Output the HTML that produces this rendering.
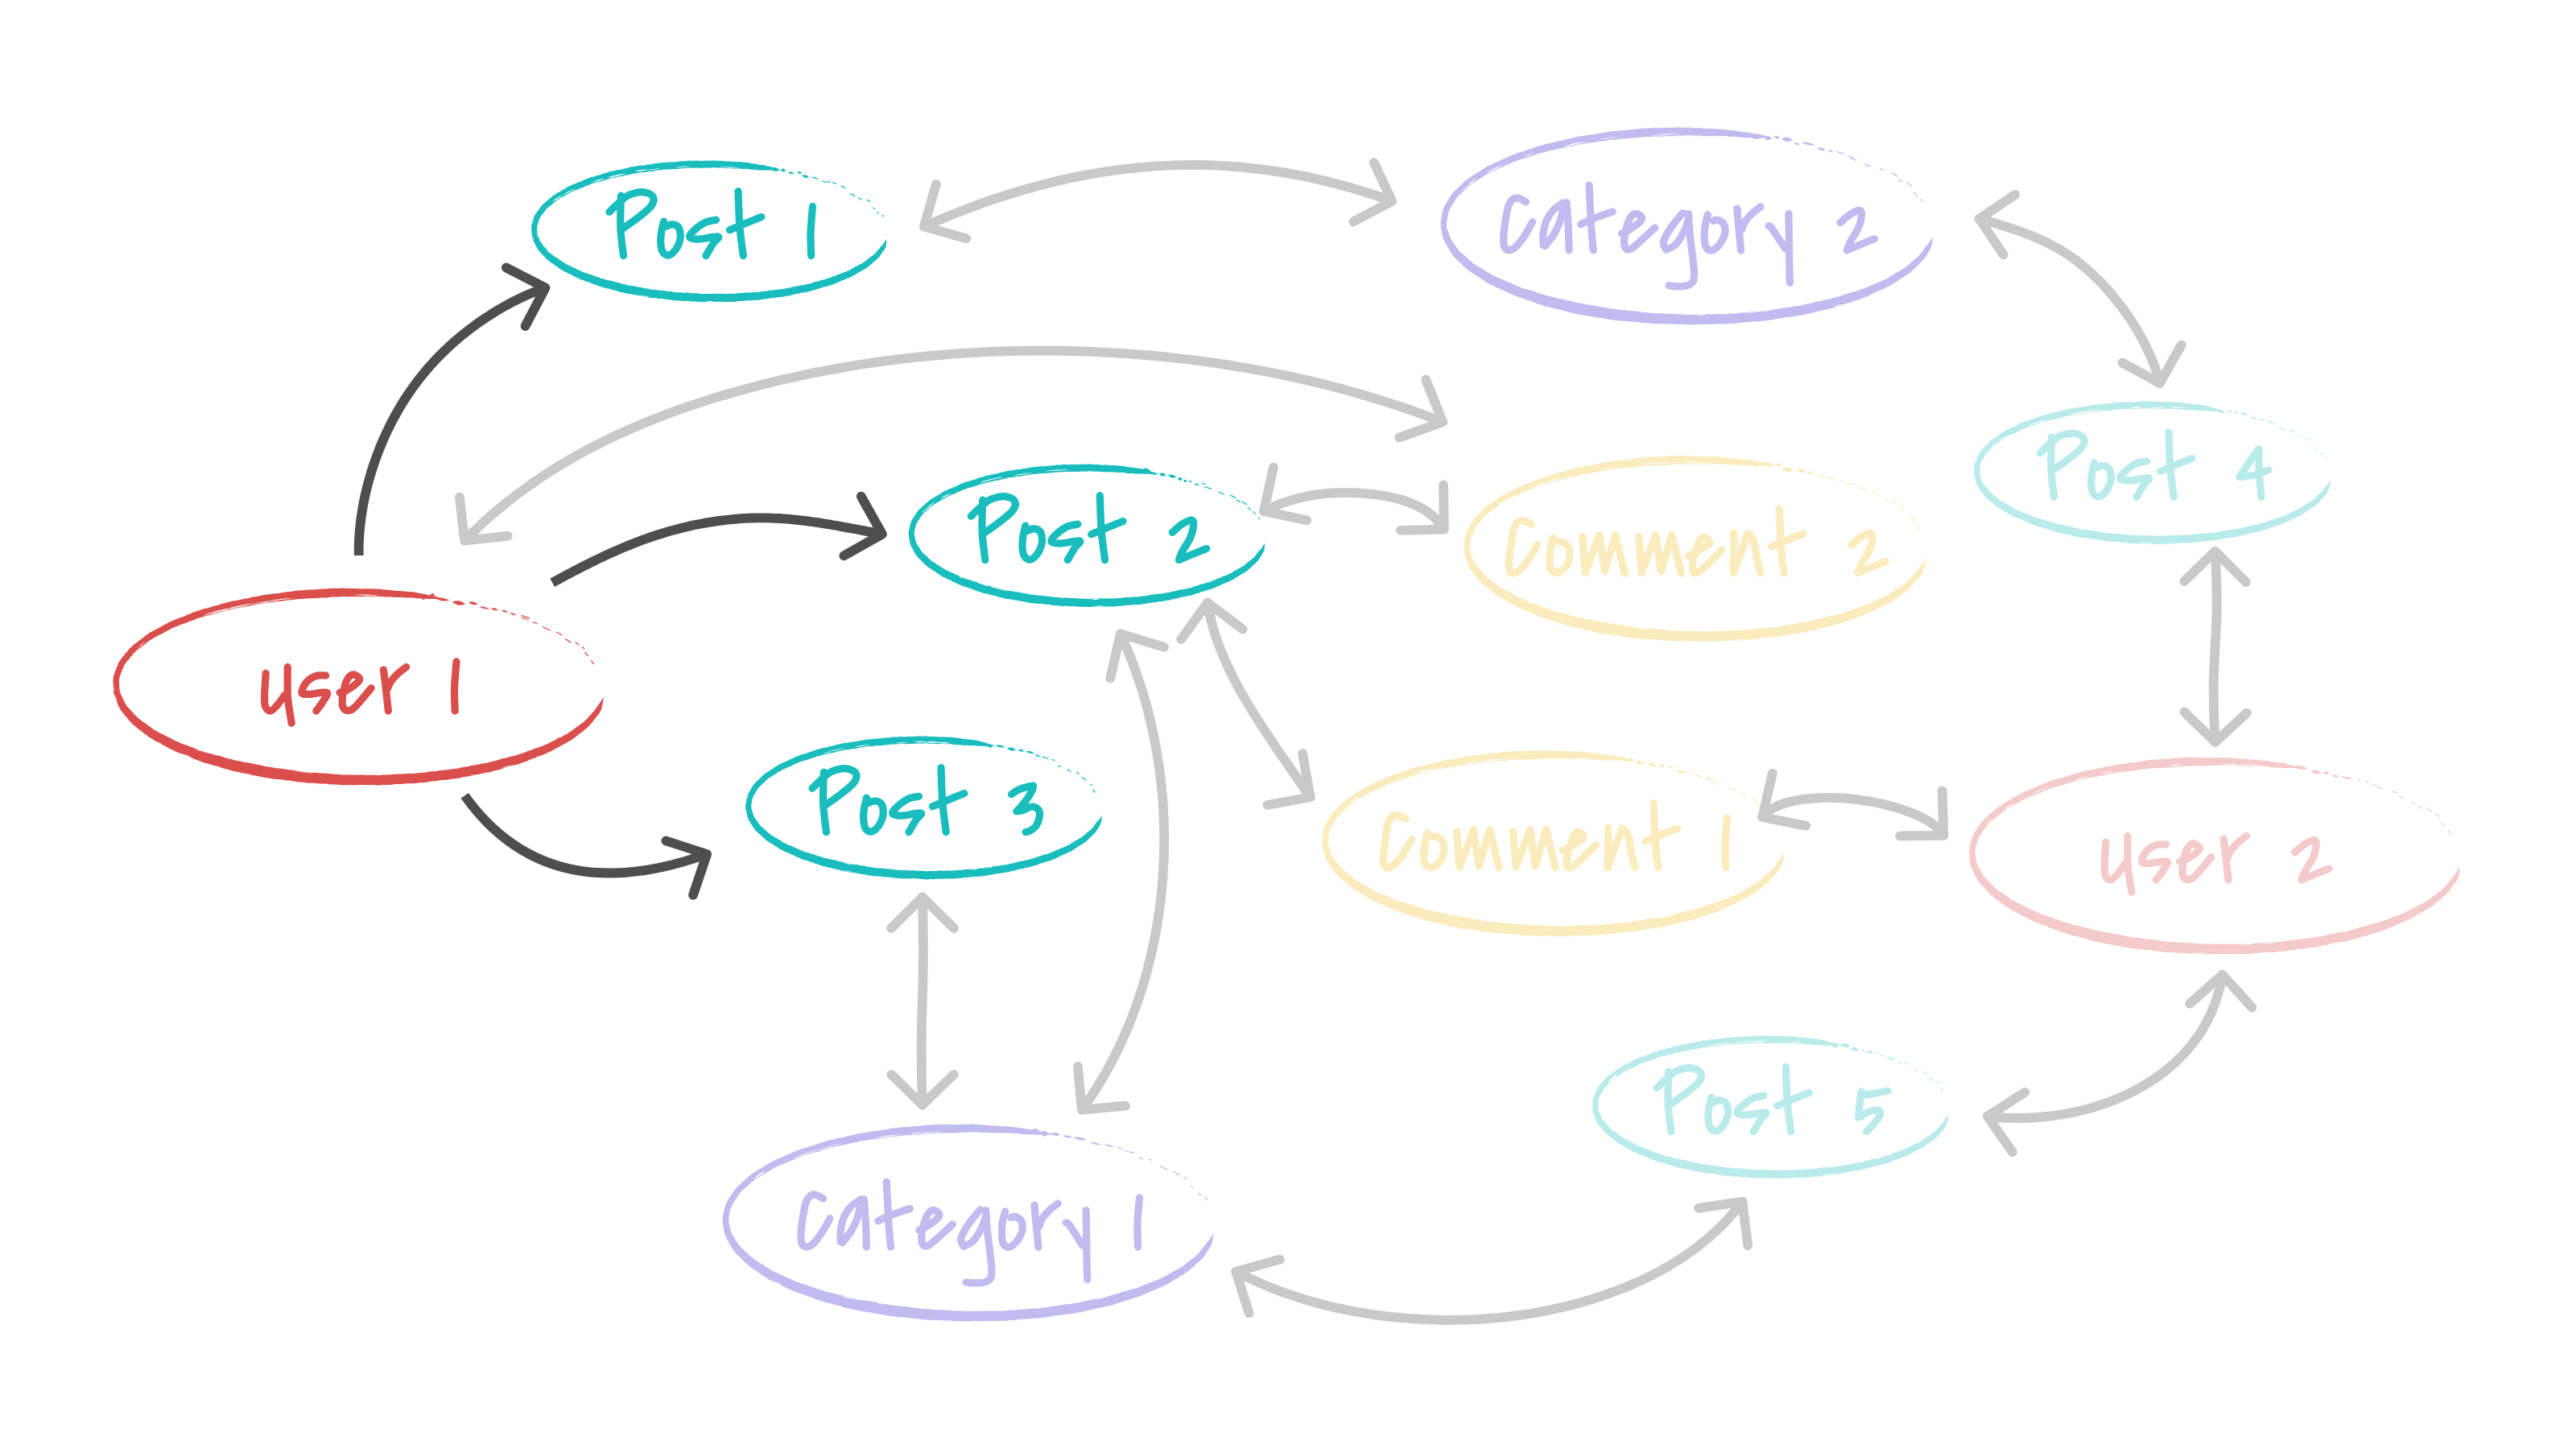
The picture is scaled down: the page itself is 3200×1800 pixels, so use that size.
<!DOCTYPE html>
<html><head><meta charset="utf-8"><title>Diagram</title>
<style>html,body{margin:0;padding:0;background:#fff;width:3200px;height:1800px;overflow:hidden;font-family:"Liberation Sans",sans-serif}svg{display:block}</style>
</head><body><svg xmlns="http://www.w3.org/2000/svg" width="3200" height="1800" viewBox="0 0 3200 1800"><path d="M1101.4 296.5L1101.5 297.3L1101.4 298L1101.2 298.7L1101.1 299.4L1101.1 300.2L1101.2 301L1101.2 301.9L1101.1 302.6L1100.9 303.4L1100.7 304.2L1100.7 305L1100.6 305.9L1100.5 306.8L1100.1 307.5L1099.7 308.2L1099.2 308.9L1098.8 309.7L1098.5 310.5L1098 311.2L1097.4 311.8L1096.7 312.4L1096.3 313.1L1095.9 313.9L1095.5 314.7L1094.9 315.5L1094.3 316.1L1093.7 316.8L1093.2 317.6L1092.8 318.5L1092.2 319.3L1091.6 319.9L1090.8 320.5L1090.1 321.2L1089.5 322L1088.9 322.7L1088.1 323.4L1087.3 323.9L1086.4 324.5L1085.6 325.1L1084.9 325.9L1084.2 326.6L1083.4 327.3L1082.5 327.9L1081.7 328.5L1080.9 329.2L1080.2 330.1L1079.4 330.8L1078.5 331.4L1077.5 332L1076.6 332.6L1075.7 333.3L1074.8 334L1073.9 334.6L1072.8 335.1L1071.7 335.6L1070.7 336.1L1069.7 336.8L1068.7 337.5L1067.7 338L1066.6 338.5L1065.5 339L1064.5 339.7L1063.5 340.5L1062.4 341.2L1061.3 341.8L1060.2 342.3L1059 342.8L1058 343.5L1056.9 344.2L1055.7 344.8L1054.5 345.2L1053.2 345.6L1052 346.1L1050.8 346.7L1049.6 347.3L1048.3 347.8L1047 348.1L1045.7 348.5L1044.4 349.1L1043.2 349.8L1041.9 350.4L1040.6 350.9L1039.3 351.4L1038 351.9L1036.7 352.5L1035.4 353.2L1034 353.7L1032.6 354.1L1031.2 354.4L1029.8 354.8L1028.4 355.3L1027 355.8L1025.6 356.2L1024.1 356.5L1022.6 356.8L1021.1 357.2L1019.7 357.8L1018.3 358.3L1016.8 358.7L1015.3 359L1013.8 359.4L1012.3 360L1010.8 360.6L1009.3 361.1L1007.8 361.4L1006.2 361.7L1004.6 362L1003.1 362.5L1001.6 363L1000 363.3L998.3 363.4L996.7 363.6L995.1 363.9L993.5 364.4L991.9 364.8L990.3 365.1L988.6 365.3L987 365.6L985.4 366L983.7 366.5L982.1 367L980.4 367.2L978.7 367.4L977.1 367.8L975.4 368.2L973.7 368.6L972 368.8L970.3 368.9L968.5 369L966.8 369.2L965.1 369.5L963.4 369.8L961.6 370L959.9 370L958.1 370.2L956.4 370.5L954.7 371L952.9 371.3L951.1 371.5L949.4 371.6L947.6 371.8L945.8 372.2L944.1 372.5L942.3 372.7L940.5 372.7L938.7 372.8L936.9 372.9L935.1 373.1L933.2 373.3L931.4 373.3L929.6 373.3L927.8 373.3L926 373.5L924.1 373.8L922.3 374L920.5 374.1L918.7 374.1L916.8 374.2L915 374.5L913.2 374.8L911.3 374.9L909.5 374.9L907.6 374.8L905.8 374.9L903.9 375L902.1 375.1L900.2 375L898.4 374.9L896.5 374.7L894.7 374.8L892.8 374.9L891 375L889.1 374.9L887.3 374.8L885.4 374.9L883.5 375L881.7 375.2L879.8 375.3L878 375.2L876.1 375.1L874.3 375L872.4 375.1L870.5 375.1L868.7 375L866.8 374.7L865 374.5L863.1 374.4L861.3 374.4L859.4 374.4L857.6 374.2L855.8 373.9L853.9 373.8L852.1 373.9L850.2 373.9L848.4 373.9L846.6 373.7L844.7 373.5L842.9 373.4L841.1 373.5L839.2 373.4L837.4 373.2L835.6 372.9L833.8 372.6L832 372.4L830.2 372.3L828.4 372.1L826.6 371.8L824.8 371.4L823 371.1L821.2 371L819.4 371L817.6 370.9L815.9 370.6L814.1 370.3L812.3 370.1L810.5 370.1L808.8 370L807 369.7L805.3 369.4L803.6 369L801.8 368.7L800.1 368.5L798.4 368.2L796.7 367.8L795 367.3L793.3 366.9L791.6 366.7L789.9 366.5L788.2 366.3L786.5 365.9L784.9 365.5L783.2 365.2L781.5 365.1L779.8 364.9L778.1 364.6L776.5 364.2L774.9 363.7L773.3 363.4L771.6 363.1L770 362.8L768.4 362.3L766.9 361.7L765.4 361.1L763.8 360.7L762.2 360.4L760.6 360.1L759.1 359.5L757.6 359L756 358.6L754.5 358.4L752.9 358.1L751.4 357.7L749.9 357.2L748.4 356.7L746.9 356.3L745.4 356L743.9 355.6L742.5 355L741.1 354.3L739.8 353.7L738.3 353.3L736.9 352.8L735.5 352.4L734.2 351.7L732.8 351.1L731.5 350.6L730.1 350.2L728.6 349.9L727.3 349.4L726 348.8L724.7 348.2L723.3 347.8L722 347.4L720.7 347L719.4 346.4L718.2 345.7L717 345L715.8 344.5L714.5 344L713.3 343.4L712.2 342.7L711 342L709.9 341.3L708.7 340.8L707.5 340.4L706.3 339.9L705.2 339.2L704.1 338.6L703 338L701.8 337.6L700.6 337.1L699.5 336.5L698.5 335.8L697.5 335.1L696.5 334.5L695.4 333.9L694.4 333.3L693.5 332.6L692.6 331.7L691.7 331L690.7 330.4L689.7 329.9L688.8 329.3L687.9 328.5L687.1 327.8L686.1 327.2L685.1 326.7L684.2 326.2L683.3 325.6L682.5 324.8L681.8 324.1L680.9 323.4L680 322.9L679.2 322.2L678.6 321.4L677.9 320.6L677.3 319.8L676.5 319.1L675.8 318.5L675.1 317.8L674.5 317L673.9 316.2L673.3 315.5L672.5 314.9L671.7 314.3L671.1 313.6L670.6 312.8L670 312.1L669.4 311.4L668.7 310.8L668.1 310.1L667.7 309.3L667.4 308.4L667 307.6L666.5 306.9L666 306.2L665.6 305.4L665.3 304.6L665 303.8L664.7 303L664.2 302.3L663.7 301.6L663.3 300.9L663 300.1L662.8 299.3L662.4 298.6L661.9 297.9L661.6 297.2L661.4 296.4L661.3 295.5L661.2 294.7L661 294L660.7 293.2L660.6 292.4L660.6 291.6L660.7 290.8L660.7 290L660.5 289.3L660.3 288.5L660.2 287.7L660.3 287L660.3 286.2L660.2 285.4L660 284.6L659.9 283.9L659.9 283.1L660.1 282.3L660.2 281.5L660.2 280.8L660.2 280L660.3 279.2L660.6 278.5L661 277.7L661.2 277L661.4 276.2L661.5 275.4L661.7 274.7L662.1 273.9L662.4 273.2L662.6 272.4L662.7 271.6L662.8 270.8L663.1 270L663.5 269.3L663.9 268.6L664.2 267.8L664.4 267L664.8 266.2L665.3 265.6L666 264.9L666.5 264.3L666.9 263.5L667.3 262.7L667.8 262L668.5 261.4L669.1 260.8L669.6 260.1L670 259.2L670.4 258.4L671 257.7L671.6 257.1L672.3 256.4L672.8 255.6L673.3 254.8L673.9 254L674.6 253.4L675.4 252.9L676.2 252.2L676.9 251.5L677.6 250.8L678.3 250.2L679.2 249.7L680.1 249.1L680.9 248.5L681.6 247.7L682.3 247L683.1 246.3L684 245.7L684.8 245.1L685.6 244.3L686.4 243.5L687.2 242.8L688.1 242.2L689.1 241.7L690.1 241.2L691 240.5L691.9 239.8L692.9 239.2L694 238.8L695.1 238.3L696.1 237.8L697.1 237.1L698 236.4L699.1 235.8L700.2 235.3L701.3 234.8L702.3 234.1L703.3 233.3L704.3 232.6L705.5 232.1L706.6 231.6L707.8 231.1L708.9 230.4L710 229.8L711.2 229.2L712.5 228.9L713.8 228.5L715 228L716.2 227.4L717.4 226.8L718.7 226.4L720 226L721.3 225.5L722.5 224.9L723.7 224.2L725 223.6L726.3 223.1L727.7 222.7L729 222.2L730.3 221.6L731.6 221L733 220.5L734.4 220.1L735.8 219.9L737.3 219.5L738.7 218.9L740.1 218.4L741.5 218.1L743 217.8L744.5 217.5L745.9 217L747.3 216.4L748.8 215.8L750.3 215.4L751.8 215.1L753.3 214.7L754.7 214.1L756.2 213.5L757.7 213.1L759.3 212.8L760.9 212.6L762.5 212.2L764 211.8L765.6 211.4L767.2 211.1L768.8 210.9L770.4 210.7L772 210.4L773.6 209.9L775.2 209.5L776.8 209.2L778.5 208.9L780.1 208.6L781.7 208.1L783.4 207.6L785 207.2L786.7 207L788.4 206.8L790.1 206.5L791.7 206.2L793.4 205.8L795.1 205.6L796.9 205.5L798.6 205.5L800.3 205.2L802.1 204.9L803.8 204.6L805.5 204.4L807.3 204.3L809 204.1L810.8 203.7L812.5 203.3L814.2 203L816 202.8L817.8 202.7L819.6 202.5L821.3 202.2L823.1 201.9L824.9 201.7L826.7 201.7L828.5 201.8L830.3 201.7L832.1 201.4L833.9 201.2L835.7 201.2L837.6 201.2L839.4 201.2L841.2 200.9L843 200.6L844.8 200.4L846.7 200.3L848.5 200.3L850.3 200.2L852.2 199.9L854 199.7L855.8 199.6L857.7 199.7L859.5 199.8L861.4 199.7L863.2 199.6L865.1 199.5L866.9 199.6L868.8 199.8L870.6 199.9L872.5 199.8L874.3 199.7L876.2 199.5L878 199.6L879.9 199.7L881.8 199.7L883.6 199.5L885.5 199.4L887.3 199.3L889.2 199.5L891 199.7L892.9 199.7L894.7 199.7L896.6 199.7L898.4 199.9L900.3 200.2L902.1 200.4L904 200.5L905.8 200.5L907.7 200.5L909.5 200.7L911.3 200.9L913.2 201L915 200.9L916.9 200.9L918.7 200.9L920.5 201.1L922.4 201.4L924.2 201.6L926 201.7L927.8 201.8L929.6 202.1L931.4 202.5L933.2 203L935 203.2L936.8 203.4L938.6 203.6L940.4 204L942.1 204.4L943.9 204.7L945.7 204.8L947.5 204.9L949.2 205.2L951 205.6L952.7 206.2L954.4 206.6L956.2 206.9L957.9 207.2L959.6 207.7L961.3 208.3L962.9 209L964.6 209.7L966.2 210.2L967.9 210.8L969.5 211.6L969.5 211.6L967.8 211.5L966 211.6L964.2 211.8L962.5 211.9L960.8 211.7L959 211.4L957.3 211.3L955.5 211.4L953.7 211.5L952 211.6L950.2 211.5L948.4 211.4L946.7 211.4L944.9 211.5L943.1 211.5L941.3 211.3L939.6 211L937.8 210.8L936 210.7L934.2 210.7L932.5 210.6L930.7 210.3L928.9 210L927.1 209.8L925.3 209.8L923.5 209.9L921.7 209.8L919.9 209.6L918.1 209.4L916.3 209.4L914.5 209.5L912.7 209.6L910.8 209.5L909 209.3L907.2 209.1L905.4 209.1L903.6 209.1L901.8 209.1L899.9 208.9L898.1 208.6L896.3 208.4L894.5 208.4L892.7 208.5L890.8 208.4L889 208.3L887.2 208.1L885.4 208.2L883.5 208.4L881.7 208.5L879.9 208.5L878 208.5L876.2 208.4L874.4 208.6L872.6 208.7L870.7 208.8L868.9 208.7L867.1 208.6L865.3 208.5L863.5 208.6L861.6 208.7L859.8 208.7L858 208.6L856.2 208.5L854.4 208.6L852.6 208.8L850.8 209.1L849 209.2L847.2 209.2L845.3 209.3L843.6 209.5L841.8 209.8L840 210L838.2 210L836.4 210L834.6 210.1L832.8 210.2L831.1 210.4L829.3 210.5L827.5 210.5L825.7 210.5L824 210.6L822.2 210.9L820.5 211.2L818.7 211.4L817 211.5L815.2 211.7L813.5 212L811.8 212.4L810.1 212.7L808.4 212.9L806.7 213L804.9 213.2L803.3 213.5L801.6 213.8L799.9 214L798.2 214.1L796.5 214.1L794.8 214.3L793.1 214.7L791.5 215L789.8 215.3L788.2 215.4L786.5 215.7L784.9 216L783.3 216.5L781.7 217L780.1 217.3L778.5 217.5L776.9 217.8L775.3 218.2L773.8 218.7L772.2 219L770.6 219.2L769 219.3L767.4 219.6L765.9 220L764.4 220.4L762.9 220.7L761.3 220.9L759.8 221.2L758.3 221.6L756.8 222.2L755.4 222.7L753.9 223.1L752.5 223.4L751 223.8L749.6 224.3L748.2 224.9L746.8 225.3L745.4 225.6L743.9 225.9L742.5 226.2L741.1 226.7L739.8 227.2L738.4 227.6L737 227.8L735.6 228.1L734.2 228.6L733 229.2L731.7 229.8L730.4 230.2L729.1 230.6L727.8 231.1L726.6 231.7L725.4 232.3L724.2 232.9L722.9 233.3L721.7 233.7L720.4 234.1L719.3 234.7L718.1 235.2L716.9 235.7L715.7 236L714.5 236.3L713.3 236.8L712.2 237.5L711.2 238.1L710 238.6L708.9 239L707.8 239.5L706.8 240.2L705.9 240.9L704.9 241.5L703.8 242L702.8 242.5L701.8 243L700.8 243.7L699.9 244.3L698.9 244.8L697.9 245.2L696.9 245.6L695.9 246.1L695.1 246.8L694.2 247.4L693.3 247.9L692.4 248.4L691.5 248.9L690.7 249.6L690 250.4L689.3 251.1L688.5 251.6L687.6 252.2L686.9 252.8L686.2 253.5L685.6 254.2L684.9 254.8L684 255.2L683.2 255.7L682.5 256.3L681.9 256.9L681.3 257.6L680.6 258.1L679.8 258.6L679.2 259.1L678.6 259.8L678.2 260.5L677.7 261.2L677.1 261.8L676.6 262.4L676.1 263L675.7 263.7L675.3 264.5L674.9 265.1L674.3 265.7L673.8 266.2L673.3 266.8L673 267.4L672.6 268.1L672.1 268.6L671.6 269.2L671.1 269.7L670.8 270.4L670.6 271L670.4 271.7L670 272.3L669.7 272.9L669.4 273.5L669.3 274.2L669.3 274.9L669.1 275.5L668.8 276.1L668.5 276.7L668.3 277.3L668.2 278L668.1 278.6L667.9 279.2L667.6 279.8L667.3 280.4L667.2 281L667.2 281.6L667.2 282.2L667.1 282.9L666.9 283.5L666.9 284.1L667 284.7L667.2 285.3L667.4 286L667.4 286.6L667.3 287.2L667.4 287.8L667.6 288.4L667.8 289L667.9 289.6L667.8 290.3L667.8 290.9L667.9 291.5L668.2 292.1L668.4 292.7L668.5 293.4L668.6 294.1L668.7 294.7L669.1 295.3L669.5 295.8L669.9 296.4L670.1 297L670.4 297.7L670.7 298.3L671.2 298.8L671.6 299.4L672 300L672.2 300.7L672.4 301.4L672.8 302L673.3 302.6L673.7 303.2L674.1 303.8L674.4 304.6L674.7 305.2L675.3 305.8L675.9 306.3L676.5 306.9L677 307.5L677.5 308.2L678.1 308.8L678.8 309.3L679.5 309.7L680.1 310.3L680.6 311L681.1 311.7L681.8 312.3L682.5 312.9L683.2 313.5L683.8 314.2L684.3 314.9L684.9 315.6L685.7 316.2L686.5 316.7L687.3 317.3L688 317.9L688.7 318.6L689.5 319.2L690.5 319.6L691.4 320L692.3 320.6L693.1 321.2L693.9 321.9L694.8 322.4L695.7 322.9L696.7 323.4L697.5 324.1L698.3 324.9L699.2 325.6L700.1 326.1L701.2 326.6L702.2 327.2L703.1 327.8L704.1 328.5L705.1 329L706.2 329.5L707.3 329.8L708.4 330.3L709.5 330.9L710.5 331.5L711.6 332L712.8 332.4L714 332.8L715.1 333.4L716.2 334.1L717.3 334.7L718.4 335.3L719.6 335.7L720.8 336.2L722 336.8L723.1 337.5L724.4 338.1L725.6 338.4L727 338.8L728.3 339.2L729.5 339.7L730.8 340.3L732.1 340.7L733.5 341L734.8 341.3L736.2 341.8L737.4 342.4L738.8 343L740.1 343.4L741.5 343.8L742.9 344.2L744.2 344.8L745.6 345.4L747 346L748.4 346.3L749.9 346.6L751.3 347L752.8 347.5L754.2 347.9L755.7 348.3L757.2 348.5L758.8 348.7L760.3 349.1L761.7 349.6L763.2 350.1L764.7 350.4L766.3 350.7L767.8 351L769.4 351.5L770.9 352.1L772.4 352.6L774 352.9L775.6 353.1L777.2 353.5L778.7 353.9L780.3 354.4L781.9 354.7L783.6 354.8L785.2 354.9L786.9 355.2L788.5 355.6L790.1 356L791.8 356.2L793.4 356.4L795.1 356.7L796.8 357.1L798.4 357.5L800.1 358L801.7 358.2L803.5 358.4L805.2 358.7L806.8 359.1L808.5 359.5L810.2 359.7L812 359.8L813.7 359.9L815.5 360.1L817.2 360.4L818.9 360.6L820.7 360.8L822.4 360.8L824.2 360.9L826 361.2L827.7 361.5L829.5 361.9L831.2 362L833 362.1L834.8 362.3L836.5 362.7L838.3 363L840.1 363.2L841.9 363.2L843.7 363.2L845.5 363.3L847.3 363.5L849.1 363.7L850.9 363.7L852.7 363.7L854.5 363.6L856.3 363.7L858.1 364L859.9 364.2L861.8 364.2L863.6 364.2L865.4 364.3L867.2 364.6L869 364.8L870.8 365L872.7 365L874.5 364.9L876.3 364.9L878.1 365L880 365.1L881.8 365.1L883.6 364.9L885.4 364.7L887.3 364.7L889.1 364.8L890.9 364.9L892.7 364.8L894.6 364.7L896.4 364.7L898.2 364.8L900 365L901.9 365L903.7 364.9L905.5 364.8L907.3 364.8L909.1 364.8L910.9 364.9L912.7 364.8L914.5 364.5L916.3 364.2L918.1 364.1L919.9 364.1L921.7 364L923.5 363.8L925.3 363.6L927.1 363.4L928.9 363.4L930.7 363.4L932.5 363.4L934.2 363.3L936 363L937.8 362.9L939.6 362.9L941.3 362.9L943.1 362.8L944.8 362.4L946.6 362.1L948.3 361.9L950 361.8L951.8 361.6L953.5 361.3L955.2 360.9L956.9 360.6L958.6 360.4L960.3 360.4L962.1 360.2L963.7 360L965.4 359.7L967.1 359.5L968.8 359.4L970.5 359.3L972.2 359.1L973.8 358.7L975.5 358.3L977.1 358L978.8 357.8L980.4 357.6L982 357.2L983.6 356.7L985.2 356.3L986.8 356L988.4 355.8L990 355.5L991.6 355.2L993.1 354.7L994.7 354.4L996.3 354.3L997.9 354.1L999.4 353.9L1001 353.4L1002.5 353L1004 352.6L1005.5 352.4L1007 352.1L1008.5 351.6L1009.9 351L1011.4 350.5L1012.8 350.1L1014.3 349.8L1015.8 349.4L1017.2 348.9L1018.5 348.4L1020 348L1021.4 347.7L1022.9 347.5L1024.3 347.1L1025.6 346.7L1027 346.2L1028.3 345.8L1029.7 345.5L1031.1 345.1L1032.4 344.6L1033.7 344L1034.9 343.4L1036.2 342.9L1037.5 342.5L1038.8 342.1L1040 341.5L1041.2 340.9L1042.4 340.4L1043.7 340L1044.9 339.7L1046.2 339.3L1047.3 338.7L1048.5 338.2L1049.7 337.8L1050.9 337.4L1052.1 337.1L1053.3 336.5L1054.3 335.9L1055.4 335.3L1056.5 334.7L1057.6 334.3L1058.7 333.8L1059.6 333.1L1060.6 332.4L1061.6 331.8L1062.6 331.3L1063.7 330.9L1064.7 330.4L1065.7 329.8L1066.6 329.2L1067.6 328.7L1068.6 328.3L1069.7 327.9L1070.6 327.4L1071.4 326.8L1072.3 326.1L1073.2 325.6L1074.1 325.1L1074.9 324.5L1075.7 323.9L1076.4 323.1L1077.1 322.4L1077.9 321.9L1078.8 321.4L1079.5 320.8L1080.2 320.2L1080.9 319.5L1081.7 319L1082.5 318.5L1083.4 318.1L1084.1 317.6L1084.7 316.9L1085.3 316.3L1086 315.7L1086.8 315.2L1087.4 314.7L1088 314L1088.4 313.3L1088.9 312.6L1089.5 312L1090.1 311.5L1090.6 310.9L1091 310.2L1091.4 309.5L1091.9 308.9L1092.5 308.4L1093.1 307.9L1093.7 307.3L1094 306.6L1094.4 306L1094.9 305.4L1095.5 304.9L1096.1 304.4L1096.6 303.9L1096.9 303.2L1097.3 302.6L1097.8 302L1098.3 301.5L1098.7 300.9L1099 300.2L1099.3 299.6L1099.6 298.9L1100.2 298.4L1100.7 297.8L1101.1 297.2L1101.4 296.5ZM948 208.4L948.6 207.5L949.3 206.7L950 206.1L950.6 205.8L951.1 205.9L951.6 206.3L952.1 207.1L952.5 208L953 209.1L952.9 209.3L952.2 210.2L951.6 211.1L950.9 211.6L950.3 211.9L949.8 211.8L949.3 211.4L948.8 210.7L948.4 209.7L947.9 208.6ZM956.3 209.3L957.8 208.7L959.3 208.2L960.8 207.9L962.2 207.9L963.6 208.1L964.9 208.6L966.2 209.3L967.4 210.2L968.7 211.2L968.6 211.4L967.1 212L965.7 212.5L964.2 212.8L962.8 212.8L961.5 212.6L960.1 212.1L958.9 211.4L957.6 210.5L956.3 209.5ZM969.7 210.7L970.6 210.2L971.4 209.7L972.2 209.4L972.9 209.3L973.6 209.5L974.3 209.8L974.9 210.4L975.5 211.1L976.1 211.8L976.1 212L975.2 212.6L974.4 213L973.6 213.3L972.9 213.4L972.2 213.3L971.5 212.9L970.9 212.4L970.3 211.7L969.7 210.9ZM979.3 214L980.1 213.8L981 213.6L981.8 213.5L982.6 213.6L983.4 213.7L984.2 214L984.9 214.4L985.6 214.9L986.3 215.5L986.3 215.7L985.4 215.9L984.6 216.1L983.8 216.2L982.9 216.1L982.2 216L981.4 215.7L980.7 215.3L979.9 214.8L979.2 214.2ZM990.6 213.8L991.3 213.4L992.1 213.2L992.8 213L993.4 213L994 213.2L994.6 213.5L995.2 213.9L995.7 214.4L996.2 215L996.2 215.2L995.5 215.5L994.7 215.8L994.1 216L993.4 216L992.8 215.8L992.2 215.5L991.6 215.1L991.1 214.6L990.6 214ZM996.3 218L997.4 217.6L998.4 217.4L999.5 217.2L1000.4 217.3L1001.4 217.5L1002.2 217.9L1003.1 218.5L1003.9 219.2L1004.6 220L1004.6 220.2L1003.5 220.5L1002.5 220.8L1001.5 220.9L1000.5 220.9L999.6 220.6L998.7 220.2L997.9 219.6L997.1 218.9L996.3 218.1ZM1007.3 219.5L1008.5 219.6L1009.7 219.7L1010.9 219.9L1012.1 220.1L1013.2 220.5L1014.3 220.9L1015.4 221.3L1016.5 221.9L1017.5 222.4L1017.4 222.6L1016.3 222.5L1015.1 222.4L1013.9 222.2L1012.8 222L1011.6 221.6L1010.5 221.2L1009.4 220.8L1008.4 220.3L1007.3 219.7ZM1020 224.5L1020.9 224.6L1021.9 224.7L1022.8 224.9L1023.7 225.1L1024.6 225.4L1025.5 225.8L1026.3 226.2L1027.2 226.7L1028 227.1L1027.9 227.3L1027 227.2L1026 227.1L1025.1 226.9L1024.2 226.7L1023.3 226.4L1022.5 226L1021.6 225.6L1020.8 225.2L1019.9 224.7Z" fill="#19bdbd"/><path d="M734.9 226.9L736.3 226.2L737.8 225.5L739.2 224.9L740.7 224.3L742.3 223.7L743.8 223.3L745.4 222.8L747 222.5L748.7 222.2L750.3 221.9L752 221.6L752 221.6L750.4 222.3L748.9 222.9L747.3 223.5L745.8 224.1L744.3 224.6L742.7 225.1L741.1 225.5L739.6 225.9L738 226.3L736.4 226.6L734.9 226.9ZM838.2 207.8L839.9 207.5L841.5 207.3L843.2 207.1L844.9 206.9L846.5 206.8L848.2 206.7L849.9 206.6L851.6 206.6L853.2 206.7L854.9 206.7L856.6 206.8L856.6 206.8L854.9 207L853.3 207.2L851.6 207.4L849.9 207.5L848.2 207.6L846.6 207.7L844.9 207.8L843.2 207.8L841.6 207.8L839.9 207.8L838.2 207.8ZM753.2 221L754.6 220.5L756 220L757.4 219.5L758.8 219.1L760.3 218.6L761.8 218.3L763.2 218L764.8 217.7L766.3 217.5L767.8 217.2L769.3 217L769.3 217L767.9 217.5L766.4 218L764.9 218.5L763.5 218.9L762 219.3L760.5 219.6L759.1 220L757.6 220.3L756.1 220.5L754.6 220.8L753.2 221ZM754.8 221L756.8 220.2L758.8 219.5L760.8 218.8L762.9 218.2L765 217.6L767.2 217.1L769.4 216.7L771.6 216.3L773.8 216L776 215.8L778.3 215.5L778.3 215.5L776.1 216.2L773.9 216.8L771.8 217.5L769.7 218L767.5 218.6L765.4 219.1L763.3 219.5L761.1 219.9L759 220.3L756.9 220.6L754.8 221ZM698.6 242.7L699.9 241.8L701.2 240.8L702.6 240L704 239.1L705.5 238.3L707 237.5L708.5 236.8L710.1 236.1L711.8 235.4L713.4 234.8L715.1 234.2L715.1 234.2L713.6 235.1L712 236L710.5 236.8L709 237.7L707.5 238.5L706 239.2L704.5 240L703 240.7L701.5 241.4L700 242L698.6 242.7ZM800.1 212L802.1 211.6L804.1 211.2L806 210.9L808 210.6L810 210.3L812 210L814.1 209.8L816.1 209.6L818.1 209.5L820.2 209.4L822.2 209.3L822.2 209.3L820.2 209.6L818.2 209.9L816.1 210.2L814.1 210.5L812.1 210.7L810.1 211L808.1 211.2L806.1 211.4L804.1 211.6L802.1 211.8L800.1 212ZM686 251L686.9 250L687.9 249L689 248.1L690.1 247.2L691.2 246.3L692.4 245.5L693.7 244.7L695 244L696.4 243.3L697.8 242.7L699.2 242.1L699.2 242.1L698 243L696.8 243.9L695.6 244.9L694.4 245.7L693.2 246.6L692 247.4L690.8 248.2L689.6 248.9L688.3 249.6L687.1 250.3L686 251ZM893.5 207.3L895.9 207.2L898.4 207.2L900.8 207.2L903.3 207.2L905.7 207.3L908.2 207.4L910.6 207.6L913 207.8L915.5 208L917.9 208.3L920.3 208.6L920.3 208.6L917.9 208.6L915.4 208.6L913 208.5L910.6 208.5L908.1 208.4L905.7 208.2L903.2 208.1L900.8 207.9L898.4 207.7L895.9 207.5L893.5 207.3ZM788.7 213L790 212.5L791.4 212.1L792.7 211.7L794.1 211.4L795.5 211.1L796.9 210.9L798.3 210.7L799.8 210.6L801.2 210.6L802.7 210.6L804.1 210.6L804.1 210.6L802.7 211L801.3 211.4L799.9 211.8L798.5 212.1L797.1 212.4L795.7 212.6L794.3 212.8L792.9 212.9L791.5 212.9L790.1 213L788.7 213ZM671.9 301.2L671.5 300.8L671.1 300.4L670.8 299.9L670.5 299.4L670.2 298.9L670 298.4L669.9 297.9L669.8 297.3L669.7 296.8L669.7 296.8L670 297.2L670.4 297.7L670.7 298.1L670.9 298.6L671.2 299.1L671.4 299.6L671.6 300.1L671.8 300.7L671.9 301.2ZM808.4 369.2L806.7 369.1L805 369L803.3 368.8L801.6 368.6L799.9 368.3L798.2 368L796.6 367.6L794.9 367.2L793.3 366.8L793.3 366.8L795 367L796.6 367.1L798.3 367.3L800 367.6L801.7 367.8L803.4 368.1L805.1 368.5L806.8 368.9L808.4 369.2ZM887.2 374.5L886 374.7L884.7 374.8L883.5 374.9L882.3 374.9L881 374.9L879.8 374.8L878.5 374.7L877.3 374.6L876 374.4L876 374.4L877.3 374.3L878.5 374.2L879.8 374.1L881 374.1L882.3 374.1L883.5 374.1L884.8 374.2L886 374.4L887.2 374.5ZM684.3 315.5L683.5 315L682.7 314.5L682 314L681.3 313.4L680.6 312.7L680 312.1L679.5 311.3L679 310.6L678.5 309.8L678.5 309.8L679.3 310.3L680 310.9L680.7 311.4L681.3 312L682 312.6L682.6 313.3L683.2 314L683.8 314.7L684.3 315.5ZM667.9 293.8L667.6 293.3L667.3 292.7L667.1 292.1L666.9 291.5L666.8 290.9L666.7 290.3L666.7 289.7L666.7 289.1L666.7 288.5L666.7 288.5L666.9 289.1L667.1 289.7L667.3 290.2L667.4 290.8L667.5 291.4L667.6 292L667.7 292.6L667.8 293.2L667.9 293.8ZM663.1 298.3L662.8 297.9L662.5 297.5L662.2 297L661.9 296.5L661.8 296L661.7 295.5L661.7 295L661.7 294.4L661.7 293.9L661.7 293.9L662 294.3L662.3 294.8L662.5 295.2L662.8 295.7L662.9 296.2L663 296.7L663.1 297.2L663.1 297.8L663.1 298.3Z" fill="#fff"/><path d="M1027.8 225.1L1031 226.2M1034.6 226.7L1038.8 228.3M1044.7 231.1L1049.9 233.4M1056.6 240.6L1061.8 243.3M1066.6 245.8L1070 247.9M1077.2 248.1L1080.8 250.7M1084.9 258.1L1086.3 259.5M1090.1 263.6L1091.4 265M1096.5 267.2L1097.5 268.8" fill="none" stroke="#19bdbd" stroke-width="1.3" stroke-linecap="round"/><path d="M771.4 243.2C771.3 249.8 770.3 270.2 770.8 282.6C771.3 295 773.9 311.8 774.5 317.6M757 263.2C759.4 260.9 767.2 253 771.4 249.5C775.6 246 777.6 243.8 782 242C786.5 240.2 793.5 238.3 798.3 238.6C803.1 238.9 808.9 241.1 810.8 243.9C812.7 246.6 812.3 250.9 809.5 255.1C806.8 259.3 800.8 263.9 794.5 268.9C788.3 273.9 775.8 282.4 772 285.1M824.5 275.1C824 277.6 821.9 285.4 821.3 290.1C820.7 294.8 820.5 299.3 820.8 303.1C821.1 306.9 821.8 310.8 823.3 313.1C824.8 315.4 827.5 316.9 829.5 317.1C831.6 317.3 833.8 315.9 835.8 314.1C837.8 312.3 840.2 309.3 841.8 306.1C843.4 302.9 844.9 298.8 845.2 295.1C845.5 291.4 844.9 286.7 843.8 284.1C842.7 281.5 840.6 280.3 838.8 279.5C837 278.7 834.6 278.8 832.8 279.1C831 279.4 828.6 280.8 827.8 281.1M889.5 273.2C887.3 273.7 880.6 274 875.8 276.4C871 278.8 863.9 284.5 860.8 287.6C857.7 290.7 855.6 293.5 857 295.1C858.5 296.7 863.7 297.2 869.5 297C875.4 296.8 889.3 292.9 892 293.9C894.8 294.8 888.3 298.6 885.8 302.6C883.3 306.6 878.5 315.1 877 317.6M917 237.6C917.3 244.7 917.8 266.8 918.8 280.1C919.8 293.4 922.5 311.4 923.3 317.6M906.4 285.7C909.6 284.4 919.2 280.3 925.8 277.6C932.4 274.9 942.5 270.9 945.8 269.5M1009.5 256.4C1009.1 261.8 1007.4 278.6 1007 288.9C1006.7 299.1 1007.6 312.8 1007.7 317.6" fill="none" stroke="#19bdbd" stroke-width="9.2" stroke-linecap="round" stroke-linejoin="round"/><path d="M1571.1 674.6L1571.2 675.3L1571 676L1570.9 676.8L1571 677.6L1571.1 678.4L1571.2 679.2L1571.1 680L1570.9 680.8L1570.7 681.6L1570.6 682.4L1570.6 683.3L1570.4 684.1L1570.1 684.8L1569.6 685.5L1569.2 686.3L1568.9 687L1568.5 687.8L1568.1 688.5L1567.5 689.2L1567 689.9L1566.5 690.6L1566.2 691.5L1565.8 692.3L1565.3 693L1564.7 693.7L1564.1 694.4L1563.6 695.2L1563.2 696.1L1562.6 696.8L1561.9 697.5L1561.2 698.1L1560.4 698.7L1559.8 699.4L1559.2 700.2L1558.4 700.9L1557.6 701.4L1556.8 702L1556.1 702.7L1555.4 703.5L1554.7 704.3L1554 705L1553.1 705.6L1552.3 706.3L1551.5 707L1550.8 707.8L1550 708.6L1549.1 709.2L1548.1 709.7L1547.2 710.3L1546.3 711L1545.4 711.7L1544.4 712.3L1543.4 712.8L1542.3 713.2L1541.3 713.8L1540.4 714.5L1539.4 715.2L1538.4 715.8L1537.3 716.4L1536.3 716.9L1535.2 717.6L1534.3 718.4L1533.3 719.1L1532.2 719.7L1531 720.2L1529.8 720.7L1528.7 721.4L1527.6 722.1L1526.5 722.6L1525.2 723L1524 723.4L1522.7 723.9L1521.6 724.5L1520.4 725.1L1519.1 725.7L1517.8 726.1L1516.6 726.5L1515.3 727.2L1514.1 727.9L1512.9 728.5L1511.6 729.1L1510.3 729.5L1508.9 730L1507.6 730.6L1506.4 731.2L1505 731.8L1503.6 732.1L1502.1 732.4L1500.7 732.8L1499.4 733.3L1498 733.8L1496.5 734.2L1495.1 734.5L1493.6 734.9L1492.1 735.3L1490.7 736L1489.3 736.5L1487.8 737L1486.3 737.3L1484.8 737.7L1483.4 738.3L1481.9 738.9L1480.4 739.4L1478.9 739.7L1477.3 739.9L1475.7 740.2L1474.2 740.6L1472.6 741.1L1471 741.4L1469.4 741.6L1467.8 741.8L1466.2 742.1L1464.6 742.6L1463 743.1L1461.4 743.4L1459.8 743.7L1458.1 744L1456.5 744.5L1454.9 745L1453.3 745.4L1451.6 745.7L1449.9 745.9L1448.2 746.1L1446.5 746.5L1444.9 746.9L1443.1 747.1L1441.4 747.2L1439.7 747.3L1438 747.5L1436.2 747.9L1434.5 748.2L1432.8 748.4L1431 748.6L1429.3 748.8L1427.6 749.1L1425.8 749.6L1424.1 749.9L1422.3 750.1L1420.5 750.2L1418.8 750.4L1417 750.7L1415.2 751L1413.4 751.2L1411.6 751.2L1409.8 751.2L1408 751.3L1406.2 751.5L1404.4 751.8L1402.6 751.8L1400.8 751.8L1398.9 751.9L1397.1 752.1L1395.3 752.5L1393.5 752.7L1391.7 752.8L1389.8 752.9L1388 753L1386.2 753.2L1384.3 753.5L1382.5 753.6L1380.6 753.5L1378.8 753.4L1376.9 753.4L1375.1 753.5L1373.2 753.6L1371.4 753.6L1369.5 753.5L1367.7 753.4L1365.8 753.5L1363.9 753.7L1362.1 753.8L1360.2 753.8L1358.4 753.7L1356.5 753.7L1354.6 753.9L1352.8 754.1L1350.9 754.1L1349.1 754L1347.2 753.8L1345.3 753.8L1343.5 753.8L1341.6 753.8L1339.8 753.7L1337.9 753.4L1336.1 753.2L1334.2 753.1L1332.3 753.2L1330.5 753.2L1328.6 753.1L1326.8 752.9L1324.9 752.8L1323.1 752.8L1321.2 752.9L1319.4 752.9L1317.5 752.7L1315.7 752.5L1313.9 752.3L1312 752.3L1310.2 752.3L1308.4 752L1306.6 751.7L1304.8 751.3L1302.9 751.1L1301.1 751.1L1299.3 750.9L1297.5 750.7L1295.7 750.3L1293.9 750.1L1292.1 750L1290.3 750L1288.5 750L1286.7 749.7L1284.9 749.4L1283.2 749.2L1281.4 749.1L1279.6 749L1277.8 748.7L1276.1 748.3L1274.4 747.8L1272.7 747.5L1270.9 747.3L1269.2 747.1L1267.5 746.7L1265.8 746.2L1264.1 745.9L1262.3 745.7L1260.6 745.5L1258.9 745.3L1257.2 745L1255.5 744.6L1253.8 744.3L1252.1 744.2L1250.4 744L1248.8 743.7L1247.2 743.2L1245.5 742.7L1243.9 742.3L1242.3 742L1240.6 741.7L1239.1 741.2L1237.5 740.6L1235.9 740.1L1234.3 739.7L1232.7 739.5L1231.1 739.1L1229.6 738.7L1228.1 738.2L1226.5 737.8L1224.9 737.5L1223.3 737.3L1221.8 736.9L1220.3 736.3L1218.9 735.8L1217.4 735.3L1215.9 734.9L1214.4 734.5L1212.9 734L1211.5 733.3L1210.2 732.7L1208.7 732.2L1207.3 731.8L1205.8 731.4L1204.4 730.8L1203.1 730.2L1201.7 729.7L1200.3 729.3L1198.8 729L1197.5 728.6L1196.1 728L1194.8 727.4L1193.5 726.9L1192.2 726.5L1190.8 726L1189.6 725.4L1188.4 724.7L1187.2 723.9L1185.9 723.4L1184.7 722.9L1183.4 722.4L1182.2 721.7L1181.1 721L1179.9 720.4L1178.7 719.9L1177.4 719.5L1176.2 719L1175.1 718.4L1174 717.7L1172.8 717.2L1171.7 716.7L1170.5 716.2L1169.4 715.6L1168.4 714.8L1167.4 714L1166.4 713.4L1165.3 712.8L1164.3 712.2L1163.4 711.5L1162.5 710.7L1161.5 710L1160.5 709.4L1159.5 708.9L1158.5 708.3L1157.6 707.6L1156.7 706.9L1155.8 706.3L1154.7 705.8L1153.8 705.3L1152.9 704.6L1152.1 703.8L1151.4 703.1L1150.5 702.4L1149.7 701.8L1148.9 701.1L1148.2 700.3L1147.6 699.4L1146.9 698.7L1146.1 698L1145.3 697.4L1144.6 696.7L1143.9 696L1143.3 695.2L1142.6 694.5L1141.8 693.9L1141 693.4L1140.4 692.7L1139.8 691.9L1139.3 691.1L1138.7 690.4L1138.1 689.7L1137.5 689L1137.1 688.2L1136.7 687.3L1136.3 686.5L1135.8 685.7L1135.3 685L1134.8 684.3L1134.5 683.5L1134.2 682.7L1133.8 681.9L1133.2 681.3L1132.7 680.6L1132.3 679.8L1132 679L1131.7 678.2L1131.4 677.5L1130.9 676.8L1130.6 676L1130.4 675.2L1130.3 674.4L1130.3 673.6L1130.1 672.8L1129.8 672L1129.6 671.2L1129.6 670.4L1129.6 669.6L1129.5 668.8L1129.3 668.1L1129 667.3L1128.9 666.6L1128.9 665.8L1128.9 665L1128.8 664.2L1128.6 663.4L1128.5 662.6L1128.6 661.9L1128.8 661.1L1128.9 660.3L1129 659.5L1129 658.7L1129.1 658L1129.4 657.2L1129.7 656.5L1129.9 655.7L1130 654.9L1130 654.1L1130.2 653.3L1130.5 652.6L1130.8 651.8L1130.9 651.1L1131 650.2L1131.1 649.4L1131.4 648.6L1131.9 647.9L1132.3 647.2L1132.6 646.4L1132.9 645.6L1133.3 644.9L1133.8 644.2L1134.4 643.6L1134.9 642.9L1135.3 642.1L1135.7 641.3L1136.1 640.6L1136.7 639.9L1137.3 639.3L1137.7 638.5L1138.1 637.7L1138.5 636.8L1139.1 636.1L1139.7 635.5L1140.3 634.8L1140.9 634L1141.4 633.2L1142 632.5L1142.8 631.9L1143.6 631.4L1144.4 630.8L1145.1 630.1L1145.7 629.3L1146.4 628.6L1147.3 628.1L1148.1 627.5L1148.9 626.8L1149.5 626L1150.2 625.2L1151 624.5L1151.8 623.9L1152.7 623.3L1153.5 622.6L1154.3 621.8L1155.1 621.1L1156 620.5L1157 620L1158 619.5L1158.9 618.9L1159.8 618.2L1160.8 617.6L1161.9 617.1L1162.9 616.6L1163.9 616L1164.9 615.3L1165.8 614.6L1166.8 613.9L1167.9 613.4L1169 612.8L1170 612.1L1171 611.4L1172 610.7L1173.2 610.1L1174.3 609.7L1175.5 609.2L1176.6 608.6L1177.8 608L1178.9 607.4L1180.2 607L1181.5 606.7L1182.7 606.2L1183.9 605.6L1185.1 604.9L1186.3 604.4L1187.6 603.9L1188.9 603.5L1190.1 602.8L1191.3 602.1L1192.5 601.5L1193.8 601L1195.2 600.6L1196.6 600.1L1197.9 599.6L1199.2 599L1200.5 598.5L1202 598.2L1203.4 597.9L1204.8 597.5L1206.2 597L1207.6 596.4L1209 596L1210.5 595.7L1212 595.3L1213.4 594.8L1214.8 594.2L1216.2 593.6L1217.7 593.1L1219.2 592.8L1220.7 592.4L1222.2 591.9L1223.7 591.3L1225.2 590.9L1226.7 590.6L1228.3 590.4L1229.9 590.1L1231.4 589.7L1233 589.2L1234.6 588.9L1236.2 588.7L1237.8 588.5L1239.4 588.1L1241 587.6L1242.6 587.1L1244.2 586.7L1245.8 586.4L1247.5 586.1L1249.1 585.7L1250.7 585.2L1252.4 584.8L1254 584.6L1255.7 584.4L1257.4 584.2L1259.1 583.9L1260.8 583.5L1262.5 583.3L1264.2 583.2L1266 583.1L1267.7 582.9L1269.4 582.5L1271.1 582.1L1272.8 581.9L1274.6 581.7L1276.3 581.5L1278.1 581.1L1279.8 580.7L1281.6 580.4L1283.3 580.2L1285.1 580.1L1286.9 580L1288.7 579.7L1290.4 579.4L1292.2 579.3L1294.1 579.3L1295.9 579.3L1297.7 579.2L1299.5 579L1301.3 578.7L1303.1 578.6L1304.9 578.6L1306.7 578.5L1308.5 578.2L1310.3 577.9L1312.2 577.6L1314 577.5L1315.8 577.5L1317.7 577.4L1319.5 577.2L1321.3 577L1323.2 577L1325 577.1L1326.9 577.2L1328.7 577.2L1330.6 577.1L1332.4 576.9L1334.3 577L1336.2 577.1L1338 577.1L1339.9 577L1341.7 576.8L1343.6 576.7L1345.4 576.7L1347.3 576.8L1349.2 576.8L1351 576.7L1352.9 576.5L1354.7 576.5L1356.6 576.7L1358.4 576.9L1360.3 577L1362.2 577L1364 577L1365.9 577.2L1367.7 577.4L1369.6 577.7L1371.4 577.7L1373.3 577.6L1375.1 577.6L1377 577.7L1378.8 577.9L1380.7 578L1382.5 578L1384.4 577.9L1386.2 577.9L1388 578.2L1389.9 578.5L1391.7 578.7L1393.5 578.8L1395.4 579L1397.2 579.3L1399 579.7L1400.7 580.1L1402.6 580.4L1404.4 580.5L1406.2 580.6L1408 580.9L1409.7 581.3L1411.5 581.6L1413.3 581.7L1415.1 581.8L1416.9 581.9L1418.7 582.4L1420.4 582.9L1422.1 583.4L1423.9 583.7L1425.6 584.1L1427.3 584.6L1429 585.3L1430.7 585.9L1432.3 586.5L1434 587L1435.7 587.6L1437.3 588.3L1438.9 589.1L1438.9 589.1L1437.2 589L1435.4 589L1433.7 589.1L1431.9 589.3L1430.1 589.2L1428.4 589L1426.7 588.8L1424.9 588.7L1423.2 588.7L1421.4 588.8L1419.6 588.7L1417.8 588.6L1416.1 588.5L1414.3 588.4L1412.5 588.5L1410.7 588.5L1408.9 588.4L1407.2 588.1L1405.4 588L1403.6 588L1401.8 588L1400 587.9L1398.2 587.6L1396.5 587.3L1394.7 587.1L1392.9 587.1L1391 587.1L1389.2 587L1387.4 586.7L1385.6 586.5L1383.8 586.4L1382 586.5L1380.2 586.6L1378.4 586.5L1376.5 586.3L1374.7 586.2L1372.9 586.3L1371.1 586.4L1369.2 586.3L1367.4 586.1L1365.6 585.9L1363.8 585.8L1361.9 585.8L1360.1 585.8L1358.3 585.7L1356.4 585.5L1354.6 585.3L1352.8 585.4L1351 585.5L1349.1 585.7L1347.3 585.7L1345.5 585.6L1343.6 585.6L1341.8 585.8L1340 586L1338.1 586.1L1336.3 586.1L1334.5 586L1332.7 585.9L1330.8 586L1329 586.2L1327.2 586.1L1325.4 586L1323.6 585.9L1321.7 586L1319.9 586.2L1318.1 586.4L1316.3 586.4L1314.5 586.4L1312.7 586.5L1310.9 586.8L1309.1 587.1L1307.4 587.3L1305.6 587.4L1303.8 587.4L1302 587.5L1300.2 587.8L1298.4 588L1296.7 588.1L1294.9 588.1L1293.1 588L1291.3 588.2L1289.6 588.4L1287.8 588.7L1286.1 588.8L1284.3 588.9L1282.6 589L1280.9 589.3L1279.2 589.8L1277.5 590.1L1275.7 590.3L1274 590.5L1272.3 590.7L1270.6 591.1L1269 591.4L1267.3 591.7L1265.6 591.7L1263.9 591.8L1262.2 592L1260.5 592.4L1258.9 592.7L1257.2 592.9L1255.6 593L1253.9 593.2L1252.3 593.6L1250.7 594.1L1249.1 594.5L1247.5 594.8L1245.9 595L1244.3 595.4L1242.7 595.9L1241.2 596.4L1239.6 596.7L1238.1 596.9L1236.5 597.1L1234.9 597.4L1233.4 597.8L1231.9 598.2L1230.3 598.5L1228.8 598.7L1227.2 598.9L1225.8 599.4L1224.3 599.9L1222.9 600.4L1221.4 600.7L1219.9 601.1L1218.5 601.5L1217.1 602L1215.7 602.6L1214.3 603.1L1212.9 603.5L1211.5 603.8L1210.1 604.2L1208.7 604.7L1207.4 605.2L1206 605.5L1204.6 605.8L1203.2 606.1L1201.9 606.5L1200.6 607.1L1199.3 607.6L1198 608.1L1196.7 608.4L1195.4 608.9L1194.2 609.5L1193 610.2L1191.8 610.8L1190.6 611.2L1189.3 611.6L1188.1 612.1L1187 612.8L1185.9 613.4L1184.7 613.8L1183.5 614.1L1182.2 614.5L1181.1 615L1180 615.6L1178.9 616.2L1177.8 616.6L1176.7 617L1175.6 617.5L1174.6 618.2L1173.6 618.9L1172.7 619.5L1171.6 620.1L1170.6 620.5L1169.6 621.1L1168.7 621.8L1167.8 622.5L1166.9 623.1L1165.9 623.5L1164.9 623.9L1163.9 624.5L1163.1 625.1L1162.2 625.7L1161.3 626.2L1160.3 626.6L1159.4 627.1L1158.7 627.8L1158 628.5L1157.2 629.2L1156.4 629.8L1155.6 630.3L1154.9 631L1154.3 631.7L1153.7 632.4L1153 633.1L1152.2 633.6L1151.4 634.1L1150.7 634.7L1150.2 635.4L1149.5 636L1148.8 636.5L1148.1 637L1147.4 637.5L1146.8 638.2L1146.4 638.9L1145.9 639.5L1145.3 640.1L1144.7 640.7L1144.2 641.3L1143.9 642.1L1143.6 642.8L1143.2 643.5L1142.7 644.1L1142.1 644.6L1141.7 645.3L1141.4 645.9L1141.1 646.6L1140.6 647.2L1140.1 647.7L1139.6 648.2L1139.3 648.9L1139.1 649.5L1138.8 650.2L1138.4 650.8L1138 651.4L1137.8 652L1137.7 652.7L1137.7 653.4L1137.5 654L1137.3 654.6L1137 655.2L1136.9 655.9L1136.9 656.5L1136.8 657.2L1136.6 657.8L1136.3 658.4L1136.1 659L1136 659.6L1136 660.2L1135.9 660.8L1135.8 661.5L1135.6 662.1L1135.5 662.7L1135.7 663.3L1135.9 664L1136 664.6L1136 665.2L1136 665.8L1136.2 666.5L1136.5 667.1L1136.7 667.7L1136.8 668.3L1136.8 668.9L1136.8 669.6L1137 670.2L1137.3 670.8L1137.5 671.4L1137.5 672.1L1137.6 672.8L1137.7 673.4L1138.1 674L1138.5 674.6L1138.8 675.2L1139 675.8L1139.3 676.5L1139.7 677.1L1140.2 677.6L1140.7 678.1L1141.1 678.8L1141.4 679.4L1141.7 680.1L1142.1 680.7L1142.6 681.3L1143 681.9L1143.4 682.6L1143.7 683.3L1144.1 684L1144.6 684.6L1145.2 685.2L1145.8 685.8L1146.2 686.5L1146.7 687.1L1147.3 687.7L1148 688.2L1148.8 688.7L1149.4 689.3L1150 689.9L1150.6 690.6L1151.3 691.2L1152 691.7L1152.7 692.3L1153.3 693L1153.9 693.7L1154.5 694.5L1155.3 695L1156.1 695.6L1156.9 696.2L1157.6 696.9L1158.3 697.6L1159.1 698.2L1160 698.6L1161 699.1L1161.9 699.6L1162.7 700.3L1163.5 700.9L1164.5 701.4L1165.5 701.9L1166.4 702.4L1167.3 703L1168.2 703.7L1169 704.4L1170 705L1171.1 705.5L1172 706.1L1173 706.8L1173.9 707.5L1174.9 708.1L1176.1 708.5L1177.2 708.9L1178.3 709.4L1179.3 710L1180.4 710.6L1181.6 711.1L1182.8 711.4L1184 711.8L1185.1 712.4L1186.2 713L1187.3 713.7L1188.5 714.2L1189.8 714.6L1191 715.1L1192.1 715.8L1193.3 716.5L1194.5 717L1195.8 717.5L1197.1 717.8L1198.4 718.3L1199.7 718.9L1200.9 719.4L1202.3 719.8L1203.7 720.1L1205.1 720.4L1206.4 720.9L1207.7 721.4L1209 721.9L1210.4 722.3L1211.9 722.7L1213.3 723.1L1214.6 723.7L1216 724.4L1217.4 724.9L1218.8 725.3L1220.3 725.6L1221.7 726L1223.2 726.6L1224.6 727.1L1226.1 727.4L1227.6 727.6L1229.2 727.8L1230.7 728.2L1232.2 728.7L1233.7 729.1L1235.3 729.4L1236.8 729.6L1238.4 729.9L1239.9 730.4L1241.4 731L1243 731.4L1244.6 731.8L1246.2 732.1L1247.8 732.4L1249.3 732.9L1250.9 733.4L1252.5 733.7L1254.2 733.9L1255.9 734.1L1257.5 734.4L1259.1 734.7L1260.8 735.1L1262.5 735.3L1264.2 735.4L1265.8 735.6L1267.5 736L1269.2 736.4L1270.8 736.8L1272.5 737.1L1274.2 737.2L1275.9 737.6L1277.6 738L1279.3 738.4L1281 738.7L1282.8 738.8L1284.5 738.9L1286.3 739.1L1288 739.4L1289.8 739.7L1291.5 739.8L1293.3 739.8L1295.1 739.9L1296.8 740.1L1298.6 740.4L1300.4 740.7L1302.1 740.8L1303.9 740.9L1305.7 741.1L1307.5 741.4L1309.3 741.8L1311 742L1312.8 742.1L1314.6 742.1L1316.5 742.3L1318.2 742.5L1320.1 742.7L1321.9 742.7L1323.7 742.6L1325.5 742.6L1327.3 742.7L1329.1 742.9L1331 743L1332.8 743L1334.6 742.9L1336.4 743L1338.3 743.3L1340.1 743.5L1341.9 743.7L1343.7 743.7L1345.6 743.6L1347.4 743.7L1349.2 743.9L1351 744L1352.9 744L1354.7 743.8L1356.5 743.6L1358.4 743.6L1360.2 743.7L1362 743.7L1363.8 743.6L1365.7 743.4L1367.5 743.3L1369.3 743.4L1371.1 743.6L1373 743.6L1374.8 743.5L1376.6 743.4L1378.4 743.4L1380.2 743.5L1382.1 743.6L1383.9 743.5L1385.7 743.2L1387.5 743L1389.3 742.9L1391.1 742.9L1392.9 742.8L1394.7 742.5L1396.4 742.2L1398.2 742L1400 742L1401.8 742L1403.6 741.9L1405.4 741.7L1407.1 741.5L1408.9 741.4L1410.7 741.4L1412.5 741.4L1414.2 741.3L1416 741L1417.7 740.7L1419.4 740.5L1421.2 740.4L1422.9 740.3L1424.6 739.9L1426.3 739.5L1428 739.1L1429.7 739L1431.5 738.8L1433.2 738.6L1434.8 738.3L1436.5 738L1438.2 737.8L1439.9 737.7L1441.6 737.6L1443.3 737.4L1444.9 737.1L1446.6 736.7L1448.2 736.5L1449.9 736.3L1451.5 736.1L1453.1 735.7L1454.7 735.2L1456.3 734.7L1457.9 734.4L1459.5 734.2L1461.1 733.9L1462.6 733.4L1464.2 733L1465.7 732.6L1467.3 732.5L1468.9 732.3L1470.5 732L1472 731.6L1473.5 731.2L1475 730.9L1476.6 730.7L1478.1 730.4L1479.5 729.9L1481 729.4L1482.4 728.8L1483.9 728.5L1485.3 728.1L1486.8 727.7L1488.1 727.2L1489.5 726.6L1490.9 726.1L1492.3 725.8L1493.8 725.5L1495.2 725.2L1496.5 724.7L1497.9 724.2L1499.2 723.8L1500.6 723.5L1502 723.2L1503.3 722.7L1504.6 722.1L1505.8 721.6L1507.1 721.1L1508.4 720.7L1509.7 720.3L1510.9 719.6L1512 719L1513.2 718.4L1514.5 718L1515.7 717.7L1516.9 717.2L1518.1 716.6L1519.2 716.1L1520.4 715.6L1521.7 715.3L1522.9 715L1524 714.4L1525.1 713.8L1526.1 713.2L1527.2 712.8L1528.4 712.3L1529.4 711.8L1530.4 711.2L1531.3 710.4L1532.3 709.8L1533.3 709.3L1534.4 708.8L1535.3 708.3L1536.3 707.6L1537.2 707L1538.1 706.5L1539.2 706.1L1540.2 705.7L1541.1 705.1L1541.9 704.5L1542.8 703.9L1543.7 703.4L1544.6 702.9L1545.5 702.4L1546.3 701.7L1546.9 701L1547.7 700.3L1548.5 699.7L1549.3 699.2L1550 698.6L1550.7 697.9L1551.3 697.2L1552 696.6L1552.9 696.2L1553.7 695.7L1554.4 695.2L1555 694.5L1555.6 693.9L1556.3 693.4L1557.1 692.9L1557.8 692.4L1558.3 691.7L1558.8 691L1559.3 690.3L1559.8 689.7L1560.4 689.2L1560.9 688.5L1561.3 687.8L1561.7 687.1L1562.1 686.5L1562.7 685.9L1563.3 685.4L1563.7 684.8L1564.1 684.1L1564.4 683.5L1565 683L1565.7 682.5L1566.4 682L1566.8 681.4L1567.2 680.8L1567.6 680.2L1568.1 679.6L1568.6 679.1L1569 678.4L1569.3 677.8L1569.5 677.1L1569.8 676.4L1570.3 675.8L1570.8 675.2L1571.1 674.6ZM1417.6 584L1419 583.1L1420.5 582.2L1421.9 581.7L1423.2 581.5L1424.6 581.7L1425.8 582.2L1427 583.2L1428.1 584.3L1429.3 585.6L1429.2 585.8L1427.8 586.8L1426.4 587.6L1425 588.1L1423.6 588.3L1422.3 588.2L1421.1 587.6L1419.9 586.7L1418.7 585.5L1417.6 584.2ZM1431.6 587.8L1432.4 587.4L1433.1 587.1L1433.9 587L1434.6 586.9L1435.3 587L1435.9 587.3L1436.6 587.7L1437.2 588.2L1437.8 588.8L1437.8 589L1437 589.3L1436.3 589.6L1435.5 589.8L1434.8 589.9L1434.1 589.7L1433.5 589.5L1432.8 589.1L1432.2 588.5L1431.6 588ZM1440 588.7L1441.1 588.2L1442.1 587.8L1443.1 587.6L1444.1 587.5L1445 587.7L1445.9 588.1L1446.8 588.7L1447.6 589.4L1448.4 590.2L1448.3 590.4L1447.3 590.9L1446.3 591.2L1445.3 591.5L1444.3 591.5L1443.4 591.4L1442.5 591L1441.6 590.4L1440.8 589.7L1440 588.9ZM1451 590.5L1452.3 590.1L1453.5 589.7L1454.7 589.5L1455.9 589.6L1457 589.8L1458 590.3L1459.1 590.9L1460 591.7L1461 592.6L1461 592.8L1459.7 593.2L1458.5 593.5L1457.3 593.7L1456.2 593.6L1455 593.4L1454 592.9L1453 592.3L1452 591.5L1451 590.7ZM1462.8 594.2L1463.6 593.7L1464.5 593.4L1465.2 593.1L1466 593.1L1466.6 593.3L1467.3 593.6L1467.9 594.2L1468.4 594.9L1468.9 595.6L1468.9 595.8L1468.1 596.3L1467.3 596.6L1466.5 596.8L1465.8 596.9L1465.1 596.7L1464.5 596.4L1463.9 595.8L1463.3 595.1L1462.8 594.4ZM1470.1 596.8L1470.7 596.4L1471.3 596.1L1471.9 595.9L1472.4 595.8L1472.9 595.9L1473.3 596.2L1473.7 596.7L1474.1 597.3L1474.4 597.9L1474.4 598.1L1473.8 598.5L1473.2 598.8L1472.6 599L1472.1 599L1471.6 598.9L1471.2 598.6L1470.8 598.2L1470.4 597.6L1470 597ZM1476.3 597.3L1476.9 597.2L1477.4 597.1L1478 597.1L1478.5 597.1L1478.9 597.2L1479.4 597.5L1479.8 597.8L1480.2 598.1L1480.6 598.5L1480.6 598.7L1480 598.8L1479.5 598.9L1479 598.9L1478.5 598.9L1478 598.7L1477.6 598.5L1477.1 598.2L1476.7 597.9L1476.3 597.5ZM1483.6 600.9L1484.4 600.7L1485.1 600.6L1485.9 600.6L1486.6 600.7L1487.3 600.9L1487.9 601.2L1488.5 601.7L1489.1 602.2L1489.6 602.7L1489.6 602.9L1488.8 603L1488 603.1L1487.3 603.1L1486.6 603L1485.9 602.8L1485.3 602.5L1484.7 602.1L1484.1 601.6L1483.5 601.1ZM1492.4 599.8L1493.1 599.8L1493.9 599.8L1494.6 599.9L1495.3 600.1L1496 600.3L1496.6 600.6L1497.3 601L1497.9 601.4L1498.5 601.8L1498.4 602L1497.7 601.9L1496.9 601.9L1496.2 601.8L1495.5 601.6L1494.8 601.4L1494.2 601.1L1493.5 600.8L1492.9 600.4L1492.3 599.9Z" fill="#19bdbd"/><path d="M1217.3 599.5L1218.5 599L1219.7 598.5L1220.9 598L1222.2 597.6L1223.5 597.2L1224.8 596.8L1226.1 596.5L1227.5 596.3L1228.8 596.1L1230.2 595.9L1231.6 595.7L1231.6 595.7L1230.3 596.2L1229 596.7L1227.7 597.2L1226.4 597.6L1225.1 598L1223.8 598.4L1222.5 598.7L1221.2 598.9L1219.9 599.2L1218.6 599.4L1217.3 599.5ZM1151.6 630.7L1152.5 629.9L1153.4 629L1154.3 628.2L1155.2 627.4L1156.2 626.6L1157.3 625.8L1158.3 625.1L1159.5 624.3L1160.6 623.6L1161.8 623L1163 622.3L1163 622.3L1161.9 623.1L1160.8 624L1159.8 624.8L1158.7 625.6L1157.7 626.4L1156.7 627.1L1155.7 627.9L1154.6 628.6L1153.6 629.3L1152.6 630L1151.6 630.7ZM1222.6 597.8L1224.8 597L1226.9 596.3L1229.1 595.6L1231.3 595L1233.6 594.4L1235.9 593.9L1238.2 593.4L1240.5 593L1242.8 592.6L1245.2 592.3L1247.6 592L1247.6 592L1245.3 592.6L1243 593.3L1240.7 593.9L1238.4 594.5L1236.1 595.1L1233.9 595.6L1231.6 596.1L1229.3 596.5L1227.1 597L1224.9 597.4L1222.6 597.8ZM1148.9 634.4L1149.5 633.6L1150.1 632.8L1150.7 632L1151.4 631.3L1152.2 630.5L1153 629.9L1153.8 629.3L1154.7 628.7L1155.6 628.1L1156.6 627.6L1157.5 627.1L1157.5 627.1L1156.8 627.9L1156 628.7L1155.3 629.4L1154.5 630.1L1153.8 630.8L1153 631.5L1152.2 632.1L1151.4 632.7L1150.5 633.3L1149.7 633.8L1148.9 634.4ZM1173.1 617L1173.8 616.5L1174.5 616L1175.3 615.5L1176 615L1176.8 614.6L1177.7 614.2L1178.5 613.8L1179.3 613.5L1180.2 613.1L1181.1 612.8L1182 612.5L1182 612.5L1181.2 613L1180.4 613.5L1179.6 614L1178.8 614.5L1178 614.9L1177.2 615.3L1176.4 615.7L1175.6 616L1174.7 616.3L1173.9 616.7L1173.1 617ZM1296.5 585.4L1299.4 585L1302.3 584.6L1305.2 584.3L1308.1 584L1311.1 583.7L1314 583.5L1317 583.4L1320 583.4L1323 583.3L1325.9 583.3L1328.9 583.4L1328.9 583.4L1326 583.6L1323 583.9L1320 584.1L1317.1 584.4L1314.1 584.6L1311.1 584.8L1308.2 584.9L1305.3 585L1302.3 585.2L1299.4 585.3L1296.5 585.4ZM1258.7 590.8L1260.8 590.3L1263 589.8L1265.2 589.3L1267.4 588.9L1269.7 588.5L1271.9 588.2L1274.2 587.9L1276.5 587.7L1278.8 587.5L1281.1 587.4L1283.4 587.2L1283.4 587.2L1281.1 587.7L1278.8 588.1L1276.6 588.5L1274.3 588.9L1272.1 589.3L1269.8 589.6L1267.6 589.9L1265.3 590.1L1263.1 590.4L1260.9 590.6L1258.7 590.8ZM1145.6 637.2L1145.9 636.7L1146.2 636.2L1146.5 635.7L1146.8 635.2L1147.2 634.8L1147.6 634.4L1148 634L1148.5 633.6L1149 633.3L1149.6 633L1150.1 632.7L1150.1 632.7L1149.8 633.2L1149.4 633.7L1149.1 634.2L1148.7 634.7L1148.3 635.1L1147.9 635.5L1147.5 635.9L1147.1 636.3L1146.6 636.6L1146.1 636.9L1145.6 637.2ZM1168.2 619.6L1169.2 618.7L1170.3 617.9L1171.4 617.1L1172.6 616.4L1173.8 615.7L1175.1 615L1176.4 614.4L1177.7 613.9L1179.1 613.4L1180.5 612.9L1181.9 612.5L1181.9 612.5L1180.6 613.3L1179.4 614L1178.1 614.8L1176.9 615.5L1175.7 616.2L1174.4 616.9L1173.2 617.5L1171.9 618L1170.7 618.6L1169.4 619.1L1168.2 619.6ZM1366.8 744.3L1365.4 744.5L1364.1 744.7L1362.7 744.8L1361.4 744.9L1360 744.9L1358.6 744.8L1357.3 744.7L1355.9 744.6L1354.6 744.4L1354.6 744.4L1355.9 744.2L1357.3 744.1L1358.6 743.9L1360 743.9L1361.4 743.9L1362.7 743.9L1364.1 744L1365.4 744.2L1366.8 744.3ZM1253.9 734.5L1252.2 734.3L1250.5 734.1L1248.8 733.8L1247.1 733.5L1245.5 733.1L1243.8 732.7L1242.2 732.2L1240.6 731.8L1239 731.3L1239 731.3L1240.7 731.5L1242.3 731.8L1244 732.1L1245.6 732.4L1247.3 732.8L1248.9 733.2L1250.6 733.6L1252.3 734.1L1253.9 734.5ZM1371.5 753L1370 753.2L1368.6 753.4L1367.1 753.5L1365.6 753.6L1364.1 753.6L1362.7 753.6L1361.2 753.5L1359.7 753.3L1358.3 753.1L1358.3 753.1L1359.7 753L1361.2 752.8L1362.7 752.6L1364.1 752.6L1365.6 752.5L1367.1 752.6L1368.5 752.7L1370 752.8L1371.5 753ZM1245.4 732.3L1243.6 732.1L1241.8 731.8L1240 731.5L1238.3 731.1L1236.6 730.7L1234.9 730.2L1233.2 729.7L1231.5 729.1L1229.9 728.5L1229.9 728.5L1231.6 728.8L1233.3 729.1L1235.1 729.4L1236.8 729.8L1238.5 730.2L1240.2 730.7L1242 731.2L1243.7 731.7L1245.4 732.3ZM1228.7 728.3L1227.2 728.1L1225.7 727.7L1224.2 727.4L1222.7 727L1221.3 726.6L1219.9 726.1L1218.4 725.6L1217.1 725.1L1215.7 724.5L1215.7 724.5L1217.1 724.9L1218.6 725.2L1220 725.6L1221.5 726L1222.9 726.4L1224.4 726.8L1225.8 727.3L1227.2 727.8L1228.7 728.3ZM1196.9 718.3L1196.2 718.2L1195.6 718.2L1194.9 718.1L1194.3 717.9L1193.7 717.6L1193.2 717.3L1192.6 717L1192.1 716.6L1191.6 716.1L1191.6 716.1L1192.3 716.2L1192.9 716.3L1193.6 716.4L1194.2 716.6L1194.8 716.8L1195.3 717.1L1195.8 717.5L1196.4 717.9L1196.9 718.3Z" fill="#fff"/><path d="M1496.7 604.6L1504.5 607.4M1514 611.1L1520.1 613.8M1528.3 615.1L1534.5 618.4M1536.5 621.2L1540.2 623.4M1543.3 623L1548.5 626.6M1550.2 630.5L1553.4 633.1M1556.8 635.6L1559.3 638.2M1563.7 643L1564.7 644.3" fill="none" stroke="#19bdbd" stroke-width="1.3" stroke-linecap="round"/><path d="M1220.7 621.2C1220.6 627.8 1219.6 648.2 1220.1 660.6C1220.6 673 1223.2 689.8 1223.8 695.6M1206.3 641.2C1208.7 638.9 1216.5 631 1220.7 627.5C1224.9 624 1226.9 621.8 1231.3 620C1235.8 618.2 1242.8 616.3 1247.6 616.6C1252.4 616.9 1258.2 619.1 1260.1 621.9C1262 624.6 1261.6 628.9 1258.8 633.1C1256.1 637.3 1250.1 641.9 1243.8 646.9C1237.6 651.9 1225.1 660.4 1221.3 663.1M1273.8 653.1C1273.3 655.6 1271.2 663.4 1270.6 668.1C1270 672.8 1269.8 677.3 1270.1 681.1C1270.4 684.9 1271.1 688.8 1272.6 691.1C1274.1 693.4 1276.8 694.9 1278.8 695.1C1280.9 695.3 1283.1 693.9 1285.1 692.1C1287.1 690.3 1289.5 687.3 1291.1 684.1C1292.7 680.9 1294.2 676.8 1294.5 673.1C1294.8 669.4 1294.2 664.7 1293.1 662.1C1292 659.5 1289.9 658.3 1288.1 657.5C1286.3 656.7 1283.9 656.8 1282.1 657.1C1280.3 657.4 1277.9 658.8 1277.1 659.1M1338.8 651.2C1336.6 651.7 1329.9 652 1325.1 654.4C1320.3 656.8 1313.2 662.5 1310.1 665.6C1307 668.7 1304.9 671.5 1306.3 673.1C1307.8 674.7 1313 675.2 1318.8 675C1324.7 674.8 1338.6 670.9 1341.3 671.9C1344.1 672.8 1337.6 676.6 1335.1 680.6C1332.6 684.6 1327.8 693.1 1326.3 695.6M1366.3 615.6C1366.6 622.7 1367.1 644.8 1368.1 658.1C1369.1 671.4 1371.8 689.4 1372.6 695.6M1355.7 663.7C1358.9 662.4 1368.5 658.3 1375.1 655.6C1381.7 652.9 1391.8 648.9 1395.1 647.5M1456.3 661.3C1458.4 659.6 1464.4 653.7 1468.4 651.2C1472.5 648.7 1478.3 645.9 1480.6 646.2C1483 646.5 1483 649.5 1482.6 653.2C1482.3 656.9 1480.9 663 1478.5 668.4C1476.2 673.8 1470.8 681 1468.4 685.5C1466.1 690 1465.1 693.9 1464.4 695.6M1464.4 695.6C1466.8 694.6 1472.8 692 1478.5 689.6C1484.3 687.2 1495.4 682.9 1498.8 681.5" fill="none" stroke="#19bdbd" stroke-width="9.2" stroke-linecap="round" stroke-linejoin="round"/><path d="M1368.7 1012.7L1368.7 1013.4L1368.6 1014.2L1368.6 1014.9L1368.8 1015.8L1368.9 1016.6L1368.8 1017.4L1368.6 1018.1L1368.3 1018.9L1368.2 1019.7L1368.1 1020.5L1368 1021.3L1367.7 1022.1L1367.3 1022.8L1366.9 1023.6L1366.7 1024.4L1366.4 1025.2L1366 1025.9L1365.5 1026.6L1365 1027.3L1364.6 1028.1L1364.2 1028.9L1363.9 1029.8L1363.4 1030.5L1362.8 1031.2L1362.2 1031.9L1361.7 1032.6L1361.2 1033.5L1360.7 1034.2L1360 1034.8L1359.2 1035.4L1358.5 1036L1357.9 1036.8L1357.3 1037.5L1356.6 1038.2L1355.8 1038.9L1355 1039.5L1354.3 1040.2L1353.7 1041L1353.1 1041.8L1352.3 1042.6L1351.5 1043.2L1350.7 1043.9L1349.9 1044.6L1349.2 1045.4L1348.4 1046.1L1347.5 1046.7L1346.5 1047.2L1345.5 1047.7L1344.6 1048.4L1343.8 1049.1L1342.8 1049.7L1341.8 1050.2L1340.8 1050.7L1339.8 1051.3L1338.9 1052.1L1338 1052.8L1337 1053.5L1335.9 1054.1L1334.9 1054.6L1333.9 1055.3L1332.9 1056.1L1331.9 1056.8L1330.8 1057.4L1329.6 1057.8L1328.5 1058.3L1327.3 1058.9L1326.2 1059.6L1325.1 1060.1L1323.9 1060.6L1322.6 1060.9L1321.4 1061.4L1320.2 1062.1L1319.1 1062.8L1317.9 1063.3L1316.6 1063.8L1315.4 1064.3L1314.1 1064.9L1313 1065.7L1311.7 1066.3L1310.5 1066.9L1309.1 1067.3L1307.8 1067.7L1306.5 1068.3L1305.2 1068.9L1303.8 1069.4L1302.4 1069.7L1301 1070L1299.6 1070.4L1298.2 1070.9L1296.8 1071.5L1295.4 1071.9L1294 1072.3L1292.5 1072.7L1291.1 1073.2L1289.7 1073.8L1288.3 1074.4L1286.9 1074.9L1285.4 1075.3L1283.9 1075.6L1282.4 1076.1L1280.9 1076.7L1279.4 1077.1L1277.9 1077.4L1276.3 1077.6L1274.7 1077.9L1273.2 1078.3L1271.6 1078.8L1270.1 1079.2L1268.5 1079.4L1266.9 1079.6L1265.3 1080L1263.7 1080.6L1262.2 1081.1L1260.5 1081.5L1258.9 1081.7L1257.3 1082L1255.7 1082.5L1254.1 1083L1252.4 1083.4L1250.8 1083.6L1249.1 1083.8L1247.4 1084L1245.7 1084.3L1244 1084.7L1242.3 1084.9L1240.6 1085L1238.9 1085.2L1237.2 1085.4L1235.5 1085.8L1233.8 1086.2L1232 1086.5L1230.3 1086.7L1228.6 1086.9L1226.8 1087.2L1225.1 1087.7L1223.4 1088L1221.6 1088.2L1219.8 1088.3L1218 1088.4L1216.3 1088.7L1214.5 1089L1212.7 1089.1L1210.9 1089.2L1209.1 1089.1L1207.3 1089.3L1205.5 1089.5L1203.7 1089.8L1201.9 1090L1200.1 1090L1198.3 1090.1L1196.5 1090.3L1194.7 1090.7L1192.8 1091L1191 1091.1L1189.2 1091.1L1187.3 1091.2L1185.5 1091.4L1183.7 1091.6L1181.8 1091.7L1180 1091.6L1178.1 1091.5L1176.3 1091.5L1174.4 1091.6L1172.6 1091.7L1170.7 1091.7L1168.9 1091.7L1167 1091.6L1165.2 1091.7L1163.3 1092L1161.4 1092.1L1159.6 1092.2L1157.7 1092.1L1155.9 1092.1L1154 1092.2L1152.1 1092.4L1150.3 1092.4L1148.4 1092.3L1146.6 1092L1144.7 1091.9L1142.8 1091.9L1141 1092L1139.1 1091.9L1137.3 1091.6L1135.4 1091.4L1133.6 1091.4L1131.7 1091.5L1129.8 1091.6L1128 1091.5L1126.1 1091.4L1124.3 1091.2L1122.4 1091.3L1120.6 1091.4L1118.7 1091.4L1116.9 1091.1L1115 1090.9L1113.2 1090.7L1111.4 1090.6L1109.5 1090.5L1107.7 1090.3L1105.9 1090L1104.1 1089.6L1102.3 1089.5L1100.4 1089.4L1098.6 1089.4L1096.8 1089.2L1095 1088.9L1093.2 1088.7L1091.4 1088.6L1089.6 1088.6L1087.8 1088.5L1086 1088.3L1084.2 1087.9L1082.4 1087.7L1080.7 1087.5L1078.9 1087.4L1077.1 1087.1L1075.4 1086.6L1073.7 1086.2L1071.9 1085.9L1070.2 1085.7L1068.4 1085.5L1066.7 1085.2L1065 1084.8L1063.3 1084.5L1061.5 1084.3L1059.8 1084.2L1058 1084L1056.4 1083.7L1054.7 1083.3L1053 1083L1051.3 1082.8L1049.6 1082.5L1047.9 1082.2L1046.3 1081.7L1044.7 1081.2L1043.1 1080.7L1041.4 1080.4L1039.8 1080.1L1038.2 1079.7L1036.6 1079.2L1035 1078.7L1033.4 1078.4L1031.8 1078.1L1030.2 1077.9L1028.6 1077.5L1027.1 1077L1025.5 1076.5L1023.9 1076.3L1022.3 1076L1020.8 1075.6L1019.3 1075L1017.9 1074.4L1016.4 1073.9L1014.9 1073.5L1013.4 1073.1L1011.9 1072.5L1010.5 1071.9L1009.1 1071.3L1007.7 1070.8L1006.2 1070.5L1004.7 1070.1L1003.3 1069.6L1001.9 1069L1000.5 1068.5L999.1 1068.2L997.7 1067.9L996.3 1067.4L995 1066.8L993.7 1066.1L992.3 1065.6L991 1065.1L989.7 1064.6L988.4 1064L987.2 1063.3L986 1062.6L984.7 1062L983.4 1061.6L982.1 1061.1L980.9 1060.5L979.8 1059.8L978.6 1059.2L977.3 1058.8L976 1058.4L974.8 1057.9L973.7 1057.3L972.6 1056.6L971.4 1056L970.3 1055.5L969.1 1055L968 1054.3L967.1 1053.5L966.1 1052.7L965 1052.1L963.9 1051.5L962.9 1051L961.9 1050.3L961 1049.5L960 1048.8L958.9 1048.3L957.9 1047.8L956.8 1047.3L955.9 1046.6L955 1045.9L954.1 1045.2L953.1 1044.7L952.1 1044.1L951.3 1043.4L950.5 1042.6L949.8 1041.8L948.9 1041.1L948.1 1040.5L947.3 1039.8L946.5 1039.1L945.9 1038.2L945.2 1037.5L944.4 1036.8L943.5 1036.3L942.7 1035.7L942 1034.9L941.4 1034.2L940.7 1033.5L939.9 1032.9L939.1 1032.3L938.4 1031.6L937.9 1030.8L937.4 1029.9L936.9 1029.2L936.2 1028.5L935.6 1027.8L935.2 1027L934.8 1026.1L934.4 1025.3L933.9 1024.6L933.3 1023.9L932.8 1023.2L932.4 1022.4L932 1021.6L931.6 1020.9L931 1020.2L930.4 1019.5L930 1018.8L929.7 1018L929.5 1017.2L929.2 1016.4L928.8 1015.7L928.4 1014.9L928.3 1014.1L928.2 1013.2L928.1 1012.4L927.9 1011.6L927.6 1010.9L927.3 1010.1L927.3 1009.3L927.2 1008.5L927.1 1007.7L926.8 1007L926.5 1006.2L926.3 1005.5L926.3 1004.7L926.3 1003.9L926.3 1003.1L926.1 1002.3L926 1001.5L926.1 1000.7L926.3 1000L926.5 999.2L926.6 998.4L926.6 997.6L926.6 996.8L926.8 996.1L927.1 995.3L927.3 994.6L927.3 993.8L927.3 993L927.4 992.2L927.6 991.4L927.9 990.7L928.1 989.9L928.2 989L928.3 988.2L928.6 987.5L929.1 986.8L929.5 986.1L929.9 985.3L930.1 984.5L930.5 983.8L931 983.1L931.6 982.4L932 981.7L932.4 981L932.7 980.1L933.1 979.4L933.6 978.7L934.2 978L934.6 977.2L935 976.4L935.4 975.6L935.9 974.8L936.6 974.2L937.2 973.5L937.8 972.8L938.4 972.1L939 971.3L939.7 970.7L940.5 970.2L941.3 969.6L941.9 968.9L942.5 968.1L943.2 967.4L944 966.8L944.8 966.2L945.5 965.5L946.2 964.6L946.8 963.8L947.6 963.1L948.4 962.5L949.3 961.9L950.1 961.2L950.9 960.5L951.7 959.8L952.7 959.3L953.7 958.8L954.7 958.3L955.6 957.6L956.5 956.9L957.4 956.3L958.4 955.8L959.5 955.3L960.4 954.6L961.3 953.9L962.2 953.1L963.2 952.4L964.3 951.9L965.4 951.3L966.4 950.7L967.4 949.9L968.4 949.3L969.6 948.8L970.8 948.3L971.9 947.9L973.1 947.3L974.2 946.7L975.3 946.1L976.6 945.7L977.8 945.3L979 944.8L980.2 944.1L981.3 943.4L982.5 942.8L983.8 942.3L985 941.9L986.3 941.2L987.5 940.5L988.7 939.9L990 939.4L991.4 939.1L992.7 938.7L994.1 938.1L995.4 937.6L996.7 937.1L998.1 936.7L999.6 936.5L1001 936.1L1002.3 935.5L1003.7 934.9L1005.1 934.4L1006.5 934L1008 933.6L1009.4 933.1L1010.8 932.5L1012.2 931.9L1013.7 931.4L1015.2 931.1L1016.7 930.7L1018.2 930.3L1019.7 929.8L1021.2 929.3L1022.7 929.1L1024.3 928.9L1025.9 928.6L1027.4 928.2L1029 927.7L1030.5 927.3L1032.1 927L1033.7 926.8L1035.3 926.3L1036.9 925.8L1038.4 925.3L1040 924.9L1041.7 924.6L1043.3 924.3L1044.9 923.9L1046.6 923.5L1048.2 923.1L1049.9 922.9L1051.6 922.8L1053.3 922.6L1055 922.3L1056.6 921.9L1058.3 921.7L1060 921.5L1061.8 921.4L1063.5 921.1L1065.2 920.7L1066.9 920.2L1068.6 919.9L1070.3 919.8L1072.1 919.6L1073.8 919.2L1075.5 918.8L1077.3 918.5L1079.1 918.4L1080.8 918.3L1082.6 918.2L1084.4 918L1086.2 917.7L1088 917.6L1089.8 917.6L1091.6 917.6L1093.4 917.4L1095.2 917.1L1097 916.8L1098.8 916.6L1100.6 916.5L1102.4 916.4L1104.2 916.2L1106 915.9L1107.8 915.6L1109.7 915.5L1111.5 915.5L1113.3 915.5L1115.2 915.4L1117 915.2L1118.9 915.1L1120.7 915.2L1122.6 915.3L1124.4 915.3L1126.2 915.2L1128.1 915L1129.9 914.9L1131.8 915L1133.7 915L1135.5 914.9L1137.4 914.7L1139.2 914.5L1141.1 914.5L1142.9 914.6L1144.8 914.7L1146.7 914.6L1148.5 914.5L1150.4 914.5L1152.2 914.7L1154.1 915L1155.9 915.1L1157.8 915.1L1159.7 915L1161.5 915.1L1163.4 915.3L1165.2 915.5L1167.1 915.5L1168.9 915.4L1170.8 915.3L1172.6 915.4L1174.5 915.6L1176.3 915.7L1178.2 915.7L1180 915.7L1181.9 915.8L1183.7 916L1185.5 916.3L1187.4 916.6L1189.2 916.7L1191 916.8L1192.8 917.1L1194.6 917.5L1196.4 917.9L1198.2 918.1L1200.1 918.2L1201.9 918.3L1203.7 918.5L1205.5 918.8L1207.3 919.1L1209.1 919.3L1210.9 919.3L1212.6 919.5L1214.4 919.9L1216.1 920.4L1217.9 921L1219.6 921.3L1221.3 921.7L1223.1 922.2L1224.8 922.9L1226.4 923.5L1228.1 924L1229.8 924.4L1231.5 924.9L1233.2 925.6L1234.8 926.3L1236.4 927L1236.4 927L1234.7 927L1232.9 927L1231.2 927.1L1229.4 927.3L1227.6 927.3L1225.9 927.3L1224.1 927L1222.4 926.8L1220.7 926.7L1218.9 926.8L1217.1 926.8L1215.3 926.7L1213.6 926.4L1211.8 926.2L1210 926.1L1208.3 926.2L1206.5 926.2L1204.7 926.1L1202.9 925.9L1201.1 925.8L1199.3 925.8L1197.5 925.9L1195.7 925.8L1193.9 925.6L1192.1 925.3L1190.3 925.2L1188.5 925.2L1186.7 925.1L1184.9 924.9L1183.1 924.5L1181.3 924.3L1179.5 924.2L1177.7 924.3L1175.9 924.3L1174 924.2L1172.2 924L1170.4 924L1168.6 924.1L1166.7 924.2L1164.9 924.2L1163.1 924.1L1161.3 923.9L1159.4 923.8L1157.6 923.8L1155.8 923.9L1153.9 923.8L1152.1 923.5L1150.3 923.3L1148.5 923.3L1146.6 923.5L1144.8 923.5L1143 923.5L1141.1 923.4L1139.3 923.4L1137.5 923.6L1135.6 923.9L1133.8 924L1132 924L1130.2 923.9L1128.4 924L1126.5 924.1L1124.7 924.3L1122.9 924.3L1121.1 924.1L1119.3 924L1117.4 924.1L1115.6 924.3L1113.8 924.4L1112 924.4L1110.2 924.4L1108.4 924.5L1106.6 924.7L1104.8 925L1103.1 925.3L1101.3 925.4L1099.5 925.4L1097.7 925.6L1095.9 925.9L1094.2 926.2L1092.4 926.3L1090.6 926.3L1088.9 926.3L1087.1 926.4L1085.4 926.7L1083.6 926.9L1081.9 927L1080.1 927L1078.4 927.1L1076.6 927.4L1074.9 927.8L1073.2 928.2L1071.5 928.4L1069.8 928.5L1068.1 928.8L1066.4 929.2L1064.8 929.6L1063.1 929.9L1061.4 930L1059.7 930.2L1058.1 930.4L1056.4 930.8L1054.8 931.1L1053.1 931.2L1051.4 931.3L1049.8 931.5L1048.2 931.8L1046.6 932.3L1045 932.7L1043.4 933L1041.8 933.2L1040.2 933.6L1038.7 934.1L1037.1 934.6L1035.6 935L1034 935.2L1032.4 935.5L1030.9 935.8L1029.4 936.3L1027.9 936.7L1026.4 937L1024.8 937.2L1023.3 937.4L1021.8 937.8L1020.4 938.3L1018.9 938.7L1017.4 939L1015.9 939.3L1014.5 939.7L1013.1 940.3L1011.8 940.9L1010.4 941.4L1009 941.8L1007.6 942.1L1006.2 942.6L1004.9 943.2L1003.6 943.7L1002.2 944.1L1000.8 944.4L999.4 944.7L998.1 945.1L996.8 945.7L995.5 946.1L994.2 946.5L992.9 946.8L991.6 947.3L990.4 947.9L989.3 948.6L988.1 949.1L986.8 949.6L985.6 950L984.4 950.6L983.3 951.3L982.2 951.9L981.1 952.4L979.9 952.7L978.7 953.1L977.6 953.7L976.5 954.3L975.4 954.8L974.3 955.2L973.1 955.6L972 956.1L971 956.7L970.1 957.4L969.1 958L968.1 958.5L967 959L966.1 959.6L965.2 960.3L964.4 961.1L963.4 961.6L962.5 962.1L961.5 962.6L960.6 963.2L959.8 963.8L958.9 964.4L958 964.9L957 965.3L956.1 965.8L955.4 966.5L954.7 967.1L953.9 967.8L953.1 968.3L952.3 968.8L951.6 969.5L951 970.3L950.4 971L949.7 971.6L949 972.2L948.3 972.7L947.6 973.4L947.1 974.1L946.5 974.7L945.8 975.3L945.1 975.7L944.4 976.3L943.8 976.9L943.4 977.6L942.8 978.2L942.2 978.8L941.6 979.3L941.2 980L940.8 980.7L940.5 981.4L940.1 982.1L939.6 982.7L939.2 983.3L938.8 983.9L938.6 984.7L938.3 985.3L937.9 985.9L937.4 986.4L936.9 987L936.6 987.6L936.4 988.3L936.1 988.9L935.7 989.5L935.3 990.1L935 990.7L934.9 991.4L934.8 992L934.7 992.7L934.5 993.3L934.2 993.9L934.2 994.6L934.2 995.2L934.2 995.9L934.1 996.5L933.8 997.1L933.6 997.7L933.6 998.3L933.6 998.9L933.5 999.6L933.3 1000.2L933.1 1000.8L933.1 1001.4L933.2 1002.1L933.4 1002.7L933.5 1003.3L933.5 1004L933.5 1004.6L933.7 1005.2L934 1005.8L934.3 1006.4L934.4 1007L934.5 1007.7L934.6 1008.3L934.8 1008.9L935.1 1009.5L935.3 1010.1L935.4 1010.8L935.4 1011.5L935.6 1012.1L935.9 1012.7L936.3 1013.3L936.6 1014L936.8 1014.6L937 1015.3L937.4 1015.9L937.9 1016.4L938.5 1017L938.9 1017.6L939.2 1018.2L939.6 1018.9L940 1019.5L940.6 1020L941.1 1020.6L941.4 1021.3L941.8 1022L942.2 1022.7L942.7 1023.3L943.3 1023.9L943.8 1024.5L944.3 1025.2L944.7 1026L945.3 1026.6L946.1 1027.1L946.8 1027.6L947.4 1028.1L948 1028.8L948.7 1029.4L949.4 1030L950.2 1030.5L950.9 1031L951.6 1031.7L952.2 1032.4L952.9 1033.1L953.6 1033.7L954.4 1034.2L955.2 1034.9L955.9 1035.6L956.6 1036.4L957.4 1037L958.3 1037.5L959.3 1037.9L960.1 1038.5L961 1039.2L961.8 1039.8L962.8 1040.3L963.8 1040.7L964.8 1041.1L965.8 1041.8L966.6 1042.5L967.6 1043.1L968.6 1043.6L969.6 1044.1L970.6 1044.7L971.6 1045.4L972.5 1046.2L973.5 1046.8L974.6 1047.2L975.8 1047.7L976.8 1048.2L977.9 1048.9L979 1049.5L980.2 1049.9L981.4 1050.2L982.6 1050.6L983.8 1051.2L984.9 1051.8L986 1052.4L987.3 1052.8L988.5 1053.2L989.7 1053.7L990.9 1054.4L992.1 1055.1L993.3 1055.6L994.6 1056.1L995.9 1056.5L997.2 1057L998.4 1057.6L999.7 1058.2L1001.1 1058.6L1002.5 1058.9L1003.9 1059.2L1005.2 1059.6L1006.5 1060.2L1007.9 1060.7L1009.3 1061L1010.8 1061.3L1012.2 1061.7L1013.6 1062.3L1014.9 1062.9L1016.3 1063.4L1017.8 1063.8L1019.3 1064.1L1020.7 1064.6L1022.1 1065.2L1023.6 1065.7L1025.1 1066.1L1026.6 1066.3L1028.2 1066.6L1029.7 1067L1031.2 1067.4L1032.7 1067.8L1034.3 1068L1035.9 1068.2L1037.5 1068.5L1039 1069L1040.5 1069.5L1042.1 1069.9L1043.7 1070.2L1045.3 1070.5L1046.9 1070.9L1048.5 1071.4L1050 1072L1051.7 1072.3L1053.3 1072.5L1055 1072.7L1056.6 1073L1058.3 1073.4L1059.9 1073.8L1061.6 1073.9L1063.3 1074L1065 1074.2L1066.7 1074.5L1068.3 1074.9L1070 1075.3L1071.8 1075.4L1073.5 1075.6L1075.2 1075.9L1076.9 1076.4L1078.6 1076.8L1080.3 1077.1L1082 1077.3L1083.8 1077.4L1085.5 1077.7L1087.2 1078L1089 1078.3L1090.8 1078.4L1092.5 1078.4L1094.3 1078.4L1096.1 1078.6L1097.9 1078.9L1099.6 1079.1L1101.4 1079.2L1103.2 1079.2L1105 1079.4L1106.8 1079.7L1108.6 1080.1L1110.3 1080.3L1112.1 1080.4L1114 1080.4L1115.8 1080.7L1117.6 1080.9L1119.4 1081.1L1121.2 1081.2L1123 1081.1L1124.8 1081.1L1126.6 1081.2L1128.5 1081.3L1130.3 1081.4L1132.1 1081.3L1133.9 1081.2L1135.8 1081.3L1137.6 1081.5L1139.4 1081.7L1141.2 1081.8L1143.1 1081.8L1144.9 1081.8L1146.7 1081.9L1148.5 1082.1L1150.4 1082.3L1152.2 1082.3L1154 1082.1L1155.9 1082L1157.7 1082L1159.5 1082.1L1161.3 1082.1L1163.2 1081.9L1165 1081.7L1166.8 1081.5L1168.6 1081.6L1170.5 1081.7L1172.3 1081.7L1174.1 1081.5L1175.9 1081.4L1177.7 1081.4L1179.5 1081.6L1181.4 1081.7L1183.2 1081.6L1185 1081.4L1186.8 1081.2L1188.6 1081.1L1190.4 1081.1L1192.2 1081L1194 1080.8L1195.7 1080.4L1197.5 1080.2L1199.3 1080.1L1201.1 1080.1L1202.9 1080L1204.6 1079.7L1206.4 1079.4L1208.1 1079.3L1209.9 1079.4L1211.7 1079.4L1213.5 1079.2L1215.2 1079L1216.9 1078.7L1218.7 1078.6L1220.4 1078.6L1222.2 1078.4L1223.9 1078.1L1225.6 1077.6L1227.3 1077.3L1229 1077.1L1230.7 1076.9L1232.4 1076.7L1234 1076.3L1235.7 1075.9L1237.4 1075.7L1239.1 1075.6L1240.8 1075.5L1242.4 1075.3L1244.1 1074.9L1245.7 1074.6L1247.3 1074.4L1249 1074.3L1250.7 1074.1L1252.3 1073.7L1253.8 1073.2L1255.4 1072.8L1257 1072.5L1258.6 1072.2L1260.2 1071.9L1261.7 1071.4L1263.2 1070.9L1264.8 1070.5L1266.3 1070.3L1267.9 1070.1L1269.5 1069.7L1271 1069.3L1272.5 1068.9L1274 1068.6L1275.5 1068.5L1277 1068.2L1278.5 1067.8L1279.9 1067.2L1281.4 1066.8L1282.8 1066.4L1284.3 1066.1L1285.7 1065.6L1287.1 1065.1L1288.4 1064.4L1289.8 1064L1291.2 1063.6L1292.6 1063.3L1294 1062.8L1295.3 1062.3L1296.7 1061.8L1298 1061.5L1299.4 1061.2L1300.8 1060.9L1302.1 1060.4L1303.3 1059.9L1304.6 1059.3L1305.9 1059L1307.2 1058.6L1308.5 1058.1L1309.7 1057.5L1310.8 1056.8L1312 1056.2L1313.2 1055.8L1314.4 1055.4L1315.6 1054.9L1316.7 1054.2L1317.8 1053.7L1319 1053.2L1320.2 1052.9L1321.4 1052.5L1322.5 1052L1323.6 1051.4L1324.7 1050.9L1325.8 1050.4L1326.9 1050L1328 1049.5L1329 1048.9L1329.9 1048.2L1330.9 1047.6L1331.9 1047L1332.9 1046.6L1333.8 1046L1334.7 1045.3L1335.6 1044.6L1336.5 1044L1337.5 1043.6L1338.5 1043.2L1339.4 1042.6L1340.2 1042L1341.1 1041.4L1342 1040.9L1343 1040.5L1343.8 1040L1344.6 1039.3L1345.3 1038.6L1346 1038L1346.8 1037.4L1347.6 1036.9L1348.3 1036.3L1349 1035.5L1349.6 1034.8L1350.3 1034.2L1351 1033.7L1351.8 1033.2L1352.5 1032.6L1353 1032L1353.7 1031.4L1354.4 1030.9L1355.1 1030.4L1355.8 1029.9L1356.4 1029.2L1356.9 1028.6L1357.4 1027.9L1358 1027.4L1358.6 1026.8L1359.1 1026.2L1359.4 1025.4L1359.7 1024.7L1360.1 1024.1L1360.7 1023.5L1361.2 1022.9L1361.6 1022.3L1361.9 1021.6L1362.3 1021L1362.9 1020.5L1363.6 1020L1364.2 1019.5L1364.7 1018.9L1365.1 1018.3L1365.6 1017.7L1366.1 1017.2L1366.7 1016.6L1367.1 1016L1367.3 1015.3L1367.5 1014.6L1367.9 1014L1368.3 1013.3L1368.7 1012.7ZM1214.9 923.5L1215.5 922.7L1216.1 922L1216.7 921.5L1217.2 921.3L1217.7 921.4L1218.2 921.7L1218.6 922.3L1219 923.1L1219.4 924.1L1219.3 924.2L1218.7 925L1218.1 925.7L1217.6 926.2L1217 926.4L1216.5 926.3L1216.1 926L1215.7 925.4L1215.3 924.6L1214.9 923.7ZM1220.5 924.5L1221.2 924L1221.9 923.5L1222.6 923.2L1223.3 923.1L1223.9 923.2L1224.5 923.5L1225 924L1225.5 924.6L1226.1 925.3L1226 925.5L1225.3 926.1L1224.6 926.5L1224 926.8L1223.3 927L1222.7 926.9L1222.1 926.6L1221.6 926.1L1221 925.4L1220.5 924.7ZM1227.5 926.6L1228.2 926L1228.8 925.5L1229.4 925.2L1230 925L1230.6 925.1L1231.1 925.4L1231.6 926L1232 926.6L1232.5 927.3L1232.4 927.5L1231.8 928.1L1231.1 928.6L1230.5 928.9L1229.9 929L1229.4 929L1228.9 928.7L1228.4 928.1L1227.9 927.5L1227.5 926.8ZM1236.6 925.9L1238 925.7L1239.4 925.5L1240.8 925.5L1242.2 925.6L1243.5 925.8L1244.8 926.2L1246 926.8L1247.2 927.4L1248.5 928.1L1248.4 928.3L1247 928.5L1245.7 928.6L1244.3 928.6L1243 928.5L1241.7 928.3L1240.4 927.9L1239.1 927.4L1237.9 926.8L1236.6 926.1ZM1251 929.2L1252.3 928.9L1253.7 928.6L1255 928.5L1256.3 928.6L1257.5 928.8L1258.7 929.3L1259.8 930L1260.9 930.8L1261.9 931.6L1261.9 931.8L1260.6 932.1L1259.2 932.4L1257.9 932.5L1256.7 932.4L1255.5 932.2L1254.3 931.7L1253.2 931L1252 930.3L1250.9 929.4ZM1265.2 931.3L1266 931L1266.9 930.8L1267.7 930.7L1268.5 930.7L1269.3 930.9L1270 931.3L1270.7 931.7L1271.3 932.3L1272 933L1271.9 933.2L1271 933.4L1270.2 933.7L1269.4 933.8L1268.6 933.7L1267.8 933.5L1267.1 933.2L1266.4 932.7L1265.8 932.1L1265.1 931.5ZM1274.2 932.9L1275.5 932.9L1276.8 932.9L1278.1 932.9L1279.3 933.1L1280.5 933.5L1281.6 933.9L1282.7 934.5L1283.7 935.2L1284.7 936L1284.7 936.1L1283.4 936.2L1282.2 936.2L1281 936.1L1279.8 935.9L1278.6 935.6L1277.5 935.1L1276.4 934.5L1275.3 933.9L1274.2 933.1ZM1285.5 937.6L1286.4 937.5L1287.3 937.6L1288.1 937.6L1288.9 937.8L1289.7 938L1290.5 938.4L1291.2 938.8L1291.9 939.3L1292.6 939.9L1292.6 940.1L1291.7 940.1L1290.8 940.1L1290 940L1289.2 939.8L1288.4 939.6L1287.6 939.2L1286.9 938.8L1286.1 938.3L1285.4 937.8Z" fill="#19bdbd"/><path d="M1164.8 922.3L1166.2 922.2L1167.7 922.1L1169.1 921.9L1170.5 921.9L1172 921.9L1173.4 922L1174.8 922.1L1176.2 922.3L1177.6 922.5L1179 922.8L1180.4 923.1L1180.4 923.1L1179 923.2L1177.6 923.3L1176.2 923.4L1174.7 923.5L1173.3 923.4L1171.9 923.4L1170.5 923.2L1169.1 923.1L1167.6 922.9L1166.2 922.6L1164.8 922.3ZM1145.6 921.9L1148.2 921.8L1150.8 921.7L1153.5 921.6L1156.1 921.5L1158.7 921.5L1161.3 921.6L1164 921.7L1166.6 921.9L1169.2 922.2L1171.8 922.4L1174.4 922.7L1174.4 922.7L1171.8 922.7L1169.1 922.8L1166.5 922.8L1163.9 922.8L1161.3 922.7L1158.7 922.7L1156.1 922.5L1153.5 922.4L1150.8 922.3L1148.2 922.1L1145.6 921.9ZM1060.2 928.1L1062.1 927.7L1063.9 927.2L1065.8 926.8L1067.7 926.5L1069.7 926.2L1071.6 925.9L1073.6 925.7L1075.5 925.5L1077.5 925.4L1079.5 925.3L1081.5 925.2L1081.5 925.2L1079.5 925.6L1077.6 926L1075.6 926.3L1073.7 926.7L1071.8 927L1069.8 927.2L1067.9 927.5L1066 927.7L1064 927.8L1062.1 928L1060.2 928.1ZM1134.9 921.6L1136.3 921.4L1137.8 921.2L1139.2 921L1140.6 920.9L1142.1 920.8L1143.5 920.8L1144.9 920.9L1146.4 921L1147.8 921.1L1149.2 921.3L1150.7 921.5L1150.7 921.5L1149.2 921.7L1147.8 921.9L1146.4 922L1144.9 922.1L1143.5 922.2L1142.1 922.2L1140.6 922.1L1139.2 922L1137.8 921.9L1136.3 921.7L1134.9 921.6ZM1151.2 921.5L1152.4 921.4L1153.5 921.2L1154.6 921.1L1155.7 921L1156.9 921L1158 921L1159.1 921.1L1160.2 921.2L1161.4 921.4L1162.5 921.6L1163.6 921.8L1163.6 921.8L1162.5 921.9L1161.3 922.1L1160.2 922.2L1159.1 922.2L1158 922.3L1156.8 922.2L1155.7 922.2L1154.6 922L1153.5 921.9L1152.4 921.7L1151.2 921.5ZM1022 936.7L1022.9 936.3L1023.8 935.9L1024.7 935.6L1025.7 935.3L1026.6 935L1027.5 934.8L1028.5 934.6L1029.5 934.4L1030.5 934.3L1031.5 934.2L1032.5 934.1L1032.5 934.1L1031.5 934.4L1030.6 934.7L1029.6 935.1L1028.7 935.4L1027.8 935.6L1026.8 935.9L1025.8 936.1L1024.9 936.2L1023.9 936.4L1023 936.5L1022 936.7ZM1112.5 923.1L1113.9 922.9L1115.2 922.7L1116.6 922.5L1117.9 922.4L1119.3 922.3L1120.7 922.2L1122 922.2L1123.4 922.2L1124.8 922.3L1126.2 922.4L1127.5 922.5L1127.5 922.5L1126.2 922.7L1124.8 922.8L1123.4 923L1122.1 923.1L1120.7 923.2L1119.3 923.3L1118 923.3L1116.6 923.3L1115.2 923.3L1113.9 923.2L1112.5 923.1ZM1027.3 934.2L1029.3 933.6L1031.4 933L1033.5 932.4L1035.6 931.8L1037.7 931.3L1039.9 930.9L1042.1 930.4L1044.3 930.1L1046.5 929.7L1048.7 929.4L1051 929.1L1051 929.1L1048.8 929.7L1046.6 930.2L1044.4 930.8L1042.2 931.3L1040.1 931.8L1037.9 932.2L1035.8 932.7L1033.7 933.1L1031.5 933.5L1029.4 933.8L1027.3 934.2ZM1146.5 921.9L1147.6 921.8L1148.7 921.7L1149.8 921.6L1150.9 921.5L1152 921.5L1153.1 921.5L1154.2 921.6L1155.3 921.6L1156.4 921.8L1157.4 921.9L1158.5 922.1L1158.5 922.1L1157.4 922.1L1156.3 922.2L1155.3 922.3L1154.2 922.4L1153.1 922.4L1152 922.4L1150.9 922.3L1149.8 922.2L1148.7 922.1L1147.6 922L1146.5 921.9ZM1143.3 1091.4L1141.9 1091.5L1140.5 1091.6L1139 1091.6L1137.6 1091.7L1136.2 1091.6L1134.7 1091.5L1133.3 1091.4L1131.9 1091.2L1130.5 1091L1130.5 1091L1131.9 1091L1133.3 1090.9L1134.8 1090.9L1136.2 1090.9L1137.6 1090.9L1139 1091L1140.5 1091.1L1141.9 1091.3L1143.3 1091.4ZM1214.6 1079.5L1213.5 1079.8L1212.4 1080L1211.3 1080.2L1210.3 1080.4L1209.2 1080.5L1208.1 1080.6L1206.9 1080.6L1205.8 1080.5L1204.7 1080.5L1204.7 1080.5L1205.8 1080.2L1206.9 1080L1208 1079.8L1209.1 1079.6L1210.2 1079.5L1211.3 1079.4L1212.4 1079.4L1213.5 1079.4L1214.6 1079.5ZM1059.8 1074.2L1058.5 1074.1L1057.2 1074L1056 1073.8L1054.7 1073.6L1053.5 1073.4L1052.2 1073.1L1051 1072.8L1049.8 1072.4L1048.6 1072L1048.6 1072L1049.8 1072.1L1051.1 1072.3L1052.3 1072.4L1053.6 1072.6L1054.8 1072.9L1056.1 1073.2L1057.3 1073.5L1058.6 1073.8L1059.8 1074.2ZM928.2 991.8L928.2 991.3L928.2 990.8L928.3 990.3L928.4 989.8L928.5 989.4L928.7 988.9L929 988.5L929.3 988.1L929.6 987.7L929.6 987.7L929.6 988.2L929.5 988.7L929.5 989.2L929.4 989.7L929.2 990.1L929 990.6L928.8 991L928.5 991.4L928.2 991.8ZM1232.5 1077.2L1231.7 1077.4L1230.8 1077.7L1229.8 1077.9L1228.9 1078L1228 1078.1L1227.1 1078.2L1226.2 1078.3L1225.2 1078.3L1224.3 1078.3L1224.3 1078.3L1225.2 1078.1L1226.1 1077.9L1227 1077.7L1227.9 1077.5L1228.8 1077.4L1229.8 1077.3L1230.7 1077.2L1231.6 1077.2L1232.5 1077.2ZM1060.1 1083.6L1058.6 1083.4L1057 1083.3L1055.5 1083L1054 1082.8L1052.5 1082.5L1051 1082.2L1049.5 1081.8L1048 1081.4L1046.5 1081L1046.5 1081L1048.1 1081.2L1049.6 1081.4L1051.1 1081.6L1052.6 1081.9L1054.1 1082.2L1055.6 1082.5L1057.1 1082.8L1058.6 1083.2L1060.1 1083.6Z" fill="#fff"/><path d="M1295.1 940.1L1301.9 942.5M1307.1 943.6L1309.8 944.7M1314.8 951.3L1317.4 952.5M1326.1 955.9L1330.2 958.2M1337.3 959.3L1340.2 961.1M1344.1 965.5L1348.8 969.1M1354.4 974.1L1356.2 975.9M1357.6 980.9L1360.2 984.2" fill="none" stroke="#19bdbd" stroke-width="1.3" stroke-linecap="round"/><path d="M1023.3 959.3C1023.2 965.9 1022.2 986.3 1022.7 998.7C1023.3 1011.1 1025.9 1027.9 1026.5 1033.7M1009 979.3C1011.4 977 1019.2 969.1 1023.3 965.6C1027.5 962.1 1029.5 959.9 1034 958.1C1038.5 956.3 1045.5 954.4 1050.2 954.7C1055 955 1060.9 957.2 1062.8 960C1064.6 962.7 1064.2 967 1061.5 971.2C1058.8 975.4 1052.8 980 1046.5 985C1040.2 990 1027.8 998.5 1024 1001.2M1076.5 991.2C1076 993.7 1073.9 1001.5 1073.2 1006.2C1072.6 1010.9 1072.4 1015.4 1072.8 1019.2C1073.1 1023 1073.8 1026.9 1075.2 1029.2C1076.7 1031.5 1079.4 1033 1081.5 1033.2C1083.6 1033.4 1085.7 1032 1087.8 1030.2C1089.8 1028.4 1092.2 1025.4 1093.8 1022.2C1095.3 1019 1096.8 1014.9 1097.1 1011.2C1097.5 1007.5 1096.8 1002.8 1095.8 1000.2C1094.7 997.6 1092.6 996.4 1090.8 995.6C1088.9 994.8 1086.6 994.9 1084.8 995.2C1082.9 995.5 1080.6 996.9 1079.8 997.2M1141.5 989.3C1139.2 989.8 1132.5 990.1 1127.8 992.5C1123 994.9 1115.9 1000.6 1112.8 1003.7C1109.6 1006.8 1107.5 1009.6 1109 1011.2C1110.5 1012.8 1115.7 1013.3 1121.5 1013.1C1127.3 1012.9 1141.3 1009 1144 1010C1146.7 1010.9 1140.2 1014.7 1137.8 1018.7C1135.2 1022.7 1130.5 1031.2 1129 1033.7M1169 953.7C1169.3 960.8 1169.7 982.9 1170.8 996.2C1171.8 1009.5 1174.5 1027.5 1175.2 1033.7M1158.3 1001.8C1161.6 1000.5 1171.2 996.4 1177.8 993.7C1184.3 991 1194.4 987 1197.8 985.6M1256.5 986.7C1257.9 985.8 1261.4 983 1264.7 981.4C1268 979.8 1273.3 978.2 1276.4 977.3C1279.5 976.4 1282.3 976.3 1283.5 976.1M1283.5 976.1C1283.3 977.1 1283.9 978.9 1282.3 982C1280.7 985.1 1277.3 990.6 1274.1 994.9C1270.9 999.2 1264.8 1005.7 1262.9 1007.8M1262.9 1007.8C1264.2 1007.6 1267.3 1007.6 1270.5 1006.6C1273.7 1005.6 1279 1002 1282.3 1002C1285.6 1002 1289 1004.4 1290.5 1006.6C1292 1008.8 1291.7 1012.2 1291.1 1015.4C1290.5 1018.6 1288.9 1023.2 1287 1026C1285.1 1028.8 1282.1 1030.6 1279.9 1031.9C1277.8 1033.2 1275.1 1033.4 1274.1 1033.7" fill="none" stroke="#19bdbd" stroke-width="9.2" stroke-linecap="round" stroke-linejoin="round"/><path d="M2894.8 596.4L2894.7 597.1L2894.8 597.9L2894.9 598.7L2895 599.5L2894.9 600.3L2894.6 601L2894.4 601.7L2894.2 602.5L2894.2 603.3L2894 604.1L2893.7 604.9L2893.4 605.6L2893.1 606.4L2892.9 607.2L2892.8 608.1L2892.5 608.9L2892 609.6L2891.5 610.3L2891.1 611.1L2890.8 611.9L2890.5 612.8L2890 613.5L2889.4 614.2L2888.8 614.8L2888.2 615.5L2887.7 616.3L2887.2 617L2886.5 617.7L2885.7 618.3L2885 618.9L2884.4 619.6L2883.9 620.4L2883.3 621.2L2882.5 621.8L2881.8 622.5L2881.1 623.2L2880.5 624L2879.9 624.9L2879.2 625.6L2878.4 626.2L2877.5 626.8L2876.7 627.5L2876 628.3L2875.2 629L2874.3 629.6L2873.3 630.1L2872.3 630.6L2871.4 631.2L2870.6 632L2869.7 632.6L2868.7 633.2L2867.7 633.7L2866.7 634.3L2865.9 635.1L2865 635.9L2864 636.6L2863 637.2L2861.9 637.7L2860.9 638.4L2860 639.1L2858.9 639.8L2857.8 640.3L2856.7 640.8L2855.5 641.2L2854.4 641.8L2853.3 642.4L2852.2 643L2851 643.5L2849.7 643.9L2848.5 644.4L2847.4 645.1L2846.3 645.8L2845.1 646.5L2843.9 647L2842.6 647.5L2841.4 648.1L2840.2 648.8L2839 649.4L2837.7 649.9L2836.4 650.3L2835 650.7L2833.7 651.2L2832.4 651.8L2831.1 652.3L2829.7 652.7L2828.3 653L2826.9 653.4L2825.5 653.9L2824.2 654.6L2822.8 655.1L2821.4 655.5L2820 655.9L2818.6 656.4L2817.2 657L2815.8 657.7L2814.3 658.1L2812.8 658.4L2811.3 658.8L2809.8 659.2L2808.4 659.7L2806.9 660.2L2805.3 660.4L2803.7 660.6L2802.2 660.9L2800.7 661.4L2799.1 661.9L2797.6 662.3L2796 662.6L2794.4 662.9L2792.8 663.3L2791.3 663.8L2789.7 664.4L2788.1 664.8L2786.5 665L2784.9 665.3L2783.3 665.7L2781.6 666.2L2780 666.6L2778.3 666.8L2776.6 666.9L2775 667.1L2773.3 667.4L2771.6 667.8L2769.9 668.1L2768.2 668.2L2766.5 668.4L2764.8 668.7L2763.1 669.1L2761.4 669.6L2759.7 669.9L2758 670.1L2756.2 670.3L2754.5 670.6L2752.8 671L2751.1 671.4L2749.3 671.5L2747.5 671.5L2745.7 671.6L2744 671.9L2742.2 672.1L2740.4 672.3L2738.6 672.4L2736.8 672.4L2735 672.5L2733.2 672.8L2731.4 673.2L2729.6 673.4L2727.8 673.5L2726 673.6L2724.2 673.8L2722.4 674.2L2720.6 674.5L2718.8 674.6L2716.9 674.5L2715.1 674.5L2713.3 674.7L2711.4 674.9L2709.6 675L2707.7 674.9L2705.9 674.8L2704 674.8L2702.2 674.9L2700.3 675.1L2698.5 675.2L2696.6 675.2L2694.8 675.2L2692.9 675.3L2691.1 675.5L2689.2 675.8L2687.4 675.8L2685.5 675.7L2683.6 675.6L2681.8 675.7L2679.9 675.8L2678 675.8L2676.2 675.7L2674.3 675.4L2672.5 675.3L2670.6 675.3L2668.7 675.4L2666.9 675.4L2665 675.2L2663.2 675L2661.3 675L2659.4 675.2L2657.6 675.3L2655.7 675.2L2653.9 675.1L2652 675L2650.2 674.9L2648.3 675L2646.5 675L2644.6 674.7L2642.8 674.4L2640.9 674.2L2639.1 674.1L2637.3 674L2635.4 673.8L2633.6 673.5L2631.8 673.3L2630 673.1L2628.1 673.1L2626.3 673.1L2624.5 673L2622.7 672.7L2620.9 672.5L2619.1 672.4L2617.2 672.4L2615.4 672.3L2613.6 672L2611.9 671.6L2610.1 671.3L2608.3 671.1L2606.5 671L2604.8 670.7L2603 670.3L2601.3 669.9L2599.5 669.6L2597.8 669.4L2596 669.3L2594.3 669.1L2592.5 668.7L2590.8 668.4L2589.1 668.2L2587.3 668.1L2585.6 668L2583.9 667.6L2582.2 667.2L2580.5 666.8L2578.8 666.5L2577.2 666.3L2575.5 665.9L2573.9 665.4L2572.2 664.9L2570.6 664.5L2568.9 664.2L2567.3 664L2565.7 663.6L2564.1 663.1L2562.5 662.7L2560.8 662.4L2559.2 662.2L2557.6 661.9L2556 661.5L2554.4 661L2552.9 660.6L2551.3 660.2L2549.7 659.9L2548.2 659.5L2546.7 658.9L2545.2 658.3L2543.8 657.7L2542.2 657.3L2540.7 657L2539.3 656.5L2537.8 655.9L2536.4 655.3L2534.9 654.9L2533.4 654.6L2532 654.3L2530.5 653.8L2529.1 653.2L2527.7 652.7L2526.3 652.3L2524.9 652L2523.5 651.5L2522.1 650.9L2520.9 650.2L2519.6 649.6L2518.2 649.1L2516.9 648.6L2515.6 648L2514.3 647.3L2513.1 646.6L2511.8 646.1L2510.5 645.7L2509.2 645.3L2508 644.7L2506.8 644.1L2505.5 643.5L2504.3 643.1L2503 642.7L2501.8 642.2L2500.6 641.5L2499.5 640.8L2498.4 640.1L2497.3 639.6L2496.1 639L2495 638.4L2494 637.6L2493 636.8L2492 636.2L2490.8 635.7L2489.7 635.2L2488.7 634.5L2487.7 633.8L2486.8 633.1L2485.7 632.6L2484.6 632.2L2483.5 631.6L2482.6 630.9L2481.7 630.2L2480.8 629.5L2479.8 628.9L2478.9 628.4L2478 627.7L2477.2 626.8L2476.5 626L2475.7 625.3L2474.8 624.7L2473.9 624.1L2473.2 623.3L2472.5 622.6L2471.7 621.8L2470.9 621.2L2470 620.7L2469.1 620.1L2468.4 619.4L2467.8 618.6L2467.1 617.9L2466.3 617.3L2465.5 616.7L2464.9 615.9L2464.4 615.1L2463.9 614.2L2463.4 613.5L2462.7 612.8L2462.1 612.1L2461.6 611.3L2461.2 610.5L2460.8 609.7L2460.2 609L2459.5 608.3L2459 607.7L2458.5 606.9L2458.1 606.1L2457.7 605.4L2457.1 604.7L2456.6 604L2456.1 603.2L2455.9 602.4L2455.7 601.6L2455.4 600.8L2455 600L2454.6 599.3L2454.4 598.5L2454.4 597.6L2454.2 596.8L2454 596.1L2453.6 595.3L2453.3 594.6L2453.1 593.8L2453.1 593L2452.9 592.2L2452.6 591.5L2452.3 590.7L2452.1 590L2452.1 589.2L2452.2 588.4L2452.1 587.6L2452 586.8L2451.9 586L2452 585.2L2452.2 584.4L2452.4 583.7L2452.5 582.9L2452.4 582.1L2452.4 581.3L2452.5 580.6L2452.7 579.8L2452.9 579L2452.9 578.2L2452.8 577.4L2452.8 576.6L2453.1 575.9L2453.4 575.1L2453.6 574.3L2453.7 573.5L2453.9 572.7L2454.2 572L2454.7 571.3L2455.1 570.6L2455.5 569.9L2455.7 569.1L2456 568.3L2456.5 567.6L2457 566.9L2457.4 566.2L2457.7 565.4L2458 564.6L2458.3 563.8L2458.8 563.1L2459.4 562.4L2459.8 561.6L2460.2 560.8L2460.6 560L2461.2 559.3L2461.8 558.7L2462.5 558.1L2463.1 557.4L2463.7 556.6L2464.3 555.9L2465 555.3L2465.8 554.7L2466.5 554.1L2467.1 553.3L2467.6 552.5L2468.3 551.8L2469 551.1L2469.8 550.5L2470.5 549.8L2471.1 549L2471.8 548.2L2472.5 547.5L2473.4 546.9L2474.3 546.4L2475.1 545.7L2475.9 545L2476.8 544.3L2477.7 543.8L2478.7 543.3L2479.7 542.8L2480.5 542.1L2481.4 541.4L2482.3 540.7L2483.3 540.1L2484.3 539.6L2485.2 539L2486.1 538.2L2487 537.4L2488 536.7L2489 536.2L2490.1 535.7L2491.1 535.1L2492.2 534.4L2493.2 533.7L2494.3 533.2L2495.5 532.8L2496.7 532.4L2497.8 531.8L2498.9 531.2L2500 530.6L2501.2 530.1L2502.4 529.7L2503.6 529.1L2504.8 528.4L2505.9 527.7L2507.1 527L2508.3 526.6L2509.6 526.1L2510.8 525.5L2512 524.9L2513.3 524.3L2514.6 523.8L2515.9 523.5L2517.3 523.1L2518.6 522.6L2519.9 522L2521.2 521.5L2522.6 521.2L2524 520.8L2525.4 520.4L2526.8 519.8L2528.1 519.2L2529.5 518.6L2530.9 518.2L2532.3 517.8L2533.8 517.3L2535.1 516.7L2536.6 516.1L2538 515.7L2539.5 515.4L2541.1 515.1L2542.5 514.7L2544 514.2L2545.5 513.7L2547.1 513.5L2548.7 513.3L2550.2 513L2551.7 512.5L2553.2 511.9L2554.8 511.5L2556.4 511.2L2558 510.9L2559.5 510.4L2561.1 509.9L2562.6 509.4L2564.2 509L2565.9 508.7L2567.5 508.5L2569.2 508.2L2570.8 507.7L2572.4 507.4L2574.1 507.2L2575.8 507.1L2577.5 506.9L2579.2 506.6L2580.8 506.2L2582.5 505.9L2584.2 505.7L2585.9 505.5L2587.6 505.2L2589.3 504.7L2591 504.2L2592.7 503.9L2594.4 503.8L2596.2 503.6L2597.9 503.3L2599.7 502.9L2601.4 502.6L2603.2 502.5L2605 502.5L2606.7 502.5L2608.5 502.2L2610.3 501.9L2612.1 501.7L2613.9 501.7L2615.7 501.6L2617.5 501.5L2619.2 501.1L2621 500.8L2622.8 500.5L2624.6 500.4L2626.5 500.3L2628.3 500.1L2630.1 499.8L2631.9 499.6L2633.7 499.5L2635.6 499.6L2637.4 499.6L2639.2 499.5L2641.1 499.3L2642.9 499.2L2644.7 499.3L2646.6 499.4L2648.4 499.4L2650.3 499.2L2652.1 498.9L2654 498.8L2655.8 498.8L2657.7 498.8L2659.5 498.7L2661.4 498.5L2663.2 498.3L2665.1 498.3L2667 498.5L2668.8 498.6L2670.7 498.6L2672.5 498.5L2674.4 498.5L2676.3 498.7L2678.1 498.9L2680 499.1L2681.8 499L2683.7 498.9L2685.6 499L2687.4 499.1L2689.3 499.2L2691.1 499.2L2693 499.1L2694.9 499L2696.7 499.1L2698.6 499.3L2700.4 499.5L2702.2 499.5L2704.1 499.5L2705.9 499.6L2707.8 499.9L2709.6 500.2L2711.4 500.5L2713.3 500.6L2715.1 500.6L2716.9 500.8L2718.7 501.2L2720.5 501.5L2722.4 501.7L2724.2 501.7L2726 501.8L2727.8 502L2729.6 502.3L2731.4 502.6L2733.2 502.8L2735 502.9L2736.8 503.2L2738.6 503.6L2740.3 504L2742 504.5L2743.8 504.9L2745.5 505.3L2747.3 505.8L2749 506.4L2750.7 507L2752.4 507.5L2754.1 507.8L2755.8 508.1L2757.5 508.7L2759.1 509.4L2760.8 510.1L2762.4 510.6L2762.4 510.6L2760.6 510.8L2758.9 510.8L2757.1 510.8L2755.4 510.9L2753.6 511.1L2751.8 511.2L2750 511.1L2748.3 511L2746.6 510.8L2744.8 510.7L2743 510.8L2741.2 510.8L2739.5 510.6L2737.7 510.2L2736 510L2734.2 509.9L2732.4 509.9L2730.6 509.9L2728.8 509.7L2727.1 509.5L2725.3 509.4L2723.5 509.5L2721.6 509.6L2719.8 509.6L2718 509.4L2716.3 509.2L2714.4 509.1L2712.6 509.1L2710.8 509L2709 508.8L2707.2 508.4L2705.4 508.2L2703.6 508.1L2701.8 508.1L2700 508.1L2698.1 507.9L2696.3 507.7L2694.5 507.7L2692.7 507.8L2690.8 507.9L2689 508L2687.2 507.8L2685.3 507.7L2683.5 507.7L2681.7 507.8L2679.8 507.9L2678 507.8L2676.2 507.5L2674.4 507.4L2672.5 507.4L2670.7 507.5L2668.9 507.5L2667 507.4L2665.2 507.3L2663.4 507.3L2661.5 507.4L2659.7 507.7L2657.9 507.8L2656.1 507.8L2654.2 507.8L2652.4 507.9L2650.6 508.1L2648.8 508.3L2647 508.3L2645.1 508.2L2643.3 508.2L2641.5 508.2L2639.7 508.4L2637.9 508.5L2636.1 508.5L2634.3 508.4L2632.5 508.4L2630.7 508.7L2628.9 509L2627.1 509.2L2625.3 509.2L2623.6 509.3L2621.8 509.5L2620 509.9L2618.3 510.2L2616.5 510.4L2614.7 510.4L2613 510.5L2611.2 510.6L2609.5 510.9L2607.7 511.1L2606 511.2L2604.2 511.2L2602.5 511.3L2600.8 511.6L2599.1 511.9L2597.4 512.2L2595.7 512.3L2593.9 512.5L2592.3 512.8L2590.6 513.2L2588.9 513.7L2587.3 514L2585.6 514.2L2583.9 514.3L2582.3 514.6L2580.6 515L2579 515.4L2577.3 515.5L2575.7 515.6L2574 515.8L2572.4 516.1L2570.8 516.5L2569.2 516.9L2567.6 517.1L2566 517.3L2564.4 517.6L2562.9 518.2L2561.4 518.7L2559.8 519.1L2558.3 519.4L2556.7 519.7L2555.2 520.1L2553.7 520.6L2552.3 521L2550.7 521.3L2549.2 521.5L2547.7 521.8L2546.2 522.2L2544.7 522.6L2543.3 523L2541.8 523.3L2540.3 523.5L2538.9 523.9L2537.5 524.5L2536.2 525.1L2534.8 525.6L2533.4 525.9L2532 526.3L2530.6 526.9L2529.3 527.5L2528 528L2526.7 528.4L2525.3 528.7L2524 529.1L2522.7 529.6L2521.4 530.1L2520.1 530.6L2518.8 530.9L2517.5 531.2L2516.2 531.6L2515 532.2L2513.8 532.8L2512.6 533.4L2511.4 533.8L2510.2 534.2L2509 534.8L2508 535.5L2506.9 536.2L2505.7 536.7L2504.6 537.1L2503.4 537.6L2502.3 538.1L2501.3 538.7L2500.2 539.3L2499.1 539.7L2497.9 540L2496.8 540.5L2495.8 541.1L2494.9 541.7L2493.9 542.3L2492.8 542.8L2491.8 543.3L2490.9 543.9L2490 544.6L2489.2 545.3L2488.3 545.9L2487.3 546.4L2486.4 547L2485.6 547.6L2484.8 548.3L2484 548.9L2483 549.4L2482.1 549.8L2481.2 550.3L2480.4 550.9L2479.7 551.6L2478.9 552.2L2478.1 552.7L2477.3 553.2L2476.6 553.8L2476 554.6L2475.4 555.3L2474.8 555.9L2474 556.5L2473.4 557.1L2472.8 557.8L2472.3 558.5L2471.8 559.2L2471.1 559.7L2470.4 560.2L2469.7 560.7L2469.2 561.4L2468.7 562.1L2468.2 562.7L2467.5 563.2L2466.9 563.7L2466.4 564.3L2466.1 565L2465.8 565.7L2465.4 566.4L2464.9 567L2464.5 567.6L2464.2 568.3L2464 569L2463.7 569.7L2463.3 570.3L2462.9 570.8L2462.5 571.4L2462.2 572.1L2462 572.7L2461.7 573.3L2461.3 573.9L2460.9 574.4L2460.6 575.1L2460.5 575.7L2460.4 576.4L2460.2 577L2459.9 577.6L2459.7 578.2L2459.7 578.9L2459.8 579.5L2459.8 580.2L2459.7 580.8L2459.5 581.4L2459.4 582L2459.4 582.7L2459.5 583.3L2459.4 583.9L2459.2 584.5L2459 585.1L2459 585.8L2459.1 586.4L2459.2 587L2459.3 587.6L2459.3 588.3L2459.3 588.9L2459.5 589.5L2459.8 590.1L2460.1 590.7L2460.3 591.3L2460.3 592L2460.5 592.6L2460.8 593.2L2461.2 593.8L2461.4 594.4L2461.5 595L2461.6 595.7L2461.8 596.4L2462.1 597L2462.4 597.6L2462.7 598.2L2462.9 598.9L2463.1 599.6L2463.5 600.2L2464 600.8L2464.5 601.3L2464.9 601.9L2465.3 602.6L2465.7 603.2L2466.2 603.7L2466.9 604.3L2467.4 604.8L2467.8 605.5L2468.1 606.2L2468.6 606.9L2469.2 607.5L2469.7 608.1L2470.2 608.7L2470.7 609.5L2471.1 610.2L2471.7 610.8L2472.4 611.3L2473.2 611.9L2473.8 612.5L2474.4 613.2L2475 613.8L2475.8 614.3L2476.6 614.7L2477.4 615.3L2478.1 615.9L2478.8 616.6L2479.5 617.3L2480.3 617.8L2481.1 618.3L2481.9 619L2482.6 619.7L2483.3 620.5L2484.1 621.1L2485 621.6L2485.9 622.1L2486.8 622.8L2487.6 623.4L2488.5 624.1L2489.5 624.5L2490.5 624.9L2491.5 625.4L2492.5 626L2493.4 626.6L2494.4 627.2L2495.4 627.7L2496.5 628.2L2497.5 628.7L2498.5 629.5L2499.4 630.2L2500.5 630.8L2501.6 631.3L2502.7 631.8L2503.7 632.4L2504.8 633L2505.9 633.7L2507.1 634.1L2508.3 634.5L2509.5 634.9L2510.7 635.4L2511.8 636L2513 636.5L2514.3 636.9L2515.6 637.2L2516.8 637.7L2518 638.3L2519.2 639L2520.4 639.6L2521.7 640L2523.1 640.4L2524.3 641L2525.6 641.6L2526.8 642.2L2528.2 642.7L2529.6 643L2531 643.3L2532.4 643.8L2533.7 644.3L2535.1 644.8L2536.5 645.1L2538 645.3L2539.4 645.7L2540.8 646.2L2542.2 646.8L2543.6 647.2L2545.1 647.6L2546.6 648L2548 648.4L2549.5 649.1L2550.9 649.6L2552.4 650L2554 650.3L2555.5 650.6L2557 651L2558.5 651.5L2560.1 651.8L2561.7 652.1L2563.3 652.2L2564.9 652.5L2566.4 652.9L2568 653.4L2569.6 653.7L2571.2 654L2572.8 654.2L2574.4 654.6L2576 655.2L2577.5 655.7L2579.2 656.1L2580.8 656.3L2582.5 656.5L2584.1 656.9L2585.8 657.4L2587.4 657.7L2589.1 657.9L2590.8 657.9L2592.5 658.1L2594.2 658.4L2595.9 658.8L2597.6 659L2599.3 659.2L2601.1 659.3L2602.8 659.6L2604.5 660L2606.2 660.4L2607.9 660.7L2609.7 660.9L2611.4 661.1L2613.1 661.4L2614.9 661.8L2616.6 662.1L2618.4 662.2L2620.2 662.2L2622 662.3L2623.7 662.5L2625.5 662.7L2627.3 662.9L2629.1 662.9L2630.9 662.9L2632.7 663L2634.5 663.3L2636.2 663.6L2638 663.8L2639.8 663.9L2641.7 664L2643.5 664.2L2645.3 664.5L2647.1 664.8L2648.9 664.8L2650.7 664.8L2652.5 664.8L2654.3 664.9L2656.2 665.1L2658 665.1L2659.8 665L2661.6 664.9L2663.5 664.9L2665.3 665L2667.1 665.2L2669 665.3L2670.8 665.2L2672.6 665.2L2674.4 665.3L2676.3 665.5L2678.1 665.7L2679.9 665.7L2681.8 665.6L2683.6 665.5L2685.4 665.6L2687.2 665.7L2689.1 665.7L2690.9 665.5L2692.7 665.2L2694.5 665.1L2696.4 665.1L2698.2 665.2L2700 665.1L2701.8 664.9L2703.6 664.7L2705.4 664.8L2707.3 664.9L2709.1 665L2710.9 664.9L2712.7 664.7L2714.5 664.6L2716.3 664.6L2718.1 664.6L2719.9 664.5L2721.7 664.3L2723.5 663.9L2725.2 663.7L2727 663.6L2728.8 663.5L2730.6 663.3L2732.3 663L2734.1 662.7L2735.8 662.6L2737.6 662.6L2739.4 662.6L2741.1 662.4L2742.9 662.2L2744.6 661.9L2746.3 661.9L2748.1 661.9L2749.8 661.7L2751.5 661.4L2753.2 661L2754.9 660.7L2756.6 660.5L2758.3 660.3L2760 660L2761.7 659.6L2763.3 659.2L2765 658.9L2766.7 658.8L2768.3 658.6L2770 658.4L2771.6 658L2773.3 657.7L2774.9 657.5L2776.6 657.4L2778.2 657.3L2779.8 656.9L2781.4 656.4L2783 656.1L2784.6 655.8L2786.2 655.6L2787.7 655.2L2789.2 654.7L2790.8 654.1L2792.3 653.7L2793.9 653.5L2795.4 653.2L2796.9 652.8L2798.4 652.3L2799.9 651.9L2801.4 651.7L2802.9 651.5L2804.5 651.2L2805.9 650.8L2807.4 650.3L2808.8 649.9L2810.3 649.6L2811.7 649.3L2813.1 648.9L2814.5 648.3L2815.8 647.7L2817.2 647.2L2818.6 646.8L2820 646.4L2821.3 645.9L2822.6 645.4L2823.9 644.8L2825.3 644.5L2826.7 644.2L2828 643.9L2829.3 643.4L2830.6 642.8L2831.8 642.4L2833.2 642L2834.5 641.7L2835.7 641.3L2836.9 640.7L2838 640L2839.2 639.5L2840.4 639L2841.6 638.6L2842.8 638L2843.9 637.3L2845 636.7L2846.1 636.2L2847.3 635.9L2848.5 635.5L2849.6 634.9L2850.6 634.3L2851.7 633.8L2852.8 633.4L2854 633.1L2855 632.6L2856 632L2856.9 631.3L2857.9 630.7L2858.9 630.2L2859.9 629.7L2860.8 629.1L2861.7 628.4L2862.5 627.7L2863.4 627.1L2864.4 626.6L2865.3 626.1L2866.2 625.5L2867 624.9L2867.9 624.3L2868.8 623.9L2869.7 623.5L2870.6 623L2871.4 622.3L2872.1 621.6L2872.8 621L2873.7 620.5L2874.5 620L2875.2 619.4L2875.8 618.7L2876.3 617.9L2877 617.3L2877.7 616.8L2878.5 616.3L2879.1 615.6L2879.6 614.9L2880.2 614.3L2880.9 613.8L2881.7 613.4L2882.3 612.8L2882.9 612.2L2883.4 611.5L2883.9 610.9L2884.5 610.4L2885.2 609.9L2885.6 609.2L2886 608.5L2886.3 607.8L2886.7 607.2L2887.2 606.6L2887.7 606L2888 605.3L2888.3 604.7L2888.8 604.1L2889.4 603.6L2890 603.1L2890.6 602.5L2891.1 602L2891.4 601.3L2891.9 600.8L2892.5 600.2L2893.1 599.7L2893.5 599L2893.8 598.4L2894 597.7L2894.4 597L2894.8 596.4ZM2740.9 506.8L2742.2 506.4L2743.4 506.1L2744.7 505.9L2745.9 505.9L2747.1 506.1L2748.3 506.4L2749.5 506.9L2750.6 507.6L2751.7 508.3L2751.7 508.5L2750.4 508.9L2749.1 509.2L2747.9 509.3L2746.7 509.4L2745.5 509.2L2744.3 508.8L2743.1 508.3L2742 507.7L2740.9 507ZM2754.9 510.5L2755.9 510.1L2756.9 509.8L2757.9 509.5L2758.8 509.5L2759.8 509.6L2760.7 510L2761.5 510.5L2762.4 511.2L2763.2 511.9L2763.1 512.1L2762.1 512.5L2761.1 512.9L2760.1 513.1L2759.2 513.1L2758.3 513L2757.4 512.6L2756.5 512.1L2755.7 511.5L2754.8 510.7ZM2766.9 510.6L2767.6 510.3L2768.3 510L2768.9 509.8L2769.6 509.8L2770.2 509.9L2770.8 510.2L2771.3 510.6L2771.9 511.1L2772.4 511.6L2772.4 511.8L2771.7 512.1L2771 512.4L2770.3 512.6L2769.7 512.6L2769.1 512.5L2768.5 512.2L2767.9 511.8L2767.4 511.3L2766.8 510.8ZM2776.5 511.9L2777 511.5L2777.6 511.1L2778.1 510.9L2778.6 510.8L2779.1 510.9L2779.5 511.1L2779.9 511.6L2780.3 512.2L2780.6 512.8L2780.6 513L2780 513.4L2779.4 513.8L2778.9 514.1L2778.4 514.1L2778 514.1L2777.5 513.8L2777.1 513.3L2776.8 512.8L2776.4 512.1ZM2783.4 513L2784.6 512.8L2785.7 512.7L2786.9 512.7L2788 512.8L2789 513L2790 513.4L2791 513.9L2792 514.6L2792.9 515.2L2792.9 515.4L2791.7 515.5L2790.6 515.6L2789.5 515.6L2788.4 515.5L2787.4 515.3L2786.3 514.9L2785.3 514.4L2784.4 513.8L2783.4 513.2ZM2795.4 518.1L2796.3 518L2797.2 518L2798.1 518.1L2799 518.2L2799.9 518.4L2800.7 518.8L2801.5 519.2L2802.3 519.6L2803.1 520.1L2803.1 520.3L2802.1 520.4L2801.2 520.4L2800.3 520.3L2799.4 520.2L2798.6 519.9L2797.7 519.6L2796.9 519.2L2796.1 518.7L2795.3 518.3ZM2806.1 520L2806.9 519.9L2807.8 520L2808.6 520L2809.3 520.2L2810.1 520.4L2810.8 520.7L2811.5 521.1L2812.2 521.5L2812.9 522L2812.8 522.2L2812 522.2L2811.2 522.2L2810.4 522.1L2809.6 522L2808.9 521.8L2808.1 521.5L2807.4 521.1L2806.7 520.6L2806 520.2ZM2815.2 522L2816.2 522.1L2817.1 522.2L2818.1 522.4L2819 522.6L2819.8 522.9L2820.7 523.2L2821.5 523.7L2822.3 524.1L2823.1 524.6L2823.1 524.8L2822.1 524.7L2821.2 524.5L2820.3 524.4L2819.4 524.1L2818.5 523.8L2817.7 523.5L2816.8 523.1L2816 522.6L2815.2 522.2Z" fill="#baebeb"/><path d="M2672.2 506.2L2673.9 506.1L2675.6 505.9L2677.3 505.9L2679 505.8L2680.7 505.8L2682.4 505.8L2684.2 505.9L2685.9 506L2687.6 506.2L2689.3 506.4L2691 506.5L2691 506.5L2689.2 506.6L2687.5 506.7L2685.8 506.8L2684.1 506.8L2682.4 506.8L2680.7 506.8L2679 506.7L2677.3 506.6L2675.6 506.5L2673.9 506.3L2672.2 506.2ZM2481.3 548.9L2482.5 547.8L2483.6 546.8L2484.9 545.8L2486.2 544.8L2487.6 543.9L2489 543L2490.4 542.2L2492 541.4L2493.5 540.6L2495.2 539.9L2496.8 539.2L2496.8 539.2L2495.3 540.2L2493.9 541.2L2492.4 542.2L2491 543.1L2489.6 544.1L2488.2 544.9L2486.8 545.8L2485.4 546.6L2484 547.3L2482.7 548.1L2481.3 548.9ZM2569.3 515.4L2571.7 514.7L2574.1 514.1L2576.5 513.4L2579 512.9L2581.4 512.4L2583.9 512L2586.4 511.6L2589 511.3L2591.5 511.1L2594.1 510.9L2596.7 510.8L2596.7 510.8L2594.1 511.3L2591.6 511.9L2589.1 512.4L2586.6 512.9L2584.2 513.4L2581.7 513.8L2579.2 514.2L2576.7 514.5L2574.3 514.8L2571.8 515.1L2569.3 515.4ZM2522.7 527.8L2524.5 526.9L2526.3 526.1L2528.2 525.3L2530.1 524.5L2532.1 523.8L2534 523.2L2536.1 522.6L2538.1 522.1L2540.2 521.7L2542.3 521.3L2544.5 520.9L2544.5 520.9L2542.4 521.7L2540.4 522.5L2538.4 523.2L2536.5 523.9L2534.5 524.6L2532.5 525.2L2530.5 525.8L2528.6 526.4L2526.6 526.9L2524.6 527.3L2522.7 527.8ZM2517.2 529.7L2518.1 529.2L2519 528.8L2520 528.3L2520.9 527.9L2521.9 527.5L2522.9 527.1L2523.9 526.8L2524.9 526.5L2525.9 526.3L2527 526L2528 525.8L2528 525.8L2527.1 526.2L2526.1 526.7L2525.1 527.1L2524.1 527.5L2523.2 527.9L2522.2 528.2L2521.2 528.6L2520.2 528.9L2519.2 529.2L2518.2 529.4L2517.2 529.7ZM2646.2 506.3L2647.5 506L2648.9 505.8L2650.2 505.6L2651.6 505.4L2652.9 505.3L2654.3 505.3L2655.6 505.3L2657 505.4L2658.3 505.5L2659.7 505.7L2661 505.9L2661 505.9L2659.7 506.1L2658.3 506.4L2657 506.5L2655.7 506.7L2654.3 506.8L2653 506.8L2651.6 506.8L2650.3 506.7L2648.9 506.6L2647.5 506.5L2646.2 506.3ZM2695.7 505.6L2697.7 505.6L2699.7 505.5L2701.7 505.5L2703.7 505.6L2705.7 505.7L2707.7 505.8L2709.6 506L2711.6 506.2L2713.6 506.4L2715.5 506.7L2717.5 507L2717.5 507L2715.5 507L2713.5 506.9L2711.5 506.9L2709.6 506.8L2707.6 506.7L2705.6 506.6L2703.7 506.4L2701.7 506.2L2699.7 506L2697.7 505.8L2695.7 505.6ZM2582.5 512.5L2585.1 511.9L2587.7 511.3L2590.4 510.8L2593.1 510.3L2595.8 509.8L2598.5 509.5L2601.3 509.2L2604.1 508.9L2606.8 508.7L2609.6 508.5L2612.5 508.4L2612.5 508.4L2609.7 508.9L2606.9 509.4L2604.2 509.8L2601.4 510.3L2598.7 510.7L2596 511.1L2593.2 511.4L2590.5 511.7L2587.8 512L2585.1 512.3L2582.5 512.5ZM2472.3 556.3L2472.9 555.6L2473.4 554.9L2474 554.2L2474.7 553.5L2475.3 552.9L2476 552.3L2476.8 551.7L2477.6 551.2L2478.4 550.6L2479.2 550.1L2480.1 549.7L2480.1 549.7L2479.4 550.4L2478.7 551L2478 551.7L2477.4 552.4L2476.7 553L2476 553.6L2475.2 554.2L2474.5 554.7L2473.8 555.2L2473.1 555.8L2472.3 556.3ZM2676.2 675L2674.4 675.1L2672.5 675.2L2670.7 675.3L2668.8 675.3L2666.9 675.3L2665.1 675.2L2663.2 675L2661.4 674.8L2659.5 674.6L2659.5 674.6L2661.4 674.6L2663.3 674.5L2665.1 674.5L2667 674.5L2668.8 674.5L2670.7 674.6L2672.5 674.7L2674.4 674.9L2676.2 675ZM2516.7 647.6L2515.7 647.4L2514.7 647.2L2513.8 646.9L2512.9 646.6L2512 646.2L2511.1 645.8L2510.3 645.3L2509.4 644.8L2508.6 644.2L2508.6 644.2L2509.6 644.4L2510.5 644.7L2511.5 644.9L2512.4 645.3L2513.3 645.6L2514.1 646.1L2515 646.5L2515.9 647.1L2516.7 647.6ZM2460.8 595.5L2460.5 595L2460.2 594.6L2459.9 594.2L2459.7 593.7L2459.6 593.2L2459.5 592.7L2459.5 592.2L2459.5 591.7L2459.6 591.2L2459.6 591.2L2459.8 591.6L2460.1 592L2460.3 592.5L2460.5 592.9L2460.6 593.4L2460.7 593.9L2460.8 594.4L2460.8 594.9L2460.8 595.5ZM2715.8 674L2714.6 674.2L2713.3 674.4L2712.1 674.5L2710.9 674.6L2709.7 674.7L2708.4 674.7L2707.2 674.7L2705.9 674.6L2704.7 674.5L2704.7 674.5L2705.9 674.4L2707.2 674.2L2708.4 674.1L2709.6 674L2710.8 673.9L2712.1 673.9L2713.3 673.9L2714.6 673.9L2715.8 674ZM2551.9 659.7L2550.5 659.5L2549.2 659.2L2547.8 658.9L2546.5 658.6L2545.2 658.2L2543.9 657.8L2542.7 657.4L2541.4 656.9L2540.2 656.4L2540.2 656.4L2541.5 656.7L2542.8 657L2544.1 657.3L2545.4 657.6L2546.7 658L2548 658.4L2549.3 658.8L2550.6 659.3L2551.9 659.7ZM2454.8 573.7L2454.8 573.2L2454.9 572.6L2455 572.1L2455.1 571.5L2455.3 571L2455.6 570.5L2455.9 570L2456.3 569.5L2456.6 569.1L2456.6 569.1L2456.5 569.7L2456.4 570.2L2456.3 570.8L2456.1 571.3L2455.9 571.8L2455.7 572.3L2455.4 572.8L2455.1 573.3L2454.8 573.7Z" fill="#fff"/><path d="M2820.7 525.1L2824.8 526.5M2831.5 531.4L2838 534.1M2845.4 533.9L2851.1 536.6M2856.4 541.6L2858.3 542.6M2864.2 545.3L2866.9 547.1M2871 552.9L2872.8 554.3M2876.4 556.5L2877.9 557.8M2882.9 562.6L2884.6 564.7M2890.1 567.8L2891.1 569.3" fill="none" stroke="#baebeb" stroke-width="1.3" stroke-linecap="round"/><path d="M2548.5 543C2548.4 549.6 2547.3 570 2547.9 582.4C2548.4 594.8 2551 611.6 2551.6 617.4M2534.1 563C2536.5 560.7 2544.3 552.8 2548.5 549.3C2552.6 545.8 2554.6 543.6 2559.1 541.8C2563.6 540 2570.6 538.1 2575.4 538.4C2580.1 538.7 2586 540.9 2587.9 543.6C2589.7 546.4 2589.3 550.7 2586.6 554.9C2583.9 559.1 2577.9 563.6 2571.6 568.6C2565.4 573.6 2552.9 582.2 2549.1 584.9M2601.6 574.9C2601.1 577.4 2599 585.2 2598.4 589.9C2597.7 594.6 2597.5 599.1 2597.9 602.9C2598.2 606.7 2598.9 610.6 2600.4 612.9C2601.8 615.2 2604.5 616.7 2606.6 616.9C2608.7 617.1 2610.8 615.7 2612.9 613.9C2614.9 612.1 2617.3 609.1 2618.9 605.9C2620.4 602.7 2621.9 598.6 2622.3 594.9C2622.6 591.2 2621.9 586.5 2620.9 583.9C2619.8 581.3 2617.7 580.1 2615.9 579.3C2614 578.5 2611.7 578.6 2609.9 578.9C2608 579.2 2605.7 580.6 2604.9 580.9M2666.6 573C2664.3 573.5 2657.6 573.8 2652.9 576.1C2648.1 578.5 2641 584.3 2637.9 587.4C2634.7 590.5 2632.6 593.3 2634.1 594.9C2635.6 596.5 2640.8 597 2646.6 596.8C2652.4 596.6 2666.4 592.7 2669.1 593.6C2671.8 594.6 2665.4 598.4 2662.9 602.4C2660.4 606.4 2655.6 614.9 2654.1 617.4M2694.1 537.4C2694.4 544.5 2694.8 566.6 2695.9 579.9C2696.9 593.2 2699.6 611.1 2700.4 617.4M2683.5 585.5C2686.7 584.1 2696.3 580.1 2702.9 577.4C2709.4 574.7 2719.5 570.6 2722.9 569.3M2805.7 557.8C2803.7 560.6 2797.9 568.9 2793.9 574.7C2789.9 580.5 2783.9 589.6 2781.9 592.6M2781.9 592.6C2785.2 592.1 2795.8 591.4 2801.8 589.9C2807.8 588.4 2815.1 584.8 2817.8 583.8M2806.2 557.8C2806.2 562.2 2805.7 574.4 2806.2 584.3C2806.7 594.2 2808.5 611.9 2809 617.4" fill="none" stroke="#baebeb" stroke-width="9.2" stroke-linecap="round" stroke-linejoin="round"/><path d="M2420.5 1384.6L2420.5 1385.3L2420.5 1386.1L2420.6 1386.9L2420.5 1387.7L2420.3 1388.4L2420 1389.1L2419.9 1389.9L2419.8 1390.7L2419.7 1391.5L2419.5 1392.3L2419.2 1393L2419 1393.8L2418.9 1394.6L2418.8 1395.6L2418.6 1396.4L2418.2 1397.1L2417.7 1397.8L2417.3 1398.6L2417 1399.4L2416.6 1400.2L2416.2 1400.9L2415.5 1401.6L2414.9 1402.2L2414.3 1402.9L2413.8 1403.7L2413.3 1404.4L2412.7 1405.1L2411.9 1405.7L2411.3 1406.3L2410.7 1407.1L2410.2 1407.9L2409.6 1408.7L2409 1409.4L2408.2 1410.1L2407.6 1410.8L2407 1411.6L2406.4 1412.4L2405.7 1413.1L2404.8 1413.7L2404 1414.3L2403.1 1415L2402.4 1415.7L2401.6 1416.4L2400.7 1417L2399.7 1417.5L2398.8 1418L2397.9 1418.7L2397.1 1419.5L2396.3 1420.2L2395.4 1420.8L2394.4 1421.3L2393.4 1422L2392.6 1422.8L2391.7 1423.6L2390.8 1424.3L2389.7 1424.8L2388.7 1425.3L2387.6 1425.9L2386.7 1426.6L2385.6 1427.3L2384.5 1427.8L2383.4 1428.2L2382.2 1428.7L2381.1 1429.2L2380 1429.9L2379 1430.6L2377.8 1431.1L2376.6 1431.5L2375.4 1432.1L2374.3 1432.8L2373.2 1433.6L2372.1 1434.2L2370.9 1434.7L2369.6 1435.2L2368.4 1435.8L2367.2 1436.4L2366 1437.1L2364.7 1437.5L2363.3 1437.9L2362 1438.3L2360.7 1438.7L2359.4 1439.3L2358.1 1439.9L2356.7 1440.3L2355.3 1440.6L2354 1441.1L2352.6 1441.6L2351.3 1442.3L2350 1442.9L2348.6 1443.3L2347.1 1443.7L2345.7 1444.2L2344.4 1444.8L2343 1445.4L2341.5 1445.9L2340 1446.1L2338.5 1446.4L2337 1446.8L2335.6 1447.3L2334.1 1447.8L2332.5 1448.1L2331 1448.3L2329.4 1448.6L2327.9 1449.1L2326.4 1449.6L2324.9 1450.1L2323.3 1450.5L2321.8 1450.8L2320.2 1451.2L2318.7 1451.7L2317.1 1452.3L2315.5 1452.7L2313.9 1452.9L2312.2 1453.1L2310.6 1453.5L2309 1453.9L2307.4 1454.3L2305.7 1454.5L2304 1454.6L2302.4 1454.8L2300.7 1455.1L2299.1 1455.5L2297.4 1455.9L2295.7 1456.1L2294 1456.3L2292.3 1456.6L2290.6 1457.1L2288.9 1457.6L2287.2 1457.9L2285.5 1458.1L2283.8 1458.3L2282 1458.5L2280.3 1458.9L2278.6 1459.2L2276.8 1459.3L2275 1459.4L2273.3 1459.4L2271.5 1459.7L2269.7 1460L2268 1460.2L2266.2 1460.3L2264.4 1460.4L2262.6 1460.5L2260.8 1460.9L2259.1 1461.3L2257.3 1461.5L2255.5 1461.6L2253.6 1461.7L2251.8 1461.9L2250 1462.2L2248.2 1462.5L2246.4 1462.6L2244.6 1462.5L2242.7 1462.5L2240.9 1462.6L2239.1 1462.8L2237.2 1462.9L2235.4 1462.9L2233.5 1462.8L2231.7 1462.8L2229.9 1463L2228 1463.3L2226.2 1463.4L2224.3 1463.4L2222.5 1463.4L2220.6 1463.5L2218.8 1463.8L2216.9 1464L2215.1 1464L2213.2 1463.8L2211.3 1463.7L2209.5 1463.8L2207.6 1463.8L2205.8 1463.9L2203.9 1463.7L2202 1463.5L2200.2 1463.4L2198.3 1463.4L2196.5 1463.6L2194.6 1463.6L2192.7 1463.5L2190.9 1463.3L2189 1463.4L2187.2 1463.5L2185.3 1463.6L2183.4 1463.6L2181.6 1463.4L2179.7 1463.2L2177.9 1463.2L2176 1463.2L2174.2 1463.1L2172.3 1462.9L2170.5 1462.5L2168.7 1462.3L2166.8 1462.2L2165 1462.2L2163.2 1462.1L2161.3 1461.8L2159.5 1461.6L2157.7 1461.5L2155.8 1461.5L2154 1461.6L2152.2 1461.4L2150.4 1461.2L2148.6 1460.9L2146.8 1460.8L2144.9 1460.8L2143.1 1460.6L2141.3 1460.3L2139.6 1459.9L2137.8 1459.6L2136 1459.4L2134.2 1459.2L2132.5 1459L2130.7 1458.6L2129 1458.2L2127.2 1458L2125.4 1457.9L2123.7 1457.8L2121.9 1457.6L2120.2 1457.3L2118.5 1457L2116.7 1456.8L2115 1456.6L2113.2 1456.5L2111.5 1456.1L2109.9 1455.6L2108.2 1455.2L2106.5 1454.9L2104.8 1454.6L2103.1 1454.3L2101.5 1453.8L2099.9 1453.3L2098.2 1452.9L2096.5 1452.7L2094.9 1452.5L2093.2 1452.2L2091.6 1451.8L2090 1451.3L2088.4 1451L2086.7 1450.9L2085.1 1450.6L2083.5 1450.2L2082 1449.6L2080.4 1449.1L2078.8 1448.8L2077.3 1448.4L2075.7 1448L2074.2 1447.4L2072.8 1446.8L2071.3 1446.2L2069.7 1445.9L2068.2 1445.5L2066.7 1445.1L2065.3 1444.5L2063.8 1444L2062.3 1443.6L2060.8 1443.3L2059.3 1443L2057.9 1442.6L2056.5 1442L2055.1 1441.4L2053.7 1441L2052.2 1440.6L2050.9 1440.1L2049.5 1439.5L2048.2 1438.7L2046.9 1438.1L2045.6 1437.6L2044.2 1437.2L2042.9 1436.7L2041.6 1436L2040.4 1435.4L2039.1 1434.9L2037.7 1434.5L2036.4 1434.1L2035.1 1433.6L2033.9 1432.9L2032.7 1432.3L2031.5 1431.9L2030.2 1431.4L2029 1430.9L2027.8 1430.2L2026.7 1429.5L2025.6 1428.8L2024.5 1428.2L2023.3 1427.7L2022.2 1427.1L2021.2 1426.3L2020.1 1425.6L2019.1 1425L2017.9 1424.5L2016.8 1424L2015.7 1423.4L2014.7 1422.7L2013.7 1422.1L2012.6 1421.5L2011.5 1421.1L2010.5 1420.5L2009.6 1419.8L2008.7 1419L2007.8 1418.3L2006.8 1417.7L2005.9 1417.1L2005 1416.4L2004.2 1415.6L2003.5 1414.8L2002.6 1414.1L2001.7 1413.5L2000.8 1412.9L2000 1412.2L1999.2 1411.5L1998.4 1410.8L1997.6 1410.2L1996.7 1409.7L1995.8 1409.1L1995.1 1408.3L1994.5 1407.5L1993.8 1406.8L1993.1 1406.1L1992.3 1405.5L1991.7 1404.8L1991.1 1403.9L1990.7 1403.1L1990.1 1402.3L1989.4 1401.6L1988.8 1400.9L1988.2 1400.2L1987.8 1399.4L1987.3 1398.6L1986.7 1397.9L1986 1397.3L1985.4 1396.7L1984.9 1395.9L1984.5 1395.1L1984.1 1394.3L1983.6 1393.6L1983 1392.9L1982.6 1392.2L1982.4 1391.3L1982.2 1390.5L1981.9 1389.7L1981.5 1388.9L1981.1 1388.2L1980.9 1387.4L1980.7 1386.6L1980.6 1385.8L1980.2 1385L1979.8 1384.3L1979.5 1383.6L1979.2 1382.8L1979.1 1382L1979 1381.2L1978.7 1380.5L1978.4 1379.7L1978.2 1378.9L1978.2 1378.1L1978.3 1377.3L1978.3 1376.5L1978.2 1375.8L1978.1 1375L1978.2 1374.2L1978.4 1373.4L1978.5 1372.6L1978.5 1371.9L1978.4 1371.1L1978.3 1370.3L1978.4 1369.5L1978.6 1368.8L1978.7 1368L1978.6 1367.2L1978.6 1366.4L1978.6 1365.6L1978.9 1364.8L1979.2 1364.1L1979.5 1363.3L1979.6 1362.5L1979.8 1361.7L1980.1 1361L1980.5 1360.3L1981 1359.6L1981.3 1358.9L1981.5 1358.1L1981.8 1357.3L1982.1 1356.5L1982.6 1355.8L1983 1355.1L1983.3 1354.3L1983.5 1353.5L1983.8 1352.7L1984.3 1351.9L1984.8 1351.3L1985.3 1350.5L1985.7 1349.8L1986.2 1349L1986.7 1348.3L1987.4 1347.7L1988.1 1347.1L1988.7 1346.4L1989.2 1345.6L1989.8 1344.9L1990.4 1344.2L1991.2 1343.6L1991.8 1343L1992.4 1342.2L1992.9 1341.4L1993.5 1340.6L1994.2 1339.9L1995 1339.3L1995.7 1338.6L1996.4 1337.8L1997 1337.1L1997.8 1336.4L1998.7 1335.8L1999.6 1335.3L2000.4 1334.7L2001.2 1334L2002 1333.3L2002.9 1332.7L2003.9 1332.2L2004.8 1331.7L2005.7 1331L2006.5 1330.2L2007.3 1329.5L2008.3 1328.9L2009.2 1328.3L2010.2 1327.7L2011.1 1326.9L2012 1326.2L2012.9 1325.5L2014 1325L2015.1 1324.5L2016.2 1324L2017.2 1323.3L2018.2 1322.7L2019.3 1322.2L2020.5 1321.8L2021.7 1321.3L2022.8 1320.7L2023.8 1320L2024.9 1319.4L2026 1318.8L2027.2 1318.3L2028.4 1317.8L2029.5 1317.1L2030.6 1316.3L2031.8 1315.7L2033 1315.2L2034.3 1314.8L2035.6 1314.3L2036.8 1313.7L2038 1313.1L2039.3 1312.6L2040.7 1312.3L2042 1312L2043.3 1311.5L2044.6 1310.9L2045.9 1310.3L2047.3 1309.9L2048.7 1309.5L2050 1309.1L2051.4 1308.4L2052.7 1307.8L2054 1307.2L2055.4 1306.8L2056.9 1306.4L2058.3 1305.9L2059.7 1305.3L2061.1 1304.8L2062.6 1304.4L2064.1 1304.1L2065.6 1303.9L2067.1 1303.5L2068.5 1303L2070 1302.5L2071.6 1302.2L2073.1 1301.9L2074.6 1301.6L2076.1 1301.1L2077.6 1300.5L2079.2 1300L2080.7 1299.7L2082.3 1299.3L2083.9 1298.9L2085.4 1298.4L2087 1297.9L2088.6 1297.6L2090.2 1297.4L2091.9 1297.2L2093.5 1296.9L2095.1 1296.5L2096.7 1296.1L2098.4 1295.9L2100.1 1295.8L2101.8 1295.6L2103.4 1295.2L2105.1 1294.7L2106.7 1294.3L2108.4 1294.1L2110.1 1293.9L2111.8 1293.6L2113.5 1293.1L2115.2 1292.6L2116.9 1292.3L2118.6 1292.2L2120.4 1292.1L2122.1 1291.8L2123.8 1291.5L2125.6 1291.2L2127.4 1291.1L2129.1 1291.1L2130.9 1291L2132.7 1290.8L2134.4 1290.5L2136.2 1290.2L2138 1290.1L2139.8 1290L2141.6 1289.8L2143.3 1289.4L2145.1 1289L2146.9 1288.8L2148.7 1288.7L2150.5 1288.7L2152.3 1288.5L2154.1 1288.2L2156 1288L2157.8 1288L2159.6 1288.1L2161.5 1288.1L2163.3 1288L2165.1 1287.8L2166.9 1287.7L2168.8 1287.7L2170.6 1287.7L2172.5 1287.6L2174.3 1287.4L2176.2 1287.1L2178 1287L2179.8 1287L2181.7 1287L2183.6 1286.9L2185.4 1286.7L2187.3 1286.6L2189.1 1286.6L2191 1286.8L2192.8 1286.9L2194.7 1287L2196.5 1286.9L2198.4 1286.9L2200.3 1287L2202.1 1287.2L2204 1287.3L2205.8 1287.2L2207.7 1287.1L2209.6 1287.1L2211.4 1287.2L2213.3 1287.3L2215.1 1287.3L2217 1287.2L2218.8 1287.1L2220.7 1287.2L2222.5 1287.4L2224.4 1287.6L2226.2 1287.7L2228.1 1287.8L2229.9 1287.9L2231.8 1288.1L2233.6 1288.5L2235.4 1288.7L2237.2 1288.8L2239.1 1288.8L2240.9 1288.8L2242.7 1289.1L2244.6 1289.4L2246.4 1289.6L2248.2 1289.6L2250 1289.7L2251.8 1289.9L2253.6 1290.2L2255.4 1290.6L2257.2 1290.8L2259 1291L2260.8 1291.2L2262.6 1291.6L2264.3 1292.1L2266.1 1292.5L2267.8 1292.9L2269.6 1293.2L2271.3 1293.6L2273 1294.2L2274.7 1294.7L2276.4 1295.2L2278.2 1295.4L2279.9 1295.7L2281.6 1296.2L2283.3 1296.9L2284.9 1297.6L2286.6 1298.2L2288.2 1298.7L2288.2 1298.7L2286.4 1298.9L2284.7 1299L2282.9 1299L2281.2 1299L2279.4 1299L2277.6 1299.2L2275.8 1299.3L2274.1 1299.3L2272.3 1299.2L2270.6 1299L2268.8 1299L2267 1299.1L2265.2 1299.1L2263.5 1298.8L2261.8 1298.4L2260 1298.2L2258.2 1298.1L2256.4 1298L2254.6 1297.9L2252.9 1297.7L2251.1 1297.5L2249.3 1297.4L2247.5 1297.5L2245.7 1297.6L2243.9 1297.6L2242.1 1297.5L2240.3 1297.3L2238.5 1297.2L2236.6 1297.3L2234.8 1297.2L2233 1297L2231.2 1296.7L2229.4 1296.5L2227.6 1296.4L2225.8 1296.4L2224 1296.3L2222.1 1296.1L2220.3 1295.8L2218.5 1295.8L2216.7 1295.9L2214.8 1296L2213 1296L2211.2 1295.9L2209.4 1295.8L2207.5 1295.9L2205.7 1296L2203.9 1296.1L2202 1296.1L2200.2 1295.9L2198.4 1295.7L2196.5 1295.8L2194.7 1295.9L2192.9 1295.9L2191.1 1295.7L2189.2 1295.6L2187.4 1295.5L2185.6 1295.7L2183.7 1295.9L2181.9 1296L2180.1 1296L2178.3 1296L2176.5 1296.1L2174.7 1296.4L2172.8 1296.6L2171 1296.6L2169.2 1296.6L2167.4 1296.6L2165.6 1296.7L2163.8 1296.9L2162 1297L2160.2 1296.9L2158.4 1296.8L2156.6 1296.9L2154.8 1297.1L2153 1297.3L2151.2 1297.5L2149.5 1297.5L2147.7 1297.6L2145.9 1297.8L2144.2 1298.2L2142.4 1298.5L2140.7 1298.7L2138.9 1298.8L2137.1 1298.9L2135.4 1299.2L2133.7 1299.5L2131.9 1299.7L2130.2 1299.8L2128.4 1299.8L2126.7 1299.9L2125 1300.1L2123.3 1300.4L2121.6 1300.7L2119.9 1300.8L2118.2 1300.9L2116.5 1301.2L2114.8 1301.6L2113.2 1302.1L2111.5 1302.4L2109.8 1302.6L2108.2 1302.8L2106.6 1303.2L2104.9 1303.6L2103.3 1304L2101.7 1304.2L2100 1304.3L2098.4 1304.5L2096.8 1304.8L2095.2 1305.2L2093.6 1305.5L2092 1305.7L2090.4 1305.8L2088.8 1306.2L2087.3 1306.7L2085.8 1307.2L2084.2 1307.5L2082.7 1307.8L2081.1 1308.1L2079.6 1308.6L2078.2 1309.2L2076.7 1309.7L2075.2 1310L2073.7 1310.2L2072.2 1310.5L2070.7 1310.9L2069.3 1311.4L2067.9 1311.8L2066.4 1312L2064.9 1312.2L2063.5 1312.6L2062.1 1313.1L2060.7 1313.7L2059.3 1314.1L2057.9 1314.5L2056.6 1314.9L2055.2 1315.4L2054 1316.1L2052.7 1316.7L2051.3 1317.1L2050 1317.4L2048.7 1317.8L2047.4 1318.4L2046.2 1318.9L2044.9 1319.4L2043.6 1319.7L2042.2 1320L2041 1320.4L2039.8 1321L2038.6 1321.6L2037.4 1322L2036.2 1322.4L2035 1322.9L2033.8 1323.5L2032.8 1324.2L2031.7 1324.8L2030.6 1325.4L2029.4 1325.8L2028.3 1326.3L2027.3 1326.9L2026.2 1327.6L2025.2 1328.1L2024.1 1328.5L2022.9 1328.9L2021.9 1329.4L2020.9 1330L2019.9 1330.6L2018.9 1331.1L2017.8 1331.5L2016.8 1332L2015.9 1332.6L2015.1 1333.3L2014.2 1334L2013.3 1334.6L2012.4 1335.1L2011.5 1335.7L2010.7 1336.4L2010 1337.1L2009.2 1337.8L2008.3 1338.3L2007.4 1338.7L2006.5 1339.2L2005.8 1339.9L2005.1 1340.5L2004.3 1341.1L2003.4 1341.5L2002.6 1342L2001.9 1342.6L2001.3 1343.3L2000.7 1344L2000 1344.7L1999.3 1345.2L1998.7 1345.8L1998.2 1346.5L1997.7 1347.3L1997.2 1348L1996.6 1348.5L1995.9 1349.1L1995.3 1349.7L1994.8 1350.3L1994.4 1351L1993.8 1351.6L1993.2 1352.1L1992.6 1352.6L1992.1 1353.2L1991.7 1353.9L1991.4 1354.6L1990.9 1355.2L1990.4 1355.7L1990 1356.4L1989.7 1357L1989.6 1357.8L1989.4 1358.5L1989 1359.1L1988.6 1359.7L1988.3 1360.3L1988.1 1360.9L1987.9 1361.6L1987.6 1362.2L1987.2 1362.8L1986.8 1363.3L1986.5 1363.9L1986.4 1364.6L1986.3 1365.2L1986.1 1365.8L1985.8 1366.4L1985.6 1367L1985.5 1367.7L1985.6 1368.3L1985.6 1369L1985.6 1369.6L1985.4 1370.2L1985.3 1370.8L1985.4 1371.5L1985.5 1372.1L1985.5 1372.7L1985.4 1373.3L1985.2 1374L1985.2 1374.6L1985.3 1375.2L1985.5 1375.8L1985.5 1376.5L1985.4 1377.1L1985.4 1377.8L1985.6 1378.4L1985.9 1379L1986.2 1379.6L1986.3 1380.2L1986.4 1380.8L1986.7 1381.4L1987 1382L1987.4 1382.6L1987.7 1383.2L1987.9 1383.8L1988 1384.5L1988.2 1385.1L1988.6 1385.7L1988.9 1386.3L1989.2 1387L1989.3 1387.7L1989.5 1388.4L1989.9 1389L1990.4 1389.6L1990.9 1390.2L1991.3 1390.8L1991.6 1391.5L1992.1 1392.1L1992.7 1392.6L1993.3 1393.1L1993.9 1393.7L1994.3 1394.3L1994.7 1395L1995.2 1395.6L1995.8 1396.2L1996.4 1396.8L1996.9 1397.4L1997.4 1398.2L1997.8 1398.9L1998.4 1399.6L1999.1 1400.1L1999.8 1400.7L2000.4 1401.3L2001 1402L2001.7 1402.7L2002.5 1403.2L2003.3 1403.6L2004.1 1404.1L2004.8 1404.8L2005.5 1405.4L2006.3 1406L2007.1 1406.5L2008 1407L2008.8 1407.7L2009.5 1408.4L2010.2 1409.2L2011 1409.8L2012 1410.3L2012.9 1410.9L2013.7 1411.5L2014.5 1412.2L2015.4 1412.9L2016.4 1413.4L2017.4 1413.8L2018.4 1414.3L2019.4 1414.9L2020.4 1415.5L2021.4 1416L2022.5 1416.4L2023.6 1416.9L2024.6 1417.4L2025.6 1418.1L2026.5 1418.8L2027.6 1419.4L2028.7 1419.9L2029.8 1420.4L2030.9 1421L2031.9 1421.7L2033 1422.4L2034.2 1422.8L2035.4 1423.2L2036.6 1423.6L2037.8 1424.2L2039 1424.8L2040.2 1425.3L2041.5 1425.6L2042.8 1425.9L2044.1 1426.4L2045.3 1427L2046.5 1427.6L2047.8 1428.1L2049.1 1428.5L2050.4 1428.9L2051.7 1429.5L2052.9 1430.2L2054.2 1430.8L2055.5 1431.3L2056.9 1431.6L2058.3 1432L2059.7 1432.5L2061 1433.1L2062.4 1433.5L2063.9 1433.8L2065.4 1434L2066.8 1434.4L2068.2 1434.9L2069.6 1435.4L2071.1 1435.8L2072.6 1436.1L2074.1 1436.4L2075.5 1436.9L2077 1437.5L2078.4 1438.1L2079.9 1438.5L2081.5 1438.8L2083 1439.1L2084.5 1439.6L2086 1440.1L2087.5 1440.5L2089.1 1440.7L2090.8 1440.8L2092.3 1441.1L2093.9 1441.5L2095.5 1441.9L2097.1 1442.3L2098.7 1442.4L2100.4 1442.7L2102 1443.1L2103.5 1443.6L2105.1 1444.1L2106.8 1444.4L2108.4 1444.6L2110.1 1444.9L2111.7 1445.4L2113.4 1445.8L2115 1446.2L2116.7 1446.4L2118.4 1446.5L2120.1 1446.7L2121.8 1447L2123.5 1447.3L2125.2 1447.5L2127 1447.6L2128.7 1447.7L2130.4 1448L2132.1 1448.4L2133.8 1448.7L2135.6 1449L2137.3 1449.1L2139.1 1449.3L2140.8 1449.7L2142.5 1450.1L2144.3 1450.4L2146.1 1450.5L2147.8 1450.6L2149.6 1450.7L2151.4 1451L2153.2 1451.2L2154.9 1451.3L2156.8 1451.3L2158.6 1451.3L2160.4 1451.4L2162.1 1451.6L2163.9 1451.9L2165.7 1452L2167.5 1452L2169.4 1452.1L2171.2 1452.3L2172.9 1452.7L2174.8 1452.9L2176.6 1453L2178.4 1453L2180.2 1453L2182 1453.2L2183.8 1453.4L2185.7 1453.5L2187.5 1453.3L2189.3 1453.2L2191.2 1453.2L2193 1453.3L2194.8 1453.4L2196.6 1453.4L2198.5 1453.3L2200.3 1453.3L2202.1 1453.4L2203.9 1453.6L2205.8 1453.7L2207.6 1453.7L2209.4 1453.7L2211.3 1453.6L2213.1 1453.8L2214.9 1453.9L2216.7 1453.9L2218.6 1453.7L2220.4 1453.5L2222.2 1453.4L2224 1453.4L2225.8 1453.4L2227.6 1453.2L2229.5 1453L2231.3 1452.8L2233.1 1452.8L2234.9 1452.9L2236.7 1452.9L2238.5 1452.8L2240.3 1452.6L2242.1 1452.5L2243.9 1452.6L2245.7 1452.6L2247.5 1452.6L2249.3 1452.3L2251 1452.1L2252.8 1451.9L2254.6 1451.8L2256.4 1451.7L2258.1 1451.5L2259.9 1451.1L2261.6 1450.8L2263.4 1450.6L2265.1 1450.6L2266.9 1450.5L2268.6 1450.3L2270.4 1450L2272.1 1449.8L2273.8 1449.7L2275.6 1449.7L2277.3 1449.6L2279 1449.3L2280.7 1449L2282.4 1448.7L2284.1 1448.6L2285.8 1448.4L2287.5 1448.1L2289.1 1447.6L2290.8 1447.2L2292.4 1446.9L2294.1 1446.7L2295.8 1446.5L2297.4 1446.2L2299 1445.8L2300.6 1445.4L2302.3 1445.3L2303.9 1445.2L2305.6 1445L2307.1 1444.6L2308.7 1444.2L2310.3 1443.9L2311.9 1443.7L2313.5 1443.5L2315.1 1443.1L2316.6 1442.6L2318.1 1442.1L2319.6 1441.7L2321.1 1441.4L2322.7 1441.1L2324.2 1440.6L2325.6 1440.1L2327.1 1439.6L2328.6 1439.3L2330.1 1439.2L2331.6 1438.9L2333.1 1438.5L2334.5 1438L2335.9 1437.6L2337.4 1437.3L2338.9 1437.1L2340.3 1436.7L2341.6 1436.1L2343 1435.5L2344.3 1435.1L2345.7 1434.7L2347.1 1434.3L2348.4 1433.7L2349.7 1433.1L2351 1432.5L2352.3 1432.1L2353.7 1431.8L2355 1431.4L2356.3 1430.9L2357.5 1430.4L2358.8 1430L2360.1 1429.7L2361.4 1429.4L2362.6 1428.9L2363.8 1428.4L2365 1427.7L2366.2 1427.2L2367.4 1426.8L2368.6 1426.4L2369.7 1425.8L2370.7 1425.1L2371.8 1424.4L2372.9 1423.9L2374.1 1423.5L2375.2 1423.1L2376.3 1422.5L2377.3 1421.9L2378.4 1421.3L2379.5 1421L2380.6 1420.6L2381.7 1420.1L2382.7 1419.5L2383.6 1418.9L2384.6 1418.4L2385.6 1417.9L2386.6 1417.4L2387.5 1416.8L2388.4 1416.1L2389.2 1415.4L2390.1 1414.8L2391 1414.3L2391.9 1413.8L2392.7 1413.1L2393.5 1412.4L2394.3 1411.8L2395.2 1411.4L2396.1 1410.9L2397 1410.4L2397.7 1409.8L2398.5 1409.2L2399.2 1408.6L2400.1 1408.2L2400.9 1407.7L2401.6 1407.1L2402.2 1406.3L2402.8 1405.6L2403.4 1405L2404.2 1404.5L2404.8 1403.9L2405.4 1403.2L2405.9 1402.5L2406.4 1401.9L2407.1 1401.3L2407.8 1400.9L2408.4 1400.3L2409 1399.7L2409.5 1399L2410 1398.5L2410.7 1398L2411.3 1397.4L2411.8 1396.8L2412.2 1396.1L2412.5 1395.4L2412.9 1394.8L2413.4 1394.2L2413.9 1393.6L2414.2 1393L2414.5 1392.3L2415 1391.7L2415.5 1391.2L2416.1 1390.7L2416.6 1390.1L2417 1389.5L2417.4 1388.9L2417.9 1388.3L2418.5 1387.8L2419.1 1387.2L2419.5 1386.6L2419.8 1385.9L2420.1 1385.3L2420.5 1384.6ZM2266.6 1295.7L2267.3 1295.3L2268 1294.9L2268.7 1294.6L2269.4 1294.5L2270.1 1294.6L2270.7 1294.9L2271.3 1295.3L2271.9 1295.9L2272.5 1296.5L2272.5 1296.7L2271.7 1297.2L2271 1297.5L2270.3 1297.8L2269.6 1297.9L2269 1297.8L2268.4 1297.5L2267.7 1297.1L2267.2 1296.6L2266.6 1295.9ZM2275.6 1298.8L2276.5 1298.1L2277.5 1297.6L2278.4 1297.3L2279.4 1297.1L2280.2 1297.3L2281 1297.7L2281.8 1298.3L2282.6 1299.1L2283.3 1300L2283.3 1300.2L2282.3 1300.8L2281.3 1301.3L2280.4 1301.6L2279.5 1301.8L2278.7 1301.6L2277.8 1301.3L2277.1 1300.6L2276.3 1299.8L2275.5 1299ZM2286.2 1297.5L2287.7 1296.9L2289.1 1296.4L2290.6 1296.1L2291.9 1296L2293.2 1296.3L2294.5 1296.8L2295.7 1297.6L2296.9 1298.6L2298 1299.7L2298 1299.9L2296.5 1300.5L2295.1 1301L2293.7 1301.3L2292.3 1301.3L2291 1301.1L2289.8 1300.6L2288.5 1299.8L2287.4 1298.8L2286.2 1297.7ZM2298.6 1302.1L2300 1301.6L2301.4 1301.3L2302.7 1301L2304 1301.1L2305.2 1301.3L2306.4 1301.8L2307.5 1302.5L2308.6 1303.4L2309.6 1304.4L2309.6 1304.6L2308.2 1305L2306.9 1305.4L2305.6 1305.6L2304.3 1305.6L2303.1 1305.3L2301.9 1304.8L2300.8 1304.1L2299.7 1303.2L2298.6 1302.3ZM2312.5 1304.4L2313.1 1304.2L2313.6 1304.1L2314.1 1304L2314.6 1304L2315 1304.1L2315.5 1304.3L2315.9 1304.6L2316.2 1305L2316.6 1305.4L2316.6 1305.6L2316 1305.8L2315.5 1306L2315 1306.1L2314.5 1306.1L2314.1 1306L2313.7 1305.8L2313.3 1305.4L2312.9 1305.1L2312.5 1304.6ZM2317.8 1305.6L2319 1305.4L2320.2 1305.2L2321.3 1305.2L2322.4 1305.3L2323.4 1305.6L2324.4 1306L2325.4 1306.6L2326.3 1307.3L2327.2 1308.1L2327.2 1308.2L2326 1308.4L2324.9 1308.6L2323.8 1308.6L2322.7 1308.5L2321.6 1308.2L2320.6 1307.8L2319.7 1307.2L2318.7 1306.5L2317.8 1305.8ZM2329.2 1307.1L2329.8 1307L2330.4 1307L2330.9 1307L2331.4 1307.1L2331.9 1307.2L2332.4 1307.4L2332.9 1307.7L2333.3 1308L2333.8 1308.4L2333.7 1308.6L2333.2 1308.6L2332.6 1308.7L2332.1 1308.6L2331.6 1308.6L2331 1308.4L2330.6 1308.2L2330.1 1307.9L2329.6 1307.6L2329.2 1307.3ZM2335.9 1310.3L2336.4 1310.2L2336.9 1310.2L2337.4 1310.2L2337.8 1310.2L2338.3 1310.4L2338.7 1310.6L2339.1 1310.9L2339.5 1311.2L2339.8 1311.5L2339.8 1311.7L2339.3 1311.8L2338.8 1311.9L2338.3 1311.9L2337.8 1311.8L2337.4 1311.7L2337 1311.4L2336.6 1311.2L2336.2 1310.8L2335.8 1310.5ZM2343.1 1312L2344.1 1312.1L2345.1 1312.3L2346 1312.5L2347 1312.8L2347.9 1313.1L2348.8 1313.4L2349.6 1313.9L2350.5 1314.3L2351.3 1314.8L2351.3 1315L2350.3 1314.8L2349.4 1314.7L2348.4 1314.4L2347.5 1314.2L2346.6 1313.9L2345.7 1313.5L2344.8 1313.1L2343.9 1312.6L2343.1 1312.2Z" fill="#baebeb"/><path d="M2221.3 1294.7L2223 1294.5L2224.7 1294.4L2226.5 1294.4L2228.2 1294.4L2230 1294.4L2231.7 1294.5L2233.4 1294.7L2235.1 1294.9L2236.9 1295.2L2238.6 1295.5L2240.3 1295.8L2240.3 1295.8L2238.5 1295.9L2236.8 1295.9L2235.1 1296L2233.3 1296L2231.6 1295.9L2229.9 1295.8L2228.2 1295.7L2226.4 1295.4L2224.7 1295.2L2223 1294.9L2221.3 1294.7ZM2001.1 1342L2001.7 1341.3L2002.3 1340.6L2003 1339.9L2003.7 1339.3L2004.4 1338.6L2005.2 1338L2006 1337.5L2006.8 1336.9L2007.7 1336.4L2008.6 1335.9L2009.5 1335.5L2009.5 1335.5L2008.7 1336.2L2008 1336.9L2007.3 1337.5L2006.5 1338.2L2005.8 1338.8L2005 1339.4L2004.2 1340L2003.4 1340.5L2002.6 1341L2001.8 1341.5L2001.1 1342ZM2001.2 1340.6L2001.7 1339.9L2002.3 1339.2L2002.8 1338.5L2003.5 1337.8L2004.1 1337.2L2004.9 1336.7L2005.6 1336.2L2006.4 1335.7L2007.3 1335.3L2008.2 1334.9L2009.1 1334.5L2009.1 1334.5L2008.4 1335.3L2007.8 1336L2007.1 1336.6L2006.5 1337.3L2005.8 1337.9L2005.1 1338.4L2004.3 1338.9L2003.6 1339.4L2002.8 1339.8L2002 1340.2L2001.2 1340.6ZM2163.7 1294.6L2165.8 1294.4L2168 1294.1L2170.2 1293.9L2172.4 1293.7L2174.6 1293.6L2176.8 1293.5L2179 1293.5L2181.2 1293.5L2183.4 1293.6L2185.6 1293.7L2187.8 1293.8L2187.8 1293.8L2185.6 1294L2183.4 1294.1L2181.2 1294.3L2179 1294.4L2176.8 1294.5L2174.6 1294.6L2172.4 1294.7L2170.2 1294.7L2168.1 1294.7L2165.9 1294.7L2163.7 1294.6ZM2014.7 1331.1L2015.7 1330.3L2016.6 1329.6L2017.6 1329L2018.7 1328.3L2019.7 1327.7L2020.8 1327.1L2022 1326.5L2023.1 1326L2024.3 1325.4L2025.5 1324.9L2026.7 1324.5L2026.7 1324.5L2025.6 1325.1L2024.5 1325.8L2023.4 1326.5L2022.3 1327.1L2021.2 1327.7L2020.1 1328.3L2019 1328.9L2017.9 1329.5L2016.8 1330L2015.8 1330.5L2014.7 1331.1ZM1996.2 1346.2L1997 1345.1L1997.8 1344.1L1998.7 1343.1L1999.6 1342.1L2000.6 1341.1L2001.6 1340.2L2002.7 1339.4L2003.9 1338.6L2005.1 1337.8L2006.4 1337L2007.7 1336.3L2007.7 1336.3L2006.6 1337.3L2005.6 1338.4L2004.5 1339.3L2003.5 1340.3L2002.5 1341.2L2001.4 1342.1L2000.4 1343L1999.3 1343.8L1998.3 1344.6L1997.3 1345.4L1996.2 1346.2ZM2146.8 1296.1L2149.7 1295.7L2152.6 1295.4L2155.5 1295L2158.4 1294.8L2161.4 1294.5L2164.3 1294.4L2167.2 1294.2L2170.2 1294.2L2173.2 1294.2L2176.1 1294.2L2179.1 1294.2L2179.1 1294.2L2176.1 1294.5L2173.2 1294.7L2170.2 1294.9L2167.3 1295.2L2164.4 1295.4L2161.4 1295.5L2158.5 1295.7L2155.6 1295.8L2152.6 1295.9L2149.7 1296L2146.8 1296.1ZM2167.8 1294.4L2170.4 1294.1L2173 1293.8L2175.6 1293.5L2178.2 1293.3L2180.8 1293.2L2183.4 1293.1L2186.1 1293.1L2188.7 1293.2L2191.3 1293.3L2194 1293.5L2196.6 1293.7L2196.6 1293.7L2194 1293.9L2191.4 1294.1L2188.7 1294.3L2186.1 1294.4L2183.5 1294.5L2180.9 1294.6L2178.2 1294.6L2175.6 1294.6L2173 1294.5L2170.4 1294.5L2167.8 1294.4ZM2120.7 1299.2L2123.5 1298.6L2126.3 1298L2129.1 1297.5L2132 1297.1L2134.9 1296.7L2137.8 1296.4L2140.7 1296.1L2143.6 1295.9L2146.6 1295.8L2149.5 1295.7L2152.5 1295.7L2152.5 1295.7L2149.6 1296.1L2146.7 1296.5L2143.7 1297L2140.8 1297.4L2137.9 1297.7L2135 1298L2132.1 1298.3L2129.3 1298.5L2126.4 1298.8L2123.5 1299L2120.7 1299.2ZM1984.9 1369.5L1984.8 1369L1984.8 1368.5L1984.8 1368.1L1984.8 1367.6L1984.9 1367.2L1985 1366.7L1985.2 1366.3L1985.4 1365.9L1985.7 1365.5L1985.7 1365.5L1985.7 1366L1985.8 1366.4L1985.8 1366.9L1985.7 1367.3L1985.6 1367.8L1985.5 1368.2L1985.3 1368.6L1985.1 1369L1984.9 1369.5ZM2337.3 1437.8L2336.6 1438.2L2336 1438.5L2335.3 1438.8L2334.7 1439.1L2334 1439.3L2333.3 1439.4L2332.5 1439.5L2331.8 1439.5L2331.1 1439.6L2331.1 1439.6L2331.7 1439.2L2332.4 1438.9L2333 1438.6L2333.7 1438.3L2334.4 1438.1L2335.1 1438L2335.8 1437.9L2336.5 1437.9L2337.3 1437.8ZM2006.5 1416.9L2005.7 1416.5L2004.9 1416.2L2004.2 1415.8L2003.5 1415.4L2002.8 1414.9L2002.2 1414.3L2001.7 1413.7L2001.1 1413.1L2000.6 1412.4L2000.6 1412.4L2001.3 1412.8L2002.1 1413.2L2002.8 1413.6L2003.5 1414L2004.1 1414.5L2004.8 1415L2005.4 1415.6L2005.9 1416.2L2006.5 1416.9ZM1991.8 1392.6L1991.2 1392L1990.7 1391.5L1990.2 1390.9L1989.8 1390.3L1989.4 1389.7L1989.1 1389.1L1988.8 1388.4L1988.7 1387.7L1988.5 1387L1988.5 1387L1989 1387.5L1989.4 1388.1L1989.9 1388.6L1990.3 1389.2L1990.6 1389.8L1990.9 1390.5L1991.2 1391.2L1991.5 1391.9L1991.8 1392.6ZM2280.2 1458.1L2278.5 1458.5L2276.8 1458.8L2275 1459.2L2273.3 1459.4L2271.5 1459.6L2269.8 1459.8L2268 1459.9L2266.2 1460L2264.4 1460L2264.4 1460L2266.2 1459.7L2267.9 1459.4L2269.7 1459.1L2271.4 1458.8L2273.2 1458.6L2274.9 1458.5L2276.7 1458.3L2278.4 1458.2L2280.2 1458.1ZM2075.2 1437.5L2073.8 1437.3L2072.4 1437L2071.1 1436.7L2069.7 1436.3L2068.4 1435.9L2067.1 1435.5L2065.8 1435L2064.5 1434.5L2063.3 1433.9L2063.3 1433.9L2064.6 1434.2L2065.9 1434.5L2067.3 1434.9L2068.6 1435.2L2069.9 1435.6L2071.2 1436.1L2072.6 1436.5L2073.9 1437L2075.2 1437.5Z" fill="#fff"/><path d="M2346 1314.3L2353.1 1316.8M2359.3 1319.3L2361.9 1320.3M2366 1319.8L2369.7 1321.5M2378.1 1328.1L2382.6 1330.5M2390.2 1331.9L2394.2 1334.5M2397.7 1339.6L2402 1343.1M2406.5 1343.7L2409.1 1346.3M2411.5 1352.2L2413.4 1354.7" fill="none" stroke="#baebeb" stroke-width="1.3" stroke-linecap="round"/><path d="M2072.8 1331.2C2072.7 1337.8 2071.6 1358.2 2072.2 1370.6C2072.7 1383 2075.3 1399.8 2075.9 1405.6M2058.4 1351.2C2060.8 1348.9 2068.6 1341 2072.8 1337.5C2076.9 1334 2078.9 1331.8 2083.4 1330C2087.9 1328.2 2094.9 1326.3 2099.7 1326.6C2104.4 1326.9 2110.3 1329.1 2112.2 1331.8C2114 1334.6 2113.6 1338.9 2110.9 1343.1C2108.2 1347.3 2102.2 1351.8 2095.9 1356.8C2089.7 1361.8 2077.2 1370.4 2073.4 1373.1M2125.9 1363.1C2125.4 1365.6 2123.3 1373.4 2122.7 1378.1C2122 1382.8 2121.8 1387.3 2122.2 1391.1C2122.5 1394.9 2123.2 1398.8 2124.7 1401.1C2126.1 1403.4 2128.8 1404.9 2130.9 1405.1C2133 1405.3 2135.1 1403.9 2137.2 1402.1C2139.2 1400.3 2141.6 1397.3 2143.2 1394.1C2144.7 1390.9 2146.2 1386.8 2146.6 1383.1C2146.9 1379.4 2146.2 1374.7 2145.2 1372.1C2144.1 1369.5 2142 1368.3 2140.2 1367.5C2138.3 1366.7 2136 1366.8 2134.2 1367.1C2132.3 1367.4 2130 1368.8 2129.2 1369.1M2190.9 1361.2C2188.6 1361.7 2181.9 1361.9 2177.2 1364.3C2172.4 1366.8 2165.3 1372.5 2162.2 1375.6C2159 1378.7 2156.9 1381.5 2158.4 1383.1C2159.9 1384.7 2165.1 1385.2 2170.9 1385C2176.7 1384.8 2190.7 1380.9 2193.4 1381.8C2196.1 1382.8 2189.7 1386.6 2187.2 1390.6C2184.7 1394.6 2179.9 1403.1 2178.4 1405.6M2218.4 1325.6C2218.7 1332.7 2219.1 1354.8 2220.2 1368.1C2221.2 1381.4 2223.9 1399.3 2224.7 1405.6M2207.8 1373.7C2211 1372.3 2220.6 1368.3 2227.2 1365.6C2233.7 1362.9 2243.8 1358.8 2247.2 1357.5M2312.2 1356.2C2313 1356.8 2314 1359.4 2317.2 1359.7C2320.4 1359.9 2326.5 1358.5 2331.2 1357.7C2335.9 1356.9 2342.9 1355.5 2345.2 1355.1M2312.2 1356.2C2311.9 1358.8 2310.8 1366.4 2310.2 1371.7C2309.6 1377 2308.9 1385.4 2308.6 1388.2M2308.6 1388.2C2310.6 1387.1 2316.7 1382.9 2320.4 1381.4C2324.1 1379.9 2328.4 1379 2331 1379C2333.6 1379 2335.3 1379.9 2335.8 1381.4C2336.3 1382.9 2335.5 1385.5 2333.9 1388.2C2332.3 1390.9 2328.8 1394.9 2326.2 1397.8C2323.6 1400.7 2319.7 1404.3 2318.4 1405.6" fill="none" stroke="#baebeb" stroke-width="9.2" stroke-linecap="round" stroke-linejoin="round"/><path d="M749.7 865.8L749.7 866.9L749.7 867.9L749.6 868.9L749.3 869.9L749 870.9L748.8 871.9L748.8 873L748.7 874.1L748.5 875.2L748.1 876.2L747.8 877.3L747.6 878.4L747.5 879.6L747.3 880.8L746.9 881.8L746.3 882.8L745.6 883.8L745.1 884.8L744.6 885.9L743.9 886.9L743.2 887.8L742.3 888.7L741.6 889.6L740.9 890.6L740.2 891.6L739.5 892.6L738.6 893.5L737.7 894.4L737 895.4L736.3 896.5L735.5 897.6L734.7 898.6L733.7 899.5L732.8 900.5L731.9 901.5L731 902.5L730.1 903.5L729 904.4L727.9 905.2L726.8 906L725.7 907L724.7 908L723.6 908.9L722.4 909.7L721.2 910.4L720 911.3L718.9 912.3L717.8 913.4L716.6 914.3L715.4 915.2L714.1 916L712.8 916.9L711.7 917.9L710.4 918.9L709.1 919.8L707.7 920.5L706.2 921.2L704.8 922L703.5 922.9L702.1 923.8L700.6 924.5L699 925.2L697.5 925.9L696.1 926.8L694.7 927.7L693.2 928.6L691.6 929.3L690.1 930.1L688.5 930.9L687 931.8L685.5 932.8L683.9 933.6L682.2 934.3L680.5 934.9L678.9 935.7L677.2 936.5L675.5 937.3L673.8 937.9L672 938.5L670.2 939.1L668.4 939.8L666.7 940.6L665 941.4L663.1 942L661.3 942.6L659.5 943.3L657.7 944.1L655.9 945L654 945.8L652.1 946.4L650.2 947L648.3 947.6L646.4 948.4L644.5 949.2L642.5 949.7L640.5 950.2L638.5 950.6L636.5 951.2L634.5 951.9L632.5 952.6L630.4 953.1L628.3 953.5L626.3 954L624.2 954.7L622.2 955.5L620.1 956.2L618 956.7L615.9 957.1L613.7 957.6L611.6 958.3L609.5 958.9L607.3 959.5L605.1 959.8L602.9 960.1L600.7 960.5L598.5 961.1L596.3 961.6L594 962L591.8 962.3L589.5 962.5L587.2 963L585 963.6L582.7 964.1L580.5 964.6L578.2 964.9L575.8 965.3L573.6 965.8L571.3 966.4L568.9 966.8L566.6 967.1L564.2 967.4L561.9 967.6L559.5 968L557.1 968.4L554.8 968.7L552.4 968.9L549.9 969L547.5 969.2L545.1 969.6L542.8 970L540.3 970.3L537.9 970.5L535.5 970.7L533 971.1L530.6 971.5L528.2 971.9L525.7 972.2L523.3 972.3L520.8 972.5L518.3 972.7L515.9 973L513.4 973.2L510.9 973.3L508.4 973.3L505.9 973.3L503.4 973.5L500.9 973.8L498.4 973.9L495.9 974L493.4 974L490.9 974.1L488.4 974.4L485.9 974.7L483.3 974.9L480.8 974.9L478.3 974.9L475.8 975.1L473.2 975.3L470.7 975.4L468.2 975.4L465.6 975.2L463.1 975.1L460.6 975.1L458 975.2L455.5 975.3L452.9 975.1L450.4 975L447.9 974.9L445.3 975L442.8 975.2L440.2 975.3L437.7 975.2L435.2 975.1L432.6 975.1L430.1 975.2L427.5 975.3L425 975.2L422.5 974.9L420 974.7L417.4 974.6L414.9 974.5L412.4 974.5L409.9 974.2L407.3 973.9L404.8 973.6L402.3 973.5L399.8 973.5L397.3 973.5L394.8 973.2L392.3 973L389.8 972.8L387.3 972.8L384.8 972.8L382.3 972.7L379.8 972.3L377.3 972L374.9 971.7L372.4 971.6L369.9 971.4L367.5 971L365 970.6L362.6 970.1L360.2 969.8L357.7 969.6L355.3 969.4L352.9 969.1L350.5 968.6L348 968.3L345.6 968.1L343.2 968L340.8 967.8L338.4 967.4L336 966.9L333.7 966.5L331.3 966.3L328.9 966L326.6 965.6L324.3 965L322 964.4L319.7 963.9L317.3 963.6L315 963.2L312.7 962.7L310.5 962.1L308.2 961.5L306 961.1L303.7 960.8L301.4 960.4L299.2 959.9L297 959.3L294.8 958.8L292.5 958.4L290.3 958L288.1 957.5L286 956.8L283.9 956.1L281.7 955.4L279.6 954.9L277.4 954.4L275.3 953.7L273.3 953L271.2 952.2L269.2 951.6L267.1 951.2L265 950.7L262.9 950.1L260.9 949.4L258.9 948.7L256.9 948.2L254.8 947.7L252.8 947.2L250.9 946.5L249 945.7L247 944.9L245.1 944.2L243.2 943.6L241.3 942.9L239.5 942.1L237.7 941.2L235.8 940.4L234 939.8L232.1 939.2L230.3 938.4L228.5 937.6L226.8 936.8L225 936.2L223.1 935.6L221.3 935L219.6 934.2L218 933.4L216.3 932.5L214.6 931.8L212.9 931.1L211.2 930.3L209.7 929.4L208.2 928.4L206.6 927.5L205 926.7L203.4 926L201.9 925.2L200.4 924.3L199 923.3L197.4 922.5L195.9 921.8L194.3 921.2L192.9 920.4L191.5 919.4L190.1 918.5L188.7 917.7L187.2 917L185.8 916.2L184.5 915.2L183.3 914.2L182.1 913.1L180.8 912.2L179.5 911.4L178.2 910.5L177.1 909.5L176 908.4L174.8 907.5L173.6 906.7L172.3 905.9L171.1 905L170 904L169 903.1L167.9 902.1L166.7 901.3L165.6 900.5L164.6 899.5L163.7 898.4L162.8 897.4L161.8 896.4L160.8 895.5L159.9 894.5L159.1 893.5L158.3 892.3L157.6 891.3L156.7 890.3L155.8 889.4L154.9 888.5L154.1 887.5L153.5 886.4L152.7 885.4L151.8 884.5L151 883.6L150.2 882.7L149.7 881.6L149.1 880.5L148.5 879.4L147.9 878.5L147.3 877.5L146.8 876.4L146.4 875.3L146.1 874.2L145.6 873.1L145 872.1L144.5 871.1L144.2 870.1L143.9 869L143.5 867.9L143 866.9L142.5 865.9L142.1 864.9L141.8 863.9L141.6 862.8L141.4 861.7L141.1 860.7L140.8 859.7L140.6 858.6L140.7 857.5L140.7 856.4L140.7 855.4L140.6 854.3L140.4 853.3L140.4 852.2L140.6 851.2L140.7 850.1L140.6 849.1L140.5 848L140.3 847L140.4 845.9L140.6 844.9L140.7 843.8L140.7 842.8L140.7 841.7L140.8 840.6L141.2 839.6L141.6 838.6L141.9 837.6L142.2 836.6L142.4 835.5L142.7 834.5L143.2 833.5L143.7 832.5L144.1 831.5L144.4 830.4L144.7 829.4L145.1 828.3L145.6 827.4L146.1 826.4L146.5 825.3L146.9 824.2L147.3 823.1L148 822.2L148.7 821.2L149.4 820.3L150 819.3L150.6 818.3L151.3 817.3L152.1 816.4L153 815.5L153.8 814.6L154.5 813.6L155.1 812.6L155.9 811.6L156.8 810.7L157.7 809.8L158.5 808.8L159.2 807.7L160 806.6L160.9 805.7L161.9 804.8L162.9 803.9L163.9 803L164.8 802L165.8 801L166.9 800.2L168.1 799.5L169.2 798.7L170.3 797.8L171.4 796.8L172.5 795.9L173.7 795.1L174.9 794.3L176.1 793.4L177.2 792.4L178.3 791.4L179.5 790.4L180.7 789.6L182.1 788.8L183.3 788L184.6 787L185.8 786.1L187.2 785.3L188.7 784.6L190.1 783.9L191.5 783.1L192.9 782.2L194.3 781.4L195.8 780.6L197.3 780L198.8 779.2L200.3 778.3L201.7 777.4L203.2 776.5L204.7 775.8L206.3 775L207.9 774.2L209.4 773.3L211 772.4L212.6 771.7L214.3 771L216 770.4L217.7 769.7L219.3 768.9L221 768.2L222.8 767.6L224.6 767L226.4 766.4L228.1 765.7L229.9 764.9L231.6 764.1L233.4 763.4L235.3 762.8L237.1 762.1L238.9 761.3L240.7 760.5L242.6 759.7L244.5 759.2L246.5 758.6L248.4 758L250.3 757.3L252.2 756.6L254.2 756.1L256.2 755.7L258.3 755.3L260.3 754.7L262.3 754L264.3 753.3L266.3 752.8L268.4 752.3L270.5 751.8L272.5 751.1L274.6 750.4L276.6 749.7L278.7 749.2L280.9 748.7L283 748.3L285.2 747.6L287.3 747L289.5 746.5L291.7 746.2L293.9 745.9L296.1 745.5L298.3 745L300.5 744.4L302.8 744L305 743.7L307.3 743.3L309.5 742.8L311.8 742.2L314 741.6L316.3 741.2L318.6 740.9L320.9 740.5L323.2 740L325.5 739.4L327.8 739L330.2 738.7L332.5 738.5L334.9 738.3L337.3 737.9L339.6 737.5L342 737.2L344.4 737L346.8 736.9L349.2 736.6L351.6 736.1L354 735.7L356.4 735.3L358.9 735.1L361.3 734.9L363.7 734.5L366.1 734.1L368.6 733.7L371 733.5L373.5 733.4L376 733.3L378.4 733L380.9 732.7L383.4 732.5L385.9 732.5L388.4 732.5L390.9 732.4L393.4 732.2L395.8 731.9L398.3 731.7L400.9 731.6L403.4 731.6L405.9 731.4L408.4 731.1L410.9 730.9L413.4 730.8L415.9 730.8L418.5 730.9L421 730.8L423.5 730.7L426.1 730.6L428.6 730.7L431.1 731L433.7 731.1L436.2 731.1L438.7 731L441.3 731L443.8 731.2L446.3 731.3L448.9 731.4L451.4 731.3L453.9 731.2L456.5 731.2L459 731.3L461.5 731.5L464.1 731.6L466.6 731.5L469.1 731.6L471.6 731.8L474.2 732.1L476.7 732.4L479.2 732.6L481.7 732.7L484.2 732.9L486.7 733.2L489.2 733.6L491.7 733.9L494.2 734L496.7 734L499.2 734.2L501.7 734.4L504.2 734.8L506.7 735L509.2 735.1L511.7 735.2L514.1 735.5L516.6 735.9L519 736.5L521.5 737L523.9 737.4L526.3 737.8L528.7 738.3L531.1 739L533.5 739.6L535.9 740.1L538.3 740.4L540.7 740.8L543.1 741.4L545.4 742.2L547.7 742.9L550.1 743.4L552.4 743.9L552.4 743.9L550 744.1L547.5 744.3L545.1 744.3L542.7 744.2L540.3 744.1L537.8 744.1L535.4 744.1L533 744L530.6 743.8L528.1 743.5L525.7 743.3L523.3 743.3L520.8 743.3L518.3 743.2L515.9 742.9L513.5 742.6L511 742.5L508.5 742.5L506.1 742.5L503.6 742.4L501.1 742.2L498.7 742L496.2 742L493.7 742.1L491.2 742.1L488.7 741.9L486.2 741.6L483.8 741.5L481.3 741.4L478.8 741.4L476.3 741.3L473.8 741.1L471.3 740.9L468.8 740.7L466.3 740.8L463.8 740.9L461.3 740.9L458.8 740.8L456.3 740.7L453.8 740.8L451.3 741L448.8 741.2L446.3 741.2L443.7 741.1L441.2 741L438.7 741.1L436.2 741.2L433.7 741.3L431.2 741.2L428.7 741.1L426.2 741L423.7 741.2L421.3 741.4L418.8 741.5L416.3 741.5L413.8 741.5L411.3 741.7L408.8 742L406.4 742.4L403.9 742.5L401.4 742.5L398.9 742.6L396.5 742.7L394 743L391.6 743.2L389.1 743.3L386.6 743.2L384.2 743.2L381.7 743.4L379.3 743.6L376.9 743.9L374.4 743.9L372 744L369.5 744.2L367.1 744.5L364.8 744.9L362.4 745.3L360 745.5L357.6 745.6L355.2 745.9L352.8 746.3L350.5 746.7L348.1 747L345.7 747.1L343.3 747.3L341 747.5L338.7 747.9L336.3 748.2L334 748.5L331.7 748.6L329.3 748.8L327.1 749.2L324.8 749.7L322.5 750.2L320.2 750.6L318 750.9L315.7 751.3L313.5 751.8L311.3 752.4L309.1 752.8L306.8 753.2L304.6 753.4L302.4 753.8L300.2 754.3L298.1 754.8L295.9 755.2L293.7 755.4L291.5 755.7L289.4 756.2L287.3 756.8L285.2 757.4L283.1 757.8L281 758.2L278.9 758.7L276.8 759.3L274.8 760.1L272.8 760.7L270.8 761.2L268.8 761.6L266.7 762.1L264.8 762.8L262.8 763.4L260.8 764L258.8 764.4L256.8 764.7L254.9 765.2L253 765.9L251.1 766.6L249.2 767.1L247.3 767.6L245.4 768.2L243.6 768.8L241.8 769.7L240.1 770.4L238.3 771.1L236.5 771.6L234.7 772.3L233 773L231.3 773.8L229.6 774.5L227.8 775.1L226 775.5L224.3 776.1L222.7 776.8L221.1 777.6L219.4 778.3L217.7 778.8L216.1 779.4L214.5 780.1L213 781L211.5 781.8L210 782.6L208.4 783.3L206.9 784L205.5 784.8L204.1 785.7L202.7 786.5L201.2 787.2L199.7 787.9L198.3 788.5L196.9 789.3L195.6 790.1L194.2 790.9L192.8 791.5L191.4 792.2L190.1 792.9L188.9 793.8L187.7 794.7L186.5 795.5L185.2 796.3L184 797L182.8 797.9L181.8 798.9L180.8 799.8L179.6 800.7L178.5 801.4L177.3 802.2L176.3 803L175.3 803.9L174.3 804.8L173.2 805.5L172.1 806.2L171 806.9L170.1 807.8L169.2 808.8L168.3 809.6L167.4 810.4L166.4 811.2L165.6 812.1L164.9 813.1L164.2 814.1L163.5 815L162.7 815.8L161.9 816.6L161.2 817.5L160.5 818.5L159.9 819.4L159.2 820.2L158.4 821L157.6 821.7L157 822.6L156.5 823.5L155.9 824.4L155.3 825.3L154.6 826.1L154 826.9L153.7 827.9L153.4 828.9L153 829.8L152.5 830.7L152.1 831.5L151.7 832.4L151.5 833.3L151.2 834.3L150.9 835.1L150.4 836L150 836.8L149.7 837.7L149.5 838.6L149.3 839.5L149 840.3L148.6 841.2L148.3 842L148.2 842.9L148.2 843.9L148.2 844.8L148.1 845.6L147.9 846.5L147.8 847.4L148 848.3L148.1 849.2L148.2 850.1L148.2 851L148.1 851.8L148.1 852.7L148.3 853.6L148.5 854.5L148.5 855.4L148.5 856.3L148.5 857.2L148.7 858.1L149 858.9L149.3 859.8L149.6 860.7L149.8 861.6L150 862.5L150.5 863.3L151 864.1L151.5 864.9L151.8 865.8L152.1 866.7L152.4 867.6L152.9 868.5L153.5 869.3L153.9 870.2L154.3 871.1L154.6 872.1L155 873L155.6 873.8L156.3 874.7L156.8 875.5L157.3 876.5L157.9 877.4L158.6 878.2L159.4 879L160.2 879.7L160.9 880.6L161.6 881.5L162.3 882.4L163.1 883.2L164 883.9L164.8 884.7L165.6 885.7L166.3 886.7L167 887.6L167.9 888.4L168.9 889.2L169.8 890.1L170.6 891L171.4 892L172.4 892.8L173.5 893.5L174.6 894.3L175.7 895L176.7 895.9L177.7 896.8L178.9 897.5L180.1 898.2L181.3 898.9L182.4 899.8L183.4 900.7L184.5 901.6L185.7 902.4L187 903.2L188.2 904L189.4 904.9L190.5 905.9L191.8 906.7L193.1 907.5L194.5 908.1L195.9 908.9L197.2 909.7L198.5 910.5L200 911.2L201.5 911.8L203 912.5L204.4 913.2L205.8 914.1L207.3 914.9L208.8 915.6L210.3 916.3L211.8 917L213.3 917.8L214.8 918.8L216.3 919.6L217.9 920.3L219.6 920.9L221.2 921.6L222.8 922.4L224.4 923.2L226.1 923.9L227.9 924.4L229.6 924.9L231.4 925.5L233.1 926.3L234.8 927L236.6 927.7L238.4 928.2L240.2 928.8L242 929.5L243.7 930.3L245.5 931.1L247.4 931.8L249.2 932.3L251.1 932.9L253 933.6L254.8 934.4L256.8 935L258.7 935.5L260.7 935.9L262.7 936.4L264.7 937L266.6 937.7L268.6 938.2L270.7 938.6L272.7 939L274.8 939.6L276.8 940.3L278.8 941L280.8 941.6L282.9 942L285 942.5L287.1 943.1L289.2 943.8L291.3 944.4L293.4 944.8L295.6 945.2L297.8 945.5L300 946L302.1 946.6L304.3 947L306.5 947.3L308.8 947.6L311 947.9L313.2 948.4L315.4 949L317.7 949.5L319.9 949.8L322.2 950.2L324.5 950.7L326.7 951.3L329 951.9L331.2 952.3L333.6 952.6L335.9 952.9L338.2 953.3L340.5 953.8L342.8 954.2L345.2 954.5L347.6 954.6L349.9 954.8L352.3 955.2L354.7 955.6L357 956L359.4 956.2L361.8 956.4L364.2 956.8L366.6 957.2L369 957.7L371.4 958.1L373.8 958.3L376.2 958.5L378.6 958.8L381.1 959.1L383.5 959.5L385.9 959.7L388.4 959.7L390.9 959.7L393.3 959.9L395.8 960.2L398.2 960.4L400.7 960.5L403.2 960.6L405.7 960.7L408.1 961L410.6 961.3L413.1 961.6L415.5 961.7L418 961.8L420.5 961.9L423 962.2L425.5 962.4L428 962.6L430.5 962.5L433 962.4L435.5 962.4L438 962.6L440.5 962.7L443 962.7L445.5 962.5L448 962.4L450.5 962.5L453 962.7L455.5 962.8L458 962.8L460.5 962.7L463 962.7L465.5 962.8L468 962.9L470.4 963L472.9 962.9L475.4 962.6L477.9 962.5L480.4 962.5L482.9 962.5L485.4 962.3L487.8 962.1L490.3 961.8L492.8 961.6L495.2 961.6L497.7 961.6L500.2 961.4L502.6 961.2L505.1 961L507.5 960.9L510 961L512.5 961L514.9 960.8L517.3 960.5L519.7 960.2L522.2 960.1L524.6 960L527 959.7L529.4 959.3L531.8 958.9L534.2 958.5L536.6 958.3L539 958.2L541.3 957.9L543.7 957.5L546 957.1L548.4 956.9L550.8 956.8L553.1 956.6L555.5 956.3L557.8 955.9L560.1 955.6L562.4 955.3L564.8 955.1L567.1 954.8L569.3 954.4L571.6 953.8L573.8 953.3L576.1 952.9L578.4 952.6L580.6 952.2L582.8 951.7L585 951.1L587.2 950.7L589.4 950.4L591.7 950.1L593.9 949.7L596 949.2L598.2 948.7L600.3 948.4L602.5 948.1L604.7 947.7L606.8 947.2L608.9 946.6L610.9 945.9L613 945.5L615.1 945L617.2 944.5L619.2 943.9L621.2 943.2L623.2 942.6L625.2 942.1L627.3 941.7L629.3 941.3L631.2 940.7L633.2 940.1L635.2 939.6L637.2 939.2L639.1 938.8L641.1 938.3L643 937.6L644.8 936.9L646.7 936.3L648.6 935.8L650.4 935.3L652.2 934.6L654 933.8L655.7 933L657.5 932.4L659.4 931.9L661.1 931.3L662.9 930.6L664.5 929.8L666.3 929.2L668 928.7L669.8 928.2L671.5 927.6L673.1 926.9L674.7 926.2L676.4 925.5L678 924.9L679.6 924.3L681.2 923.6L682.7 922.7L684.1 921.8L685.6 921.1L687.2 920.4L688.7 919.7L690.1 918.9L691.5 918.1L692.9 917.3L694.4 916.6L695.9 916.1L697.4 915.4L698.7 914.7L700 913.8L701.4 913.1L702.8 912.4L704.2 911.8L705.5 911L706.6 910.1L707.8 909.2L709 908.4L710.2 907.6L711.5 906.9L712.6 906L713.6 905.1L714.7 904.2L715.8 903.4L717 902.7L718.2 902L719.2 901.2L720.2 900.3L721.3 899.5L722.4 898.8L723.5 898.1L724.6 897.4L725.5 896.5L726.3 895.6L727.2 894.7L728.1 893.9L729.1 893.1L729.9 892.2L730.6 891.3L731.3 890.3L732.1 889.4L732.9 888.7L733.8 887.9L734.5 887L735.2 886.1L735.8 885.2L736.6 884.5L737.5 883.7L738.2 882.9L738.9 882.1L739.4 881.2L739.9 880.3L740.6 879.4L741.2 878.6L741.9 877.8L742.4 876.9L742.9 876L743.5 875.2L744.1 874.4L744.8 873.6L745.4 872.8L745.9 871.9L746.3 871L746.9 870.2L747.6 869.4L748.3 868.5L748.8 867.7L749.2 866.7L749.7 865.8ZM522 741.1L523 740.1L524 739.2L524.9 738.6L525.9 738.3L526.8 738.4L527.6 738.9L528.4 739.7L529.2 740.8L529.9 742L529.9 742.2L528.9 743.2L527.9 744L527 744.6L526 744.9L525.2 744.8L524.3 744.3L523.5 743.5L522.7 742.5L522 741.3ZM534 739.9L534.8 738.8L535.6 737.9L536.4 737.3L537.2 737L537.9 737.1L538.5 737.6L539.1 738.4L539.7 739.5L540.2 740.7L540.2 740.9L539.4 741.9L538.5 742.8L537.8 743.5L537 743.8L536.3 743.7L535.7 743.2L535.1 742.4L534.5 741.3L533.9 740.1ZM541.1 743.3L543.1 742.9L545 742.7L547 742.6L548.9 742.6L550.8 742.9L552.6 743.4L554.5 744.1L556.2 744.9L558 745.8L558 746L556 746.3L554.1 746.5L552.2 746.6L550.2 746.5L548.4 746.2L546.5 745.8L544.7 745.1L542.9 744.3L541.1 743.5ZM561.8 747.5L563.8 747L565.7 746.5L567.6 746.3L569.5 746.3L571.3 746.6L573.1 747.2L574.8 748.1L576.4 749.2L578.1 750.4L578 750.6L576.1 751.1L574.1 751.6L572.2 751.8L570.4 751.8L568.6 751.4L566.8 750.8L565.1 749.9L563.4 748.9L561.8 747.7ZM582.1 748.1L583.5 747.8L584.9 747.6L586.3 747.5L587.6 747.6L588.9 747.8L590.2 748.3L591.4 748.9L592.5 749.7L593.7 750.5L593.7 750.7L592.3 751L590.9 751.2L589.5 751.3L588.2 751.2L586.9 750.9L585.7 750.5L584.4 749.9L583.2 749.1L582 748.3ZM594.8 753.4L596.4 753.4L598 753.5L599.5 753.6L601.1 753.9L602.6 754.2L604 754.7L605.5 755.2L606.9 755.9L608.3 756.5L608.2 756.7L606.7 756.7L605.1 756.6L603.6 756.4L602.1 756.2L600.6 755.8L599.1 755.4L597.7 754.8L596.2 754.2L594.8 753.6ZM610 755.6L611.1 755.4L612.1 755.3L613.1 755.2L614.1 755.3L615.1 755.6L616 756L616.8 756.5L617.7 757.1L618.5 757.8L618.4 758L617.4 758.2L616.4 758.3L615.3 758.3L614.4 758.2L613.4 758L612.5 757.6L611.7 757.1L610.8 756.4L610 755.8ZM623.1 758.1L624.1 758L625.1 758L626.1 758L627 758.2L627.9 758.4L628.7 758.8L629.6 759.3L630.4 759.8L631.1 760.4L631.1 760.6L630.1 760.7L629.1 760.7L628.2 760.7L627.3 760.6L626.4 760.3L625.5 759.9L624.7 759.5L623.9 758.9L623.1 758.3ZM633.3 761.4L634.3 761.4L635.3 761.4L636.2 761.5L637.2 761.7L638.1 762L639 762.4L639.8 762.9L640.6 763.4L641.4 764L641.3 764.2L640.4 764.2L639.4 764.2L638.4 764.1L637.5 763.9L636.6 763.6L635.7 763.2L634.9 762.7L634 762.2L633.2 761.6ZM645.8 766.4L647.2 766.7L648.5 767L649.9 767.3L651.2 767.8L652.5 768.2L653.7 768.7L655 769.3L656.2 769.9L657.4 770.5L657.3 770.7L656 770.4L654.7 770.1L653.4 769.7L652.1 769.3L650.8 768.8L649.5 768.3L648.2 767.8L647 767.2L645.7 766.6Z" fill="#da4f4b"/><path d="M251.3 765.1L254.5 763.8L257.8 762.6L261.1 761.5L264.5 760.4L267.9 759.3L271.4 758.4L274.9 757.5L278.5 756.8L282.1 756L285.7 755.4L289.4 754.8L289.4 754.8L285.8 755.8L282.3 756.9L278.7 757.9L275.2 758.9L271.8 759.9L268.3 760.8L264.8 761.7L261.4 762.6L258 763.4L254.7 764.2L251.3 765.1ZM257.1 762.9L259.1 762.1L261.1 761.4L263.2 760.7L265.3 760L267.4 759.4L269.5 758.8L271.7 758.2L273.9 757.8L276.1 757.3L278.3 756.9L280.6 756.5L280.6 756.5L278.4 757.2L276.3 757.8L274.1 758.5L272 759.2L269.8 759.8L267.7 760.4L265.5 760.9L263.4 761.4L261.3 761.9L259.2 762.4L257.1 762.9ZM272.3 759.2L273.5 758.7L274.8 758.2L276 757.7L277.2 757.3L278.5 756.9L279.8 756.6L281.1 756.4L282.4 756.1L283.7 756L285 755.8L286.4 755.7L286.4 755.7L285.1 756.2L283.9 756.7L282.6 757.1L281.3 757.6L280.1 757.9L278.8 758.2L277.5 758.5L276.2 758.7L274.9 758.9L273.6 759.1L272.3 759.2ZM333.6 746.9L335 746.6L336.4 746.3L337.8 746L339.2 745.7L340.6 745.5L342 745.3L343.5 745.1L344.9 745L346.4 744.9L347.8 744.9L349.2 744.8L349.2 744.8L347.8 745.1L346.4 745.4L345 745.7L343.6 745.9L342.2 746.2L340.7 746.4L339.3 746.5L337.9 746.6L336.5 746.8L335.1 746.8L333.6 746.9ZM168.7 807L169.8 805.9L170.8 804.8L172 803.7L173.1 802.7L174.4 801.6L175.6 800.6L176.9 799.7L178.3 798.7L179.7 797.8L181.1 796.9L182.5 796L182.5 796L181.2 797.1L179.9 798.1L178.6 799.2L177.3 800.2L176.1 801.2L174.8 802.2L173.6 803.2L172.3 804.1L171.1 805.1L169.9 806L168.7 807ZM309.8 751L313.2 750.2L316.5 749.5L319.9 748.8L323.3 748.2L326.7 747.6L330.1 747.1L333.6 746.6L337.1 746.2L340.6 745.8L344.1 745.4L347.7 745.1L347.7 745.1L344.1 745.7L340.7 746.3L337.2 746.9L333.7 747.4L330.3 748L326.8 748.5L323.4 749L320 749.5L316.6 750L313.2 750.5L309.8 751ZM335.7 746.3L338.3 745.8L341 745.3L343.6 744.8L346.3 744.4L349 744L351.7 743.7L354.4 743.4L357.1 743.2L359.9 743L362.6 742.9L365.4 742.7L365.4 742.7L362.7 743.2L359.9 743.6L357.2 744L354.5 744.4L351.8 744.8L349.1 745.1L346.4 745.4L343.7 745.7L341 745.9L338.4 746.1L335.7 746.3ZM437 739L440.2 738.8L443.4 738.7L446.6 738.6L449.8 738.5L452.9 738.5L456.1 738.6L459.3 738.7L462.5 738.9L465.7 739.1L468.8 739.3L472 739.6L472 739.6L468.8 739.6L465.6 739.7L462.5 739.7L459.3 739.7L456.1 739.7L452.9 739.6L449.8 739.5L446.6 739.4L443.4 739.3L440.2 739.1L437 739ZM277.2 757.8L280.4 756.8L283.7 755.8L287.1 754.8L290.4 753.9L293.8 753.1L297.3 752.4L300.8 751.7L304.3 751.1L307.9 750.6L311.5 750.1L315.1 749.7L315.1 749.7L311.5 750.6L308 751.4L304.5 752.3L301.1 753.1L297.6 753.9L294.2 754.6L290.7 755.3L287.3 756L283.9 756.6L280.6 757.2L277.2 757.8ZM638.8 949.9L637.1 950.6L635.4 951.3L633.6 951.9L631.9 952.4L630.1 952.9L628.2 953.4L626.4 953.8L624.5 954.1L622.6 954.4L622.6 954.4L624.4 953.8L626.2 953.2L628 952.6L629.8 952L631.6 951.5L633.4 951.1L635.2 950.7L637 950.3L638.8 949.9ZM145.8 872.4L145.1 871.4L144.4 870.3L143.8 869.2L143.3 868L142.9 866.9L142.5 865.7L142.3 864.5L142.1 863.2L142 862L142 862L142.5 863.1L143 864.3L143.5 865.4L143.9 866.5L144.4 867.6L144.7 868.8L145.1 870L145.4 871.2L145.8 872.4ZM238 941.1L236.7 940.8L235.3 940.4L234 940.1L232.7 939.7L231.4 939.2L230.2 938.6L229 938L227.8 937.3L226.7 936.6L226.7 936.6L228 937L229.3 937.3L230.6 937.7L231.9 938.1L233.1 938.6L234.4 939.1L235.6 939.7L236.8 940.4L238 941.1ZM389.5 960.5L386.7 960.3L383.9 960.2L381.1 960L378.4 959.7L375.6 959.5L372.9 959.1L370.2 958.8L367.5 958.4L364.8 957.9L364.8 957.9L367.5 958.2L370.2 958.4L373 958.6L375.7 958.9L378.4 959.1L381.2 959.4L383.9 959.8L386.7 960.1L389.5 960.5ZM141.9 860.2L141.5 859L141.2 857.9L140.9 856.8L140.7 855.6L140.6 854.4L140.5 853.3L140.5 852.1L140.6 850.9L140.8 849.8L140.8 849.8L140.9 850.9L141.1 852.1L141.2 853.2L141.4 854.4L141.5 855.5L141.6 856.7L141.7 857.8L141.8 859L141.9 860.2ZM256 934.9L254.2 934.5L252.5 934L250.8 933.5L249.1 933L247.4 932.4L245.8 931.8L244.2 931.1L242.6 930.4L241 929.7L241 929.7L242.7 930.2L244.3 930.7L246 931.2L247.7 931.8L249.3 932.4L251 933L252.6 933.6L254.3 934.3L256 934.9Z" fill="#fff"/><path d="M648.1 764.7L657.6 768.1M662.6 772.9L667.1 774.7M674.6 778.9L683.3 783M691.3 785.3L697.8 788.8M702.6 793.9L709 798M715 798.1L718.9 801.1M723.5 803.8L725.8 805.8M726.6 810.7L730.5 814.5M734.6 820.8L737.8 824.8" fill="none" stroke="#da4f4b" stroke-width="1.3" stroke-linecap="round"/><path d="M330.2 836.3C330 840.8 328.7 856.6 328.6 863.5C328.4 870.4 328.4 874.3 329.6 877.6C330.9 880.9 333.6 883.5 336.1 883.1C338.7 882.8 341.9 878.8 344.8 875.5C347.8 872.2 352.1 865.5 353.6 863.5M357.3 828.7C357.3 834.5 356.9 854.1 357.3 863.5C357.8 872.9 359.3 879.5 360.1 885.3C361 891.1 361.9 896.1 362.2 898.3M404.6 839.1C402.7 839.2 396.7 838.2 392.8 839.6C388.8 841 383.8 843.8 380.8 847.2C377.8 850.7 374.2 857.8 374.8 860.3C375.3 862.8 378.9 862.4 384.1 862.4C389.2 862.4 402.9 858.9 405.8 860.3C408.6 861.8 403.6 867.3 401.4 871.1C399.3 874.9 394.2 881.1 392.8 883.1M422.1 860.3C423.3 859.9 425.8 860.3 429.6 858.1C433.4 855.9 442.1 849.9 444.8 847.2C447.6 844.5 447 843.3 445.9 841.8C444.9 840.3 440.9 837.5 438.3 838C435.8 838.5 432.7 841.3 430.8 845C428.8 848.7 427.4 855.2 426.4 860.3C425.5 865.4 424.8 871.9 425.3 875.5C425.9 879.1 427.3 881.3 429.6 882C432 882.7 434.2 884.3 439.4 879.8C444.7 875.3 457.5 859 461.1 854.8M476.4 832C477 836.4 478.7 849.6 479.6 858.1C480.6 866.6 481.9 878.9 482.3 883.1M481.4 855.6C482 854.3 482.9 850.6 484.9 847.6C486.9 844.6 490.2 840.8 493.4 837.6C496.7 834.5 502.8 830.2 504.6 828.7M567 821.9C566.6 827.3 564.9 844.1 564.5 854.4C564.2 864.6 565.1 878.3 565.2 883.1" fill="none" stroke="#da4f4b" stroke-width="9.2" stroke-linecap="round" stroke-linejoin="round"/><path d="M3055.8 1075.8L3055.8 1076.8L3055.7 1077.9L3055.5 1078.8L3055.3 1079.8L3055.1 1080.9L3055.1 1082L3055.1 1083.1L3055 1084.2L3054.7 1085.2L3054.4 1086.3L3054.2 1087.4L3054.1 1088.6L3053.9 1089.7L3053.5 1090.8L3053 1091.8L3052.3 1092.7L3051.8 1093.8L3051.3 1094.8L3050.7 1095.8L3049.9 1096.7L3049.1 1097.6L3048.4 1098.5L3047.7 1099.6L3047.1 1100.6L3046.4 1101.7L3045.6 1102.6L3044.8 1103.5L3044.1 1104.6L3043.4 1105.7L3042.7 1106.8L3041.8 1107.8L3040.9 1108.7L3039.9 1109.5L3039 1110.5L3038.1 1111.5L3037.2 1112.5L3036.2 1113.4L3035 1114.2L3033.9 1115L3032.9 1115.9L3031.9 1116.9L3030.8 1117.9L3029.7 1118.8L3028.5 1119.6L3027.4 1120.5L3026.3 1121.5L3025.2 1122.6L3024.1 1123.5L3022.9 1124.4L3021.6 1125.2L3020.3 1126.1L3019.1 1127.1L3017.9 1128L3016.6 1128.9L3015.1 1129.5L3013.7 1130.3L3012.3 1131.1L3011 1132L3009.6 1132.9L3008.1 1133.6L3006.6 1134.3L3005.2 1135.1L3003.7 1136L3002.4 1137L3000.9 1137.9L2999.4 1138.7L2997.8 1139.4L2996.3 1140.2L2994.8 1141.1L2993.3 1142.1L2991.7 1142.9L2990 1143.5L2988.3 1144.1L2986.6 1144.8L2985 1145.6L2983.3 1146.4L2981.6 1147.1L2979.8 1147.7L2978 1148.3L2976.3 1149L2974.6 1149.9L2972.9 1150.7L2971.1 1151.4L2969.3 1152.1L2967.5 1152.7L2965.7 1153.6L2963.9 1154.4L2962.1 1155.2L2960.2 1155.8L2958.2 1156.4L2956.3 1157L2954.4 1157.7L2952.5 1158.4L2950.6 1159L2948.6 1159.5L2946.5 1159.9L2944.5 1160.5L2942.6 1161.2L2940.6 1161.9L2938.6 1162.5L2936.5 1163L2934.5 1163.5L2932.4 1164.2L2930.4 1165L2928.4 1165.7L2926.3 1166.3L2924.1 1166.7L2922 1167.2L2919.9 1167.8L2917.8 1168.4L2915.6 1168.9L2913.4 1169.3L2911.2 1169.5L2909 1169.9L2906.8 1170.4L2904.6 1171L2902.3 1171.5L2900.1 1171.8L2897.8 1172.1L2895.6 1172.6L2893.4 1173.2L2891.1 1173.8L2888.9 1174.3L2886.6 1174.6L2884.3 1175L2882 1175.5L2879.7 1176L2877.4 1176.5L2875 1176.8L2872.6 1176.9L2870.3 1177.2L2867.9 1177.5L2865.6 1177.9L2863.2 1178.3L2860.8 1178.5L2858.4 1178.6L2856 1178.9L2853.6 1179.3L2851.2 1179.8L2848.8 1180.2L2846.4 1180.4L2844 1180.6L2841.5 1180.9L2839.1 1181.4L2836.7 1181.8L2834.2 1182L2831.8 1182.1L2829.3 1182.2L2826.8 1182.4L2824.4 1182.7L2821.9 1182.9L2819.4 1183L2816.9 1183L2814.4 1183L2811.9 1183.3L2809.4 1183.6L2806.9 1183.8L2804.4 1183.9L2801.9 1184L2799.4 1184.1L2796.9 1184.4L2794.4 1184.7L2791.9 1184.9L2789.4 1184.9L2786.8 1184.9L2784.3 1185L2781.8 1185.1L2779.2 1185.3L2776.7 1185.2L2774.2 1185.1L2771.6 1184.9L2769.1 1185L2766.6 1185.1L2764 1185.2L2761.5 1185.1L2758.9 1185L2756.4 1185L2753.9 1185.1L2751.3 1185.3L2748.8 1185.4L2746.2 1185.3L2743.7 1185.2L2741.2 1185.2L2738.6 1185.3L2736.1 1185.3L2733.5 1185.2L2731 1184.9L2728.5 1184.7L2726 1184.5L2723.4 1184.5L2720.9 1184.5L2718.4 1184.3L2715.8 1184L2713.3 1183.8L2710.8 1183.7L2708.3 1183.8L2705.8 1183.7L2703.2 1183.6L2700.7 1183.3L2698.2 1183.1L2695.7 1183.1L2693.2 1183.1L2690.7 1182.9L2688.2 1182.5L2685.8 1182.2L2683.3 1181.9L2680.8 1181.7L2678.3 1181.5L2675.9 1181.2L2673.4 1180.7L2671 1180.3L2668.6 1180.1L2666.1 1179.9L2663.6 1179.8L2661.2 1179.5L2658.8 1179.1L2656.4 1178.8L2653.9 1178.6L2651.5 1178.4L2649.1 1178.2L2646.7 1177.8L2644.3 1177.3L2642 1176.9L2639.6 1176.6L2637.2 1176.3L2634.9 1175.9L2632.6 1175.3L2630.2 1174.7L2627.9 1174.2L2625.6 1173.9L2623.3 1173.6L2620.9 1173.2L2618.7 1172.6L2616.4 1172.1L2614.1 1171.7L2611.8 1171.4L2609.5 1171.1L2607.3 1170.6L2605.1 1169.9L2602.9 1169.4L2600.6 1168.9L2598.4 1168.5L2596.2 1168L2594.1 1167.3L2591.9 1166.5L2589.8 1165.9L2587.6 1165.3L2585.5 1164.8L2583.4 1164.3L2581.3 1163.6L2579.2 1162.9L2577.1 1162.3L2575 1161.9L2572.9 1161.4L2570.8 1160.9L2568.8 1160.2L2566.8 1159.5L2564.7 1158.9L2562.7 1158.4L2560.7 1157.9L2558.7 1157.1L2556.8 1156.3L2554.9 1155.5L2553 1154.8L2551 1154.2L2549.1 1153.5L2547.2 1152.7L2545.4 1151.8L2543.6 1151.1L2541.7 1150.5L2539.8 1149.9L2537.9 1149.3L2536.1 1148.5L2534.4 1147.7L2532.5 1147L2530.7 1146.4L2528.9 1145.8L2527.2 1145.1L2525.5 1144.2L2523.9 1143.3L2522.2 1142.5L2520.5 1141.8L2518.8 1141L2517.2 1140.1L2515.7 1139.1L2514.1 1138.2L2512.5 1137.5L2510.9 1136.8L2509.3 1136L2507.7 1135.2L2506.2 1134.3L2504.7 1133.5L2503.1 1132.8L2501.6 1132.1L2500.1 1131.3L2498.7 1130.4L2497.3 1129.4L2495.9 1128.6L2494.5 1127.8L2493.1 1127L2491.7 1126L2490.5 1124.9L2489.3 1123.9L2488 1123L2486.6 1122.2L2485.4 1121.4L2484.1 1120.4L2483 1119.4L2481.8 1118.5L2480.5 1117.7L2479.2 1116.9L2478 1116.1L2476.9 1115.1L2475.8 1114.1L2474.7 1113.1L2473.6 1112.3L2472.4 1111.4L2471.4 1110.4L2470.5 1109.4L2469.7 1108.3L2468.7 1107.2L2467.7 1106.3L2466.7 1105.4L2465.9 1104.4L2465.1 1103.3L2464.3 1102.2L2463.3 1101.3L2462.4 1100.5L2461.4 1099.6L2460.6 1098.6L2459.9 1097.5L2459.1 1096.5L2458.3 1095.6L2457.4 1094.7L2456.7 1093.7L2456.1 1092.6L2455.6 1091.5L2455.1 1090.4L2454.4 1089.4L2453.8 1088.4L2453.2 1087.4L2452.8 1086.2L2452.5 1085.1L2451.9 1084.1L2451.3 1083.2L2450.7 1082.2L2450.3 1081.1L2449.9 1080.1L2449.6 1079L2449.1 1078L2448.5 1077L2448.1 1076L2447.8 1074.9L2447.7 1073.9L2447.5 1072.8L2447.2 1071.7L2446.9 1070.7L2446.7 1069.6L2446.7 1068.5L2446.8 1067.5L2446.7 1066.4L2446.5 1065.4L2446.3 1064.3L2446.3 1063.3L2446.3 1062.2L2446.4 1061.2L2446.3 1060.1L2446.1 1059.1L2446 1058L2446 1057L2446.2 1055.9L2446.3 1054.9L2446.4 1053.8L2446.4 1052.8L2446.5 1051.7L2446.9 1050.7L2447.3 1049.7L2447.6 1048.7L2447.8 1047.6L2448 1046.6L2448.3 1045.5L2448.7 1044.5L2449.2 1043.6L2449.5 1042.5L2449.7 1041.4L2449.9 1040.3L2450.3 1039.3L2450.8 1038.3L2451.3 1037.3L2451.8 1036.3L2452.1 1035.2L2452.6 1034.1L2453.2 1033.2L2454 1032.3L2454.7 1031.3L2455.3 1030.4L2455.9 1029.3L2456.5 1028.3L2457.3 1027.4L2458.1 1026.5L2458.9 1025.6L2459.5 1024.6L2460.1 1023.5L2460.9 1022.5L2461.7 1021.5L2462.6 1020.6L2463.3 1019.6L2464.1 1018.6L2464.8 1017.5L2465.7 1016.6L2466.8 1015.7L2467.8 1014.9L2468.8 1014L2469.7 1013L2470.7 1012.1L2471.8 1011.2L2472.9 1010.5L2474.1 1009.7L2475.1 1008.7L2476.1 1007.7L2477.1 1006.8L2478.3 1005.9L2479.5 1005.1L2480.6 1004.2L2481.7 1003.2L2482.8 1002.1L2484 1001.2L2485.3 1000.4L2486.6 999.7L2487.9 998.8L2489.1 997.9L2490.4 997L2491.7 996.2L2493.2 995.5L2494.6 994.8L2496 994L2497.4 993.1L2498.7 992.2L2500.2 991.5L2501.7 990.8L2503.2 990L2504.6 989.1L2506 988.1L2507.4 987.2L2509 986.4L2510.6 985.7L2512.1 984.9L2513.6 984.1L2515.2 983.2L2516.8 982.5L2518.5 981.9L2520.2 981.3L2521.9 980.6L2523.6 979.8L2525.2 979L2527 978.4L2528.7 977.8L2530.5 977.2L2532.2 976.4L2533.9 975.5L2535.7 974.7L2537.4 974L2539.3 973.4L2541.1 972.7L2542.9 971.9L2544.7 971.1L2546.6 970.4L2548.5 969.8L2550.4 969.3L2552.4 968.8L2554.3 968.1L2556.2 967.4L2558.2 966.8L2560.2 966.4L2562.2 965.9L2564.2 965.3L2566.1 964.6L2568.1 963.9L2570.1 963.3L2572.2 962.8L2574.3 962.2L2576.3 961.6L2578.3 960.8L2580.4 960.1L2582.5 959.6L2584.6 959.2L2586.8 958.8L2588.9 958.2L2591 957.6L2593.2 957.1L2595.4 956.8L2597.6 956.5L2599.8 956.1L2602 955.5L2604.2 954.9L2606.4 954.5L2608.7 954.1L2610.9 953.7L2613.2 953.2L2615.4 952.5L2617.6 951.9L2619.9 951.5L2622.2 951.2L2624.5 950.8L2626.8 950.4L2629.1 949.9L2631.4 949.4L2633.8 949.2L2636.1 949L2638.5 948.8L2640.9 948.4L2643.2 948L2645.6 947.6L2648 947.4L2650.4 947.2L2652.8 946.8L2655.1 946.4L2657.5 945.9L2659.9 945.5L2662.4 945.3L2664.8 945L2667.2 944.7L2669.6 944.3L2672.1 943.9L2674.5 943.8L2677 943.7L2679.5 943.6L2681.9 943.4L2684.4 943.1L2686.9 942.9L2689.4 942.8L2691.9 942.8L2694.3 942.7L2696.8 942.4L2699.3 942L2701.8 941.8L2704.3 941.6L2706.8 941.6L2709.3 941.4L2711.8 941.1L2714.3 940.8L2716.9 940.8L2719.4 940.8L2721.9 940.9L2724.5 940.9L2727 940.8L2729.5 940.8L2732 940.9L2734.6 941.1L2737.1 941.2L2739.6 941.2L2742.2 941L2744.7 941L2747.3 941.1L2749.8 941.2L2752.3 941.2L2754.9 941.1L2757.4 941L2759.9 941L2762.5 941.1L2765 941.3L2767.5 941.5L2770.1 941.5L2772.6 941.5L2775.1 941.7L2777.7 942.1L2780.2 942.4L2782.7 942.6L2785.2 942.6L2787.7 942.8L2790.2 943L2792.7 943.3L2795.3 943.6L2797.8 943.7L2800.3 943.7L2802.8 943.8L2805.3 944L2807.8 944.4L2810.3 944.7L2812.7 944.8L2815.2 945L2817.7 945.3L2820.2 945.7L2822.6 946.2L2825.1 946.7L2827.5 947.1L2829.9 947.5L2832.4 948L2834.8 948.6L2837.2 949.2L2839.6 949.6L2842 949.9L2844.4 950.2L2846.8 950.7L2849.2 951.3L2851.5 952L2853.8 952.6L2856.2 953.1L2858.5 953.8L2858.5 953.8L2856.1 953.8L2853.6 954L2851.2 954.2L2848.8 954.2L2846.4 954L2843.9 953.9L2841.5 953.9L2839 954L2836.6 954L2834.2 953.8L2831.7 953.5L2829.3 953.4L2826.8 953.4L2824.4 953.4L2821.9 953.2L2819.5 952.8L2817 952.5L2814.6 952.3L2812.1 952.3L2809.6 952.3L2807.2 952.1L2804.7 951.9L2802.2 951.7L2799.7 951.8L2797.2 951.9L2794.7 951.9L2792.3 951.8L2789.8 951.6L2787.3 951.4L2784.8 951.5L2782.3 951.5L2779.8 951.4L2777.3 951.2L2774.8 950.9L2772.3 950.8L2769.8 950.8L2767.3 950.9L2764.8 950.8L2762.3 950.7L2759.8 950.6L2757.3 950.7L2754.8 950.9L2752.2 951.1L2749.7 951.1L2747.2 951L2744.7 951L2742.2 951.2L2739.7 951.4L2737.2 951.5L2734.7 951.4L2732.2 951.3L2729.7 951.3L2727.2 951.4L2724.7 951.6L2722.3 951.7L2719.8 951.6L2717.3 951.6L2714.8 951.8L2712.3 952.1L2709.8 952.3L2707.4 952.5L2704.9 952.5L2702.4 952.6L2700 952.8L2697.5 953.1L2695.1 953.4L2692.6 953.5L2690.1 953.5L2687.7 953.5L2685.2 953.7L2682.8 954L2680.4 954.1L2677.9 954.2L2675.5 954.2L2673.1 954.4L2670.7 954.7L2668.3 955.1L2665.9 955.4L2663.5 955.5L2661.1 955.7L2658.7 956.1L2656.4 956.5L2654 957L2651.7 957.3L2649.3 957.4L2646.9 957.6L2644.6 957.9L2642.3 958.4L2640 958.7L2637.6 958.9L2635.3 959L2633 959.2L2630.7 959.6L2628.4 960.1L2626.2 960.5L2623.9 960.8L2621.6 961.1L2619.4 961.5L2617.1 962.1L2615 962.7L2612.8 963.2L2610.5 963.5L2608.3 963.8L2606.1 964.3L2604 964.8L2601.8 965.4L2599.7 965.8L2597.5 966L2595.3 966.3L2593.2 966.8L2591.1 967.3L2589 967.9L2586.9 968.3L2584.8 968.6L2582.7 969.1L2580.6 969.7L2578.7 970.5L2576.7 971.1L2574.6 971.6L2572.6 972.1L2570.6 972.7L2568.7 973.3L2566.7 974L2564.8 974.6L2562.8 975L2560.8 975.4L2558.9 976L2557 976.6L2555.1 977.3L2553.2 977.8L2551.3 978.2L2549.4 978.7L2547.6 979.4L2545.9 980.2L2544.1 981L2542.3 981.6L2540.5 982.2L2538.8 982.8L2537.1 983.6L2535.4 984.4L2533.7 985.2L2532 985.8L2530.3 986.3L2528.6 986.9L2526.9 987.7L2525.3 988.4L2523.7 989.1L2522 989.6L2520.3 990.1L2518.8 990.8L2517.3 991.7L2515.8 992.5L2514.2 993.2L2512.7 993.9L2511.2 994.6L2509.8 995.4L2508.4 996.4L2507.1 997.2L2505.6 998L2504.2 998.6L2502.8 999.3L2501.4 1000.2L2500.1 1001L2498.8 1001.8L2497.4 1002.4L2496 1003L2494.7 1003.7L2493.5 1004.6L2492.3 1005.5L2491.1 1006.3L2489.8 1007L2488.6 1007.7L2487.4 1008.6L2486.4 1009.6L2485.4 1010.6L2484.3 1011.4L2483.2 1012.2L2482.1 1013L2481.1 1013.9L2480.1 1014.8L2479.2 1015.7L2478.1 1016.4L2477 1017.1L2476 1017.9L2475 1018.8L2474.2 1019.7L2473.3 1020.5L2472.3 1021.3L2471.4 1022L2470.5 1022.9L2469.8 1023.9L2469.2 1024.9L2468.4 1025.8L2467.6 1026.6L2466.9 1027.4L2466.2 1028.4L2465.7 1029.3L2465.1 1030.3L2464.4 1031.1L2463.6 1031.9L2462.9 1032.7L2462.3 1033.6L2461.8 1034.5L2461.2 1035.4L2460.6 1036.2L2459.9 1037L2459.3 1037.8L2459 1038.7L2458.6 1039.7L2458.3 1040.6L2457.8 1041.5L2457.3 1042.3L2457 1043.2L2456.8 1044.2L2456.7 1045.1L2456.4 1046L2456 1046.9L2455.6 1047.7L2455.3 1048.6L2455.2 1049.5L2455 1050.4L2454.7 1051.2L2454.3 1052.1L2454 1052.9L2453.9 1053.8L2453.9 1054.7L2453.8 1055.6L2453.7 1056.5L2453.5 1057.4L2453.5 1058.3L2453.6 1059.2L2453.8 1060.1L2454 1061L2454 1061.8L2454 1062.7L2454.1 1063.6L2454.3 1064.5L2454.5 1065.3L2454.6 1066.2L2454.6 1067.1L2454.6 1068L2454.8 1068.9L2455.1 1069.8L2455.4 1070.7L2455.6 1071.6L2455.8 1072.5L2456 1073.4L2456.5 1074.2L2457 1075L2457.5 1075.9L2457.9 1076.7L2458.2 1077.6L2458.6 1078.5L2459.2 1079.3L2459.8 1080.1L2460.3 1081L2460.7 1081.9L2461 1082.9L2461.5 1083.8L2462.1 1084.6L2462.8 1085.5L2463.3 1086.4L2463.8 1087.3L2464.3 1088.3L2465 1089.1L2465.8 1089.9L2466.6 1090.7L2467.3 1091.5L2468 1092.4L2468.8 1093.3L2469.7 1094.1L2470.6 1094.8L2471.5 1095.6L2472.2 1096.5L2473 1097.5L2473.8 1098.4L2474.7 1099.2L2475.7 1100L2476.6 1100.8L2477.4 1101.8L2478.3 1102.8L2479.2 1103.6L2480.3 1104.4L2481.4 1105.1L2482.5 1106L2483.5 1106.9L2484.5 1107.7L2485.7 1108.5L2487 1109.1L2488.2 1109.8L2489.3 1110.6L2490.4 1111.5L2491.6 1112.4L2492.8 1113.1L2494.1 1113.9L2495.4 1114.7L2496.5 1115.6L2497.7 1116.6L2499 1117.4L2500.3 1118.2L2501.7 1118.9L2503.1 1119.7L2504.4 1120.6L2505.7 1121.4L2507.2 1122.1L2508.7 1122.7L2510.2 1123.3L2511.7 1124L2513.1 1124.9L2514.6 1125.7L2516.1 1126.3L2517.7 1127L2519.3 1127.6L2520.8 1128.5L2522.3 1129.4L2523.8 1130.2L2525.4 1130.9L2527.1 1131.6L2528.7 1132.3L2530.3 1133.1L2531.9 1133.9L2533.6 1134.6L2535.4 1135.2L2537.2 1135.7L2538.9 1136.3L2540.6 1137.1L2542.4 1137.8L2544.2 1138.4L2546 1138.9L2547.9 1139.4L2549.7 1140.1L2551.5 1140.9L2553.3 1141.6L2555.1 1142.3L2557 1142.8L2558.9 1143.4L2560.8 1144.2L2562.6 1145L2564.6 1145.6L2566.5 1146.1L2568.5 1146.6L2570.5 1147.1L2572.5 1147.7L2574.5 1148.4L2576.5 1148.9L2578.6 1149.3L2580.6 1149.6L2582.7 1150.1L2584.7 1150.8L2586.8 1151.4L2588.8 1152L2591 1152.4L2593.1 1152.9L2595.2 1153.5L2597.2 1154.2L2599.3 1154.8L2601.5 1155.3L2603.7 1155.7L2605.9 1156.1L2608 1156.6L2610.2 1157.2L2612.4 1157.6L2614.6 1157.9L2616.9 1158.1L2619.1 1158.5L2621.4 1158.9L2623.6 1159.4L2625.8 1159.9L2628.1 1160.2L2630.4 1160.5L2632.7 1161L2634.9 1161.6L2637.2 1162.2L2639.5 1162.6L2641.8 1163L2644.1 1163.3L2646.5 1163.7L2648.8 1164.3L2651.1 1164.7L2653.5 1164.9L2655.8 1165.1L2658.2 1165.3L2660.6 1165.6L2663 1166L2665.3 1166.4L2667.7 1166.5L2670.2 1166.7L2672.6 1167L2674.9 1167.4L2677.3 1167.9L2679.7 1168.2L2682.2 1168.4L2684.6 1168.6L2687 1169L2689.5 1169.4L2691.9 1169.7L2694.3 1169.9L2696.8 1170L2699.3 1170.1L2701.7 1170.3L2704.2 1170.5L2706.7 1170.7L2709.1 1170.8L2711.6 1170.8L2714.1 1170.8L2716.6 1171.1L2719 1171.4L2721.5 1171.6L2724 1171.7L2726.5 1171.8L2729 1171.9L2731.5 1172.2L2734 1172.5L2736.5 1172.6L2739 1172.6L2741.5 1172.6L2744 1172.6L2746.5 1172.8L2749 1172.9L2751.5 1172.8L2754 1172.6L2756.5 1172.5L2759 1172.5L2761.5 1172.7L2764 1172.7L2766.5 1172.7L2769 1172.5L2771.5 1172.5L2774 1172.6L2776.5 1172.8L2779 1172.8L2781.4 1172.7L2783.9 1172.6L2786.4 1172.5L2788.9 1172.5L2791.4 1172.5L2793.9 1172.4L2796.3 1172.1L2798.8 1171.8L2801.3 1171.6L2803.7 1171.6L2806.2 1171.5L2808.7 1171.3L2811.1 1171L2813.6 1170.7L2816 1170.7L2818.5 1170.7L2820.9 1170.6L2823.4 1170.4L2825.8 1170.2L2828.2 1169.9L2830.6 1169.9L2833.1 1169.8L2835.5 1169.6L2837.9 1169.2L2840.2 1168.8L2842.6 1168.4L2845 1168.2L2847.4 1168L2849.8 1167.7L2852.1 1167.2L2854.5 1166.8L2856.8 1166.5L2859.2 1166.4L2861.5 1166.2L2863.9 1165.9L2866.2 1165.5L2868.5 1165.1L2870.8 1164.9L2873.1 1164.7L2875.4 1164.5L2877.7 1164L2879.9 1163.5L2882.2 1163L2884.5 1162.7L2886.7 1162.4L2888.9 1161.9L2891.1 1161.3L2893.3 1160.7L2895.5 1160.3L2897.7 1159.9L2899.9 1159.6L2902.1 1159.2L2904.2 1158.6L2906.4 1158.1L2908.6 1157.8L2910.7 1157.5L2912.9 1157.2L2915 1156.7L2917.1 1156.1L2919.1 1155.5L2921.2 1155L2923.3 1154.6L2925.4 1154.1L2927.4 1153.5L2929.4 1152.8L2931.3 1152.1L2933.4 1151.7L2935.4 1151.2L2937.4 1150.7L2939.3 1150L2941.2 1149.4L2943.2 1148.9L2945.2 1148.5L2947.2 1148.1L2949.1 1147.6L2950.9 1146.9L2952.8 1146.3L2954.7 1145.8L2956.6 1145.3L2958.4 1144.8L2960.2 1144.1L2962 1143.3L2963.7 1142.5L2965.5 1141.9L2967.3 1141.3L2969 1140.7L2970.7 1139.9L2972.4 1139.1L2974.1 1138.5L2975.8 1137.9L2977.6 1137.4L2979.2 1136.8L2980.9 1136.1L2982.5 1135.4L2984.1 1134.8L2985.8 1134.2L2987.4 1133.6L2988.9 1132.9L2990.4 1132.1L2991.9 1131.2L2993.4 1130.5L2994.9 1129.8L2996.4 1129.1L2997.8 1128.3L2999.1 1127.4L3000.5 1126.5L3002 1125.9L3003.4 1125.2L3004.8 1124.6L3006.2 1123.8L3007.5 1122.9L3008.8 1122.2L3010.2 1121.6L3011.6 1121L3012.9 1120.3L3014.1 1119.4L3015.2 1118.5L3016.4 1117.7L3017.7 1117L3018.9 1116.2L3020 1115.3L3021 1114.4L3022 1113.4L3023.1 1112.6L3024.3 1111.9L3025.4 1111.1L3026.4 1110.3L3027.4 1109.4L3028.4 1108.6L3029.5 1107.9L3030.6 1107.2L3031.6 1106.5L3032.5 1105.6L3033.4 1104.7L3034.3 1103.9L3035.3 1103.1L3036.2 1102.4L3037 1101.5L3037.7 1100.5L3038.4 1099.5L3039.1 1098.7L3039.9 1097.9L3040.7 1097.1L3041.4 1096.2L3042 1095.2L3042.6 1094.3L3043.4 1093.5L3044.2 1092.8L3045 1092L3045.6 1091.1L3046.1 1090.2L3046.7 1089.4L3047.3 1088.6L3048.1 1087.8L3048.8 1087L3049.4 1086.2L3049.9 1085.3L3050.4 1084.4L3051.1 1083.6L3051.7 1082.8L3052.2 1081.9L3052.6 1081L3053.1 1080.1L3053.6 1079.3L3054.3 1078.5L3054.9 1077.6L3055.4 1076.7L3055.8 1075.8ZM2828.3 948.8L2830.1 948.3L2831.8 947.8L2833.6 947.5L2835.3 947.4L2837 947.6L2838.7 948.1L2840.3 948.8L2842 949.7L2843.5 950.6L2843.5 950.8L2841.7 951.4L2840 951.8L2838.2 952.1L2836.5 952.2L2834.8 952L2833.2 951.5L2831.5 950.8L2829.9 950L2828.3 949ZM2849.3 952.3L2851.3 951.8L2853.4 951.3L2855.4 951.1L2857.3 951.1L2859.2 951.4L2861.1 952L2862.9 952.8L2864.7 953.7L2866.4 954.8L2866.4 955L2864.4 955.5L2862.4 955.9L2860.4 956.1L2858.5 956.1L2856.6 955.8L2854.8 955.2L2852.9 954.5L2851.1 953.5L2849.3 952.5ZM2870.8 957.9L2872.4 957.4L2874 956.9L2875.5 956.7L2877 956.7L2878.4 956.9L2879.8 957.5L2881.2 958.2L2882.5 959.2L2883.7 960.2L2883.7 960.4L2882.1 960.9L2880.6 961.3L2879.1 961.6L2877.6 961.6L2876.2 961.3L2874.8 960.8L2873.4 960L2872.1 959.1L2870.8 958.1ZM2886.4 959.3L2887.2 958.8L2888 958.3L2888.8 957.9L2889.6 957.8L2890.3 958L2891 958.4L2891.6 959L2892.1 959.8L2892.7 960.6L2892.6 960.8L2891.8 961.4L2891 961.9L2890.2 962.2L2889.4 962.3L2888.7 962.2L2888.1 961.8L2887.5 961.2L2886.9 960.4L2886.3 959.5ZM2896.5 962.9L2897.5 962.7L2898.5 962.5L2899.5 962.4L2900.5 962.4L2901.4 962.6L2902.3 963L2903.1 963.5L2904 964.1L2904.8 964.7L2904.7 964.9L2903.7 965.2L2902.7 965.4L2901.7 965.4L2900.8 965.4L2899.9 965.2L2899 964.8L2898.1 964.3L2897.3 963.8L2896.5 963.1ZM2907.6 964.1L2909.4 964.2L2911.2 964.3L2912.9 964.5L2914.6 964.8L2916.3 965.2L2918 965.8L2919.6 966.4L2921.2 967.2L2922.7 967.9L2922.7 968.1L2920.9 968L2919.2 967.9L2917.5 967.7L2915.8 967.4L2914.1 967L2912.4 966.4L2910.8 965.8L2909.2 965.1L2907.5 964.3ZM2927.9 968.1L2928.6 968L2929.3 968L2929.9 968.1L2930.6 968.2L2931.2 968.3L2931.8 968.6L2932.3 968.9L2932.9 969.2L2933.4 969.6L2933.4 969.8L2932.7 969.8L2932.1 969.8L2931.4 969.8L2930.8 969.7L2930.2 969.5L2929.6 969.3L2929 969L2928.4 968.6L2927.9 968.3ZM2938.2 970.3L2938.9 970.2L2939.5 970.1L2940.1 970.1L2940.7 970.2L2941.3 970.4L2941.8 970.6L2942.3 971L2942.8 971.4L2943.3 971.9L2943.3 972L2942.6 972.1L2942 972.2L2941.3 972.2L2940.8 972.1L2940.2 971.9L2939.6 971.7L2939.1 971.3L2938.6 970.9L2938.1 970.5ZM2944.1 973.5L2945.4 973.7L2946.6 973.9L2947.9 974.2L2949.2 974.6L2950.4 975L2951.6 975.4L2952.7 976L2953.9 976.5L2955 977.1L2954.9 977.3L2953.7 977.1L2952.4 976.8L2951.2 976.6L2950 976.2L2948.7 975.8L2947.5 975.3L2946.4 974.8L2945.2 974.3L2944 973.7Z" fill="#f4caca"/><path d="M2466.4 1024.6L2467 1023.7L2467.6 1022.9L2468.2 1022L2468.9 1021.2L2469.6 1020.4L2470.3 1019.7L2471.1 1019L2471.9 1018.3L2472.8 1017.6L2473.7 1016.9L2474.6 1016.3L2474.6 1016.3L2473.9 1017.1L2473.2 1018L2472.5 1018.8L2471.7 1019.6L2471 1020.4L2470.3 1021.1L2469.5 1021.9L2468.8 1022.6L2468 1023.2L2467.2 1023.9L2466.4 1024.6ZM2521.1 987.4L2523.3 986.3L2525.5 985.2L2527.7 984.1L2530 983.1L2532.3 982.1L2534.7 981.2L2537.1 980.3L2539.5 979.4L2542 978.6L2544.5 977.8L2547.1 977.1L2547.1 977.1L2544.6 978.1L2542.2 979.1L2539.8 980.1L2537.4 981.1L2535 982L2532.6 983L2530.3 983.9L2528 984.8L2525.7 985.6L2523.4 986.5L2521.1 987.4ZM2575.6 969.5L2577.3 968.8L2579.1 968.2L2580.8 967.6L2582.6 967.1L2584.3 966.6L2586.1 966.1L2588 965.7L2589.8 965.4L2591.7 965.1L2593.5 964.8L2595.4 964.6L2595.4 964.6L2593.6 965.2L2591.8 965.7L2590 966.3L2588.2 966.8L2586.4 967.3L2584.6 967.8L2582.8 968.2L2581 968.5L2579.2 968.8L2577.4 969.2L2575.6 969.5ZM2693.1 951L2694.7 950.7L2696.3 950.5L2697.9 950.2L2699.5 950L2701.1 949.9L2702.7 949.8L2704.3 949.8L2705.9 949.8L2707.5 949.8L2709.2 949.9L2710.8 950L2710.8 950L2709.2 950.2L2707.6 950.5L2706 950.7L2704.4 950.9L2702.7 951L2701.1 951.1L2699.5 951.1L2697.9 951.1L2696.3 951.1L2694.7 951.1L2693.1 951ZM2489.3 1005.7L2490.1 1005L2490.9 1004.4L2491.7 1003.7L2492.5 1003.1L2493.4 1002.5L2494.2 1002L2495.1 1001.4L2496.1 1000.9L2497 1000.5L2498 1000L2498.9 999.6L2498.9 999.6L2498.1 1000.2L2497.2 1000.9L2496.4 1001.5L2495.5 1002.1L2494.7 1002.7L2493.8 1003.2L2492.9 1003.8L2492 1004.3L2491.1 1004.7L2490.2 1005.2L2489.3 1005.7ZM2755.9 949.4L2759.3 949.2L2762.7 949.1L2766.1 949.1L2769.5 949.1L2772.9 949.1L2776.3 949.3L2779.6 949.4L2783 949.7L2786.4 950L2789.8 950.3L2793.1 950.7L2793.1 950.7L2789.8 950.7L2786.4 950.6L2783 950.6L2779.6 950.5L2776.2 950.5L2772.8 950.3L2769.4 950.2L2766.1 950L2762.7 949.8L2759.3 949.6L2755.9 949.4ZM2609.8 961.1L2611.2 960.6L2612.7 960.2L2614.1 959.8L2615.5 959.5L2617 959.1L2618.5 958.9L2620 958.6L2621.5 958.5L2623 958.3L2624.5 958.2L2626 958.1L2626 958.1L2624.5 958.5L2623.1 958.9L2621.6 959.3L2620.1 959.6L2618.7 959.9L2617.2 960.2L2615.7 960.4L2614.2 960.6L2612.8 960.8L2611.3 960.9L2609.8 961.1ZM2490.5 1004.5L2491.4 1003.7L2492.3 1002.9L2493.2 1002.1L2494.2 1001.4L2495.2 1000.7L2496.2 1000L2497.3 999.5L2498.4 998.9L2499.5 998.4L2500.7 997.9L2501.9 997.5L2501.9 997.5L2500.9 998.3L2499.9 999L2498.9 999.8L2497.9 1000.5L2496.9 1001.2L2495.9 1001.8L2494.8 1002.4L2493.8 1003L2492.7 1003.5L2491.6 1004L2490.5 1004.5ZM2780.1 949.3L2784.1 949.4L2788 949.5L2792 949.6L2795.9 949.8L2799.8 950L2803.7 950.3L2807.6 950.6L2811.5 951L2815.4 951.4L2819.3 951.9L2823.1 952.3L2823.1 952.3L2819.2 952.1L2815.4 951.8L2811.5 951.6L2807.6 951.3L2803.7 951.1L2799.8 950.8L2795.9 950.5L2791.9 950.2L2788 949.9L2784.1 949.6L2780.1 949.3ZM2447.2 1065.8L2447 1065.1L2446.8 1064.4L2446.7 1063.6L2446.6 1062.9L2446.5 1062.1L2446.5 1061.4L2446.6 1060.6L2446.7 1059.9L2446.8 1059.1L2446.8 1059.1L2446.9 1059.9L2447 1060.6L2447.1 1061.4L2447.2 1062.1L2447.2 1062.8L2447.3 1063.6L2447.2 1064.3L2447.2 1065.1L2447.2 1065.8ZM2828.1 1170.8L2826 1171.1L2823.8 1171.5L2821.7 1171.7L2819.5 1172L2817.3 1172.1L2815.2 1172.2L2813 1172.3L2810.8 1172.3L2808.6 1172.3L2808.6 1172.3L2810.8 1172L2813 1171.7L2815.1 1171.5L2817.3 1171.3L2819.4 1171.1L2821.6 1171L2823.8 1170.9L2825.9 1170.8L2828.1 1170.8ZM2908.4 1169.8L2906.3 1170.4L2904.1 1171L2901.9 1171.6L2899.7 1172.1L2897.4 1172.5L2895.1 1172.9L2892.9 1173.3L2890.6 1173.5L2888.3 1173.8L2888.3 1173.8L2890.5 1173.3L2892.8 1172.7L2895 1172.2L2897.2 1171.7L2899.5 1171.3L2901.7 1170.9L2904 1170.5L2906.2 1170.2L2908.4 1169.8ZM2746.7 1184.4L2743.8 1184.5L2740.9 1184.6L2738 1184.6L2735.1 1184.6L2732.1 1184.5L2729.3 1184.3L2726.4 1184.1L2723.5 1183.8L2720.6 1183.5L2720.6 1183.5L2723.5 1183.5L2726.4 1183.5L2729.3 1183.5L2732.2 1183.5L2735.1 1183.6L2738 1183.8L2740.9 1183.9L2743.8 1184.2L2746.7 1184.4ZM2919.2 1155.9L2918.1 1156.2L2917 1156.6L2915.9 1156.9L2914.8 1157.2L2913.7 1157.5L2912.6 1157.7L2911.4 1157.9L2910.3 1158L2909.1 1158.2L2909.1 1158.2L2910.2 1157.8L2911.3 1157.5L2912.5 1157.2L2913.6 1156.9L2914.7 1156.6L2915.8 1156.4L2916.9 1156.2L2918 1156L2919.2 1155.9ZM2802.6 1172.4L2800.3 1172.8L2798 1173.1L2795.8 1173.3L2793.5 1173.5L2791.2 1173.6L2788.9 1173.6L2786.6 1173.5L2784.3 1173.4L2782 1173.3L2782 1173.3L2784.3 1173L2786.6 1172.8L2788.9 1172.6L2791.1 1172.4L2793.4 1172.3L2795.7 1172.3L2798 1172.3L2800.3 1172.4L2802.6 1172.4Z" fill="#fff"/><path d="M2953.2 977.9L2958.5 979.8M2972.7 982.8L2977.2 984.7M2981.1 989.8L2985.3 991.7M2996 996.7L2999.6 998.6M3004.4 1001.8L3008.3 1004.1M3015.1 1004.2L3020.8 1008M3025.4 1010.5L3030.1 1014.3M3032.7 1022.6L3035.7 1025.5M3041.8 1031.8L3045.2 1036.5" fill="none" stroke="#f4caca" stroke-width="1.3" stroke-linecap="round"/><path d="M2616 1046.3C2615.7 1050.8 2614.4 1066.6 2614.3 1073.5C2614.2 1080.4 2614.1 1084.3 2615.4 1087.6C2616.7 1090.9 2619.4 1093.4 2621.9 1093.1C2624.4 1092.8 2627.7 1088.8 2630.6 1085.5C2633.5 1082.2 2637.9 1075.5 2639.3 1073.5M2643.1 1038.7C2643.1 1044.5 2642.6 1064.1 2643.1 1073.5C2643.6 1082.9 2645.1 1089.5 2645.9 1095.3C2646.7 1101.1 2647.7 1106.1 2648 1108.3M2690.4 1049.1C2688.4 1049.2 2682.5 1048.2 2678.5 1049.6C2674.5 1050.9 2669.5 1053.7 2666.5 1057.2C2663.5 1060.6 2659.9 1067.8 2660.5 1070.3C2661.1 1072.8 2664.6 1072.4 2669.8 1072.4C2675 1072.4 2688.6 1068.8 2691.5 1070.3C2694.4 1071.8 2689.4 1077.3 2687.2 1081.1C2685 1084.9 2679.9 1091.1 2678.5 1093.1M2707.8 1070.3C2709.1 1069.9 2711.6 1070.3 2715.4 1068.1C2719.2 1065.9 2727.9 1059.9 2730.6 1057.2C2733.3 1054.5 2732.8 1053.3 2731.7 1051.8C2730.6 1050.3 2726.6 1047.5 2724.1 1048C2721.6 1048.5 2718.5 1051.3 2716.5 1055C2714.5 1058.7 2713.1 1065.2 2712.2 1070.3C2711.3 1075.4 2710.6 1081.9 2711.1 1085.5C2711.6 1089.1 2713.1 1091.3 2715.4 1092C2717.8 1092.7 2720 1094.3 2725.2 1089.8C2730.5 1085.3 2743.3 1069 2746.9 1064.8M2762.2 1042C2762.7 1046.3 2764.4 1059.6 2765.4 1068.1C2766.4 1076.6 2767.7 1088.9 2768.1 1093.1M2767.2 1065.6C2767.8 1064.3 2768.7 1060.6 2770.7 1057.6C2772.7 1054.6 2775.9 1050.8 2779.2 1047.6C2782.5 1044.4 2788.5 1040.2 2790.4 1038.7M2850.9 1058.8C2852.9 1057.1 2858.9 1051.2 2863 1048.7C2867.1 1046.2 2872.8 1043.4 2875.2 1043.7C2877.6 1044 2877.5 1047 2877.2 1050.7C2876.8 1054.4 2875.5 1060.5 2873.1 1065.9C2870.7 1071.3 2865.3 1078.5 2863 1083C2860.7 1087.5 2859.7 1091.4 2859 1093.1M2859 1093.1C2861.3 1092.1 2867.4 1089.4 2873.1 1087.1C2878.8 1084.8 2889.9 1080.3 2893.3 1079" fill="none" stroke="#f4caca" stroke-width="9.2" stroke-linecap="round" stroke-linejoin="round"/><path d="M1507 1531.7L1507 1532.7L1506.9 1533.7L1506.7 1534.7L1506.6 1535.8L1506.7 1536.9L1506.7 1538L1506.6 1539.1L1506.4 1540.1L1506.1 1541.2L1505.9 1542.3L1505.7 1543.4L1505.5 1544.5L1505.2 1545.6L1504.6 1546.6L1504.1 1547.6L1503.5 1548.6L1503 1549.6L1502.5 1550.7L1501.8 1551.6L1501 1552.5L1500.3 1553.5L1499.7 1554.5L1499.2 1555.6L1498.6 1556.7L1497.8 1557.6L1497 1558.6L1496.3 1559.6L1495.6 1560.7L1494.9 1561.8L1494.1 1562.7L1493.1 1563.6L1492.1 1564.5L1491.2 1565.4L1490.3 1566.4L1489.4 1567.4L1488.4 1568.3L1487.3 1569.1L1486.2 1569.9L1485.2 1570.9L1484.2 1571.9L1483.3 1573L1482.2 1573.9L1481 1574.7L1479.9 1575.6L1478.9 1576.7L1477.8 1577.7L1476.7 1578.7L1475.5 1579.5L1474.2 1580.3L1472.9 1581.1L1471.7 1582.1L1470.5 1583L1469.1 1583.8L1467.7 1584.5L1466.3 1585.2L1464.9 1586.1L1463.6 1587L1462.3 1587.9L1460.9 1588.7L1459.4 1589.5L1458 1590.3L1456.6 1591.2L1455.2 1592.2L1453.8 1593.1L1452.3 1593.9L1450.7 1594.7L1449.2 1595.4L1447.7 1596.3L1446.2 1597.2L1444.6 1598L1442.9 1598.6L1441.2 1599.2L1439.6 1599.9L1437.9 1600.7L1436.3 1601.5L1434.6 1602.2L1432.9 1602.9L1431.1 1603.5L1429.4 1604.3L1427.8 1605.2L1426.1 1606.1L1424.3 1606.8L1422.5 1607.5L1420.7 1608.1L1418.9 1608.9L1417.1 1609.8L1415.3 1610.5L1413.4 1611.1L1411.5 1611.6L1409.6 1612.2L1407.7 1612.9L1405.8 1613.6L1403.8 1614.2L1401.9 1614.7L1399.9 1615.2L1397.9 1615.8L1395.9 1616.5L1394 1617.3L1392 1618L1390 1618.5L1387.9 1619.1L1385.9 1619.8L1383.9 1620.5L1381.9 1621.2L1379.8 1621.8L1377.6 1622.2L1375.5 1622.6L1373.4 1623.1L1371.3 1623.7L1369.1 1624.3L1366.9 1624.6L1364.7 1624.9L1362.5 1625.3L1360.3 1625.9L1358.2 1626.5L1356 1627L1353.7 1627.4L1351.5 1627.8L1349.3 1628.3L1347.1 1628.9L1344.8 1629.5L1342.6 1630L1340.3 1630.3L1338 1630.6L1335.7 1631.1L1333.4 1631.6L1331.1 1632L1328.7 1632.3L1326.4 1632.4L1324 1632.7L1321.7 1633L1319.3 1633.5L1317 1633.9L1314.6 1634.1L1312.2 1634.3L1309.8 1634.6L1307.5 1635.1L1305.1 1635.6L1302.7 1636L1300.3 1636.2L1297.8 1636.4L1295.4 1636.8L1293 1637.2L1290.6 1637.5L1288.1 1637.7L1285.7 1637.8L1283.2 1637.8L1280.7 1638L1278.3 1638.3L1275.8 1638.6L1273.3 1638.7L1270.8 1638.7L1268.4 1638.8L1265.9 1639.1L1263.4 1639.5L1260.9 1639.8L1258.4 1639.9L1255.9 1640L1253.4 1640.1L1250.9 1640.4L1248.4 1640.7L1245.9 1640.8L1243.4 1640.8L1240.8 1640.8L1238.3 1640.8L1235.8 1640.9L1233.3 1641.1L1230.7 1641L1228.2 1640.9L1225.7 1640.8L1223.1 1640.9L1220.6 1641.1L1218.1 1641.2L1215.5 1641.2L1213 1641.1L1210.4 1641.1L1207.9 1641.3L1205.4 1641.5L1202.8 1641.6L1200.3 1641.5L1197.7 1641.3L1195.2 1641.2L1192.7 1641.2L1190.1 1641.3L1187.6 1641.2L1185.1 1640.9L1182.5 1640.6L1180 1640.5L1177.5 1640.5L1174.9 1640.5L1172.4 1640.4L1169.9 1640.1L1167.4 1640L1164.8 1640L1162.3 1640L1159.8 1640L1157.3 1639.9L1154.8 1639.6L1152.3 1639.4L1149.8 1639.3L1147.2 1639.2L1144.8 1639L1142.3 1638.7L1139.8 1638.3L1137.3 1637.9L1134.9 1637.8L1132.4 1637.6L1129.9 1637.3L1127.5 1636.9L1125 1636.6L1122.6 1636.4L1120.1 1636.3L1117.6 1636.2L1115.2 1635.9L1112.8 1635.5L1110.3 1635.2L1107.9 1635L1105.5 1634.8L1103.1 1634.6L1100.7 1634.1L1098.3 1633.6L1095.9 1633.1L1093.6 1632.8L1091.2 1632.5L1088.8 1632.1L1086.5 1631.6L1084.2 1631L1081.8 1630.6L1079.5 1630.3L1077.1 1630.1L1074.8 1629.7L1072.5 1629.2L1070.2 1628.7L1068 1628.3L1065.6 1628L1063.3 1627.6L1061.1 1627.1L1058.9 1626.5L1056.7 1625.8L1054.5 1625.3L1052.2 1624.9L1050 1624.4L1047.9 1623.7L1045.7 1622.9L1043.6 1622.3L1041.4 1621.8L1039.2 1621.4L1037.1 1620.8L1035 1620.2L1032.9 1619.5L1030.8 1619L1028.6 1618.6L1026.5 1618.2L1024.4 1617.6L1022.4 1616.9L1020.4 1616.2L1018.4 1615.5L1016.3 1615L1014.3 1614.4L1012.3 1613.7L1010.4 1612.8L1008.5 1612L1006.6 1611.3L1004.6 1610.7L1002.7 1610.1L1000.8 1609.3L998.9 1608.5L997 1607.8L995.1 1607.2L993.2 1606.7L991.3 1606.1L989.5 1605.3L987.7 1604.5L985.9 1603.8L984.1 1603.2L982.3 1602.5L980.6 1601.8L978.9 1600.8L977.2 1599.9L975.6 1599.1L973.8 1598.4L972.2 1597.6L970.5 1596.8L969 1595.8L967.4 1595L965.7 1594.2L964.1 1593.6L962.4 1592.9L960.9 1592.1L959.4 1591.2L957.8 1590.4L956.2 1589.7L954.7 1589L953.2 1588.2L951.8 1587.2L950.4 1586.2L949 1585.3L947.6 1584.5L946.2 1583.7L944.8 1582.7L943.6 1581.7L942.3 1580.7L941 1579.8L939.6 1579L938.3 1578.2L937 1577.3L935.8 1576.3L934.6 1575.4L933.3 1574.6L932 1573.9L930.8 1573L929.6 1572L928.6 1571L927.5 1570L926.4 1569.1L925.2 1568.2L924.2 1567.3L923.3 1566.2L922.4 1565.1L921.5 1564.1L920.4 1563.2L919.4 1562.3L918.5 1561.3L917.6 1560.2L916.8 1559.2L915.8 1558.3L914.8 1557.5L913.8 1556.6L913 1555.6L912.3 1554.5L911.5 1553.5L910.7 1552.5L909.9 1551.6L909.1 1550.6L908.6 1549.5L908.1 1548.4L907.5 1547.3L906.8 1546.3L906.1 1545.3L905.6 1544.3L905.1 1543.2L904.7 1542.1L904.1 1541.1L903.4 1540.1L902.8 1539.2L902.3 1538.2L901.9 1537.1L901.5 1536L901.1 1535L900.5 1534L900.1 1533L899.8 1531.9L899.7 1530.8L899.6 1529.7L899.3 1528.7L899 1527.6L898.8 1526.6L898.7 1525.5L898.7 1524.4L898.6 1523.3L898.3 1522.3L898.1 1521.3L897.9 1520.2L897.9 1519.2L897.9 1518.1L897.9 1517.1L897.7 1516L897.5 1515L897.6 1513.9L897.8 1512.9L898 1511.8L898 1510.8L898.1 1509.7L898.2 1508.7L898.5 1507.6L898.9 1506.6L899.2 1505.6L899.4 1504.6L899.5 1503.5L899.7 1502.5L900 1501.4L900.4 1500.4L900.7 1499.4L900.9 1498.3L901.1 1497.2L901.5 1496.2L902 1495.2L902.5 1494.2L903 1493.2L903.4 1492.1L903.8 1491.1L904.4 1490.1L905.2 1489.2L905.9 1488.3L906.5 1487.3L907 1486.3L907.6 1485.2L908.3 1484.3L909.1 1483.4L909.8 1482.4L910.4 1481.4L911 1480.3L911.7 1479.2L912.5 1478.3L913.3 1477.4L914.1 1476.4L914.9 1475.4L915.6 1474.3L916.6 1473.4L917.6 1472.6L918.6 1471.8L919.6 1470.9L920.5 1469.9L921.4 1468.9L922.5 1468.1L923.6 1467.3L924.7 1466.5L925.7 1465.5L926.6 1464.4L927.7 1463.4L928.8 1462.5L929.9 1461.7L931.1 1460.8L932.2 1459.8L933.2 1458.8L934.4 1457.9L935.7 1457.1L937 1456.4L938.3 1455.6L939.6 1454.7L940.8 1453.8L942.2 1453L943.6 1452.3L945 1451.6L946.4 1450.8L947.7 1449.8L949 1448.9L950.4 1448.1L951.9 1447.3L953.3 1446.5L954.7 1445.6L956.1 1444.6L957.5 1443.7L959.1 1443L960.6 1442.3L962.2 1441.6L963.8 1440.7L965.3 1439.9L966.9 1439.2L968.6 1438.6L970.3 1438L972 1437.3L973.6 1436.5L975.2 1435.6L976.9 1434.9L978.6 1434.3L980.4 1433.6L982.1 1432.8L983.8 1431.9L985.5 1431.1L987.2 1430.4L989.1 1429.8L990.9 1429.1L992.7 1428.4L994.5 1427.6L996.3 1426.9L998.3 1426.4L1000.2 1425.9L1002.1 1425.4L1004 1424.7L1005.9 1424L1007.9 1423.4L1009.9 1422.9L1011.8 1422.4L1013.8 1421.7L1015.8 1421L1017.7 1420.2L1019.7 1419.5L1021.7 1419L1023.8 1418.5L1025.8 1417.9L1027.9 1417.1L1029.9 1416.5L1032 1416L1034.2 1415.6L1036.3 1415.2L1038.4 1414.7L1040.5 1414.1L1042.7 1413.6L1044.9 1413.2L1047.1 1412.9L1049.3 1412.5L1051.4 1411.8L1053.6 1411.2L1055.8 1410.7L1058 1410.2L1060.3 1409.8L1062.5 1409.3L1064.7 1408.7L1066.9 1408.1L1069.2 1407.7L1071.5 1407.4L1073.8 1407.1L1076.1 1406.7L1078.4 1406.2L1080.7 1405.8L1083 1405.5L1085.4 1405.3L1087.8 1405.1L1090.1 1404.7L1092.4 1404.2L1094.8 1403.7L1097.2 1403.5L1099.5 1403.2L1101.9 1402.9L1104.3 1402.4L1106.7 1401.8L1109.1 1401.5L1111.5 1401.3L1113.9 1401.1L1116.3 1400.8L1118.8 1400.4L1121.2 1400.1L1123.6 1399.9L1126.1 1399.9L1128.6 1399.8L1131 1399.6L1133.5 1399.2L1135.9 1399L1138.4 1398.8L1140.9 1398.8L1143.4 1398.6L1145.9 1398.3L1148.3 1397.9L1150.8 1397.6L1153.3 1397.5L1155.8 1397.4L1158.3 1397.2L1160.8 1397L1163.4 1396.7L1165.9 1396.7L1168.4 1396.8L1170.9 1396.9L1173.5 1396.9L1176 1396.8L1178.5 1396.7L1181 1396.8L1183.6 1396.9L1186.1 1397L1188.6 1397L1191.2 1396.8L1193.7 1396.7L1196.2 1396.7L1198.8 1396.8L1201.3 1396.8L1203.8 1396.8L1206.4 1396.6L1208.9 1396.6L1211.4 1396.8L1214 1397.1L1216.5 1397.3L1219 1397.3L1221.6 1397.4L1224.1 1397.5L1226.6 1397.8L1229.1 1398.1L1231.6 1398.3L1234.2 1398.3L1236.7 1398.3L1239.2 1398.5L1241.7 1398.8L1244.2 1399L1246.7 1399.1L1249.3 1399.1L1251.8 1399.2L1254.3 1399.5L1256.8 1399.9L1259.2 1400.2L1261.7 1400.4L1264.2 1400.6L1266.7 1400.9L1269.1 1401.4L1271.6 1401.8L1274 1402.2L1276.5 1402.5L1279 1402.9L1281.4 1403.3L1283.8 1403.9L1286.2 1404.4L1288.6 1404.8L1291.1 1405.1L1293.5 1405.4L1295.9 1405.9L1298.2 1406.5L1300.6 1407.1L1303 1407.7L1305.3 1408.3L1307.6 1408.9L1309.9 1409.8L1309.9 1409.8L1307.5 1409.6L1305.1 1409.7L1302.7 1409.8L1300.2 1409.9L1297.8 1409.8L1295.4 1409.5L1293 1409.4L1290.5 1409.5L1288.1 1409.6L1285.6 1409.6L1283.2 1409.4L1280.7 1409.3L1278.3 1409.2L1275.8 1409.2L1273.4 1409.2L1270.9 1409L1268.5 1408.6L1266 1408.3L1263.6 1408.1L1261.1 1408L1258.6 1407.9L1256.2 1407.7L1253.7 1407.5L1251.2 1407.3L1248.7 1407.3L1246.2 1407.4L1243.7 1407.5L1241.2 1407.4L1238.8 1407.2L1236.3 1407.2L1233.8 1407.2L1231.3 1407.3L1228.8 1407.2L1226.3 1407L1223.8 1406.8L1221.3 1406.7L1218.8 1406.7L1216.3 1406.7L1213.8 1406.6L1211.3 1406.5L1208.8 1406.3L1206.3 1406.4L1203.8 1406.6L1201.2 1406.8L1198.7 1406.8L1196.2 1406.7L1193.7 1406.8L1191.2 1407L1188.7 1407.2L1186.2 1407.4L1183.8 1407.4L1181.3 1407.3L1178.8 1407.3L1176.3 1407.4L1173.8 1407.6L1171.3 1407.7L1168.8 1407.6L1166.3 1407.6L1163.8 1407.7L1161.4 1407.9L1158.9 1408.1L1156.4 1408.3L1154 1408.3L1151.5 1408.4L1149 1408.6L1146.6 1409L1144.1 1409.3L1141.7 1409.4L1139.2 1409.5L1136.8 1409.6L1134.4 1409.8L1131.9 1410.1L1129.5 1410.3L1127.1 1410.3L1124.6 1410.3L1122.2 1410.5L1119.8 1410.8L1117.4 1411.1L1115.1 1411.4L1112.7 1411.5L1110.3 1411.7L1107.9 1412L1105.6 1412.5L1103.2 1413L1100.9 1413.3L1098.5 1413.5L1096.2 1413.7L1093.9 1414.1L1091.6 1414.6L1089.2 1414.9L1086.9 1415.2L1084.6 1415.3L1082.3 1415.5L1080 1415.9L1077.7 1416.4L1075.5 1416.7L1073.2 1417L1070.9 1417.2L1068.7 1417.6L1066.5 1418.2L1064.3 1418.8L1062.1 1419.3L1059.9 1419.6L1057.7 1420L1055.5 1420.5L1053.4 1421.1L1051.3 1421.7L1049.1 1422.1L1047 1422.4L1044.8 1422.7L1042.7 1423.2L1040.6 1423.8L1038.5 1424.3L1036.4 1424.7L1034.3 1425L1032.2 1425.4L1030.2 1426L1028.2 1426.7L1026.2 1427.3L1024.2 1427.8L1022.2 1428.3L1020.2 1428.9L1018.3 1429.7L1016.4 1430.4L1014.5 1431L1012.5 1431.5L1010.6 1431.9L1008.7 1432.5L1006.8 1433.2L1004.9 1433.8L1003.1 1434.3L1001.1 1434.7L999.3 1435.2L997.5 1435.9L995.7 1436.6L993.9 1437.4L992.1 1437.9L990.3 1438.5L988.6 1439.2L986.9 1440L985.3 1440.9L983.6 1441.6L981.9 1442.2L980.2 1442.8L978.6 1443.5L977 1444.3L975.4 1445.1L973.8 1445.7L972.1 1446.2L970.5 1446.8L968.9 1447.5L967.4 1448.3L965.9 1449.1L964.4 1449.7L962.8 1450.4L961.3 1451.1L959.9 1451.9L958.6 1452.8L957.3 1453.7L955.9 1454.5L954.4 1455.2L953.1 1455.9L951.8 1456.8L950.5 1457.7L949.2 1458.5L947.8 1459.1L946.5 1459.8L945.2 1460.5L944 1461.4L942.8 1462.2L941.6 1463L940.3 1463.6L939 1464.4L937.9 1465.2L936.9 1466.2L935.9 1467.1L934.8 1468L933.7 1468.7L932.6 1469.6L931.7 1470.5L930.8 1471.5L929.9 1472.4L928.9 1473.2L927.8 1473.9L926.8 1474.7L925.9 1475.6L925.1 1476.5L924.2 1477.3L923.2 1478L922.2 1478.8L921.4 1479.6L920.7 1480.6L920 1481.5L919.3 1482.4L918.5 1483.2L917.7 1484.1L917.1 1485L916.6 1486L916.1 1487L915.4 1487.9L914.7 1488.7L914.1 1489.5L913.5 1490.4L913.1 1491.3L912.5 1492.2L911.9 1493L911.2 1493.8L910.6 1494.6L910.2 1495.5L909.9 1496.5L909.5 1497.4L909 1498.2L908.5 1499.1L908.2 1500L908.1 1500.9L907.9 1501.9L907.7 1502.8L907.3 1503.6L907 1504.5L906.8 1505.4L906.7 1506.3L906.6 1507.2L906.3 1508L906 1508.9L905.7 1509.8L905.6 1510.6L905.5 1511.5L905.5 1512.4L905.3 1513.3L905.1 1514.2L905 1515.1L905.2 1516L905.5 1516.9L905.6 1517.7L905.6 1518.6L905.7 1519.5L905.8 1520.4L906.1 1521.3L906.4 1522.1L906.6 1523L906.6 1523.9L906.7 1524.8L906.9 1525.7L907.2 1526.5L907.5 1527.4L907.7 1528.3L907.8 1529.3L908 1530.2L908.5 1531L909 1531.9L909.5 1532.7L909.8 1533.6L910.2 1534.5L910.7 1535.3L911.3 1536.1L912 1536.9L912.5 1537.8L912.9 1538.7L913.3 1539.6L913.9 1540.5L914.5 1541.3L915.2 1542.2L915.7 1543.1L916.2 1544.1L916.7 1545L917.4 1545.9L918.2 1546.7L919 1547.5L919.7 1548.4L920.4 1549.3L921.1 1550.2L922.1 1550.9L923 1551.6L923.9 1552.4L924.7 1553.3L925.5 1554.2L926.4 1555.1L927.4 1555.9L928.4 1556.6L929.3 1557.5L930.1 1558.5L931 1559.5L932 1560.4L933.1 1561.1L934.2 1561.9L935.2 1562.8L936.2 1563.7L937.3 1564.6L938.4 1565.3L939.7 1566L940.9 1566.7L942.1 1567.5L943.3 1568.4L944.5 1569.2L945.8 1569.9L947.1 1570.6L948.4 1571.3L949.6 1572.3L950.8 1573.2L952 1574.1L953.4 1574.8L954.8 1575.5L956.1 1576.4L957.4 1577.3L958.8 1578.2L960.2 1578.9L961.7 1579.5L963.3 1580.2L964.7 1580.9L966.2 1581.7L967.7 1582.5L969.3 1583.1L970.9 1583.7L972.5 1584.3L974 1585.1L975.5 1586L977.1 1586.8L978.8 1587.5L980.4 1588.1L982.1 1588.9L983.7 1589.7L985.3 1590.6L987 1591.3L988.7 1591.9L990.5 1592.4L992.3 1593.1L994 1593.8L995.7 1594.5L997.6 1595.1L999.5 1595.6L1001.3 1596.1L1003.2 1596.7L1005 1597.5L1006.8 1598.2L1008.7 1598.7L1010.6 1599.3L1012.5 1599.9L1014.4 1600.6L1016.2 1601.4L1018.2 1602.1L1020.1 1602.7L1022.1 1603.1L1024.1 1603.7L1026.1 1604.4L1028.1 1605L1030.1 1605.5L1032.2 1605.9L1034.3 1606.3L1036.3 1606.8L1038.4 1607.4L1040.5 1608L1042.6 1608.4L1044.7 1608.8L1046.8 1609.2L1048.9 1609.8L1051 1610.5L1053.1 1611.2L1055.3 1611.6L1057.5 1612L1059.6 1612.5L1061.8 1613.1L1064 1613.7L1066.2 1614.1L1068.4 1614.4L1070.7 1614.7L1072.9 1615L1075.2 1615.5L1077.4 1615.9L1079.7 1616.3L1082 1616.6L1084.3 1616.9L1086.6 1617.3L1088.8 1617.9L1091.1 1618.5L1093.4 1618.9L1095.7 1619.2L1098 1619.6L1100.4 1620L1102.7 1620.6L1105 1621.1L1107.4 1621.3L1109.8 1621.5L1112.1 1621.7L1114.5 1622.1L1116.9 1622.5L1119.3 1622.8L1121.7 1622.9L1124.1 1623L1126.5 1623.3L1128.9 1623.7L1131.3 1624.1L1133.7 1624.4L1136.2 1624.5L1138.6 1624.7L1141 1625.1L1143.4 1625.5L1145.9 1625.9L1148.3 1626.1L1150.8 1626.2L1153.3 1626.3L1155.7 1626.6L1158.2 1626.9L1160.6 1627.1L1163.1 1627.1L1165.6 1627L1168.1 1627.1L1170.6 1627.3L1173.1 1627.5L1175.5 1627.7L1178 1627.7L1180.5 1627.7L1183 1627.9L1185.5 1628.2L1188 1628.5L1190.5 1628.6L1193 1628.6L1195.5 1628.6L1198 1628.7L1200.5 1628.9L1203 1629L1205.5 1629L1208 1628.8L1210.5 1628.7L1213 1628.7L1215.5 1628.7L1218 1628.7L1220.5 1628.6L1222.9 1628.4L1225.4 1628.4L1227.9 1628.5L1230.4 1628.6L1232.9 1628.6L1235.4 1628.5L1237.9 1628.4L1240.4 1628.4L1242.9 1628.4L1245.4 1628.5L1247.8 1628.3L1250.3 1628.1L1252.8 1627.8L1255.2 1627.6L1257.7 1627.6L1260.1 1627.4L1262.6 1627.2L1265 1626.8L1267.5 1626.5L1269.9 1626.4L1272.4 1626.4L1274.8 1626.3L1277.2 1626.1L1279.6 1625.8L1282.1 1625.6L1284.5 1625.6L1286.9 1625.5L1289.3 1625.3L1291.7 1625L1294.1 1624.6L1296.5 1624.3L1298.9 1624.1L1301.2 1623.9L1303.6 1623.5L1305.9 1623L1308.2 1622.5L1310.6 1622.2L1312.9 1622L1315.3 1621.8L1317.6 1621.4L1319.9 1621L1322.2 1620.6L1324.5 1620.4L1326.8 1620.3L1329.1 1620L1331.4 1619.6L1333.6 1619.1L1335.9 1618.7L1338.1 1618.4L1340.4 1618.1L1342.6 1617.6L1344.8 1617L1346.9 1616.4L1349.1 1615.9L1351.3 1615.6L1353.5 1615.2L1355.7 1614.7L1357.8 1614.1L1359.9 1613.5L1362.1 1613.2L1364.2 1612.9L1366.4 1612.5L1368.5 1612.1L1370.5 1611.5L1372.6 1610.9L1374.7 1610.5L1376.8 1610.2L1378.8 1609.7L1380.8 1609L1382.8 1608.3L1384.8 1607.7L1386.8 1607.2L1388.8 1606.8L1390.7 1606.2L1392.6 1605.5L1394.5 1604.8L1396.5 1604.2L1398.4 1603.8L1400.4 1603.4L1402.3 1602.9L1404.1 1602.2L1406 1601.6L1407.9 1601.1L1409.8 1600.7L1411.6 1600.2L1413.4 1599.5L1415.2 1598.7L1416.9 1598L1418.7 1597.4L1420.4 1596.8L1422.2 1596.1L1423.8 1595.3L1425.4 1594.5L1427.1 1593.8L1428.8 1593.2L1430.5 1592.7L1432.2 1592L1433.8 1591.3L1435.4 1590.5L1437 1589.9L1438.6 1589.4L1440.3 1588.8L1441.8 1588.1L1443.3 1587.3L1444.8 1586.5L1446.3 1585.8L1447.8 1585.2L1449.3 1584.5L1450.6 1583.6L1451.9 1582.7L1453.3 1581.8L1454.7 1581.1L1456.1 1580.5L1457.5 1579.7L1458.8 1578.9L1460 1578L1461.4 1577.3L1462.7 1576.7L1464.1 1576.1L1465.4 1575.3L1466.6 1574.5L1467.8 1573.6L1469 1572.9L1470.2 1572.2L1471.4 1571.4L1472.5 1570.6L1473.5 1569.6L1474.5 1568.7L1475.6 1567.8L1476.7 1567.1L1477.8 1566.3L1478.7 1565.4L1479.7 1564.5L1480.6 1563.6L1481.7 1562.9L1482.8 1562.2L1483.8 1561.5L1484.7 1560.6L1485.5 1559.8L1486.5 1558.9L1487.4 1558.2L1488.4 1557.5L1489.2 1556.6L1489.9 1555.7L1490.6 1554.7L1491.3 1553.8L1492.1 1553L1492.9 1552.2L1493.5 1551.3L1494 1550.3L1494.6 1549.4L1495.3 1548.6L1496.1 1547.8L1496.8 1547L1497.4 1546.1L1497.9 1545.2L1498.4 1544.4L1499.2 1543.6L1500.1 1542.9L1500.8 1542.1L1501.4 1541.3L1501.9 1540.4L1502.4 1539.6L1503.1 1538.8L1503.7 1537.9L1504.2 1537.1L1504.6 1536.1L1504.9 1535.2L1505.4 1534.3L1506 1533.5L1506.6 1532.6L1507 1531.7ZM1279.7 1404.5L1281.2 1403.5L1282.7 1402.7L1284.1 1402.1L1285.5 1401.9L1286.9 1402L1288.2 1402.6L1289.5 1403.4L1290.7 1404.6L1291.9 1405.9L1291.9 1406.1L1290.4 1407L1289 1407.8L1287.5 1408.4L1286.1 1408.6L1284.8 1408.5L1283.5 1407.9L1282.2 1407.1L1281 1405.9L1279.7 1404.7ZM1292.8 1407.4L1294 1406.4L1295.2 1405.6L1296.4 1405L1297.5 1404.7L1298.6 1404.8L1299.6 1405.4L1300.6 1406.3L1301.5 1407.4L1302.5 1408.7L1302.4 1408.9L1301.2 1409.9L1300 1410.7L1298.8 1411.3L1297.7 1411.6L1296.7 1411.4L1295.6 1410.9L1294.7 1410L1293.7 1408.9L1292.8 1407.6ZM1305.2 1407.9L1306.7 1407.5L1308.1 1407.1L1309.5 1406.9L1310.9 1406.9L1312.3 1407.1L1313.6 1407.5L1314.8 1408.2L1316.1 1408.9L1317.3 1409.7L1317.3 1409.9L1315.9 1410.3L1314.5 1410.7L1313.1 1410.9L1311.7 1410.9L1310.3 1410.7L1309 1410.2L1307.7 1409.6L1306.5 1408.9L1305.2 1408.1ZM1319.9 1410.7L1321.3 1410.5L1322.7 1410.3L1324.1 1410.3L1325.4 1410.4L1326.8 1410.6L1328.1 1411L1329.3 1411.5L1330.6 1412.1L1331.8 1412.8L1331.8 1413L1330.4 1413.2L1329 1413.3L1327.6 1413.4L1326.3 1413.3L1325 1413.1L1323.7 1412.7L1322.4 1412.2L1321.1 1411.6L1319.9 1410.9ZM1333.8 1412.8L1335.7 1412.6L1337.6 1412.5L1339.4 1412.5L1341.2 1412.7L1343 1413L1344.7 1413.6L1346.4 1414.3L1348 1415.1L1349.7 1416.1L1349.6 1416.3L1347.8 1416.4L1345.9 1416.5L1344.1 1416.5L1342.3 1416.3L1340.6 1416L1338.8 1415.4L1337.1 1414.7L1335.5 1413.9L1333.8 1413ZM1353.7 1418.8L1355.5 1418.9L1357.2 1418.9L1358.8 1419.1L1360.5 1419.4L1362.1 1419.8L1363.7 1420.3L1365.2 1420.9L1366.7 1421.6L1368.3 1422.3L1368.2 1422.5L1366.5 1422.4L1364.9 1422.3L1363.2 1422.1L1361.6 1421.9L1360 1421.5L1358.4 1421L1356.8 1420.4L1355.3 1419.7L1353.7 1419ZM1371.7 1421.5L1373.1 1421.6L1374.5 1421.7L1375.9 1421.9L1377.3 1422.1L1378.6 1422.5L1379.9 1423L1381.2 1423.5L1382.4 1424.1L1383.6 1424.8L1383.6 1425L1382.2 1424.9L1380.8 1424.8L1379.4 1424.6L1378.1 1424.3L1376.8 1424L1375.4 1423.5L1374.2 1423L1372.9 1422.4L1371.6 1421.7ZM1387.5 1425.2L1388.3 1425.2L1389.2 1425.2L1390 1425.3L1390.7 1425.5L1391.5 1425.7L1392.2 1426L1392.9 1426.4L1393.6 1426.8L1394.3 1427.2L1394.3 1427.4L1393.4 1427.4L1392.6 1427.4L1391.8 1427.3L1391.1 1427.1L1390.3 1426.9L1389.6 1426.6L1388.9 1426.2L1388.2 1425.8L1387.5 1425.4ZM1395.3 1428.2L1396.7 1428.5L1398.1 1428.8L1399.4 1429.2L1400.8 1429.6L1402.1 1430L1403.4 1430.5L1404.6 1431L1405.9 1431.6L1407.1 1432.2L1407.1 1432.3L1405.7 1432L1404.4 1431.7L1403.1 1431.3L1401.8 1430.9L1400.4 1430.5L1399.1 1430L1397.8 1429.5L1396.5 1429L1395.2 1428.4Z" fill="#c0bcf0"/><path d="M1011 1429.8L1014.2 1428.7L1017.6 1427.6L1020.9 1426.5L1024.3 1425.5L1027.7 1424.5L1031.2 1423.6L1034.8 1422.7L1038.4 1421.9L1042 1421.1L1045.6 1420.4L1049.3 1419.7L1049.3 1419.7L1045.7 1420.6L1042.1 1421.6L1038.5 1422.5L1035 1423.5L1031.5 1424.4L1028 1425.3L1024.5 1426.2L1021.1 1427.1L1017.7 1428L1014.3 1428.9L1011 1429.8ZM993.9 1435.6L996.3 1434.6L998.8 1433.6L1001.4 1432.7L1004 1431.8L1006.6 1430.9L1009.2 1430L1011.9 1429.2L1014.6 1428.4L1017.3 1427.7L1020.1 1427L1022.9 1426.3L1022.9 1426.3L1020.2 1427.2L1017.5 1428.1L1014.8 1429L1012.1 1429.8L1009.4 1430.7L1006.8 1431.6L1004.2 1432.4L1001.6 1433.2L999 1434L996.4 1434.8L993.9 1435.6ZM983.7 1439.6L986.6 1438.3L989.5 1437L992.5 1435.7L995.5 1434.5L998.7 1433.4L1001.8 1432.3L1005 1431.2L1008.3 1430.3L1011.6 1429.3L1015 1428.5L1018.4 1427.6L1018.4 1427.6L1015.1 1428.8L1011.8 1429.9L1008.6 1431.1L1005.4 1432.2L1002.2 1433.3L999 1434.4L995.9 1435.5L992.8 1436.5L989.7 1437.5L986.7 1438.6L983.7 1439.6ZM1129.8 1408.6L1133.8 1408.1L1137.8 1407.7L1141.9 1407.3L1145.9 1406.9L1150 1406.6L1154.1 1406.4L1158.2 1406.2L1162.3 1406.1L1166.4 1406L1170.6 1405.9L1174.7 1405.9L1174.7 1405.9L1170.6 1406.2L1166.5 1406.5L1162.3 1406.7L1158.2 1407L1154.2 1407.3L1150.1 1407.5L1146 1407.7L1141.9 1408L1137.9 1408.2L1133.8 1408.4L1129.8 1408.6ZM939.3 1461.4L940.2 1460.6L941.2 1459.9L942.1 1459.1L943.1 1458.4L944.1 1457.7L945.1 1457L946.2 1456.4L947.3 1455.8L948.4 1455.2L949.6 1454.7L950.7 1454.1L950.7 1454.1L949.7 1454.9L948.7 1455.6L947.7 1456.4L946.6 1457.1L945.6 1457.8L944.6 1458.4L943.5 1459.1L942.5 1459.7L941.4 1460.3L940.4 1460.8L939.3 1461.4ZM935.5 1465.1L936.7 1464L937.9 1462.9L939.2 1461.8L940.5 1460.7L941.9 1459.8L943.3 1458.8L944.8 1457.9L946.3 1457.1L947.9 1456.3L949.5 1455.5L951.1 1454.7L951.1 1454.7L949.7 1455.8L948.3 1456.9L946.9 1457.9L945.5 1459L944 1459.9L942.6 1460.9L941.2 1461.8L939.8 1462.6L938.4 1463.5L936.9 1464.3L935.5 1465.1ZM1085.4 1413.8L1088.3 1413.2L1091.3 1412.6L1094.2 1412L1097.2 1411.5L1100.2 1411L1103.3 1410.6L1106.3 1410.3L1109.4 1410L1112.5 1409.8L1115.6 1409.6L1118.7 1409.4L1118.7 1409.4L1115.6 1409.9L1112.5 1410.4L1109.5 1410.9L1106.5 1411.4L1103.4 1411.8L1100.4 1412.2L1097.4 1412.6L1094.4 1412.9L1091.4 1413.2L1088.4 1413.5L1085.4 1413.8ZM937.4 1463.7L938.2 1462.9L939 1462.2L939.8 1461.5L940.7 1460.8L941.6 1460.1L942.5 1459.5L943.5 1458.9L944.4 1458.4L945.5 1457.9L946.5 1457.4L947.5 1456.9L947.5 1456.9L946.7 1457.7L945.8 1458.4L944.9 1459.1L944 1459.8L943.1 1460.4L942.2 1461L941.3 1461.6L940.3 1462.2L939.4 1462.7L938.4 1463.2L937.4 1463.7ZM1129.1 1408.5L1130.7 1408.3L1132.3 1408L1133.9 1407.8L1135.5 1407.6L1137.1 1407.4L1138.7 1407.3L1140.3 1407.2L1142 1407.1L1143.6 1407.1L1145.2 1407.1L1146.8 1407.1L1146.8 1407.1L1145.2 1407.4L1143.6 1407.6L1142 1407.8L1140.4 1408L1138.8 1408.1L1137.2 1408.3L1135.6 1408.3L1134 1408.4L1132.4 1408.5L1130.8 1408.5L1129.1 1408.5ZM1071.2 1615.2L1069.2 1615L1067.2 1614.7L1065.3 1614.4L1063.4 1614L1061.4 1613.6L1059.5 1613.1L1057.7 1612.6L1055.8 1612.1L1054 1611.5L1054 1611.5L1055.9 1611.8L1057.8 1612.1L1059.7 1612.4L1061.6 1612.8L1063.5 1613.2L1065.4 1613.7L1067.4 1614.1L1069.3 1614.7L1071.2 1615.2ZM1100.9 1620.5L1099.7 1620.4L1098.4 1620.3L1097.2 1620.2L1096 1620.1L1094.8 1619.9L1093.6 1619.6L1092.3 1619.4L1091.1 1619.1L1090 1618.8L1090 1618.8L1091.2 1618.9L1092.4 1619L1093.6 1619.1L1094.9 1619.3L1096.1 1619.5L1097.3 1619.7L1098.5 1619.9L1099.7 1620.2L1100.9 1620.5ZM905.8 1506.4L905.8 1505.9L905.9 1505.4L905.9 1504.9L906 1504.5L906.1 1504L906.3 1503.5L906.5 1503.1L906.7 1502.7L907 1502.2L907 1502.2L907 1502.7L906.9 1503.2L906.8 1503.7L906.7 1504.2L906.6 1504.6L906.4 1505.1L906.3 1505.5L906.1 1506L905.8 1506.4ZM1060 1613.4L1058.3 1613.2L1056.6 1613L1054.9 1612.8L1053.2 1612.5L1051.5 1612.1L1049.9 1611.6L1048.3 1611.1L1046.7 1610.5L1045.1 1609.9L1045.1 1609.9L1046.8 1610.1L1048.5 1610.3L1050.2 1610.6L1051.8 1610.9L1053.5 1611.3L1055.1 1611.8L1056.8 1612.3L1058.4 1612.8L1060 1613.4ZM971.9 1596.7L970.6 1596.3L969.4 1595.8L968.2 1595.4L967 1594.9L965.8 1594.3L964.7 1593.7L963.6 1593L962.5 1592.3L961.5 1591.6L961.5 1591.6L962.7 1592L963.9 1592.5L965.1 1592.9L966.2 1593.5L967.4 1594L968.5 1594.6L969.6 1595.3L970.7 1596L971.9 1596.7ZM1377.9 1610L1376.1 1610.7L1374.2 1611.3L1372.3 1611.8L1370.4 1612.3L1368.5 1612.8L1366.5 1613.2L1364.6 1613.6L1362.6 1613.9L1360.6 1614.2L1360.6 1614.2L1362.5 1613.6L1364.4 1613.1L1366.4 1612.5L1368.3 1612L1370.2 1611.5L1372.1 1611.1L1374.1 1610.7L1376 1610.4L1377.9 1610Z" fill="#fff"/><path d="M1405.5 1431L1409.3 1432.3M1415.4 1438.1L1419.6 1439.7M1427.5 1439.7L1430.4 1441M1441.7 1448.7L1450.1 1453M1458.3 1455.6L1464.8 1459.6M1470.4 1461.8L1474.4 1464.7M1479.7 1473.3L1481.8 1475.1M1488.9 1482L1491.7 1485.1M1497.1 1487.3L1499.4 1490.6" fill="none" stroke="#c0bcf0" stroke-width="1.3" stroke-linecap="round"/><path d="M1022.6 1488.9C1021.1 1488.1 1015.9 1484.8 1013.3 1484.2C1010.7 1483.6 1009 1483.7 1007 1485.2C1005.1 1486.7 1003 1488.9 1001.4 1493C999.9 1497.1 998.8 1503.4 997.7 1509.6C996.7 1515.8 995.5 1524.6 995.1 1530.3C994.8 1536 994.7 1540.6 995.7 1543.7C996.8 1546.8 999 1548.7 1001.4 1548.9C1003.9 1549.1 1006.9 1547.9 1010.2 1544.8C1013.6 1541.7 1018.1 1535.5 1021.5 1530.3C1025 1525.1 1029.4 1516.5 1030.9 1513.7M1069.2 1489.9C1067.2 1491.5 1060.2 1495.6 1056.8 1499.2C1053.3 1502.8 1050.6 1506.8 1048.5 1511.6C1046.5 1516.4 1045 1523 1044.3 1528.2C1043.6 1533.4 1044.3 1540.3 1044.3 1542.7M1046.4 1543.7C1048.2 1541.5 1053.8 1535 1056.8 1530.3C1059.7 1525.6 1062.1 1520.6 1064 1515.8C1065.9 1511 1067.5 1503.7 1068.2 1501.3M1073.3 1489.9C1073.7 1494.9 1074.9 1510.1 1075.4 1519.9C1076 1529.7 1076.3 1544.1 1076.4 1548.9M1101.3 1468.2C1101.5 1471.7 1101.9 1480.3 1102.3 1488.9C1102.8 1497.5 1103.2 1509.9 1103.9 1519.9C1104.6 1529.9 1106.1 1544.1 1106.5 1548.9M1090.9 1516.8C1093.5 1515.6 1100 1512.2 1106.5 1509.6C1113.1 1507 1126.4 1502.7 1130.3 1501.3M1141.8 1528.2C1143.1 1527.5 1146.2 1526.5 1149.9 1524.1C1153.7 1521.7 1161.7 1516.5 1164.4 1513.7C1167.2 1510.9 1167.4 1509.2 1166.5 1507.5C1165.7 1505.8 1161.5 1503.4 1159.2 1503.4C1157 1503.4 1154.9 1504.8 1153 1507.5C1151.2 1510.2 1149.3 1515.1 1147.9 1519.9C1146.6 1524.7 1145 1532 1144.8 1536.5C1144.7 1541 1145.3 1545.1 1146.8 1546.8C1148.4 1548.5 1150.5 1548.9 1154.2 1546.8C1157.8 1544.7 1163.8 1538.7 1168.7 1534.4C1173.5 1530.1 1180.7 1523.2 1183.2 1521M1217.7 1502.6C1215.3 1505.5 1207.5 1514 1203.6 1520C1199.6 1526 1194.8 1533.8 1193.8 1538.5C1192.7 1543.2 1196.5 1546.6 1197.1 1548.2M1197.1 1548.2C1199 1547.1 1205.1 1545.7 1208.9 1541.7C1212.7 1537.7 1217.3 1529.4 1219.8 1524.3C1222.4 1519.2 1223.5 1513.5 1224.2 1511.3M1224.8 1503.7C1225 1507.7 1225.5 1519.1 1226.3 1527.6C1227.2 1536.1 1228.7 1546.6 1229.7 1554.8C1230.6 1563 1231.7 1571.1 1231.8 1576.5C1232 1581.9 1232.2 1584.7 1230.8 1587.4C1229.3 1590.1 1226.8 1591.7 1223.2 1592.8C1219.5 1593.9 1212.8 1593.9 1208.9 1593.9C1205.1 1593.9 1201.7 1593 1200.2 1592.8M1248.7 1504.8C1248 1507.7 1245.3 1515.6 1244.8 1522.1C1244.4 1528.6 1244.5 1539.4 1245.9 1543.9C1247.4 1548.4 1250.7 1549.7 1253.6 1549.3C1256.5 1548.9 1260.6 1545.1 1263.3 1541.7C1266.1 1538.3 1268.9 1532.9 1269.8 1528.7C1270.8 1524.5 1270.2 1519.6 1268.8 1516.7C1267.3 1513.8 1263.3 1512 1261.2 1511.3C1259 1510.6 1256.7 1512.2 1255.8 1512.4M1285.1 1497.1C1285.4 1501.3 1286.4 1513.4 1287.2 1522.1C1288.1 1530.8 1289.5 1544.8 1289.9 1549.3M1290.8 1523.8C1291.4 1522.1 1292.7 1517.1 1294.8 1513.8C1296.8 1510.5 1300 1506.9 1303.2 1503.8C1306.5 1500.7 1312.4 1496.5 1314.2 1495M1324.2 1518.9C1325 1519.4 1325.1 1517.4 1328.6 1522.1C1332 1526.8 1342.1 1542.9 1344.8 1547.1M1349.2 1503.7C1349.3 1510.4 1349.6 1531.8 1349.8 1543.9C1349.9 1556 1350.1 1568.9 1350.2 1576.5C1350.4 1584.1 1350.8 1587.3 1350.8 1589.5M1415.5 1487.8C1415 1493.2 1413.3 1510 1413 1520.2C1412.6 1530.5 1413.5 1544.2 1413.6 1549" fill="none" stroke="#c0bcf0" stroke-width="9.2" stroke-linecap="round" stroke-linejoin="round"/><path d="M2400.9 293.6L2400.8 294.6L2400.7 295.6L2400.6 296.6L2400.7 297.7L2400.8 298.8L2400.7 299.9L2400.4 301L2400.1 302L2399.9 303L2399.7 304.2L2399.5 305.3L2399.2 306.3L2398.7 307.3L2398.2 308.3L2397.7 309.4L2397.3 310.5L2396.8 311.5L2396.2 312.5L2395.4 313.4L2394.8 314.4L2394.2 315.5L2393.7 316.6L2393.2 317.7L2392.4 318.6L2391.6 319.6L2390.8 320.5L2390.1 321.6L2389.4 322.7L2388.6 323.6L2387.6 324.5L2386.6 325.3L2385.7 326.2L2384.9 327.2L2384 328.2L2383 329.2L2381.9 330L2380.9 330.9L2379.9 331.9L2379 333L2378.1 334L2377.1 334.9L2375.9 335.8L2374.8 336.7L2373.8 337.7L2372.7 338.8L2371.6 339.7L2370.3 340.5L2369 341.3L2367.8 342.1L2366.5 343L2365.3 343.9L2364 344.8L2362.6 345.5L2361.2 346.2L2359.9 347.1L2358.6 348L2357.4 349L2356 349.9L2354.6 350.7L2353.1 351.5L2351.7 352.4L2350.4 353.4L2349 354.3L2347.5 355.1L2345.9 355.8L2344.3 356.5L2342.8 357.4L2341.3 358.2L2339.7 359L2338.1 359.6L2336.4 360.2L2334.7 360.9L2333.1 361.8L2331.5 362.6L2329.9 363.4L2328.2 364.1L2326.4 364.8L2324.8 365.6L2323.1 366.5L2321.4 367.4L2319.7 368.1L2317.9 368.8L2316 369.4L2314.3 370.2L2312.5 371L2310.7 371.7L2308.8 372.3L2306.8 372.8L2304.9 373.3L2303 374L2301.2 374.7L2299.2 375.4L2297.3 376L2295.3 376.5L2293.3 377.1L2291.4 377.9L2289.5 378.7L2287.5 379.4L2285.5 380L2283.4 380.5L2281.4 381.2L2279.4 381.9L2277.4 382.6L2275.3 383.1L2273.1 383.5L2271 383.9L2268.9 384.4L2266.8 385L2264.6 385.6L2262.4 386L2260.2 386.3L2258.1 386.7L2255.9 387.3L2253.7 388L2251.6 388.6L2249.3 389L2247.1 389.4L2244.9 389.9L2242.7 390.5L2240.4 391.1L2238.2 391.6L2235.9 391.9L2233.6 392.1L2231.3 392.5L2229 393L2226.7 393.4L2224.3 393.7L2222 393.9L2219.6 394.1L2217.3 394.5L2214.9 395L2212.6 395.5L2210.2 395.8L2207.8 396L2205.4 396.4L2203.1 396.9L2200.7 397.4L2198.3 397.8L2195.9 398L2193.5 398.2L2191 398.4L2188.6 398.8L2186.2 399.1L2183.7 399.3L2181.3 399.4L2178.8 399.4L2176.3 399.6L2173.9 400L2171.4 400.3L2168.9 400.4L2166.4 400.5L2163.9 400.7L2161.5 401L2159 401.4L2156.5 401.7L2154 401.8L2151.5 401.9L2149 402L2146.5 402.3L2143.9 402.5L2141.4 402.6L2138.9 402.6L2136.4 402.5L2133.8 402.5L2131.3 402.7L2128.8 402.8L2126.2 402.8L2123.7 402.8L2121.2 402.7L2118.6 402.8L2116.1 403L2113.5 403.2L2111 403.3L2108.5 403.2L2105.9 403.2L2103.4 403.3L2100.8 403.5L2098.3 403.6L2095.7 403.4L2093.2 403.2L2090.6 403.1L2088.1 403.1L2085.5 403.1L2083 403L2080.4 402.8L2077.9 402.6L2075.4 402.5L2072.8 402.5L2070.3 402.6L2067.7 402.5L2065.2 402.3L2062.7 402.2L2060.1 402.2L2057.6 402.2L2055.1 402.2L2052.6 402L2050 401.7L2047.5 401.5L2045 401.3L2042.5 401.3L2040 401.1L2037.5 400.7L2035 400.3L2032.5 400L2030 399.8L2027.5 399.7L2025.1 399.5L2022.6 399.2L2020.1 398.9L2017.7 398.7L2015.2 398.6L2012.7 398.5L2010.2 398.3L2007.8 397.9L2005.4 397.5L2003 397.2L2000.5 397L1998.1 396.8L1995.7 396.3L1993.3 395.8L1990.9 395.3L1988.5 394.9L1986.1 394.7L1983.8 394.3L1981.4 393.9L1979.1 393.4L1976.7 393L1974.3 392.7L1972 392.5L1969.6 392.2L1967.3 391.7L1965 391.2L1962.7 390.8L1960.4 390.4L1958.1 390.1L1955.8 389.5L1953.6 388.9L1951.4 388.2L1949.2 387.7L1946.9 387.2L1944.7 386.7L1942.5 386.1L1940.4 385.4L1938.2 384.7L1936 384.3L1933.8 383.9L1931.6 383.4L1929.5 382.8L1927.4 382.2L1925.2 381.6L1923.1 381.2L1921 380.8L1918.9 380.2L1916.8 379.4L1914.8 378.7L1912.8 378L1910.7 377.4L1908.7 376.8L1906.7 376.1L1904.8 375.3L1902.8 374.5L1900.9 373.8L1898.9 373.3L1896.9 372.7L1895 372L1893.1 371.2L1891.2 370.5L1889.2 370L1887.3 369.5L1885.4 368.8L1883.6 368.1L1881.8 367.2L1880 366.5L1878.2 365.8L1876.4 365.1L1874.6 364.3L1872.9 363.4L1871.3 362.5L1869.6 361.7L1867.8 361L1866.1 360.3L1864.4 359.5L1862.8 358.6L1861.2 357.7L1859.5 357L1857.8 356.4L1856.1 355.7L1854.6 354.9L1853 354L1851.5 353.2L1849.9 352.4L1848.3 351.7L1846.8 350.9L1845.4 349.9L1844.1 348.9L1842.7 347.9L1841.2 347.1L1839.8 346.3L1838.4 345.4L1837.1 344.4L1835.8 343.4L1834.4 342.6L1833 341.9L1831.6 341.1L1830.3 340.2L1829.1 339.3L1827.9 338.3L1826.6 337.5L1825.3 336.7L1824 335.9L1822.9 334.9L1821.9 333.8L1820.8 332.8L1819.6 331.9L1818.5 331L1817.4 330L1816.5 328.9L1815.6 327.8L1814.6 326.9L1813.5 326L1812.4 325.1L1811.4 324.2L1810.5 323.2L1809.6 322.2L1808.7 321.3L1807.6 320.4L1806.6 319.5L1805.8 318.5L1805.1 317.4L1804.4 316.4L1803.6 315.4L1802.7 314.4L1802 313.4L1801.4 312.3L1800.9 311.2L1800.3 310.1L1799.6 309.1L1798.8 308.2L1798.2 307.2L1797.7 306.1L1797.2 305L1796.6 304L1795.9 303.1L1795.2 302.1L1794.7 301.1L1794.3 300L1793.9 299L1793.5 297.9L1793 296.9L1792.5 295.9L1792.3 294.8L1792.1 293.7L1792 292.6L1791.7 291.5L1791.3 290.5L1791.1 289.5L1790.9 288.4L1790.9 287.3L1790.7 286.3L1790.4 285.2L1790.1 284.2L1789.9 283.2L1789.8 282.1L1789.9 281L1789.8 280L1789.6 278.9L1789.5 277.9L1789.6 276.8L1789.8 275.8L1790 274.7L1790.1 273.7L1790.1 272.6L1790.2 271.6L1790.4 270.5L1790.8 269.5L1791 268.5L1791.1 267.4L1791.2 266.4L1791.3 265.3L1791.6 264.3L1792 263.3L1792.3 262.2L1792.5 261.1L1792.7 260L1793 259L1793.5 258L1794.1 257L1794.6 256L1795 255L1795.4 254L1796 253L1796.7 252.1L1797.4 251.2L1798 250.1L1798.5 249.1L1799 248L1799.6 247.1L1800.4 246.1L1801.1 245.1L1801.6 244.1L1802.2 243L1802.8 241.9L1803.7 241L1804.5 240.1L1805.4 239.2L1806.1 238.2L1806.9 237.2L1807.8 236.2L1808.8 235.4L1809.9 234.6L1810.8 233.7L1811.7 232.7L1812.6 231.7L1813.6 230.8L1814.7 230L1815.7 229.1L1816.7 228.1L1817.6 227.1L1818.6 226L1819.7 225.1L1820.8 224.3L1822 223.4L1823.1 222.5L1824.2 221.5L1825.3 220.6L1826.6 219.8L1828 219.1L1829.3 218.4L1830.5 217.5L1831.7 216.5L1833 215.7L1834.4 215L1835.8 214.3L1837.1 213.4L1838.4 212.4L1839.7 211.4L1841.1 210.5L1842.5 209.8L1844 209L1845.4 208.1L1846.7 207.1L1848.2 206.3L1849.7 205.5L1851.3 204.9L1852.9 204.2L1854.4 203.4L1856 202.6L1857.6 201.8L1859.2 201.2L1860.9 200.6L1862.6 199.9L1864.2 199L1865.8 198.1L1867.4 197.3L1869.1 196.7L1870.9 196L1872.5 195.2L1874.2 194.3L1875.9 193.4L1877.7 192.8L1879.5 192.2L1881.4 191.6L1883.2 190.9L1885 190.1L1886.8 189.4L1888.7 188.9L1890.7 188.5L1892.6 187.9L1894.5 187.2L1896.3 186.4L1898.2 185.8L1900.2 185.2L1902.2 184.7L1904.1 184L1906.1 183.2L1908 182.4L1910 181.8L1912 181.3L1914.1 180.8L1916.1 180.2L1918.2 179.5L1920.2 178.9L1922.3 178.4L1924.5 178.1L1926.6 177.7L1928.7 177.1L1930.8 176.5L1933 176L1935.1 175.5L1937.3 175.1L1939.5 174.7L1941.7 174L1943.8 173.3L1946 172.8L1948.2 172.3L1950.5 171.9L1952.7 171.4L1954.9 170.8L1957.1 170.3L1959.4 169.9L1961.7 169.6L1964 169.3L1966.3 169L1968.6 168.5L1970.9 168L1973.3 167.7L1975.6 167.5L1978 167.2L1980.3 166.8L1982.6 166.2L1985 165.8L1987.3 165.4L1989.7 165.2L1992.1 164.8L1994.5 164.3L1996.9 163.8L1999.3 163.5L2001.7 163.3L2004.1 163.1L2006.6 162.9L2009 162.6L2011.4 162.2L2013.9 162L2016.3 162L2018.8 161.9L2021.3 161.6L2023.7 161.3L2026.2 160.9L2028.6 160.7L2031.1 160.6L2033.6 160.4L2036.1 160.1L2038.6 159.7L2041.1 159.4L2043.6 159.3L2046.1 159.2L2048.6 159.1L2051.1 158.9L2053.6 158.7L2056.1 158.6L2058.7 158.7L2061.2 158.8L2063.7 158.8L2066.3 158.7L2068.8 158.6L2071.3 158.6L2073.9 158.7L2076.4 158.7L2078.9 158.6L2081.5 158.4L2084 158.3L2086.6 158.3L2089.1 158.4L2091.6 158.5L2094.2 158.4L2096.7 158.3L2099.3 158.4L2101.8 158.6L2104.3 158.9L2106.9 159.1L2109.4 159.1L2112 159.1L2114.5 159.3L2117 159.5L2119.6 159.8L2122.1 159.9L2124.6 159.8L2127.2 159.8L2129.7 160L2132.2 160.2L2134.7 160.5L2137.3 160.6L2139.8 160.6L2142.3 160.7L2144.8 161L2147.3 161.4L2149.8 161.8L2152.3 162L2154.8 162.2L2157.3 162.5L2159.7 162.9L2162.2 163.4L2164.7 163.7L2167.2 163.9L2169.6 164.2L2172.1 164.5L2174.5 165.1L2176.9 165.6L2179.4 166L2181.8 166.2L2184.2 166.6L2186.6 167.1L2189 167.7L2191.4 168.3L2193.8 168.8L2196.1 169.4L2198.5 170.1L2200.8 170.9L2203.1 171.9L2203.1 171.9L2200.7 171.7L2198.3 171.5L2195.8 171.6L2193.4 171.7L2191 171.6L2188.6 171.3L2186.1 171.1L2183.7 171L2181.2 171L2178.8 171.1L2176.3 171.1L2173.9 171L2171.4 170.9L2168.9 170.9L2166.5 170.9L2164 170.9L2161.5 170.6L2159.1 170.3L2156.6 170L2154.2 169.8L2151.7 169.8L2149.2 169.7L2146.7 169.4L2144.3 169.1L2141.8 168.9L2139.3 168.9L2136.8 169L2134.3 169L2131.8 168.9L2129.3 168.8L2126.8 168.8L2124.2 168.9L2121.7 169L2119.2 168.9L2116.7 168.8L2114.2 168.6L2111.7 168.5L2109.2 168.6L2106.7 168.6L2104.2 168.5L2101.7 168.3L2099.2 168.1L2096.6 168.2L2094.1 168.3L2091.6 168.4L2089.1 168.4L2086.6 168.4L2084.1 168.5L2081.6 168.7L2079.1 169L2076.6 169.1L2074.1 169.2L2071.6 169.1L2069.1 169.2L2066.6 169.4L2064.1 169.6L2061.6 169.7L2059.1 169.6L2056.6 169.6L2054.1 169.6L2051.7 169.8L2049.2 170L2046.7 170.1L2044.2 170.1L2041.7 170.2L2039.3 170.4L2036.8 170.8L2034.4 171.1L2031.9 171.2L2029.5 171.3L2027 171.5L2024.6 171.8L2022.2 172.1L2019.8 172.3L2017.3 172.4L2014.9 172.4L2012.5 172.6L2010.1 172.9L2007.7 173.2L2005.3 173.4L2002.9 173.5L2000.5 173.6L1998.1 174L1995.8 174.4L1993.4 174.9L1991.1 175.2L1988.7 175.4L1986.4 175.7L1984.1 176.1L1981.8 176.7L1979.5 177.1L1977.2 177.3L1974.8 177.5L1972.5 177.8L1970.3 178.2L1968 178.6L1965.7 179L1963.5 179.2L1961.2 179.4L1958.9 179.8L1956.7 180.3L1954.6 180.9L1952.4 181.3L1950.1 181.7L1948 182.1L1945.8 182.6L1943.7 183.3L1941.6 183.9L1939.4 184.3L1937.3 184.7L1935.1 185.1L1933 185.6L1931 186.2L1928.9 186.7L1926.8 187L1924.6 187.3L1922.6 187.8L1920.6 188.4L1918.6 189L1916.6 189.6L1914.5 190L1912.5 190.5L1910.6 191.1L1908.7 191.9L1906.8 192.6L1904.9 193.3L1902.9 193.8L1901 194.3L1899.1 194.9L1897.3 195.7L1895.4 196.3L1893.5 196.8L1891.6 197.3L1889.8 197.8L1888 198.4L1886.2 199.1L1884.4 199.8L1882.6 200.3L1880.8 200.9L1879.1 201.5L1877.4 202.3L1875.8 203.2L1874.1 203.9L1872.5 204.6L1870.8 205.2L1869.2 205.9L1867.6 206.8L1866 207.6L1864.4 208.3L1862.8 208.8L1861.2 209.4L1859.6 210.1L1858.1 210.9L1856.6 211.7L1855.1 212.3L1853.5 212.9L1852 213.6L1850.6 214.4L1849.3 215.3L1847.9 216.2L1846.5 216.9L1845.1 217.6L1843.8 218.4L1842.6 219.3L1841.3 220.3L1840.1 221.1L1838.7 221.8L1837.4 222.4L1836.1 223.2L1834.9 224.1L1833.8 224.9L1832.5 225.7L1831.3 226.3L1830 227L1828.9 227.9L1827.9 228.8L1826.8 229.7L1825.7 230.5L1824.6 231.3L1823.6 232.1L1822.7 233.1L1821.8 234.1L1820.9 235L1819.9 235.8L1818.9 236.6L1818 237.4L1817.2 238.3L1816.4 239.3L1815.5 240.1L1814.5 240.8L1813.5 241.5L1812.7 242.4L1812 243.3L1811.3 244.2L1810.5 245.1L1809.7 245.9L1809 246.7L1808.4 247.6L1807.9 248.6L1807.4 249.6L1806.8 250.5L1806.1 251.3L1805.5 252.2L1805 253.1L1804.6 254.1L1804.1 255L1803.5 255.8L1802.9 256.5L1802.3 257.4L1801.9 258.3L1801.6 259.2L1801.1 260.1L1800.6 260.9L1800.1 261.7L1799.8 262.7L1799.7 263.6L1799.5 264.5L1799.3 265.4L1798.9 266.3L1798.7 267.2L1798.6 268.1L1798.6 269L1798.5 269.9L1798.2 270.8L1797.9 271.6L1797.7 272.5L1797.6 273.4L1797.6 274.3L1797.5 275.2L1797.3 276L1797.1 276.9L1797.1 277.8L1797.2 278.7L1797.4 279.6L1797.5 280.5L1797.6 281.4L1797.6 282.3L1797.9 283.1L1798.2 284L1798.6 284.8L1798.8 285.7L1798.8 286.6L1799 287.5L1799.3 288.4L1799.6 289.2L1799.9 290.1L1800.1 291L1800.2 292L1800.5 292.9L1800.9 293.8L1801.4 294.6L1801.8 295.5L1802.2 296.4L1802.5 297.3L1803 298.1L1803.7 298.9L1804.4 299.7L1805 300.5L1805.4 301.5L1805.9 302.4L1806.5 303.2L1807.2 304L1807.9 304.8L1808.5 305.8L1809 306.7L1809.5 307.7L1810.2 308.6L1811 309.4L1811.8 310.2L1812.4 311.2L1813.1 312.1L1813.9 313L1814.8 313.7L1815.8 314.5L1816.7 315.2L1817.6 316.1L1818.4 317L1819.4 317.8L1820.4 318.6L1821.5 319.3L1822.4 320.2L1823.3 321.1L1824.2 322.1L1825.2 323L1826.3 323.7L1827.4 324.5L1828.4 325.4L1829.4 326.4L1830.5 327.3L1831.6 328.1L1832.9 328.7L1834.2 329.5L1835.3 330.3L1836.5 331.2L1837.8 331.9L1839.1 332.6L1840.5 333.3L1841.8 334L1843 334.9L1844.3 335.8L1845.6 336.6L1847 337.4L1848.4 338.1L1849.7 338.9L1851 339.9L1852.4 340.8L1853.8 341.6L1855.3 342.2L1856.9 342.9L1858.4 343.7L1859.8 344.5L1861.3 345.2L1863 345.8L1864.6 346.4L1866.2 347L1867.8 347.8L1869.4 348.6L1871 349.4L1872.7 350L1874.4 350.6L1876 351.3L1877.6 352.2L1879.3 353.1L1881 353.8L1882.7 354.4L1884.5 355L1886.3 355.7L1888 356.5L1889.8 357.2L1891.6 357.8L1893.5 358.2L1895.4 358.7L1897.3 359.4L1899.1 360.1L1901 360.7L1902.9 361.2L1904.9 361.7L1906.8 362.3L1908.7 363L1910.6 363.8L1912.5 364.5L1914.5 365.1L1916.5 365.6L1918.5 366.2L1920.5 366.9L1922.4 367.6L1924.5 368.1L1926.6 368.5L1928.7 368.9L1930.8 369.4L1932.8 369.9L1934.9 370.5L1937.1 370.9L1939.2 371.2L1941.4 371.6L1943.5 372.2L1945.6 372.9L1947.8 373.5L1949.9 373.9L1952.1 374.3L1954.3 374.8L1956.5 375.4L1958.7 376L1960.9 376.5L1963.1 376.8L1965.4 377.1L1967.7 377.5L1969.9 378L1972.2 378.5L1974.5 378.8L1976.8 379L1979.1 379.3L1981.4 379.7L1983.7 380.2L1986 380.7L1988.3 381.1L1990.6 381.4L1993 381.7L1995.3 382.2L1997.6 382.8L2000 383.3L2002.4 383.6L2004.7 383.8L2007.1 384.1L2009.5 384.5L2011.9 384.9L2014.3 385.2L2016.7 385.3L2019.2 385.4L2021.6 385.6L2024 385.9L2026.4 386.3L2028.9 386.5L2031.3 386.6L2033.8 386.8L2036.2 387.1L2038.6 387.6L2041.1 388L2043.5 388.2L2046 388.3L2048.5 388.5L2050.9 388.8L2053.4 389.1L2055.9 389.3L2058.4 389.3L2060.9 389.3L2063.4 389.3L2065.9 389.5L2068.3 389.7L2070.8 389.8L2073.3 389.8L2075.8 389.7L2078.3 389.9L2080.8 390.1L2083.3 390.4L2085.8 390.5L2088.3 390.5L2090.9 390.5L2093.4 390.7L2095.9 390.9L2098.4 391.1L2100.9 391L2103.4 390.9L2105.9 390.7L2108.4 390.8L2110.9 390.8L2113.4 390.8L2115.9 390.6L2118.4 390.4L2120.9 390.3L2123.4 390.3L2125.9 390.4L2128.4 390.4L2130.9 390.3L2133.4 390.1L2135.9 390.1L2138.4 390.2L2140.9 390.3L2143.3 390.2L2145.8 389.9L2148.3 389.7L2150.7 389.6L2153.2 389.5L2155.7 389.4L2158.1 389.1L2160.6 388.7L2163 388.4L2165.5 388.2L2167.9 388.2L2170.3 388L2172.8 387.7L2175.2 387.4L2177.6 387.2L2180 387.2L2182.5 387.1L2184.9 386.9L2187.3 386.6L2189.6 386.3L2192 386L2194.4 385.9L2196.8 385.6L2199.2 385.3L2201.5 384.8L2203.8 384.3L2206.2 384L2208.5 383.7L2210.8 383.4L2213.1 383L2215.4 382.5L2217.7 382.1L2220 381.9L2222.3 381.7L2224.6 381.5L2226.9 381L2229.1 380.6L2231.4 380.2L2233.7 379.9L2235.9 379.7L2238.1 379.2L2240.3 378.6L2242.5 378L2244.7 377.6L2246.9 377.2L2249 376.8L2251.2 376.2L2253.3 375.6L2255.4 375L2257.5 374.6L2259.7 374.2L2261.8 373.9L2263.9 373.3L2266 372.8L2268 372.3L2270.1 371.9L2272.2 371.6L2274.3 371.1L2276.3 370.5L2278.3 369.8L2280.2 369.3L2282.3 368.8L2284.2 368.3L2286.2 367.7L2288.1 366.9L2290 366.2L2291.9 365.6L2293.8 365.2L2295.8 364.7L2297.6 364.1L2299.5 363.4L2301.3 362.8L2303.2 362.3L2305.1 361.9L2306.9 361.4L2308.7 360.7L2310.5 360L2312.2 359.3L2314 358.8L2315.8 358.2L2317.5 357.5L2319.1 356.7L2320.7 355.9L2322.4 355.1L2324.1 354.5L2325.8 353.9L2327.4 353.2L2328.9 352.4L2330.5 351.6L2332.1 351L2333.8 350.5L2335.4 349.9L2336.9 349.2L2338.4 348.4L2339.9 347.7L2341.4 347L2342.9 346.4L2344.4 345.7L2345.8 344.9L2347.1 344L2348.4 343.1L2349.8 342.4L2351.2 341.7L2352.5 340.9L2353.8 340L2355 339.1L2356.3 338.4L2357.6 337.7L2359 337.1L2360.2 336.3L2361.4 335.5L2362.6 334.7L2363.8 333.9L2365.1 333.3L2366.3 332.6L2367.4 331.7L2368.4 330.8L2369.4 329.8L2370.5 329L2371.6 328.3L2372.6 327.5L2373.5 326.5L2374.4 325.6L2375.3 324.7L2376.4 324L2377.4 323.3L2378.4 322.5L2379.2 321.6L2380.1 320.7L2381 319.9L2382 319.2L2382.9 318.5L2383.8 317.7L2384.5 316.7L2385.1 315.8L2385.9 315L2386.7 314.2L2387.5 313.3L2388 312.4L2388.5 311.4L2389.1 310.5L2389.7 309.6L2390.5 308.8L2391.1 308L2391.6 307.1L2392.1 306.2L2392.8 305.4L2393.6 304.6L2394.4 303.9L2395.1 303.2L2395.7 302.3L2396.2 301.4L2396.9 300.6L2397.6 299.8L2398.2 299L2398.7 298.1L2399 297.2L2399.4 296.2L2399.8 295.4L2400.4 294.5L2400.9 293.6ZM2172.5 169.5L2174.4 169L2176.3 168.5L2178.1 168.3L2179.9 168.2L2181.7 168.4L2183.5 168.9L2185.2 169.6L2186.9 170.4L2188.6 171.4L2188.6 171.6L2186.7 172L2184.9 172.4L2183 172.7L2181.2 172.7L2179.4 172.5L2177.7 172.1L2175.9 171.4L2174.2 170.6L2172.5 169.7ZM2191.6 170.7L2192.7 170L2193.8 169.4L2194.9 169L2196 168.9L2197 169L2198 169.5L2198.9 170.2L2199.9 171L2200.8 172L2200.7 172.2L2199.6 172.9L2198.5 173.5L2197.4 173.9L2196.3 174L2195.3 173.9L2194.3 173.5L2193.4 172.8L2192.4 171.9L2191.5 170.9ZM2203.6 170L2204.5 169.5L2205.4 169.1L2206.3 168.8L2207.1 168.7L2207.9 168.8L2208.7 169.2L2209.5 169.7L2210.2 170.4L2210.9 171.1L2210.9 171.3L2210 171.8L2209.1 172.2L2208.2 172.5L2207.4 172.5L2206.6 172.4L2205.8 172.1L2205.1 171.6L2204.3 170.9L2203.6 170.2ZM2213.1 171.9L2214.8 171.3L2216.5 170.8L2218.1 170.5L2219.8 170.5L2221.3 170.7L2222.8 171.3L2224.2 172.2L2225.6 173.2L2227 174.4L2227 174.6L2225.3 175.1L2223.6 175.6L2222 175.9L2220.4 175.9L2218.8 175.7L2217.4 175.1L2215.9 174.3L2214.5 173.2L2213.1 172.1ZM2228.4 177.8L2229.3 177.5L2230.2 177.4L2231.1 177.3L2232 177.3L2232.8 177.5L2233.6 177.8L2234.4 178.2L2235.2 178.7L2235.9 179.3L2235.9 179.4L2235 179.7L2234.1 179.8L2233.2 179.9L2232.3 179.9L2231.5 179.7L2230.7 179.4L2229.9 179L2229.1 178.5L2228.4 178ZM2238.4 176.8L2240.3 176.7L2242.2 176.7L2244.1 176.8L2246 177L2247.8 177.4L2249.6 178L2251.3 178.7L2253 179.5L2254.6 180.4L2254.6 180.6L2252.7 180.7L2250.8 180.7L2249 180.6L2247.1 180.3L2245.3 179.9L2243.6 179.4L2241.8 178.7L2240.1 177.9L2238.4 177ZM2257.1 183.7L2258.4 183.5L2259.7 183.3L2261 183.3L2262.2 183.4L2263.4 183.7L2264.5 184.2L2265.6 184.8L2266.6 185.6L2267.6 186.4L2267.6 186.6L2266.3 186.8L2265 187L2263.8 187L2262.5 186.9L2261.4 186.6L2260.2 186.1L2259.2 185.5L2258.1 184.7L2257 183.9ZM2270.7 186.5L2271.6 186.4L2272.4 186.3L2273.2 186.3L2274 186.4L2274.7 186.6L2275.4 186.9L2276.1 187.3L2276.7 187.8L2277.3 188.3L2277.3 188.5L2276.5 188.6L2275.7 188.7L2274.9 188.7L2274.1 188.6L2273.4 188.4L2272.7 188.1L2272 187.7L2271.3 187.2L2270.7 186.7ZM2280.9 188L2282.2 188.2L2283.5 188.4L2284.9 188.6L2286.2 188.9L2287.4 189.3L2288.7 189.8L2289.9 190.4L2291.1 190.9L2292.3 191.6L2292.2 191.8L2290.9 191.6L2289.6 191.4L2288.3 191.1L2287 190.8L2285.7 190.4L2284.5 189.9L2283.2 189.4L2282 188.8L2280.8 188.2ZM2295.4 193.6L2296.4 193.8L2297.4 194L2298.4 194.2L2299.4 194.5L2300.3 194.9L2301.3 195.2L2302.2 195.7L2303.1 196.1L2304 196.6L2303.9 196.8L2302.9 196.6L2301.9 196.3L2301 196.1L2300 195.8L2299 195.5L2298.1 195.1L2297.2 194.7L2296.2 194.2L2295.3 193.8Z" fill="#c0bcf0"/><path d="M1822.6 231.5L1823.1 230.8L1823.7 230.1L1824.3 229.5L1824.9 228.9L1825.5 228.3L1826.2 227.7L1827 227.2L1827.8 226.8L1828.6 226.4L1829.4 226L1830.2 225.6L1830.2 225.6L1829.6 226.3L1829 226.9L1828.4 227.6L1827.7 228.2L1827 228.8L1826.3 229.3L1825.6 229.8L1824.9 230.3L1824.1 230.7L1823.4 231.1L1822.6 231.5ZM1814.7 238.6L1815.6 237.5L1816.6 236.5L1817.6 235.4L1818.6 234.4L1819.7 233.3L1820.9 232.4L1822 231.4L1823.3 230.5L1824.5 229.5L1825.8 228.6L1827.1 227.8L1827.1 227.8L1825.9 228.8L1824.8 229.8L1823.6 230.9L1822.5 231.9L1821.3 232.9L1820.2 233.9L1819.1 234.9L1818 235.8L1816.9 236.7L1815.8 237.7L1814.7 238.6ZM1984.8 173.4L1987.3 172.9L1989.9 172.4L1992.4 171.9L1995 171.5L1997.5 171.2L2000.1 170.8L2002.7 170.6L2005.3 170.3L2007.9 170.2L2010.6 170L2013.2 169.9L2013.2 169.9L2010.6 170.3L2008 170.7L2005.4 171.1L2002.8 171.5L2000.2 171.8L1997.6 172.1L1995.1 172.4L1992.5 172.7L1989.9 172.9L1987.4 173.1L1984.8 173.4ZM1845.3 215.7L1847.1 214.5L1848.9 213.2L1850.8 212.1L1852.7 210.9L1854.7 209.8L1856.8 208.8L1858.9 207.8L1861 206.9L1863.2 206.1L1865.5 205.3L1867.7 204.5L1867.7 204.5L1865.6 205.6L1863.5 206.8L1861.5 207.9L1859.4 209L1857.4 210.1L1855.3 211.1L1853.3 212L1851.3 213L1849.3 213.9L1847.2 214.8L1845.3 215.7ZM2045.2 168.7L2047.9 168.4L2050.6 168.2L2053.3 168L2056 167.8L2058.7 167.7L2061.4 167.6L2064.1 167.5L2066.8 167.5L2069.5 167.5L2072.2 167.5L2074.9 167.5L2074.9 167.5L2072.2 167.7L2069.5 167.8L2066.8 168L2064.1 168.1L2061.4 168.3L2058.7 168.4L2056 168.5L2053.3 168.5L2050.6 168.6L2047.9 168.6L2045.2 168.7ZM1891.9 194.9L1893.1 194.3L1894.3 193.7L1895.5 193.2L1896.8 192.7L1898.1 192.2L1899.4 191.8L1900.7 191.4L1902 191.1L1903.4 190.8L1904.8 190.5L1906.1 190.2L1906.1 190.2L1904.9 190.8L1903.6 191.3L1902.3 191.9L1901 192.4L1899.7 192.8L1898.4 193.2L1897.1 193.6L1895.8 194L1894.5 194.3L1893.2 194.6L1891.9 194.9ZM1941 181.8L1943.9 181L1946.8 180.2L1949.8 179.5L1952.8 178.8L1955.8 178.1L1958.8 177.6L1961.8 177L1964.9 176.6L1968 176.2L1971.2 175.8L1974.3 175.5L1974.3 175.5L1971.2 176.1L1968.1 176.8L1965.1 177.5L1962.1 178.2L1959 178.8L1956 179.3L1953 179.9L1950 180.4L1947 180.9L1944 181.4L1941 181.8ZM2058.3 167.2L2061 167L2063.7 166.8L2066.4 166.6L2069.2 166.4L2071.9 166.3L2074.6 166.3L2077.4 166.3L2080.1 166.3L2082.9 166.3L2085.6 166.4L2088.4 166.6L2088.4 166.6L2085.6 166.7L2082.9 166.8L2080.1 167L2077.4 167.1L2074.7 167.2L2071.9 167.2L2069.2 167.3L2066.5 167.3L2063.7 167.3L2061 167.2L2058.3 167.2ZM1826.6 226.8L1827.2 226.2L1827.7 225.5L1828.3 224.9L1829 224.4L1829.6 223.8L1830.3 223.3L1831 222.9L1831.8 222.5L1832.6 222.1L1833.4 221.8L1834.2 221.4L1834.2 221.4L1833.6 222L1833 222.7L1832.4 223.3L1831.7 223.8L1831 224.4L1830.4 224.9L1829.6 225.3L1828.9 225.7L1828.2 226.1L1827.4 226.5L1826.6 226.8ZM2185.3 387.5L2183.3 387.8L2181.2 388.1L2179.2 388.4L2177.1 388.6L2175.1 388.8L2173 389L2170.9 389.1L2168.9 389.2L2166.8 389.2L2166.8 389.2L2168.8 388.9L2170.9 388.7L2173 388.4L2175 388.2L2177.1 388L2179.1 387.8L2181.2 387.7L2183.3 387.6L2185.3 387.5ZM2120.2 391.4L2118.5 391.5L2116.8 391.7L2115.1 391.8L2113.4 391.9L2111.8 391.9L2110.1 391.8L2108.4 391.8L2106.7 391.6L2105 391.5L2105 391.5L2106.7 391.4L2108.4 391.3L2110.1 391.2L2111.8 391.1L2113.4 391.1L2115.1 391.1L2116.8 391.2L2118.5 391.3L2120.2 391.4ZM1898.6 360.4L1897 360L1895.4 359.5L1893.9 359L1892.4 358.5L1890.9 358L1889.4 357.4L1887.9 356.8L1886.5 356.1L1885.1 355.4L1885.1 355.4L1886.6 355.9L1888.1 356.4L1889.6 356.9L1891.1 357.4L1892.6 358L1894.1 358.6L1895.6 359.2L1897.1 359.8L1898.6 360.4ZM2290.9 377.5L2289.4 378.2L2288 378.8L2286.5 379.4L2284.9 379.9L2283.4 380.3L2281.8 380.7L2280.2 381L2278.6 381.3L2277 381.5L2277 381.5L2278.5 380.9L2280 380.3L2281.6 379.7L2283.1 379.2L2284.6 378.8L2286.2 378.4L2287.8 378.1L2289.3 377.8L2290.9 377.5ZM2199.6 385.5L2197.8 385.9L2196 386.2L2194.2 386.5L2192.4 386.7L2190.6 386.9L2188.7 387.1L2186.9 387.2L2185.1 387.3L2183.2 387.4L2183.2 387.4L2185 387.1L2186.9 386.8L2188.7 386.6L2190.5 386.3L2192.3 386.1L2194.1 385.9L2195.9 385.8L2197.8 385.6L2199.6 385.5ZM1798 286.6L1797.6 285.8L1797.3 285.1L1797 284.3L1796.8 283.5L1796.7 282.6L1796.7 281.8L1796.8 281L1796.9 280.2L1797 279.3L1797 279.3L1797.3 280.1L1797.5 280.9L1797.7 281.7L1797.9 282.5L1798 283.3L1798 284.1L1798 284.9L1798 285.8L1798 286.6Z" fill="#fff"/><path d="M2297.9 196L2305.7 198.8M2316.8 203.8L2323.6 206.7M2336 209.6L2339.4 211.3M2349.8 214.5L2356.7 218.6M2359 223.4L2362.2 225.6M2369.6 227.1L2374.4 230.8M2377.6 239.5L2381.7 243.6M2386.1 247.5L2387.7 249.6" fill="none" stroke="#c0bcf0" stroke-width="1.3" stroke-linecap="round"/><path d="M1895.4 250.8C1893.9 250 1888.7 246.7 1886.1 246.1C1883.5 245.4 1881.8 245.6 1879.8 247.1C1877.8 248.5 1875.8 250.8 1874.2 254.9C1872.7 258.9 1871.6 265.2 1870.5 271.5C1869.5 277.7 1868.2 286.5 1867.9 292.2C1867.6 297.8 1867.5 302.4 1868.5 305.6C1869.6 308.7 1871.8 310.6 1874.2 310.8C1876.6 310.9 1879.7 309.8 1883 306.7C1886.4 303.6 1890.9 297.3 1894.3 292.2C1897.8 287 1902.1 278.3 1903.7 275.6M1942 251.8C1939.9 253.3 1933 257.4 1929.5 261.1C1926.1 264.7 1923.4 268.6 1921.3 273.5C1919.2 278.3 1917.8 284.9 1917.1 290.1C1916.4 295.2 1917.1 302.1 1917.1 304.6M1919.2 305.6C1920.9 303.3 1926.6 296.8 1929.5 292.2C1932.4 287.5 1934.9 282.5 1936.8 277.7C1938.7 272.8 1940.2 265.6 1940.9 263.2M1946.1 251.8C1946.5 256.8 1947.7 271.9 1948.2 281.8C1948.7 291.6 1949 305.9 1949.2 310.8M1974.1 230.1C1974.3 233.5 1974.7 242.1 1975.1 250.8C1975.5 259.4 1976 271.8 1976.7 281.8C1977.4 291.8 1978.9 305.9 1979.3 310.8M1963.7 278.7C1966.3 277.5 1972.7 274 1979.3 271.5C1985.9 268.9 1999.1 264.5 2003.1 263.2M2014.5 290.1C2015.9 289.4 2018.9 288.4 2022.7 286C2026.5 283.5 2034.4 278.3 2037.2 275.6C2040 272.8 2040.2 271.1 2039.3 269.4C2038.4 267.6 2034.3 265.3 2032 265.3C2029.8 265.3 2027.7 266.6 2025.8 269.4C2023.9 272.1 2022.1 276.9 2020.7 281.8C2019.3 286.6 2017.8 293.9 2017.6 298.4C2017.4 302.8 2018.1 306.9 2019.6 308.7C2021.2 310.4 2023.3 310.7 2026.9 308.7C2030.5 306.6 2036.6 300.6 2041.4 296.3C2046.2 292 2053.5 285.1 2055.9 282.9M2090.4 264.5C2088.1 267.4 2080.3 275.9 2076.3 281.9C2072.3 287.8 2067.6 295.7 2066.5 300.4C2065.4 305.1 2069.2 308.4 2069.8 310.1M2069.8 310.1C2071.8 309 2077.9 307.5 2081.7 303.6C2085.5 299.6 2090.1 291.2 2092.6 286.2C2095.2 281.1 2096.3 275.3 2097 273.2M2097.5 265.6C2097.8 269.5 2098.3 280.9 2099.1 289.5C2099.9 298 2101.5 308.5 2102.4 316.7C2103.3 324.8 2104.4 332.9 2104.6 338.4C2104.8 343.8 2104.9 346.5 2103.5 349.3C2102.1 352 2099.5 353.6 2095.9 354.7C2092.3 355.7 2085.5 355.8 2081.7 355.8C2077.9 355.8 2074.4 354.8 2073 354.7M2121.4 266.7C2120.8 269.5 2118.1 277.4 2117.6 284C2117.2 290.5 2117.2 301.2 2118.7 305.8C2120.1 310.3 2123.4 311.5 2126.3 311.2C2129.2 310.8 2133.4 307 2136.1 303.6C2138.8 300.1 2141.7 294.7 2142.6 290.6C2143.5 286.4 2142.9 281.4 2141.5 278.6C2140.1 275.7 2136.1 273.9 2133.9 273.2C2131.7 272.4 2129.4 274.1 2128.5 274.3M2157.8 259C2158.2 263.1 2159.2 275.3 2160 284C2160.8 292.7 2162.2 306.6 2162.7 311.2M2163.5 285.7C2164.2 284 2165.4 279 2167.5 275.7C2169.6 272.3 2172.8 268.8 2176 265.7C2179.2 262.5 2185.2 258.3 2187 256.9M2197 280.8C2197.7 281.3 2197.9 279.3 2201.3 284C2204.7 288.7 2214.9 304.8 2217.6 309M2222 265.6C2222.1 272.2 2222.3 293.6 2222.5 305.8C2222.7 317.9 2222.8 330.8 2223 338.4C2223.2 346 2223.5 349.2 2223.6 351.4M2286.1 276.6C2288.1 274.9 2294.2 269 2298.2 266.5C2302.2 263.9 2308 261.1 2310.4 261.5C2312.8 261.8 2312.8 264.8 2312.4 268.5C2312.1 272.2 2310.7 278.3 2308.3 283.7C2305.9 289 2300.6 296.2 2298.2 300.8C2295.9 305.3 2294.9 309.2 2294.2 310.9M2294.2 310.9C2296.6 309.9 2302.6 307.2 2308.3 304.9C2314 302.5 2325.1 298.1 2328.5 296.8" fill="none" stroke="#c0bcf0" stroke-width="9.2" stroke-linecap="round" stroke-linejoin="round"/><path d="M2215.9 1059.5L2215.9 1060.5L2215.8 1061.4L2215.9 1062.5L2216 1063.5L2215.9 1064.5L2215.7 1065.5L2215.4 1066.4L2215.2 1067.4L2215 1068.4L2214.9 1069.5L2214.6 1070.5L2214.1 1071.4L2213.7 1072.4L2213.4 1073.4L2213.1 1074.5L2212.7 1075.5L2212.2 1076.4L2211.6 1077.4L2211 1078.3L2210.5 1079.3L2210.1 1080.4L2209.5 1081.4L2208.8 1082.3L2208.1 1083.1L2207.3 1084L2206.7 1085L2206 1086L2205.2 1086.9L2204.3 1087.7L2203.4 1088.5L2202.5 1089.3L2201.8 1090.3L2201 1091.3L2200.1 1092.2L2199.2 1093L2198.2 1093.8L2197.4 1094.8L2196.6 1095.8L2195.7 1096.9L2194.8 1097.8L2193.7 1098.6L2192.7 1099.4L2191.7 1100.3L2190.7 1101.3L2189.6 1102.1L2188.4 1102.9L2187.2 1103.6L2186 1104.3L2184.9 1105.2L2183.8 1106.1L2182.6 1106.9L2181.3 1107.6L2180.1 1108.3L2178.8 1109.1L2177.7 1110.1L2176.5 1111.1L2175.3 1111.9L2173.9 1112.7L2172.6 1113.4L2171.3 1114.3L2170 1115.2L2168.7 1116L2167.3 1116.8L2165.8 1117.4L2164.3 1118L2162.9 1118.8L2161.5 1119.6L2160 1120.3L2158.5 1120.9L2156.9 1121.5L2155.4 1122.2L2154 1123L2152.5 1123.9L2151 1124.7L2149.4 1125.4L2147.8 1126L2146.2 1126.8L2144.7 1127.6L2143.1 1128.5L2141.5 1129.2L2139.8 1129.7L2138.1 1130.3L2136.4 1130.9L2134.7 1131.7L2133 1132.4L2131.2 1132.9L2129.4 1133.4L2127.6 1133.9L2125.9 1134.6L2124.2 1135.3L2122.4 1136L2120.6 1136.6L2118.8 1137.1L2116.9 1137.7L2115.1 1138.5L2113.4 1139.3L2111.5 1140L2109.6 1140.5L2107.7 1140.9L2105.8 1141.5L2103.9 1142.2L2102 1142.8L2100 1143.3L2098 1143.6L2096 1144L2094 1144.5L2092.1 1145.1L2090.1 1145.6L2088.1 1146L2086 1146.4L2084 1146.8L2082 1147.4L2080 1148.1L2077.9 1148.7L2075.9 1149.1L2073.8 1149.5L2071.7 1149.9L2069.6 1150.5L2067.5 1151L2065.4 1151.4L2063.2 1151.6L2061.1 1151.8L2058.9 1152.2L2056.8 1152.6L2054.6 1153.1L2052.4 1153.4L2050.2 1153.6L2048 1153.8L2045.8 1154.3L2043.7 1154.8L2041.5 1155.3L2039.3 1155.6L2037 1155.8L2034.8 1156.2L2032.6 1156.6L2030.4 1157.1L2028.1 1157.4L2025.8 1157.6L2023.6 1157.7L2021.3 1157.9L2019 1158.2L2016.7 1158.5L2014.4 1158.7L2012.1 1158.8L2009.8 1158.9L2007.5 1159.1L2005.2 1159.4L2002.9 1159.8L2000.6 1160L1998.3 1160.1L1995.9 1160.3L1993.6 1160.6L1991.3 1161L1989 1161.3L1986.6 1161.4L1984.2 1161.4L1981.9 1161.5L1979.5 1161.7L1977.2 1161.9L1974.8 1162L1972.4 1161.9L1970.1 1161.8L1967.7 1161.9L1965.3 1162L1963 1162.2L1960.6 1162.3L1958.2 1162.3L1955.8 1162.3L1953.4 1162.4L1951.1 1162.7L1948.7 1162.9L1946.3 1162.9L1943.9 1162.9L1941.5 1162.8L1939.1 1162.9L1936.7 1163L1934.3 1163.1L1931.9 1162.9L1929.5 1162.7L1927.2 1162.5L1924.8 1162.5L1922.4 1162.6L1920 1162.6L1917.6 1162.4L1915.2 1162.2L1912.8 1162.2L1910.4 1162.3L1908.1 1162.4L1905.7 1162.4L1903.3 1162.2L1900.9 1162L1898.5 1162L1896.1 1162L1893.8 1162L1891.4 1161.8L1889 1161.5L1886.7 1161.2L1884.3 1161.1L1882 1161L1879.6 1160.8L1877.3 1160.5L1874.9 1160.1L1872.6 1159.9L1870.2 1159.8L1867.9 1159.8L1865.5 1159.6L1863.2 1159.4L1860.9 1159.1L1858.6 1158.9L1856.2 1158.8L1853.9 1158.7L1851.6 1158.5L1849.3 1158.1L1847 1157.7L1844.8 1157.4L1842.5 1157.2L1840.2 1156.9L1837.9 1156.5L1835.7 1156L1833.4 1155.6L1831.2 1155.3L1828.9 1155.1L1826.7 1154.8L1824.5 1154.4L1822.2 1154L1820 1153.6L1817.8 1153.4L1815.5 1153.3L1813.3 1153L1811.2 1152.5L1809 1152L1806.8 1151.6L1804.7 1151.2L1802.5 1150.9L1800.4 1150.3L1798.3 1149.7L1796.2 1149L1794.1 1148.5L1792 1148.1L1789.9 1147.7L1787.8 1147.2L1785.8 1146.5L1783.7 1146L1781.6 1145.6L1779.5 1145.3L1777.5 1144.9L1775.5 1144.3L1773.5 1143.7L1771.5 1143.2L1769.5 1142.7L1767.4 1142.3L1765.5 1141.7L1763.6 1141L1761.7 1140.2L1759.8 1139.6L1757.8 1139L1755.9 1138.5L1754 1137.8L1752.2 1137.1L1750.3 1136.4L1748.5 1135.8L1746.6 1135.3L1744.7 1134.9L1742.8 1134.2L1741.1 1133.5L1739.3 1132.9L1737.4 1132.3L1735.6 1131.8L1733.8 1131.2L1732.1 1130.5L1730.4 1129.6L1728.8 1128.9L1727 1128.2L1725.3 1127.6L1723.7 1126.8L1722.1 1126L1720.5 1125.1L1718.9 1124.4L1717.2 1123.8L1715.5 1123.2L1713.9 1122.5L1712.4 1121.6L1710.9 1120.9L1709.3 1120.2L1707.6 1119.7L1706.1 1119L1704.6 1118.2L1703.1 1117.4L1701.7 1116.5L1700.2 1115.8L1698.8 1115.1L1697.3 1114.3L1696 1113.3L1694.7 1112.4L1693.4 1111.5L1692 1110.7L1690.6 1110L1689.3 1109.2L1688 1108.3L1686.8 1107.5L1685.4 1106.7L1684.1 1106L1682.7 1105.3L1681.5 1104.5L1680.3 1103.6L1679.2 1102.7L1678 1101.9L1676.7 1101.1L1675.6 1100.3L1674.5 1099.3L1673.6 1098.3L1672.6 1097.3L1671.5 1096.4L1670.4 1095.6L1669.3 1094.7L1668.4 1093.8L1667.5 1092.8L1666.5 1091.9L1665.4 1091.1L1664.4 1090.3L1663.4 1089.5L1662.5 1088.5L1661.7 1087.6L1660.8 1086.7L1659.8 1085.9L1658.9 1085L1658.1 1084L1657.5 1083L1656.8 1081.9L1656.1 1081L1655.3 1080.1L1654.5 1079.2L1653.9 1078.1L1653.4 1077.1L1652.8 1076.1L1652.1 1075.2L1651.3 1074.3L1650.7 1073.4L1650.1 1072.4L1649.6 1071.4L1649.1 1070.5L1648.4 1069.6L1647.7 1068.7L1647.2 1067.7L1646.9 1066.7L1646.6 1065.6L1646.2 1064.6L1645.7 1063.7L1645.3 1062.7L1645.1 1061.7L1644.9 1060.6L1644.7 1059.6L1644.4 1058.6L1644 1057.7L1643.7 1056.7L1643.5 1055.7L1643.4 1054.7L1643.2 1053.7L1642.9 1052.7L1642.5 1051.8L1642.3 1050.8L1642.3 1049.8L1642.3 1048.8L1642.3 1047.8L1642.2 1046.8L1642.1 1045.8L1642.2 1044.8L1642.4 1043.8L1642.6 1042.8L1642.7 1041.8L1642.6 1040.8L1642.6 1039.8L1642.8 1038.8L1643.1 1037.9L1643.3 1036.9L1643.3 1035.9L1643.3 1034.9L1643.4 1033.9L1643.6 1032.9L1644 1031.9L1644.3 1031L1644.4 1029.9L1644.6 1028.9L1645 1027.9L1645.5 1027L1646 1026.1L1646.5 1025.2L1646.9 1024.2L1647.3 1023.2L1647.8 1022.3L1648.4 1021.4L1649 1020.5L1649.5 1019.6L1649.9 1018.5L1650.3 1017.5L1650.9 1016.6L1651.5 1015.7L1652.2 1014.8L1652.7 1013.8L1653.2 1012.7L1653.8 1011.8L1654.6 1010.9L1655.5 1010.1L1656.3 1009.3L1657 1008.3L1657.7 1007.4L1658.5 1006.5L1659.5 1005.7L1660.4 1005L1661.3 1004.1L1662.1 1003.1L1662.8 1002.2L1663.7 1001.3L1664.7 1000.4L1665.7 999.6L1666.5 998.7L1667.4 997.7L1668.3 996.7L1669.3 995.9L1670.4 995.1L1671.5 994.3L1672.5 993.5L1673.6 992.6L1674.7 991.7L1675.9 991L1677.1 990.4L1678.3 989.7L1679.5 988.8L1680.6 987.9L1681.8 987.1L1683 986.3L1684.3 985.6L1685.5 984.8L1686.7 983.8L1687.8 982.9L1689.1 982L1690.5 981.3L1691.8 980.6L1693.2 979.8L1694.5 978.9L1695.8 978.1L1697.3 977.5L1698.8 976.9L1700.2 976.3L1701.7 975.5L1703.1 974.7L1704.6 974L1706.1 973.4L1707.6 972.8L1709.2 972.1L1710.6 971.2L1712.1 970.3L1713.6 969.5L1715.2 968.9L1716.8 968.3L1718.4 967.5L1720 966.7L1721.6 965.9L1723.2 965.3L1725 964.8L1726.7 964.3L1728.4 963.7L1730.1 963L1731.8 962.3L1733.5 961.8L1735.3 961.3L1737.1 960.8L1738.9 960.1L1740.6 959.3L1742.4 958.6L1744.2 958L1746 957.5L1747.8 956.9L1749.6 956.1L1751.5 955.4L1753.3 954.8L1755.2 954.4L1757.2 953.9L1759.1 953.4L1761 952.8L1762.9 952.2L1764.9 951.8L1766.9 951.5L1768.9 951.1L1770.9 950.6L1772.8 949.9L1774.8 949.3L1776.8 948.9L1778.8 948.5L1780.9 948L1782.9 947.4L1784.9 946.7L1786.9 946.2L1789 945.8L1791.1 945.4L1793.2 945L1795.3 944.5L1797.4 944L1799.5 943.6L1801.7 943.4L1803.8 943.2L1806 942.8L1808.1 942.3L1810.3 941.9L1812.4 941.5L1814.6 941.3L1816.8 941L1819 940.5L1821.2 940L1823.4 939.5L1825.6 939.1L1827.8 938.9L1830.1 938.6L1832.3 938.2L1834.5 937.7L1836.8 937.4L1839 937.3L1841.3 937.2L1843.6 937L1845.9 936.7L1848.1 936.3L1850.4 936.1L1852.7 936L1855.1 935.9L1857.4 935.6L1859.6 935.2L1861.9 934.8L1864.3 934.6L1866.6 934.5L1868.9 934.3L1871.2 934L1873.6 933.6L1875.9 933.4L1878.3 933.3L1880.6 933.3L1883 933.2L1885.3 933.1L1887.7 932.8L1890 932.7L1892.4 932.8L1894.8 932.9L1897.2 932.9L1899.5 932.7L1901.9 932.5L1904.3 932.5L1906.7 932.5L1909 932.5L1911.4 932.4L1913.8 932.2L1916.2 932.1L1918.6 932.1L1921 932.3L1923.3 932.4L1925.7 932.4L1928.1 932.3L1930.5 932.4L1932.9 932.6L1935.3 932.9L1937.6 933L1940 933.1L1942.4 933L1944.8 933.1L1947.2 933.3L1949.6 933.5L1951.9 933.6L1954.3 933.5L1956.7 933.4L1959.1 933.5L1961.4 933.8L1963.8 934.1L1966.2 934.2L1968.6 934.3L1970.9 934.4L1973.3 934.7L1975.6 935.2L1977.9 935.5L1980.3 935.8L1982.6 935.9L1985 936.1L1987.3 936.5L1989.6 936.9L1991.9 937.2L1994.3 937.3L1996.6 937.4L1998.9 937.7L2001.2 938.1L2003.5 938.7L2005.8 939.1L2008.1 939.3L2010.4 939.7L2012.6 940.2L2014.9 940.8L2017.1 941.5L2019.3 942L2021.6 942.4L2023.8 943.1L2025.9 943.8L2028.1 944.7L2030.3 945.5L2030.3 945.5L2028 945.4L2025.7 945.3L2023.5 945.2L2021.2 945.3L2018.9 945.3L2016.6 945.1L2014.4 944.9L2012.1 944.6L2009.8 944.5L2007.5 944.5L2005.2 944.6L2002.9 944.6L2000.6 944.5L1998.3 944.4L1995.9 944.4L1993.6 944.4L1991.3 944.4L1989 944.2L1986.7 944L1984.4 943.7L1982 943.6L1979.7 943.6L1977.4 943.5L1975.1 943.2L1972.7 942.9L1970.4 942.7L1968.1 942.7L1965.7 942.8L1963.4 942.7L1961 942.6L1958.7 942.5L1956.3 942.5L1954 942.6L1951.6 942.7L1949.3 942.7L1946.9 942.6L1944.6 942.5L1942.2 942.5L1939.8 942.6L1937.5 942.7L1935.1 942.6L1932.8 942.4L1930.4 942.2L1928.1 942.2L1925.7 942.4L1923.4 942.4L1921 942.4L1918.7 942.3L1916.3 942.4L1914 942.6L1911.6 942.9L1909.3 943L1906.9 943.1L1904.6 943.1L1902.2 943.2L1899.9 943.5L1897.6 943.7L1895.2 943.8L1892.9 943.8L1890.6 943.7L1888.2 943.8L1885.9 943.9L1883.6 944.1L1881.3 944.1L1878.9 944.1L1876.6 944.1L1874.3 944.3L1872 944.7L1869.7 944.9L1867.4 945.1L1865.1 945.2L1862.9 945.4L1860.6 945.7L1858.3 946.1L1856.1 946.3L1853.8 946.4L1851.5 946.5L1849.3 946.6L1847 946.9L1844.8 947.2L1842.5 947.4L1840.3 947.4L1838 947.5L1835.8 947.8L1833.6 948.2L1831.4 948.6L1829.2 948.9L1827 949.1L1824.8 949.4L1822.7 949.8L1820.5 950.4L1818.4 950.8L1816.2 951.1L1814.1 951.3L1811.9 951.6L1809.8 952L1807.7 952.4L1805.6 952.7L1803.4 952.9L1801.3 953.1L1799.2 953.4L1797.1 953.9L1795.1 954.4L1793 954.8L1791 955.1L1788.9 955.4L1786.9 956L1784.9 956.6L1783 957.2L1781 957.6L1779 958L1777 958.4L1775 959L1773.1 959.6L1771.2 960.1L1769.2 960.4L1767.2 960.7L1765.3 961.1L1763.4 961.7L1761.5 962.2L1759.7 962.7L1757.8 963.1L1755.9 963.5L1754 964.1L1752.3 964.8L1750.5 965.5L1748.7 966.1L1746.9 966.6L1745.1 967.1L1743.4 967.8L1741.7 968.5L1740 969.2L1738.3 969.7L1736.5 970.1L1734.8 970.6L1733.1 971.2L1731.4 971.9L1729.8 972.4L1728.1 972.9L1726.4 973.4L1724.8 974L1723.2 974.7L1721.7 975.5L1720.2 976.2L1718.6 976.8L1717 977.4L1715.5 978.1L1714.1 978.9L1712.7 979.7L1711.2 980.4L1709.7 981L1708.2 981.5L1706.8 982.2L1705.4 983L1704 983.7L1702.6 984.3L1701.1 984.8L1699.7 985.4L1698.4 986.1L1697.1 987L1695.9 987.7L1694.6 988.4L1693.2 989L1692 989.8L1690.9 990.7L1689.8 991.6L1688.6 992.4L1687.4 993.1L1686.2 993.7L1685 994.5L1684 995.4L1682.9 996.2L1681.8 996.9L1680.6 997.5L1679.4 998.1L1678.4 998.9L1677.4 999.7L1676.4 1000.5L1675.4 1001.3L1674.3 1001.9L1673.4 1002.7L1672.5 1003.6L1671.8 1004.6L1670.9 1005.4L1670 1006.2L1669.1 1007L1668.3 1007.8L1667.6 1008.7L1666.9 1009.6L1666.1 1010.4L1665.2 1011L1664.3 1011.7L1663.6 1012.5L1662.9 1013.4L1662.3 1014.2L1661.5 1015L1660.7 1015.7L1660 1016.4L1659.5 1017.3L1659 1018.2L1658.5 1019.1L1658 1019.9L1657.4 1020.7L1656.9 1021.6L1656.5 1022.5L1656.2 1023.4L1655.8 1024.2L1655.2 1025L1654.7 1025.7L1654.2 1026.5L1653.9 1027.4L1653.5 1028.2L1653.1 1029L1652.6 1029.8L1652.1 1030.6L1651.8 1031.4L1651.7 1032.3L1651.5 1033.1L1651.3 1034L1651 1034.8L1650.8 1035.6L1650.7 1036.4L1650.7 1037.3L1650.7 1038.1L1650.5 1039L1650.3 1039.8L1650.1 1040.6L1650.1 1041.4L1650.2 1042.2L1650.1 1043.1L1649.9 1043.9L1649.7 1044.7L1649.7 1045.6L1649.8 1046.4L1650 1047.2L1650.1 1048L1650.1 1048.9L1650.1 1049.7L1650.4 1050.5L1650.7 1051.3L1651.1 1052.1L1651.3 1052.9L1651.4 1053.7L1651.6 1054.6L1652 1055.4L1652.4 1056.1L1652.7 1056.9L1652.9 1057.8L1653 1058.7L1653.2 1059.6L1653.6 1060.4L1654.1 1061.1L1654.5 1062L1654.8 1062.8L1655.1 1063.7L1655.6 1064.5L1656.2 1065.3L1656.8 1066L1657.4 1066.8L1657.9 1067.6L1658.4 1068.5L1659 1069.2L1659.7 1069.9L1660.4 1070.7L1661 1071.5L1661.5 1072.4L1662 1073.3L1662.7 1074.1L1663.5 1074.9L1664.2 1075.7L1664.8 1076.6L1665.4 1077.5L1666.1 1078.3L1667 1079.1L1667.9 1079.8L1668.8 1080.5L1669.6 1081.3L1670.4 1082.2L1671.3 1082.9L1672.3 1083.6L1673.3 1084.2L1674.3 1085L1675.1 1085.9L1676 1086.7L1677 1087.5L1678.1 1088.2L1679.1 1089L1680 1089.8L1681 1090.8L1682 1091.6L1683.1 1092.4L1684.3 1093L1685.4 1093.7L1686.5 1094.5L1687.6 1095.4L1688.8 1096.1L1690.1 1096.7L1691.4 1097.3L1692.7 1097.9L1693.9 1098.8L1695.1 1099.6L1696.3 1100.3L1697.7 1100.9L1699 1101.6L1700.3 1102.4L1701.5 1103.3L1702.8 1104.1L1704.2 1104.9L1705.6 1105.5L1707 1106.1L1708.4 1106.9L1709.8 1107.7L1711.2 1108.5L1712.7 1109L1714.3 1109.5L1715.9 1110.1L1717.3 1110.8L1718.8 1111.5L1720.4 1112.2L1722 1112.7L1723.6 1113.2L1725.2 1113.9L1726.7 1114.7L1728.3 1115.5L1729.9 1116.2L1731.5 1116.8L1733.2 1117.3L1734.9 1118.1L1736.5 1118.8L1738.1 1119.5L1739.9 1120.1L1741.7 1120.5L1743.4 1121L1745.2 1121.6L1746.9 1122.2L1748.7 1122.8L1750.5 1123.2L1752.4 1123.6L1754.2 1124.1L1756 1124.8L1757.8 1125.5L1759.7 1126.1L1761.5 1126.6L1763.4 1127.1L1765.3 1127.7L1767.1 1128.4L1769 1129L1770.9 1129.6L1772.9 1129.9L1774.9 1130.3L1776.8 1130.8L1778.8 1131.4L1780.7 1131.9L1782.8 1132.2L1784.8 1132.5L1786.8 1132.8L1788.9 1133.3L1790.9 1133.9L1792.9 1134.4L1794.9 1134.8L1797 1135.1L1799.1 1135.6L1801.1 1136.2L1803.2 1136.8L1805.2 1137.2L1807.4 1137.6L1809.5 1137.9L1811.6 1138.3L1813.7 1138.8L1815.8 1139.3L1818 1139.6L1820.2 1139.8L1822.3 1140L1824.5 1140.4L1826.7 1140.8L1828.8 1141.2L1831 1141.5L1833.2 1141.7L1835.5 1142L1837.6 1142.5L1839.8 1143L1842 1143.5L1844.3 1143.7L1846.5 1144L1848.7 1144.3L1851 1144.7L1853.2 1145.1L1855.5 1145.4L1857.7 1145.5L1860 1145.6L1862.3 1145.8L1864.6 1146.1L1866.9 1146.4L1869.1 1146.6L1871.5 1146.6L1873.8 1146.7L1876.1 1147L1878.3 1147.4L1880.6 1147.7L1882.9 1147.9L1885.3 1148L1887.6 1148.2L1889.9 1148.5L1892.2 1148.9L1894.5 1149.1L1896.9 1149.2L1899.2 1149.1L1901.6 1149.2L1903.9 1149.4L1906.2 1149.6L1908.6 1149.6L1910.9 1149.5L1913.3 1149.5L1915.6 1149.5L1918 1149.7L1920.3 1149.9L1922.6 1150L1925 1150L1927.3 1150L1929.7 1150.2L1932 1150.4L1934.4 1150.6L1936.7 1150.5L1939.1 1150.4L1941.4 1150.4L1943.8 1150.4L1946.1 1150.5L1948.5 1150.4L1950.8 1150.2L1953.2 1150L1955.5 1149.9L1957.9 1149.9L1960.2 1149.9L1962.5 1149.8L1964.9 1149.6L1967.2 1149.5L1969.5 1149.5L1971.9 1149.6L1974.2 1149.6L1976.5 1149.5L1978.8 1149.3L1981.2 1149.2L1983.5 1149.1L1985.8 1149.1L1988.1 1149L1990.4 1148.7L1992.7 1148.3L1995 1148L1997.3 1147.9L1999.5 1147.8L2001.8 1147.5L2004.1 1147.2L2006.3 1146.9L2008.6 1146.7L2010.9 1146.6L2013.1 1146.5L2015.4 1146.4L2017.6 1146.1L2019.9 1145.7L2022.1 1145.6L2024.3 1145.5L2026.6 1145.3L2028.8 1145L2031 1144.5L2033.1 1144.1L2035.3 1143.8L2037.5 1143.5L2039.7 1143.2L2041.8 1142.8L2044 1142.2L2046.1 1141.8L2048.3 1141.6L2050.4 1141.4L2052.6 1141.1L2054.7 1140.7L2056.8 1140.3L2058.9 1139.9L2061 1139.7L2063.1 1139.5L2065.2 1139.1L2067.2 1138.6L2069.3 1138.1L2071.3 1137.6L2073.3 1137.3L2075.4 1136.9L2077.4 1136.3L2079.3 1135.7L2081.3 1135.1L2083.3 1134.7L2085.3 1134.3L2087.3 1133.9L2089.2 1133.4L2091.1 1132.8L2093 1132.4L2095 1132.1L2097 1131.8L2098.9 1131.4L2100.8 1130.8L2102.6 1130.2L2104.5 1129.7L2106.3 1129.3L2108.2 1128.9L2110 1128.3L2111.8 1127.6L2113.5 1126.9L2115.3 1126.3L2117.1 1125.9L2118.9 1125.4L2120.6 1124.7L2122.3 1124L2124 1123.4L2125.8 1123L2127.5 1122.6L2129.3 1122.1L2130.9 1121.5L2132.6 1120.9L2134.2 1120.3L2135.9 1119.8L2137.5 1119.3L2139.1 1118.7L2140.7 1117.9L2142.2 1117.1L2143.7 1116.4L2145.3 1115.9L2146.8 1115.3L2148.3 1114.6L2149.7 1113.7L2151.1 1113L2152.6 1112.4L2154.2 1111.9L2155.6 1111.3L2157.1 1110.7L2158.4 1109.9L2159.8 1109.2L2161.3 1108.7L2162.7 1108.2L2164.1 1107.5L2165.3 1106.7L2166.6 1105.9L2167.8 1105.1L2169.1 1104.5L2170.4 1103.8L2171.6 1103L2172.8 1102.2L2173.9 1101.3L2175 1100.5L2176.3 1099.9L2177.5 1099.3L2178.6 1098.5L2179.7 1097.7L2180.8 1097L2182 1096.3L2183.1 1095.7L2184.3 1095.1L2185.3 1094.3L2186.2 1093.4L2187.2 1092.6L2188.2 1091.9L2189.3 1091.2L2190.2 1090.5L2191 1089.6L2191.8 1088.6L2192.7 1087.8L2193.6 1087.1L2194.5 1086.4L2195.4 1085.6L2196.1 1084.8L2196.9 1083.9L2197.7 1083.2L2198.6 1082.5L2199.5 1081.9L2200.3 1081.1L2201 1080.2L2201.6 1079.4L2202.4 1078.7L2203.1 1077.9L2203.8 1077.2L2204.4 1076.3L2204.8 1075.4L2205.3 1074.5L2205.9 1073.7L2206.5 1072.9L2207.1 1072.1L2207.5 1071.2L2208 1070.4L2208.6 1069.7L2209.4 1069L2210.2 1068.3L2210.8 1067.6L2211.4 1066.8L2211.9 1066L2212.5 1065.3L2213.2 1064.5L2213.9 1063.8L2214.3 1062.9L2214.6 1062.1L2215 1061.2L2215.4 1060.4L2215.9 1059.5ZM2001.8 941.2L2002.8 940.3L2003.8 939.6L2004.8 939.1L2005.8 938.9L2006.7 939L2007.6 939.4L2008.4 940.1L2009.3 941.1L2010.1 942.1L2010 942.3L2009 943.1L2008 943.9L2007 944.4L2006.1 944.6L2005.2 944.5L2004.3 944.1L2003.4 943.4L2002.6 942.4L2001.8 941.4ZM2011.3 941.7L2012.5 941.1L2013.6 940.7L2014.8 940.3L2015.9 940.2L2016.9 940.4L2018 940.8L2019 941.4L2020 942.1L2021 942.9L2020.9 943.1L2019.8 943.7L2018.6 944.1L2017.5 944.5L2016.4 944.6L2015.3 944.4L2014.3 944L2013.3 943.5L2012.3 942.7L2011.3 941.9ZM2022.6 943.7L2023.5 942.7L2024.3 941.9L2025.1 941.3L2025.9 941L2026.6 941.1L2027.3 941.6L2027.9 942.4L2028.5 943.4L2029 944.6L2029 944.8L2028.1 945.7L2027.3 946.5L2026.5 947.1L2025.7 947.4L2025 947.3L2024.4 946.8L2023.7 946L2023.2 945L2022.6 943.9ZM2030.1 946L2031.7 945.7L2033.3 945.4L2034.8 945.3L2036.3 945.3L2037.8 945.6L2039.2 946L2040.6 946.6L2042 947.3L2043.4 948.1L2043.3 948.3L2041.8 948.7L2040.3 948.9L2038.7 949L2037.2 949L2035.8 948.7L2034.3 948.3L2032.9 947.7L2031.5 947L2030.1 946.2ZM2045.6 948.7L2047.1 948.3L2048.7 948L2050.1 947.9L2051.6 947.9L2053 948.2L2054.4 948.7L2055.7 949.3L2057 950.2L2058.2 951.1L2058.2 951.2L2056.7 951.6L2055.2 951.9L2053.7 952L2052.3 952L2050.9 951.7L2049.5 951.2L2048.2 950.6L2046.9 949.8L2045.6 948.9ZM2061.4 950.3L2062.3 949.7L2063.1 949.2L2064 948.9L2064.7 948.8L2065.5 949L2066.1 949.4L2066.8 950L2067.4 950.8L2067.9 951.6L2067.9 951.8L2067 952.4L2066.2 952.8L2065.3 953.1L2064.6 953.2L2063.8 953.1L2063.2 952.7L2062.5 952.1L2061.9 951.3L2061.4 950.4ZM2071 951.5L2072 951.4L2073 951.4L2074 951.4L2074.9 951.5L2075.9 951.7L2076.8 952L2077.6 952.4L2078.5 952.9L2079.3 953.5L2079.3 953.7L2078.3 953.8L2077.3 953.8L2076.3 953.8L2075.4 953.7L2074.5 953.5L2073.6 953.2L2072.7 952.8L2071.8 952.3L2071 951.7ZM2081.8 956.9L2083.3 956.8L2084.8 956.7L2086.3 956.7L2087.7 956.9L2089.1 957.3L2090.4 957.8L2091.7 958.5L2092.9 959.3L2094.1 960.1L2094.1 960.3L2092.6 960.4L2091.1 960.4L2089.7 960.4L2088.3 960.2L2087 959.8L2085.6 959.3L2084.3 958.7L2083.1 957.9L2081.8 957.1ZM2098 959.6L2098.7 959.5L2099.4 959.4L2100 959.4L2100.7 959.4L2101.3 959.6L2101.8 959.9L2102.3 960.3L2102.8 960.7L2103.3 961.2L2103.3 961.4L2102.6 961.5L2101.9 961.6L2101.3 961.7L2100.7 961.6L2100.1 961.4L2099.5 961.1L2099 960.8L2098.5 960.3L2098 959.8ZM2105.8 962.7L2107 962.8L2108.3 962.9L2109.5 963.1L2110.7 963.4L2111.9 963.8L2113 964.3L2114.1 964.8L2115.2 965.4L2116.3 966L2116.2 966.2L2115 966.1L2113.8 965.9L2112.6 965.7L2111.4 965.4L2110.2 965.1L2109.1 964.6L2107.9 964.1L2106.8 963.5L2105.7 962.9ZM2116.9 966.8L2118.2 967L2119.5 967.3L2120.8 967.6L2122 968L2123.2 968.4L2124.4 968.9L2125.6 969.5L2126.7 970.1L2127.9 970.7L2127.8 970.9L2126.6 970.6L2125.3 970.3L2124.1 969.9L2122.8 969.6L2121.6 969.1L2120.4 968.7L2119.2 968.1L2118 967.6L2116.9 967Z" fill="#faecbc"/><path d="M1730.1 970.7L1731.4 970.1L1732.8 969.4L1734.1 968.8L1735.5 968.3L1737 967.7L1738.4 967.2L1739.9 966.7L1741.4 966.3L1742.9 965.9L1744.4 965.5L1745.9 965.2L1745.9 965.2L1744.5 965.8L1743 966.4L1741.6 967L1740.2 967.6L1738.7 968.1L1737.3 968.6L1735.8 969.1L1734.4 969.5L1732.9 969.9L1731.5 970.3L1730.1 970.7ZM1953.5 940.9L1955.4 940.9L1957.4 940.8L1959.3 940.9L1961.2 940.9L1963.2 941L1965.1 941.1L1967 941.2L1968.9 941.4L1970.9 941.6L1972.8 941.8L1974.7 942L1974.7 942L1972.8 942L1970.8 941.9L1968.9 941.9L1967 941.8L1965.1 941.8L1963.1 941.7L1961.2 941.5L1959.3 941.4L1957.4 941.2L1955.4 941.1L1953.5 940.9ZM1817.5 948.4L1819.2 947.9L1821 947.5L1822.8 947.1L1824.7 946.7L1826.5 946.4L1828.3 946.1L1830.2 945.9L1832 945.8L1833.9 945.6L1835.8 945.6L1837.7 945.5L1837.7 945.5L1835.8 945.9L1834 946.3L1832.2 946.7L1830.3 947L1828.5 947.3L1826.7 947.6L1824.8 947.8L1823 948L1821.1 948.1L1819.3 948.2L1817.5 948.4ZM1752.5 962.2L1755 961.2L1757.5 960.3L1760.1 959.4L1762.7 958.6L1765.3 957.8L1768 957.1L1770.7 956.5L1773.4 955.9L1776.2 955.4L1779 954.9L1781.8 954.4L1781.8 954.4L1779.1 955.3L1776.4 956.1L1773.7 956.9L1771 957.7L1768.3 958.5L1765.7 959.2L1763 959.8L1760.4 960.4L1757.7 961L1755.1 961.6L1752.5 962.2ZM1756.1 962.5L1759.1 961.4L1762.2 960.4L1765.3 959.4L1768.5 958.4L1771.8 957.5L1775 956.7L1778.3 956L1781.7 955.3L1785.1 954.7L1788.5 954.1L1792 953.6L1792 953.6L1788.6 954.5L1785.3 955.4L1781.9 956.3L1778.6 957.2L1775.3 958L1772.1 958.8L1768.8 959.6L1765.6 960.3L1762.4 961.1L1759.2 961.8L1756.1 962.5ZM1838.7 945.8L1841.3 945.3L1843.9 944.8L1846.6 944.3L1849.2 943.9L1851.9 943.6L1854.6 943.3L1857.2 943.1L1859.9 943L1862.6 942.9L1865.4 942.8L1868.1 942.8L1868.1 942.8L1865.4 943.2L1862.7 943.6L1860 944L1857.4 944.4L1854.7 944.7L1852 944.9L1849.4 945.2L1846.7 945.3L1844 945.5L1841.4 945.6L1838.7 945.8ZM1841.3 946.1L1844.6 945.6L1848 945.1L1851.3 944.7L1854.7 944.2L1858.1 943.9L1861.4 943.6L1864.8 943.3L1868.3 943.1L1871.7 942.9L1875.1 942.8L1878.6 942.7L1878.6 942.7L1875.1 943.1L1871.7 943.4L1868.3 943.8L1864.9 944.1L1861.5 944.4L1858.1 944.8L1854.8 945L1851.4 945.3L1848 945.6L1844.7 945.8L1841.3 946.1ZM1855.6 944.3L1857.9 944L1860.3 943.7L1862.6 943.4L1864.9 943.1L1867.3 942.9L1869.7 942.7L1872 942.6L1874.4 942.5L1876.8 942.4L1879.1 942.3L1881.5 942.3L1881.5 942.3L1879.2 942.6L1876.8 942.8L1874.4 943.1L1872.1 943.3L1869.7 943.5L1867.4 943.7L1865 943.9L1862.7 944L1860.3 944.1L1858 944.2L1855.6 944.3ZM1676.4 998.1L1677.3 997.1L1678.3 996.2L1679.3 995.2L1680.4 994.3L1681.6 993.5L1682.7 992.7L1684 991.9L1685.2 991.2L1686.5 990.5L1687.9 989.9L1689.3 989.2L1689.3 989.2L1688.1 990.2L1686.9 991.1L1685.8 992L1684.6 992.9L1683.5 993.8L1682.3 994.6L1681.1 995.3L1680 996.1L1678.8 996.8L1677.6 997.4L1676.4 998.1ZM1646.3 1063.5L1645.8 1062.4L1645.2 1061.4L1644.7 1060.3L1644.3 1059.2L1644 1058L1643.7 1056.9L1643.5 1055.7L1643.3 1054.6L1643.2 1053.4L1643.2 1053.4L1643.6 1054.5L1644 1055.6L1644.3 1056.7L1644.7 1057.8L1645 1058.9L1645.4 1060L1645.7 1061.2L1646 1062.3L1646.3 1063.5ZM1660 1071.3L1659.2 1070.5L1658.5 1069.7L1657.8 1068.8L1657.2 1067.9L1656.6 1067L1656.1 1066L1655.7 1065L1655.4 1064.1L1655 1063.1L1655 1063.1L1655.6 1063.9L1656.3 1064.8L1656.9 1065.6L1657.4 1066.5L1658 1067.4L1658.5 1068.3L1659 1069.3L1659.5 1070.3L1660 1071.3ZM1649.4 1042.5L1649.3 1042L1649.1 1041.6L1649.1 1041.1L1649.1 1040.6L1649.1 1040.2L1649.2 1039.7L1649.4 1039.3L1649.6 1038.9L1649.8 1038.4L1649.8 1038.4L1649.9 1038.9L1650 1039.4L1650.1 1039.8L1650.1 1040.3L1650 1040.7L1649.9 1041.2L1649.8 1041.6L1649.6 1042L1649.4 1042.5ZM2079 1136.8L2076.8 1137.5L2074.5 1138.2L2072.2 1138.8L2069.9 1139.3L2067.5 1139.8L2065.2 1140.2L2062.8 1140.6L2060.3 1140.8L2057.9 1141.1L2057.9 1141.1L2060.3 1140.5L2062.6 1139.8L2065 1139.2L2067.3 1138.7L2069.6 1138.2L2072 1137.8L2074.3 1137.5L2076.7 1137.1L2079 1136.8ZM1854.7 1145.5L1852.1 1145.3L1849.6 1145.1L1847.1 1144.8L1844.6 1144.6L1842.1 1144.2L1839.6 1143.8L1837.1 1143.4L1834.6 1142.9L1832.2 1142.4L1832.2 1142.4L1834.7 1142.7L1837.2 1142.9L1839.7 1143.2L1842.2 1143.5L1844.7 1143.9L1847.2 1144.2L1849.7 1144.6L1852.2 1145L1854.7 1145.5ZM1719.7 1112.7L1718.1 1112.1L1716.5 1111.5L1714.9 1110.8L1713.3 1110.1L1711.8 1109.4L1710.3 1108.6L1708.8 1107.8L1707.4 1107L1706 1106.1L1706 1106.1L1707.5 1106.7L1709 1107.4L1710.5 1108.1L1712.1 1108.8L1713.6 1109.5L1715.1 1110.3L1716.6 1111.1L1718.2 1111.9L1719.7 1112.7Z" fill="#fff"/><path d="M2119.9 965.9L2125 967.7M2128.8 972.2L2133.5 974.1M2146.6 977.7L2155 981.7M2162.5 984L2168.6 987.4M2176.7 992.2L2181.2 995.3M2182.6 1000L2188.5 1004.6M2193.1 1004.6L2197.9 1009.1M2203.9 1014.1L2206.8 1017.7" fill="none" stroke="#faecbc" stroke-width="1.3" stroke-linecap="round"/><path d="M1746.1 1017.5C1744.6 1016.7 1739.6 1013.4 1736.8 1012.9C1734.1 1012.4 1731.6 1012.9 1729.4 1014.8C1727.3 1016.7 1725.2 1019.4 1723.8 1024.1C1722.4 1028.8 1722 1035.7 1721 1042.7C1720.1 1049.7 1718.2 1060.2 1718.2 1066C1718.2 1071.8 1719.3 1075.5 1721 1077.2C1722.7 1078.9 1725 1078.5 1728.4 1076.2C1731.9 1073.9 1737.3 1068.8 1741.5 1063.2C1745.7 1057.6 1751.6 1046.1 1753.6 1042.7M1773.1 1034.3C1772.5 1037.2 1770.1 1045.9 1769.4 1052C1768.8 1058.1 1768 1066.4 1769.4 1070.7C1770.8 1075 1774.7 1077.6 1777.8 1077.6C1781 1077.6 1785.5 1074 1788.1 1070.7C1790.8 1067.4 1792.9 1061.6 1793.6 1057.6C1794.4 1053.5 1794 1049.4 1792.7 1046.4C1791.5 1043.5 1788.3 1041.1 1786.2 1039.9C1784.2 1038.7 1781.6 1039.2 1780.6 1039M1809.7 1032.8L1813 1077.3M1813 1077.3L1830.6 1030.8M1830.6 1030.8L1837.2 1075.8M1837.2 1075.8L1850.5 1030.8M1850.5 1030.8L1862.2 1077.8M1879.7 1032.8L1883 1077.3M1883 1077.3L1900.6 1030.8M1900.6 1030.8L1907.2 1075.8M1907.2 1075.8L1920.5 1030.8M1920.5 1030.8L1932.2 1077.8M1941.3 1056.4C1942.5 1055.9 1944.5 1055.6 1948.3 1053.4C1952.2 1051.2 1961.3 1045.7 1964.5 1043.3C1967.8 1040.9 1968.2 1041 1967.5 1039.3C1966.9 1037.6 1962.6 1033.2 1960.4 1033.2C1958.3 1033.2 1956.5 1035.2 1954.4 1039.3C1952.4 1043.3 1949.7 1051.8 1948.3 1057.5C1947 1063.2 1945.8 1070.2 1946.3 1073.6C1946.9 1076.9 1948.4 1078.6 1951.4 1077.6C1954.5 1076.6 1959.3 1072.2 1964.5 1067.5C1969.8 1062.8 1979.6 1052.4 1982.6 1049.4M1997.8 1028.2C1997.8 1032.3 1997.7 1044.6 1997.6 1052.8C1997.6 1061 1997.4 1073.5 1997.3 1077.6M1997.3 1077.6C1998.8 1073.5 2003.3 1060.9 2006.2 1052.8C2009.2 1044.7 2013.5 1033.1 2014.9 1029.2M2014.9 1029.2C2016.1 1030.5 2020 1031.8 2022 1037.3C2024.1 1042.8 2025.6 1055.8 2027.1 1062.5C2028.7 1069.2 2030.5 1075.1 2031.1 1077.6M2054.3 997.9C2054.5 1002.8 2054.8 1017.3 2055.3 1027.2C2055.8 1037.1 2056.6 1049.1 2057.3 1057.5C2058.1 1065.9 2059.5 1074.2 2059.9 1077.6M2044.2 1045.3C2046.9 1044.1 2053.9 1041 2060.4 1038.3C2067 1035.6 2079.8 1030.7 2083.6 1029.2M2145.5 1016.3C2145.1 1021.8 2143.4 1038.6 2143 1048.8C2142.7 1059.1 2143.6 1072.8 2143.7 1077.6" fill="none" stroke="#faecbc" stroke-width="9.2" stroke-linecap="round" stroke-linejoin="round"/><path d="M2392.3 693.5L2392.2 694.5L2392.3 695.5L2392.4 696.5L2392.3 697.5L2392.1 698.4L2391.7 699.4L2391.5 700.3L2391.4 701.4L2391.2 702.4L2391 703.4L2390.6 704.4L2390.3 705.3L2390 706.4L2389.9 707.5L2389.6 708.6L2389.2 709.6L2388.6 710.5L2388 711.4L2387.5 712.4L2387 713.5L2386.5 714.4L2385.8 715.3L2385 716.2L2384.2 717L2383.6 718L2382.9 718.9L2382.2 719.9L2381.3 720.7L2380.4 721.5L2379.6 722.4L2378.9 723.4L2378.2 724.4L2377.4 725.3L2376.4 726.2L2375.5 727L2374.7 728L2373.9 729L2373.1 730L2372.1 730.9L2371 731.7L2370 732.5L2369 733.4L2368 734.3L2366.9 735.2L2365.8 735.9L2364.5 736.6L2363.4 737.4L2362.3 738.2L2361.2 739.2L2360.1 740.1L2358.9 740.8L2357.6 741.6L2356.4 742.4L2355.3 743.4L2354.1 744.4L2352.9 745.2L2351.6 746L2350.2 746.7L2348.9 747.5L2347.7 748.4L2346.3 749.2L2344.9 749.9L2343.5 750.5L2342 751.1L2340.6 751.9L2339.2 752.7L2337.8 753.5L2336.3 754.2L2334.7 754.8L2333.2 755.5L2331.8 756.4L2330.4 757.3L2328.9 758.1L2327.3 758.8L2325.7 759.4L2324.1 760.2L2322.6 761L2321 761.8L2319.4 762.5L2317.7 763L2316 763.5L2314.3 764.1L2312.6 764.9L2311 765.6L2309.2 766.2L2307.5 766.6L2305.7 767.2L2304 767.9L2302.3 768.7L2300.5 769.5L2298.7 770.1L2296.9 770.6L2295.1 771.3L2293.3 772L2291.5 772.8L2289.7 773.4L2287.8 773.9L2285.9 774.3L2284 774.8L2282.1 775.5L2280.2 776.1L2278.2 776.6L2276.2 776.9L2274.3 777.3L2272.3 777.9L2270.4 778.5L2268.4 779.1L2266.4 779.6L2264.4 780L2262.3 780.5L2260.3 781.1L2258.4 781.8L2256.3 782.3L2254.3 782.8L2252.2 783.1L2250.1 783.5L2248 784L2245.9 784.5L2243.8 784.9L2241.6 785.1L2239.5 785.3L2237.3 785.7L2235.2 786.1L2233.1 786.6L2230.9 787L2228.7 787.2L2226.5 787.5L2224.4 788L2222.2 788.5L2220 789.1L2217.8 789.4L2215.6 789.6L2213.3 789.9L2211.1 790.3L2208.9 790.8L2206.7 791.1L2204.4 791.2L2202.1 791.3L2199.8 791.5L2197.6 791.8L2195.3 792.1L2193 792.4L2190.7 792.5L2188.4 792.6L2186.1 792.9L2183.8 793.3L2181.5 793.7L2179.2 793.9L2176.9 794.1L2174.6 794.2L2172.2 794.5L2169.9 794.9L2167.6 795.1L2165.2 795.2L2162.9 795.2L2160.5 795.2L2158.2 795.4L2155.8 795.6L2153.5 795.7L2151.1 795.7L2148.7 795.7L2146.4 795.7L2144 795.9L2141.6 796.2L2139.3 796.3L2136.9 796.3L2134.5 796.4L2132.1 796.5L2129.7 796.7L2127.4 797L2125 797L2122.6 796.9L2120.2 796.8L2117.8 796.8L2115.4 796.9L2113 796.9L2110.6 796.8L2108.2 796.6L2105.9 796.4L2103.5 796.5L2101.1 796.6L2098.7 796.6L2096.3 796.5L2093.9 796.4L2091.5 796.3L2089.1 796.4L2086.7 796.6L2084.3 796.6L2082 796.4L2079.6 796.2L2077.2 796.1L2074.8 796.1L2072.4 796.1L2070.1 795.9L2067.7 795.5L2065.4 795.2L2063 795.1L2060.6 795L2058.3 794.9L2055.9 794.6L2053.6 794.3L2051.2 794.1L2048.9 794.1L2046.5 794.1L2044.2 794L2041.8 793.7L2039.5 793.4L2037.2 793.2L2034.8 793.1L2032.5 793L2030.2 792.7L2027.9 792.3L2025.6 791.9L2023.4 791.5L2021.1 791.3L2018.8 791.1L2016.5 790.7L2014.3 790.2L2012 789.8L2009.7 789.6L2007.5 789.4L2005.2 789.2L2003 788.9L2000.7 788.5L1998.5 788.1L1996.3 787.9L1994 787.7L1991.8 787.4L1989.6 786.9L1987.5 786.4L1985.3 785.9L1983.1 785.6L1981 785.2L1978.8 784.7L1976.7 784L1974.7 783.4L1972.5 782.9L1970.4 782.6L1968.3 782.2L1966.2 781.7L1964.1 781.1L1962.1 780.6L1960 780.2L1957.9 779.9L1955.8 779.5L1953.8 779L1951.8 778.3L1949.8 777.7L1947.8 777.2L1945.7 776.8L1943.8 776.2L1941.9 775.4L1940 774.7L1938 774L1936.1 773.5L1934.1 773L1932.2 772.4L1930.4 771.7L1928.5 771L1926.6 770.5L1924.7 770.1L1922.8 769.6L1920.9 769L1919.1 768.3L1917.3 767.6L1915.5 767L1913.7 766.5L1911.9 765.9L1910.2 765.1L1908.5 764.2L1906.8 763.4L1905.1 762.8L1903.4 762.1L1901.7 761.4L1900.1 760.6L1898.4 759.8L1896.8 759.1L1895.1 758.5L1893.4 758L1891.8 757.3L1890.2 756.5L1888.7 755.7L1887.1 755.1L1885.4 754.5L1883.9 753.8L1882.4 753L1881 752.1L1879.5 751.2L1878.1 750.4L1876.6 749.7L1875.1 748.9L1873.8 748L1872.5 747.1L1871.1 746.2L1869.7 745.5L1868.2 744.9L1866.9 744.1L1865.6 743.3L1864.3 742.4L1863 741.6L1861.6 741L1860.2 740.3L1859 739.4L1857.8 738.5L1856.7 737.5L1855.5 736.7L1854.3 735.9L1853.1 735.1L1852 734.1L1851 733.1L1850 732.1L1848.9 731.2L1847.8 730.5L1846.7 729.6L1845.7 728.7L1844.7 727.7L1843.7 726.8L1842.6 726.1L1841.5 725.3L1840.5 724.5L1839.7 723.5L1838.8 722.5L1837.9 721.6L1837 720.8L1836.1 719.9L1835.3 718.9L1834.6 717.8L1834 716.8L1833.2 715.8L1832.4 715L1831.6 714.1L1831 713.1L1830.4 712L1829.7 711.1L1829 710.2L1828.2 709.3L1827.5 708.5L1826.9 707.5L1826.4 706.5L1825.8 705.5L1825.2 704.6L1824.5 703.7L1824 702.7L1823.7 701.6L1823.4 700.6L1823 699.6L1822.5 698.6L1822.1 697.7L1821.8 696.6L1821.6 695.6L1821.4 694.6L1821 693.6L1820.6 692.7L1820.2 691.7L1819.9 690.7L1819.8 689.7L1819.6 688.7L1819.2 687.7L1818.9 686.8L1818.7 685.8L1818.7 684.8L1818.7 683.7L1818.7 682.7L1818.6 681.8L1818.5 680.8L1818.6 679.8L1818.8 678.8L1819 677.8L1819 676.8L1818.9 675.8L1818.9 674.8L1818.9 673.8L1819.1 672.8L1819.3 671.9L1819.3 670.9L1819.3 669.8L1819.3 668.8L1819.6 667.8L1819.9 666.9L1820.3 665.9L1820.5 664.9L1820.7 663.9L1821 663L1821.5 662L1822.1 661.1L1822.5 660.2L1822.9 659.2L1823.2 658.2L1823.6 657.3L1824.2 656.4L1824.8 655.5L1825.2 654.5L1825.5 653.4L1825.9 652.4L1826.5 651.4L1827.1 650.6L1827.8 649.7L1828.3 648.7L1828.9 647.7L1829.5 646.7L1830.3 645.9L1831.1 645.1L1831.9 644.3L1832.6 643.3L1833.3 642.4L1834.1 641.5L1835 640.7L1835.9 639.9L1836.7 639L1837.5 638L1838.2 637L1839 636L1840 635.2L1840.9 634.4L1841.8 633.5L1842.7 632.5L1843.6 631.5L1844.6 630.7L1845.7 630L1846.8 629.3L1847.9 628.4L1848.9 627.5L1850 626.7L1851.1 626L1852.4 625.3L1853.5 624.5L1854.6 623.6L1855.7 622.7L1856.8 621.8L1858 621L1859.3 620.3L1860.5 619.4L1861.6 618.5L1862.8 617.6L1864.1 616.7L1865.4 616.1L1866.8 615.4L1868.1 614.6L1869.4 613.8L1870.8 613L1872.2 612.3L1873.7 611.8L1875.2 611.1L1876.6 610.4L1878 609.5L1879.4 608.7L1880.9 608L1882.4 607.4L1883.9 606.7L1885.3 605.8L1886.8 604.9L1888.3 604.1L1889.9 603.5L1891.5 602.9L1893.1 602.2L1894.7 601.4L1896.3 600.7L1897.9 600.1L1899.6 599.6L1901.4 599.1L1903 598.5L1904.7 597.7L1906.4 597L1908.1 596.4L1909.9 595.9L1911.7 595.4L1913.4 594.6L1915.1 593.8L1916.8 593.1L1918.6 592.5L1920.5 592L1922.3 591.4L1924.1 590.7L1925.9 590L1927.7 589.4L1929.7 589L1931.6 588.6L1933.5 588.1L1935.4 587.5L1937.3 586.9L1939.3 586.4L1941.3 586.1L1943.2 585.7L1945.2 585.1L1947.1 584.4L1949.1 583.8L1951.1 583.3L1953.1 582.8L1955.1 582.4L1957.1 581.8L1959.1 581.1L1961.1 580.6L1963.2 580.2L1965.3 579.9L1967.4 579.5L1969.5 579.1L1971.6 578.6L1973.7 578.2L1975.9 577.9L1978 577.7L1980.2 577.3L1982.3 576.8L1984.4 576.3L1986.6 575.9L1988.8 575.6L1990.9 575.2L1993.1 574.8L1995.3 574.2L1997.4 573.7L1999.7 573.4L2001.9 573.2L2004.1 572.9L2006.3 572.5L2008.6 572.1L2010.8 571.8L2013.1 571.7L2015.4 571.6L2017.6 571.4L2019.9 571.1L2022.2 570.7L2024.4 570.4L2026.7 570.2L2029 570.1L2031.3 569.8L2033.6 569.3L2035.9 568.9L2038.2 568.7L2040.6 568.5L2042.9 568.4L2045.2 568.1L2047.5 567.8L2049.9 567.6L2052.2 567.5L2054.6 567.5L2056.9 567.5L2059.3 567.4L2061.6 567.1L2064 567L2066.4 567L2068.7 567L2071.1 566.9L2073.5 566.7L2075.8 566.5L2078.2 566.4L2080.6 566.4L2083 566.4L2085.3 566.3L2087.7 566.2L2090.1 566L2092.5 566.1L2094.9 566.3L2097.3 566.4L2099.6 566.5L2102 566.4L2104.4 566.5L2106.8 566.6L2109.2 566.9L2111.6 567L2113.9 567L2116.3 566.9L2118.7 566.9L2121.1 567.1L2123.5 567.2L2125.9 567.3L2128.2 567.3L2130.6 567.2L2133 567.3L2135.4 567.6L2137.7 567.9L2140.1 568.1L2142.5 568.2L2144.8 568.3L2147.2 568.6L2149.5 569.1L2151.9 569.4L2154.2 569.6L2156.6 569.7L2158.9 569.9L2161.3 570.2L2163.6 570.5L2165.9 570.8L2168.3 570.9L2170.6 571L2172.9 571.2L2175.2 571.6L2177.5 572.1L2179.8 572.6L2182.1 572.9L2184.4 573.3L2186.7 573.8L2188.9 574.5L2191.1 575.1L2193.4 575.6L2195.6 576L2197.9 576.5L2200 577.2L2202.2 578L2204.4 578.8L2206.6 579.3L2206.6 579.3L2204.3 579.5L2202 579.4L2199.8 579.3L2197.5 579.3L2195.2 579.3L2192.9 579.3L2190.6 579.1L2188.4 578.9L2186.1 578.6L2183.8 578.5L2181.5 578.5L2179.2 578.5L2176.9 578.5L2174.6 578.3L2172.3 578.2L2169.9 578.1L2167.6 578.1L2165.3 578.2L2163 578L2160.7 577.8L2158.3 577.6L2156 577.6L2153.7 577.6L2151.3 577.5L2149 577.3L2146.7 577L2144.4 576.8L2142 576.7L2139.7 576.8L2137.3 576.7L2135 576.5L2132.6 576.3L2130.3 576.3L2127.9 576.4L2125.6 576.6L2123.2 576.6L2120.9 576.5L2118.5 576.4L2116.1 576.5L2113.8 576.6L2111.4 576.7L2109.1 576.7L2106.7 576.5L2104.4 576.4L2102 576.4L2099.7 576.5L2097.3 576.6L2095 576.5L2092.6 576.4L2090.2 576.4L2087.9 576.6L2085.6 576.8L2083.2 577L2080.9 577L2078.5 577.1L2076.2 577.3L2073.9 577.6L2071.5 577.9L2069.2 578L2066.9 577.9L2064.5 577.9L2062.2 578L2059.9 578.2L2057.6 578.3L2055.3 578.3L2052.9 578.3L2050.6 578.3L2048.3 578.5L2046 578.8L2043.7 579L2041.4 579.1L2039.1 579.2L2036.9 579.4L2034.6 579.8L2032.4 580.2L2030.1 580.5L2027.8 580.6L2025.6 580.7L2023.3 581L2021.1 581.3L2018.8 581.6L2016.6 581.8L2014.4 581.8L2012.1 581.9L2009.9 582.2L2007.7 582.6L2005.5 582.9L2003.3 583.1L2001.1 583.3L1998.9 583.6L1996.8 584L1994.7 584.6L1992.5 585L1990.4 585.3L1988.2 585.5L1986.1 585.9L1984 586.4L1981.9 586.9L1979.8 587.2L1977.7 587.4L1975.5 587.6L1973.5 588L1971.4 588.4L1969.4 588.9L1967.3 589.2L1965.2 589.5L1963.2 589.8L1961.2 590.3L1959.2 590.9L1957.2 591.5L1955.2 592L1953.3 592.3L1951.3 592.8L1949.4 593.4L1947.5 594.1L1945.6 594.6L1943.6 595L1941.7 595.3L1939.7 595.7L1937.9 596.3L1936 596.9L1934.1 597.3L1932.2 597.7L1930.3 598.1L1928.5 598.6L1926.7 599.3L1925 599.9L1923.2 600.5L1921.4 601L1919.6 601.5L1917.9 602.2L1916.3 603L1914.6 603.7L1912.9 604.2L1911.1 604.7L1909.4 605.2L1907.8 605.9L1906.1 606.6L1904.5 607.2L1902.8 607.6L1901.1 608.1L1899.5 608.6L1898 609.4L1896.4 610.1L1894.9 610.7L1893.3 611.3L1891.7 611.9L1890.3 612.6L1888.9 613.5L1887.5 614.3L1886 615L1884.5 615.6L1883.1 616.2L1881.7 617L1880.4 617.8L1879 618.5L1877.6 619.1L1876.1 619.6L1874.7 620.2L1873.4 620.9L1872.2 621.7L1870.9 622.5L1869.6 623.1L1868.2 623.7L1867 624.4L1865.9 625.3L1864.8 626.2L1863.6 627L1862.4 627.7L1861.3 628.4L1860.2 629.3L1859.2 630.2L1858.2 631L1857 631.7L1855.9 632.3L1854.8 633L1853.7 633.8L1852.8 634.6L1851.8 635.4L1850.7 636.1L1849.7 636.7L1848.7 637.5L1847.9 638.4L1847.1 639.3L1846.3 640.1L1845.4 640.9L1844.5 641.7L1843.7 642.5L1843.1 643.4L1842.4 644.4L1841.7 645.2L1840.8 645.9L1840 646.6L1839.3 647.4L1838.7 648.3L1838 649.1L1837.3 649.9L1836.5 650.5L1835.7 651.3L1835.2 652.1L1834.7 653L1834.2 653.9L1833.6 654.7L1833 655.5L1832.6 656.3L1832.2 657.2L1831.9 658.2L1831.6 659L1831.1 659.8L1830.6 660.6L1830.2 661.4L1829.9 662.3L1829.6 663.1L1829.2 663.9L1828.7 664.7L1828.2 665.4L1827.9 666.3L1827.8 667.1L1827.6 668L1827.3 668.8L1827 669.6L1826.8 670.4L1826.7 671.2L1826.8 672.1L1826.8 673L1826.6 673.8L1826.4 674.6L1826.4 675.4L1826.4 676.2L1826.5 677.1L1826.5 677.9L1826.3 678.7L1826.2 679.5L1826.2 680.4L1826.3 681.2L1826.5 682L1826.5 682.9L1826.5 683.7L1826.5 684.5L1826.8 685.4L1827.1 686.1L1827.5 686.9L1827.7 687.8L1827.8 688.6L1828.1 689.4L1828.5 690.2L1829 691L1829.3 691.7L1829.6 692.6L1829.7 693.5L1830 694.3L1830.5 695.1L1830.9 695.9L1831.3 696.7L1831.6 697.6L1831.9 698.5L1832.3 699.4L1832.9 700.1L1833.6 700.9L1834.1 701.7L1834.6 702.5L1835.1 703.3L1835.8 704.1L1836.6 704.8L1837.3 705.5L1837.9 706.3L1838.4 707.2L1839.1 708.1L1839.8 708.8L1840.6 709.6L1841.3 710.4L1841.9 711.3L1842.5 712.2L1843.2 713.1L1844.1 713.8L1845 714.6L1845.8 715.4L1846.6 716.2L1847.5 717.1L1848.4 717.8L1849.5 718.4L1850.5 719.1L1851.5 719.8L1852.4 720.7L1853.3 721.5L1854.3 722.2L1855.4 722.9L1856.5 723.6L1857.5 724.5L1858.4 725.4L1859.4 726.3L1860.6 727L1861.7 727.7L1862.9 728.5L1863.9 729.3L1865 730.2L1866.2 730.9L1867.5 731.5L1868.9 732.1L1870.1 732.8L1871.4 733.6L1872.6 734.4L1873.9 735L1875.3 735.6L1876.7 736.2L1878 737L1879.2 737.9L1880.5 738.7L1881.9 739.4L1883.4 740.1L1884.8 740.8L1886.2 741.6L1887.5 742.4L1889 743.2L1890.5 743.8L1892.1 744.3L1893.6 744.9L1895.1 745.6L1896.6 746.3L1898.2 746.9L1899.8 747.4L1901.5 747.9L1903.1 748.5L1904.7 749.3L1906.2 750.1L1907.9 750.7L1909.6 751.3L1911.2 751.8L1912.9 752.6L1914.5 753.4L1916.2 754.1L1917.9 754.7L1919.7 755.1L1921.5 755.7L1923.2 756.3L1925 757L1926.8 757.5L1928.6 757.9L1930.5 758.3L1932.3 758.8L1934.2 759.4L1936 760L1937.8 760.6L1939.7 761L1941.7 761.5L1943.5 762.1L1945.4 762.8L1947.3 763.5L1949.2 764L1951.2 764.4L1953.1 764.8L1955.1 765.4L1957 766L1959 766.5L1961 766.8L1963.1 767.1L1965.1 767.4L1967.2 767.9L1969.2 768.4L1971.2 768.9L1973.3 769.2L1975.4 769.5L1977.5 769.9L1979.5 770.5L1981.6 771L1983.7 771.5L1985.8 771.8L1987.9 772.2L1990 772.7L1992.1 773.2L1994.3 773.7L1996.4 774.1L1998.6 774.3L2000.8 774.5L2003 774.9L2005.1 775.3L2007.3 775.7L2009.5 775.9L2011.7 776.1L2014 776.3L2016.2 776.8L2018.4 777.2L2020.6 777.6L2022.8 777.9L2025.1 778.1L2027.3 778.5L2029.5 779L2031.8 779.4L2034 779.7L2036.3 779.8L2038.6 780L2040.9 780.2L2043.1 780.5L2045.4 780.8L2047.7 780.9L2050 780.9L2052.4 781L2054.7 781.2L2056.9 781.6L2059.3 781.9L2061.6 782L2063.9 782.1L2066.2 782.3L2068.5 782.6L2070.8 783L2073.2 783.2L2075.5 783.3L2077.8 783.3L2080.2 783.4L2082.5 783.6L2084.9 783.8L2087.2 783.9L2089.6 783.7L2091.9 783.7L2094.3 783.7L2096.6 783.9L2098.9 784L2101.3 784L2103.6 783.9L2106 783.9L2108.3 784.1L2110.7 784.3L2113 784.5L2115.4 784.4L2117.7 784.4L2120.1 784.3L2122.4 784.4L2124.8 784.5L2127.1 784.5L2129.5 784.3L2131.8 784.1L2134.2 783.9L2136.5 783.9L2138.8 783.9L2141.2 783.8L2143.5 783.5L2145.8 783.3L2148.2 783.3L2150.5 783.4L2152.8 783.4L2155.1 783.3L2157.5 783.1L2159.8 782.9L2162.1 782.9L2164.4 782.9L2166.7 782.9L2169 782.6L2171.3 782.2L2173.6 782L2175.8 781.8L2178.1 781.7L2180.4 781.4L2182.7 781.1L2184.9 780.7L2187.2 780.4L2189.4 780.3L2191.7 780.2L2193.9 780L2196.1 779.6L2198.4 779.4L2200.6 779.2L2202.8 779.1L2205.1 779L2207.3 778.7L2209.5 778.2L2211.6 777.9L2213.8 777.6L2216 777.4L2218.2 777L2220.3 776.5L2222.4 776L2224.6 775.6L2226.7 775.3L2228.8 775L2231 774.7L2233 774.2L2235.1 773.7L2237.2 773.4L2239.4 773.2L2241.5 773L2243.5 772.6L2245.6 772.1L2247.6 771.6L2249.6 771.3L2251.7 771L2253.7 770.6L2255.7 770L2257.6 769.4L2259.6 768.8L2261.6 768.3L2263.6 767.9L2265.5 767.5L2267.4 766.9L2269.3 766.3L2271.2 765.8L2273.2 765.5L2275.1 765.2L2277 764.7L2278.9 764.2L2280.7 763.6L2282.6 763.2L2284.5 762.8L2286.4 762.4L2288.2 761.8L2289.9 761.1L2291.7 760.5L2293.4 759.9L2295.2 759.4L2297 758.9L2298.7 758.2L2300.3 757.5L2302 756.8L2303.7 756.3L2305.5 755.9L2307.2 755.4L2308.8 754.8L2310.4 754.1L2312.1 753.6L2313.8 753.1L2315.4 752.7L2317 752.1L2318.6 751.3L2320.1 750.6L2321.6 749.9L2323.2 749.4L2324.7 748.8L2326.1 748L2327.5 747.2L2328.9 746.4L2330.4 745.7L2331.9 745.2L2333.3 744.6L2334.7 743.9L2336.1 743.1L2337.4 742.4L2338.9 741.9L2340.3 741.4L2341.7 740.8L2342.9 740L2344.2 739.2L2345.4 738.5L2346.7 737.8L2348 737.2L2349.2 736.4L2350.3 735.5L2351.4 734.6L2352.6 733.9L2353.8 733.2L2354.9 732.5L2356 731.8L2357.1 730.9L2358.1 730.1L2359.2 729.5L2360.4 728.9L2361.5 728.2L2362.6 727.5L2363.5 726.6L2364.5 725.9L2365.5 725.2L2366.6 724.5L2367.5 723.8L2368.3 722.9L2369.1 722L2369.9 721.1L2370.8 720.4L2371.7 719.7L2372.5 718.9L2373.2 718L2373.9 717.1L2374.7 716.3L2375.6 715.7L2376.5 715L2377.2 714.2L2377.9 713.4L2378.5 712.6L2379.3 711.8L2380.1 711.1L2380.8 710.4L2381.3 709.5L2381.8 708.6L2382.3 707.8L2382.9 707L2383.5 706.2L2384 705.3L2384.5 704.5L2384.9 703.7L2385.5 702.9L2386.3 702.2L2387 701.6L2387.6 700.8L2388.1 700L2388.6 699.2L2389.3 698.4L2390 697.7L2390.6 696.9L2391.1 696.1L2391.4 695.2L2391.8 694.4L2392.3 693.5ZM2178 576.6L2179.1 575.8L2180.2 575L2181.2 574.5L2182.3 574.3L2183.3 574.4L2184.3 574.9L2185.2 575.6L2186.1 576.6L2187 577.6L2186.9 577.8L2185.8 578.7L2184.7 579.4L2183.7 579.9L2182.6 580.1L2181.6 580L2180.7 579.5L2179.8 578.8L2178.8 577.9L2177.9 576.8ZM2188.5 576L2190.2 575.2L2191.9 574.6L2193.6 574.2L2195.2 574L2196.8 574.3L2198.4 574.8L2199.9 575.7L2201.3 576.7L2202.8 577.9L2202.7 578.1L2201 578.8L2199.3 579.5L2197.7 579.9L2196 580L2194.5 579.8L2192.9 579.2L2191.4 578.4L2189.9 577.4L2188.4 576.2ZM2206.6 577.2L2207.3 576.7L2208.1 576.2L2208.8 575.8L2209.6 575.7L2210.2 575.8L2210.9 576.1L2211.5 576.7L2212 577.4L2212.6 578.2L2212.6 578.4L2211.8 578.9L2211 579.4L2210.3 579.7L2209.6 579.9L2208.9 579.8L2208.3 579.4L2207.7 578.9L2207.1 578.2L2206.5 577.4ZM2213.2 581.9L2215 581.3L2216.8 580.7L2218.5 580.4L2220.2 580.4L2221.8 580.7L2223.4 581.3L2224.9 582.1L2226.3 583.2L2227.8 584.4L2227.7 584.6L2226 585.2L2224.2 585.7L2222.5 586L2220.9 586L2219.3 585.7L2217.7 585.1L2216.2 584.3L2214.7 583.2L2213.2 582.1ZM2231.9 583.4L2233.3 583.1L2234.6 582.8L2235.9 582.6L2237.2 582.6L2238.4 582.9L2239.6 583.4L2240.7 584L2241.8 584.8L2242.9 585.7L2242.9 585.9L2241.5 586.2L2240.2 586.5L2238.9 586.7L2237.7 586.6L2236.4 586.4L2235.3 585.9L2234.1 585.3L2233 584.5L2231.9 583.6ZM2244.9 586.5L2246 586.2L2247 585.9L2248 585.8L2248.9 585.8L2249.8 586L2250.7 586.4L2251.5 587L2252.3 587.6L2253.1 588.3L2253.1 588.5L2252 588.8L2251 589.1L2250.1 589.2L2249.1 589.2L2248.2 589L2247.3 588.6L2246.5 588L2245.7 587.4L2244.9 586.7ZM2257.1 590.3L2258.2 590.3L2259.3 590.2L2260.3 590.3L2261.3 590.5L2262.4 590.7L2263.3 591.1L2264.3 591.5L2265.2 592.1L2266.1 592.6L2266.1 592.8L2265 592.8L2263.9 592.8L2262.9 592.8L2261.9 592.6L2260.9 592.4L2259.9 592L2258.9 591.6L2258 591L2257 590.5ZM2267.2 592.7L2268.6 592.8L2270 592.9L2271.3 593.1L2272.6 593.3L2273.9 593.7L2275.2 594.1L2276.4 594.7L2277.6 595.3L2278.8 596L2278.7 596.1L2277.4 596.1L2276 595.9L2274.7 595.7L2273.4 595.5L2272.1 595.1L2270.9 594.7L2269.6 594.1L2268.4 593.5L2267.2 592.9ZM2283.3 595.9L2284.4 596.1L2285.5 596.3L2286.6 596.5L2287.7 596.8L2288.8 597.1L2289.9 597.5L2290.9 598L2291.9 598.5L2293 599L2292.9 599.2L2291.8 599L2290.7 598.7L2289.6 598.5L2288.5 598.2L2287.4 597.8L2286.4 597.4L2285.3 597L2284.3 596.5L2283.2 596.1ZM2294.2 599.8L2295.4 600.1L2296.6 600.4L2297.7 600.7L2298.9 601L2300 601.4L2301.1 601.9L2302.2 602.4L2303.3 602.9L2304.4 603.4L2304.3 603.6L2303.1 603.3L2302 603L2300.8 602.7L2299.7 602.4L2298.6 602L2297.5 601.5L2296.3 601L2295.2 600.5L2294.1 600Z" fill="#faecbc"/><path d="M2060.5 575.5L2062 575.2L2063.6 575L2065.1 574.8L2066.6 574.6L2068.1 574.5L2069.6 574.4L2071.2 574.4L2072.7 574.4L2074.2 574.5L2075.8 574.6L2077.3 574.7L2077.3 574.7L2075.8 575L2074.2 575.2L2072.7 575.4L2071.2 575.6L2069.7 575.7L2068.2 575.7L2066.6 575.8L2065.1 575.7L2063.6 575.7L2062.1 575.6L2060.5 575.5ZM2030.9 577.7L2034.1 577.2L2037.4 576.8L2040.6 576.5L2043.9 576.1L2047.2 575.8L2050.5 575.6L2053.8 575.4L2057.1 575.3L2060.4 575.2L2063.8 575.1L2067.1 575L2067.1 575L2063.8 575.3L2060.5 575.6L2057.1 575.9L2053.8 576.2L2050.5 576.4L2047.3 576.7L2044 576.9L2040.7 577.1L2037.4 577.3L2034.2 577.5L2030.9 577.7ZM2052.8 576.1L2056.4 575.8L2059.9 575.5L2063.5 575.2L2067.1 575L2070.7 574.8L2074.3 574.6L2077.9 574.5L2081.5 574.5L2085.1 574.5L2088.7 574.5L2092.3 574.5L2092.3 574.5L2088.7 574.7L2085.1 574.9L2081.5 575L2077.9 575.2L2074.3 575.3L2070.7 575.5L2067.1 575.6L2063.5 575.7L2060 575.8L2056.4 576L2052.8 576.1ZM1920.2 599.5L1922 598.7L1923.9 598L1925.8 597.2L1927.8 596.5L1929.7 595.9L1931.7 595.3L1933.7 594.8L1935.7 594.3L1937.8 593.8L1939.9 593.4L1942 593L1942 593L1940 593.7L1938 594.4L1936 595.1L1934 595.8L1932 596.4L1930 597L1928.1 597.5L1926.1 598.1L1924.1 598.5L1922.1 599L1920.2 599.5ZM1858.3 628.9L1860.1 627.4L1862 626L1864 624.6L1866 623.2L1868.1 621.9L1870.2 620.6L1872.5 619.4L1874.8 618.2L1877.1 617.1L1879.6 616.1L1882 615L1882 615L1879.7 616.4L1877.4 617.7L1875.2 619.1L1873 620.4L1870.8 621.7L1868.7 622.9L1866.6 624.1L1864.5 625.4L1862.4 626.5L1860.3 627.7L1858.3 628.9ZM1981.3 585.2L1984.8 584.4L1988.3 583.7L1991.9 583L1995.5 582.4L1999.1 581.8L2002.7 581.3L2006.4 580.8L2010.1 580.4L2013.8 580L2017.5 579.6L2021.3 579.3L2021.3 579.3L2017.6 579.8L2013.8 580.4L2010.2 580.9L2006.5 581.5L2002.8 582.1L1999.2 582.6L1995.6 583.1L1992 583.6L1988.4 584.1L1984.8 584.6L1981.3 585.2ZM2093.8 574.3L2095.2 574.1L2096.6 573.9L2098 573.8L2099.4 573.6L2100.8 573.6L2102.2 573.6L2103.6 573.6L2105 573.8L2106.4 573.9L2107.8 574.1L2109.2 574.3L2109.2 574.3L2107.8 574.5L2106.4 574.7L2105 574.8L2103.6 574.9L2102.2 575L2100.8 575L2099.4 574.9L2098 574.8L2096.6 574.7L2095.2 574.5L2093.8 574.3ZM2089.3 575.2L2093.1 575L2096.9 574.8L2100.8 574.7L2104.6 574.7L2108.4 574.7L2112.3 574.7L2116.1 574.8L2119.9 575L2123.7 575.2L2127.6 575.4L2131.4 575.7L2131.4 575.7L2127.6 575.7L2123.7 575.7L2119.9 575.7L2116.1 575.6L2112.2 575.6L2108.4 575.6L2104.6 575.5L2100.8 575.4L2096.9 575.3L2093.1 575.2L2089.3 575.2ZM1898.4 608L1900.5 606.9L1902.7 605.9L1905 604.8L1907.2 603.9L1909.5 603L1911.9 602.1L1914.3 601.3L1916.8 600.6L1919.3 599.9L1921.8 599.3L1924.3 598.6L1924.3 598.6L1921.9 599.6L1919.5 600.6L1917.1 601.5L1914.7 602.4L1912.3 603.3L1910 604.2L1907.6 605L1905.3 605.8L1903 606.5L1900.7 607.2L1898.4 608ZM1831.1 697.6L1830.6 696.9L1830.1 696.1L1829.7 695.4L1829.3 694.6L1829 693.8L1828.7 693L1828.5 692.1L1828.3 691.3L1828.2 690.5L1828.2 690.5L1828.6 691.2L1829 692L1829.3 692.7L1829.7 693.5L1830 694.3L1830.3 695.1L1830.6 695.9L1830.8 696.8L1831.1 697.6ZM2172.4 793.9L2170.1 794.2L2167.9 794.5L2165.6 794.7L2163.3 795L2161 795.1L2158.7 795.2L2156.4 795.2L2154.1 795.2L2151.8 795.2L2151.8 795.2L2154.1 794.9L2156.4 794.7L2158.6 794.4L2160.9 794.2L2163.2 794.1L2165.5 794L2167.8 793.9L2170.1 793.9L2172.4 793.9ZM1903.3 749.9L1902.3 749.7L1901.4 749.4L1900.5 749.2L1899.7 748.9L1898.8 748.5L1898 748.1L1897.2 747.6L1896.4 747.1L1895.6 746.6L1895.6 746.6L1896.5 746.8L1897.4 747.1L1898.3 747.4L1899.2 747.7L1900 748L1900.8 748.5L1901.7 748.9L1902.5 749.4L1903.3 749.9ZM1942.9 762.7L1940.7 762.2L1938.5 761.6L1936.3 761.1L1934.1 760.4L1932 759.8L1929.9 759.1L1927.8 758.3L1925.8 757.6L1923.8 756.8L1923.8 756.8L1925.9 757.3L1928 757.9L1930.1 758.5L1932.2 759.2L1934.3 759.8L1936.5 760.5L1938.6 761.2L1940.8 762L1942.9 762.7ZM1829.2 694.5L1828.8 693.7L1828.3 693L1827.9 692.2L1827.5 691.4L1827.3 690.6L1827.1 689.7L1827 688.9L1826.9 688L1826.9 687.2L1826.9 687.2L1827.3 687.9L1827.6 688.7L1828 689.5L1828.3 690.3L1828.5 691.1L1828.7 691.9L1828.9 692.7L1829.1 693.6L1829.2 694.5ZM2048.2 781.7L2046.2 781.7L2044.3 781.6L2042.4 781.5L2040.5 781.4L2038.6 781.2L2036.8 780.9L2034.9 780.6L2033 780.3L2031.2 780L2031.2 780L2033 780L2034.9 780.1L2036.8 780.3L2038.7 780.4L2040.6 780.6L2042.5 780.8L2044.4 781.1L2046.3 781.4L2048.2 781.7Z" fill="#fff"/><path d="M2296.1 600.2L2300 601.6M2308.4 604.9L2317.4 608.5M2326.3 610.9L2331.2 613.2M2342.4 619.7L2345.4 621.4M2350.3 622.6L2354.1 624.9M2359.4 630.2L2363.8 633.4M2370.9 638.2L2372.7 639.7M2374.8 643.4L2378.8 647.8M2381 653.4L2384.4 658.3" fill="none" stroke="#faecbc" stroke-width="1.3" stroke-linecap="round"/><path d="M1902.3 651.5C1900.7 650.7 1895.7 647.4 1893 646.9C1890.2 646.5 1887.7 646.9 1885.6 648.8C1883.4 650.7 1881.4 653.5 1880 658.1C1878.5 662.8 1878.1 669.7 1877.2 676.7C1876.2 683.7 1874.4 694.3 1874.4 700C1874.4 705.8 1875.5 709.5 1877.2 711.2C1878.9 712.9 1881.1 712.5 1884.6 710.2C1888 707.9 1893.5 702.8 1897.7 697.2C1901.9 691.6 1907.7 680.1 1909.8 676.7M1929.3 668.3C1928.6 671.3 1926.2 679.9 1925.6 686C1924.9 692.1 1924.2 700.4 1925.6 704.7C1927 709 1930.8 711.6 1934 711.6C1937.1 711.6 1941.6 708 1944.3 704.7C1946.9 701.4 1949 695.6 1949.8 691.6C1950.5 687.6 1950.1 683.4 1948.9 680.4C1947.6 677.5 1944.4 675.1 1942.4 673.9C1940.3 672.7 1937.7 673.2 1936.8 673M1965.9 666.8L1969.2 711.3M1969.2 711.3L1986.8 664.8M1986.8 664.8L1993.4 709.8M1993.4 709.8L2006.7 664.8M2006.7 664.8L2018.4 711.8M2035.9 666.8L2039.2 711.3M2039.2 711.3L2056.8 664.8M2056.8 664.8L2063.4 709.8M2063.4 709.8L2076.7 664.8M2076.7 664.8L2088.4 711.8M2097.4 690.4C2098.6 689.9 2100.6 689.6 2104.4 687.4C2108.3 685.2 2117.5 679.7 2120.7 677.3C2123.9 675 2124.3 675 2123.7 673.3C2123 671.6 2118.7 667.2 2116.6 667.2C2114.4 667.2 2112.6 669.2 2110.6 673.3C2108.5 677.4 2105.8 685.8 2104.4 691.5C2103.1 697.2 2101.9 704.2 2102.4 707.6C2103 711 2104.5 712.6 2107.6 711.6C2110.6 710.6 2115.5 706.2 2120.7 701.5C2125.9 696.8 2135.7 686.4 2138.8 683.4M2153.9 662.2C2153.9 666.3 2153.8 678.6 2153.8 686.8C2153.7 695 2153.5 707.5 2153.4 711.6M2153.4 711.6C2154.9 707.5 2159.4 694.9 2162.4 686.8C2165.3 678.7 2169.6 667.1 2171.1 663.2M2171.1 663.2C2172.2 664.6 2176.1 665.8 2178.2 671.3C2180.2 676.9 2181.7 689.8 2183.2 696.5C2184.8 703.2 2186.6 709.1 2187.2 711.6M2210.4 631.9C2210.6 636.8 2210.9 651.3 2211.4 661.2C2211.9 671.1 2212.7 683.1 2213.4 691.5C2214.2 699.9 2215.6 708.2 2216.1 711.6M2200.4 679.3C2203.1 678.1 2210 675 2216.6 672.3C2223.1 669.6 2235.9 664.7 2239.8 663.2M2299.7 677.3C2301.7 675.6 2307.7 669.7 2311.8 667.2C2315.8 664.7 2321.6 661.9 2323.9 662.2C2326.3 662.5 2326.3 665.5 2325.9 669.2C2325.6 672.9 2324.2 679 2321.8 684.4C2319.5 689.8 2314.1 697 2311.8 701.5C2309.4 706 2308.4 709.9 2307.8 711.6M2307.8 711.6C2310.1 710.6 2316.1 708 2321.8 705.6C2327.6 703.2 2338.7 698.9 2342.1 697.5" fill="none" stroke="#faecbc" stroke-width="9.2" stroke-linecap="round" stroke-linejoin="round"/><path d="M445.8 690L445.7 685.2L445.7 680.4L445.8 675.6L446 670.8L446.3 666L446.6 661.2L447.1 656.3L447.6 651.5L448.1 646.7L448.8 641.9L449.5 637L450.3 632.2L451.1 627.4L452 622.6L453 617.8L454.1 613L455.2 608.2L456.4 603.4L457.7 598.7L459 594L460.4 589.3L461.8 584.6L463.3 579.9L464.9 575.2L466.5 570.6L468.1 566L469.9 561.5L471.6 556.9L473.5 552.4L475.4 547.9L477.3 543.5L479.3 539.1L481.4 534.7L483.5 530.4L485.6 526.1L487.8 521.8L490.1 517.6L492.4 513.4L494.8 509.3L497.2 505.1L499.7 501L502.2 497L504.8 493L507.5 489L510.2 485.1L512.9 481.2L515.8 477.3L518.6 473.5L521.6 469.7L524.6 465.9L527.6 462.2L530.7 458.5L533.9 454.9L537.1 451.3L540.4 447.7L543.8 444.2L547.2 440.7L550.7 437.3L554.2 433.9L557.8 430.5L561.4 427.2L565.1 423.9L568.9 420.7L572.7 417.5L576.6 414.4L580.5 411.3L584.5 408.2L588.5 405.3L592.5 402.3L596.6 399.4L600.7 396.6L604.8 393.9L609 391.2L613.2 388.5L617.4 385.9L621.7 383.4L625.9 381L630.2 378.6L634.5 376.3L638.8 374.1L643.1 371.9L647.4 369.8L651.7 367.8L656 365.9L660.3 364.1L664.6 362.3L668.9 360.6L673.2 359L677.5 357.5" fill="none" stroke="#4e4e4e" stroke-width="11.8" stroke-linecap="butt" stroke-linejoin="round"/><path d="M628.8 332.5L677.5 357.5L652.5 405" fill="none" stroke="#4e4e4e" stroke-width="11.8" stroke-linecap="round" stroke-linejoin="round"/><path d="M686.2 723.8L690.5 721.4L694.7 719.2L699 716.9L703.2 714.6L707.5 712.4L711.7 710.1L716 707.9L720.2 705.7L724.5 703.5L728.8 701.4L733.1 699.2L737.4 697.1L741.7 695L746 693L750.3 690.9L754.7 688.9L759 686.9L763.4 685L767.7 683.1L772.1 681.2L776.5 679.3L780.9 677.5L785.4 675.7L789.8 674L794.3 672.3L798.8 670.6L803.3 669L807.8 667.4L812.3 665.9L816.9 664.4L821.4 663L826 661.6L830.6 660.2L835.2 658.9L839.9 657.7L844.5 656.5L849.2 655.3L853.9 654.2L858.6 653.1L863.3 652.1L868 651.2L872.7 650.3L877.5 649.4L882.2 648.6L887 647.9L891.7 647.2L896.5 646.6L901.3 646L906.1 645.5L910.8 645L915.6 644.6L920.4 644.2L925.2 643.9L930 643.7L934.8 643.5L939.6 643.4L944.4 643.4L949.1 643.4L953.9 643.4L958.7 643.6L963.5 643.8L968.2 644L973 644.3L977.8 644.7L982.5 645.1L987.3 645.6L992 646.1L996.8 646.6L1001.5 647.2L1006.3 647.8L1011 648.5L1015.8 649.2L1020.5 649.9L1025.2 650.7L1029.9 651.4L1034.7 652.2L1039.4 653L1044.1 653.9L1048.8 654.7L1053.5 655.6L1058.3 656.5L1063 657.3L1067.7 658.2L1072.4 659.1L1077.1 660L1081.8 660.9L1086.5 661.8L1091.2 662.6L1095.9 663.5" fill="none" stroke="#4e4e4e" stroke-width="11.8" stroke-linecap="butt" stroke-linejoin="round"/><path d="M1069.7 616.6L1095.9 663.5L1048.3 690.4" fill="none" stroke="#4e4e4e" stroke-width="11.8" stroke-linecap="round" stroke-linejoin="round"/><path d="M577.2 988.4C653.3 1094.8 761.4 1103 878.1 1061" fill="none" stroke="#4e4e4e" stroke-width="11.8" stroke-linecap="butt" stroke-linejoin="round"/><path d="M827.3 1044.5L878.1 1061L861 1111.8" fill="none" stroke="#4e4e4e" stroke-width="11.8" stroke-linecap="round" stroke-linejoin="round"/><path d="M1147.9 281.4C1339.6 196.1 1530.5 177.2 1729.3 249.9" fill="none" stroke="#c9c9c9" stroke-width="11.8" stroke-linecap="round" stroke-linejoin="round"/><path d="M1162.9 228.9L1147.9 281.4L1200.3 296.4M1706.8 202L1729.3 249.9L1681.3 275.4" fill="none" stroke="#c9c9c9" stroke-width="11.8" stroke-linecap="round" stroke-linejoin="round"/><path d="M577.1 671.5L587.4 661.2L597.9 651.3L608.6 641.6L619.6 632.2L630.7 623.1L642.1 614.4L653.6 605.9L665.3 597.6L677.2 589.7L689.3 582L701.6 574.5L714 567.3L726.5 560.4L739.2 553.7L752.1 547.3L765 541L778.1 535.1L791.3 529.3L804.7 523.7L818.1 518.4L831.6 513.3L845.2 508.3L858.9 503.6L872.6 499L886.4 494.7L900.3 490.5L914.2 486.5L928.2 482.7L942.2 479L956.2 475.5L970.3 472.1L984.4 468.9L998.5 465.8L1012.6 462.9L1026.8 460.2L1041 457.6L1055.2 455.1L1069.4 452.8L1083.6 450.7L1097.9 448.6L1112.1 446.8L1126.4 445.1L1140.7 443.5L1155 442.1L1169.3 440.8L1183.7 439.7L1198 438.7L1212.4 437.8L1226.7 437.1L1241.1 436.5L1255.5 436.1L1269.8 435.8L1284.2 435.6L1298.6 435.6L1313 435.7L1327.4 436L1341.8 436.4L1356.2 436.9L1370.6 437.6L1384.9 438.4L1399.3 439.3L1413.7 440.4L1428.1 441.5L1442.4 442.9L1456.8 444.4L1471.1 446L1485.4 447.7L1499.7 449.6L1514 451.6L1528.3 453.8L1542.5 456.2L1556.7 458.6L1570.9 461.2L1585 464L1599.1 466.9L1613.2 470L1627.3 473.2L1641.3 476.6L1655.2 480.1L1669.1 483.8L1683 487.6L1696.9 491.6L1710.6 495.8L1724.4 500.1L1738.1 504.6L1751.7 509.2L1765.2 514L1778.8 519L1792.2 524.1" fill="none" stroke="#c9c9c9" stroke-width="11.8" stroke-linecap="round" stroke-linejoin="round"/><path d="M570.9 617.6L577.1 671.5L630.9 665.8M1771.2 471.7L1792.2 524.1L1738.3 543.6" fill="none" stroke="#c9c9c9" stroke-width="11.8" stroke-linecap="round" stroke-linejoin="round"/><path d="M1570 635L1572.5 633.8L1575.1 632.5L1577.6 631.4L1580.2 630.3L1582.7 629.2L1585.3 628.1L1587.8 627.1L1590.3 626.1L1592.9 625.2L1595.4 624.3L1598 623.4L1600.5 622.5L1603 621.7L1605.6 621L1608.1 620.2L1610.7 619.6L1613.2 618.9L1615.8 618.3L1618.3 617.7L1620.9 617.1L1623.5 616.6L1626.1 616.1L1628.6 615.6L1631.2 615.1L1633.8 614.7L1636.4 614.4L1639 614L1641.6 613.7L1644.2 613.4L1646.9 613.2L1649.5 612.9L1652.2 612.7L1654.8 612.5L1657.5 612.4L1660.1 612.3L1662.8 612.2L1665.5 612.1L1668.2 612.1L1671 612.1L1673.7 612.1L1676.4 612.1L1679.2 612.2L1681.9 612.3L1684.7 612.4L1687.5 612.5L1690.3 612.7L1693.2 612.9L1696 613.1L1698.8 613.3L1701.7 613.6L1704.5 613.9L1707.3 614.2L1710.2 614.6L1713 615L1715.9 615.4L1718.7 615.8L1721.5 616.3L1724.3 616.9L1727.1 617.4L1729.9 618.1L1732.6 618.7L1735.3 619.4L1738.1 620.1L1740.7 620.9L1743.4 621.7L1746 622.6L1748.6 623.5L1751.2 624.5L1753.7 625.5L1756.2 626.5L1758.7 627.6L1761.1 628.8L1763.5 630L1765.8 631.3L1768.1 632.6L1770.3 634L1772.5 635.4L1774.6 636.9L1776.6 638.5L1778.6 640.1L1780.6 641.8L1782.5 643.5L1784.3 645.3L1786.1 647.2L1787.7 649.1L1789.4 651.1L1790.9 653.2L1792.4 655.3L1793.8 657.5" fill="none" stroke="#c9c9c9" stroke-width="11.8" stroke-linecap="round" stroke-linejoin="round"/><path d="M1581.9 580.6L1570 635L1623.1 646.2M1793.1 602.5L1793.8 657.5L1740 658.8" fill="none" stroke="#c9c9c9" stroke-width="11.8" stroke-linecap="round" stroke-linejoin="round"/><path d="M2458.7 271.8L2462.1 272.8L2465.5 273.7L2468.9 274.7L2472.4 275.7L2475.8 276.7L2479.2 277.7L2482.7 278.7L2486.1 279.8L2489.5 280.8L2493 281.9L2496.4 283L2499.8 284.2L2503.3 285.3L2506.7 286.5L2510.1 287.7L2513.5 288.9L2516.9 290.2L2520.2 291.5L2523.6 292.8L2526.9 294.2L2530.2 295.6L2533.5 297.1L2536.8 298.5L2540.1 300.1L2543.3 301.6L2546.5 303.2L2549.7 304.9L2552.8 306.6L2556 308.4L2559.1 310.2L2562.1 312L2565.1 313.9L2568.1 315.9L2571.1 317.9L2574 319.9L2576.9 322L2579.8 324.2L2582.6 326.3L2585.4 328.6L2588.2 330.8L2590.9 333.2L2593.6 335.5L2596.3 337.9L2598.9 340.3L2601.5 342.8L2604.1 345.3L2606.7 347.8L2609.2 350.4L2611.7 353L2614.1 355.6L2616.6 358.3L2619 361L2621.3 363.7L2623.7 366.4L2626 369.2L2628.3 372L2630.5 374.8L2632.7 377.7L2634.9 380.5L2637.1 383.4L2639.2 386.3L2641.3 389.3L2643.3 392.2L2645.4 395.2L2647.4 398.2L2649.3 401.2L2651.3 404.2L2653.2 407.3L2655 410.3L2656.8 413.4L2658.6 416.6L2660.3 419.7L2662 422.8L2663.7 426L2665.3 429.2L2666.9 432.4L2668.4 435.7L2669.9 438.9L2671.3 442.2L2672.7 445.5L2674.1 448.8L2675.3 452.1L2676.6 455.5L2677.8 458.9L2678.9 462.2L2680 465.7L2681.1 469.1L2682.1 472.5L2683 476" fill="none" stroke="#c9c9c9" stroke-width="11.8" stroke-linecap="round" stroke-linejoin="round"/><path d="M2503.1 241.9L2458.7 271.8L2488.6 316.3M2636.5 450.6L2683 476L2709.9 428.4" fill="none" stroke="#c9c9c9" stroke-width="11.8" stroke-linecap="round" stroke-linejoin="round"/><path d="M2751.8 684.8C2758.7 805.2 2744.8 801.2 2751.8 921.8" fill="none" stroke="#c9c9c9" stroke-width="11.8" stroke-linecap="round" stroke-linejoin="round"/><path d="M2713.5 722.1L2751.8 684.8L2790 723.1M2713.5 884.5L2751.8 921.8L2791 885.6" fill="none" stroke="#c9c9c9" stroke-width="11.8" stroke-linecap="round" stroke-linejoin="round"/><path d="M1500.1 748.7C1512.6 835 1579.1 918.4 1627.7 990.3" fill="none" stroke="#c9c9c9" stroke-width="11.8" stroke-linecap="round" stroke-linejoin="round"/><path d="M1467.3 794.1L1500.1 748.7L1543.6 781.6M1618.1 936.2L1627.7 990.3L1574.6 1000" fill="none" stroke="#c9c9c9" stroke-width="11.8" stroke-linecap="round" stroke-linejoin="round"/><path d="M2189.3 1015C2225 969.9 2390 994 2414.3 1037.8" fill="none" stroke="#c9c9c9" stroke-width="11.8" stroke-linecap="round" stroke-linejoin="round"/><path d="M2201.8 960.7L2189.3 1015L2243.2 1025.9M2412.7 982.4L2414.3 1037.8L2360 1038.4" fill="none" stroke="#c9c9c9" stroke-width="11.8" stroke-linecap="round" stroke-linejoin="round"/><path d="M1145.8 1114.5C1150.2 1248.1 1141.3 1238.5 1145.8 1372.5" fill="none" stroke="#c9c9c9" stroke-width="11.8" stroke-linecap="round" stroke-linejoin="round"/><path d="M1107.2 1153L1145.8 1114.5L1184.9 1153M1107.2 1334.8L1145.8 1372.5L1184.9 1334.8" fill="none" stroke="#c9c9c9" stroke-width="11.8" stroke-linecap="round" stroke-linejoin="round"/><path d="M1391.9 787.4C1476.4 969.7 1463.7 1214.4 1343.9 1378.6" fill="none" stroke="#c9c9c9" stroke-width="11.8" stroke-linecap="round" stroke-linejoin="round"/><path d="M1379.3 842.5L1391.9 787.4L1446 803.8M1338.9 1324.9L1343.9 1378.6L1397.9 1373.7" fill="none" stroke="#c9c9c9" stroke-width="11.8" stroke-linecap="round" stroke-linejoin="round"/><path d="M2469 1386.8C2589.4 1400.9 2739.2 1345.8 2760.8 1210.9" fill="none" stroke="#c9c9c9" stroke-width="11.8" stroke-linecap="round" stroke-linejoin="round"/><path d="M2515.4 1356.8L2469 1386.8L2499.9 1431.2M2720.2 1246.7L2760.8 1210.9L2797.5 1251.5" fill="none" stroke="#c9c9c9" stroke-width="11.8" stroke-linecap="round" stroke-linejoin="round"/><path d="M1535.3 1579.6L1542.2 1583.1L1549.1 1586.5L1556 1589.7L1563 1592.9L1570.1 1595.9L1577.2 1598.9L1584.3 1601.7L1591.5 1604.4L1598.7 1607L1605.9 1609.5L1613.2 1611.8L1620.5 1614.1L1627.8 1616.3L1635.1 1618.3L1642.5 1620.3L1649.9 1622.2L1657.4 1623.9L1664.8 1625.6L1672.3 1627.2L1679.8 1628.6L1687.3 1630L1694.8 1631.3L1702.4 1632.5L1709.9 1633.6L1717.5 1634.6L1725.1 1635.5L1732.7 1636.3L1740.3 1637L1747.9 1637.7L1755.5 1638.2L1763.2 1638.7L1770.8 1639.1L1778.4 1639.4L1786 1639.6L1793.7 1639.8L1801.3 1639.8L1808.9 1639.7L1816.6 1639.6L1824.2 1639.4L1831.8 1639.1L1839.4 1638.6L1847 1638.1L1854.6 1637.5L1862.2 1636.9L1869.8 1636.1L1877.4 1635.2L1885 1634.2L1892.5 1633.1L1900.1 1632L1907.6 1630.7L1915.1 1629.3L1922.6 1627.9L1930.1 1626.3L1937.6 1624.6L1945 1622.9L1952.4 1621L1959.8 1619L1967.2 1617L1974.6 1614.8L1981.9 1612.5L1989.3 1610.1L1996.5 1607.6L2003.8 1605L2011 1602.3L2018.2 1599.5L2025.3 1596.5L2032.3 1593.5L2039.3 1590.3L2046.3 1587L2053.2 1583.6L2059.9 1580L2066.7 1576.4L2073.3 1572.6L2079.8 1568.6L2086.3 1564.6L2092.7 1560.4L2098.9 1556L2105.1 1551.5L2111.1 1546.9L2117 1542.2L2122.8 1537.3L2128.5 1532.2L2134.1 1527L2139.5 1521.7L2144.8 1516.2L2149.9 1510.5L2154.9 1504.7L2159.7 1498.7L2164.4 1492.6" fill="none" stroke="#c9c9c9" stroke-width="11.8" stroke-linecap="round" stroke-linejoin="round"/><path d="M1589.7 1564.6L1535.3 1579.6L1551.6 1631.2M2110.1 1500.8L2164.4 1492.6L2171.2 1547" fill="none" stroke="#c9c9c9" stroke-width="11.8" stroke-linecap="round" stroke-linejoin="round"/></svg></body></html>
